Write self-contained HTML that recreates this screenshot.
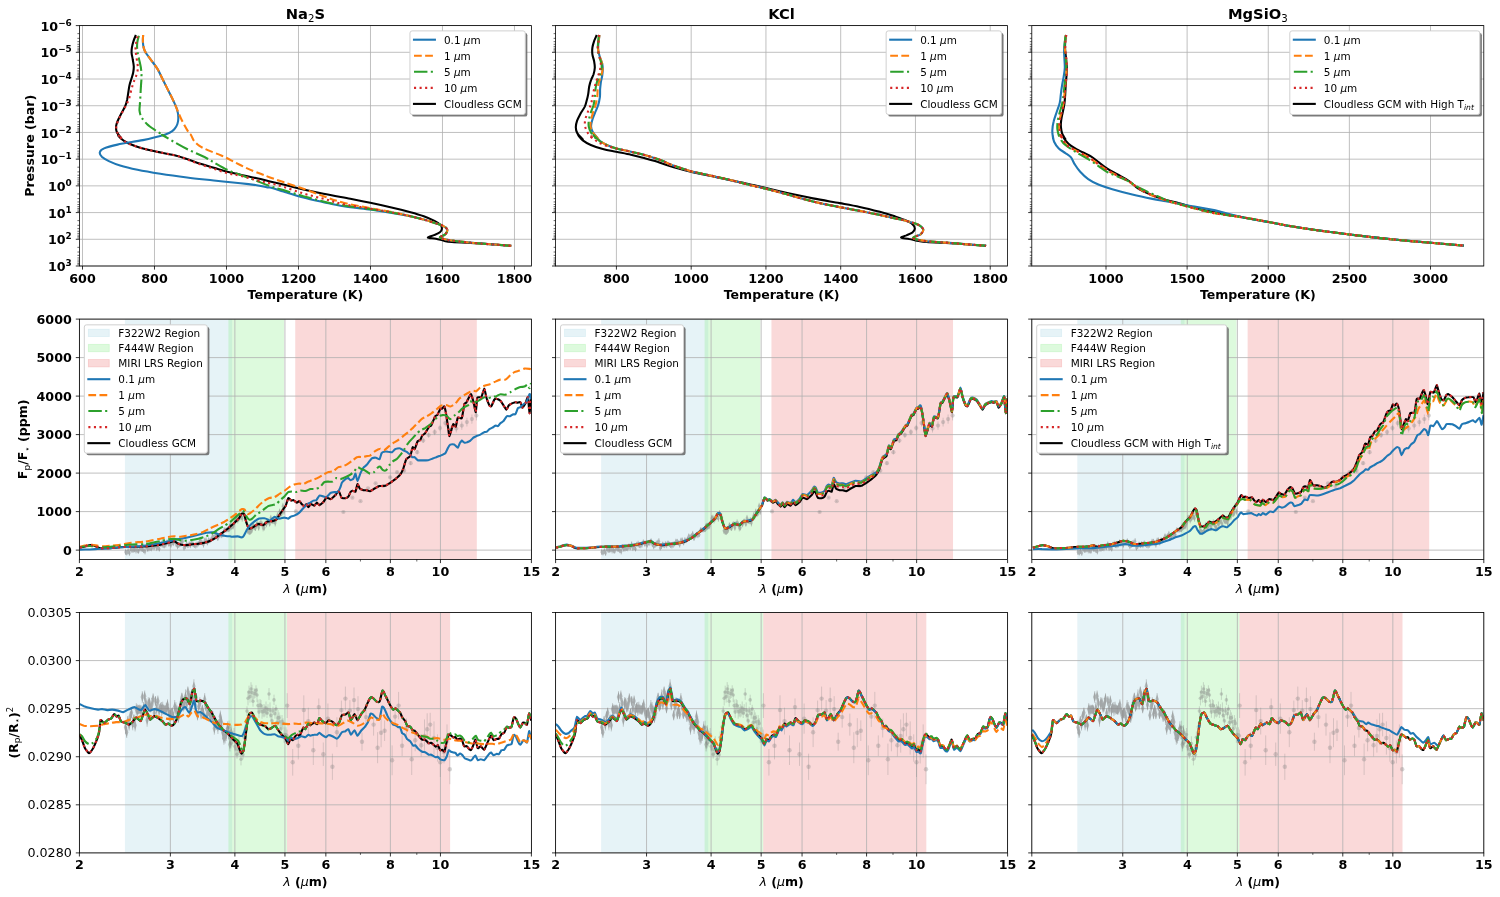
<!DOCTYPE html>
<html><head><meta charset="utf-8"><title>figure</title><style>html,body{margin:0;padding:0;background:#fff}svg text{white-space:pre}</style></head><body>
<svg width="1500" height="897" viewBox="0 0 1500 897" style="font-family:'DejaVu Sans','Liberation Sans',sans-serif;display:block">
<rect width="1500" height="897" fill="#fff"/>
<defs>
<clipPath id="clip00"><rect x="79.4" y="25.6" width="452" height="240.4"/></clipPath>
<clipPath id="clip01"><rect x="79.4" y="319.1" width="452" height="240.4"/></clipPath>
<clipPath id="clip02"><rect x="79.4" y="612.5" width="452" height="240.4"/></clipPath>
<clipPath id="clip10"><rect x="555.6" y="25.6" width="452" height="240.4"/></clipPath>
<clipPath id="clip11"><rect x="555.6" y="319.1" width="452" height="240.4"/></clipPath>
<clipPath id="clip12"><rect x="555.6" y="612.5" width="452" height="240.4"/></clipPath>
<clipPath id="clip20"><rect x="1031.8" y="25.6" width="452" height="240.4"/></clipPath>
<clipPath id="clip21"><rect x="1031.8" y="319.1" width="452" height="240.4"/></clipPath>
<clipPath id="clip22"><rect x="1031.8" y="612.5" width="452" height="240.4"/></clipPath>
<g id="dT" stroke="#7f7f7f" fill="#7f7f7f"><path d="M125.5 720.3V734.2M126.7 726.7V738M127.9 716V725.8M129.1 719V730.6M130.3 711.5V720.8M131.5 707.6V718.1M132.7 717.7V730.3M133.9 714.6V723.6M135.1 719V731.4M136.3 703.2V715.4M137.5 704.5V716.2M138.7 705.1V714.2M139.9 704.8V713.8M141.1 705.2V716.5M142.3 691.2V702.9M143.5 702V714.4M144.7 690.5V701.8M145.9 698V708.4M147.1 713.3V726.7M148.3 697.2V709.9M149.5 697.6V708M150.7 703.2V712.4M151.9 697.9V711.4M153.1 693.3V704.2M154.3 708.5V717.3M155.5 696.2V706.1M156.7 701.5V715.7M157.9 695.5V706.5M159.1 704V717.1M160.3 702.6V712.8M161.5 702V716.1M162.7 701.7V714.7M163.9 704.7V714.1M165.1 705.4V714.5M166.3 702.7V714.5M167.5 699.3V710.5M168.7 706.4V716M169.9 710.2V722.5M171.1 707.9V717.9M172.3 707.4V717.7M173.5 712.4V722.8M174.7 700V713.6M175.9 702.1V715.6M177.1 705.5V717.8M178.3 712.9V722.8M179.5 707.9V718.1M180.7 698.1V708.5M181.9 692.8V702M183.1 701.4V711.5M184.3 698V710.1M185.5 689.4V703.5M186.7 698.2V709.7M187.9 686.5V696.3M189.1 691.4V701.1M190.3 703.2V713.3M191.5 689.3V699.1M192.7 692.5V702.4M193.9 679.3V693.3M195.1 699.1V710.3M196.3 693V702.4M197.5 710.2V720.4M198.7 700V712.7M199.9 697.2V709.3M201.1 708.7V719.2M202.3 704.9V714.1M203.5 709.2V719.2M204.7 693.1V705.3M205.9 701.1V711.4M207.1 709.9V718.8M208.3 706.2V716.5M209.5 708V717.7M210.7 711.2V722M211.9 709.9V720.6M213.1 711.4V725.1M214.3 722.1V734.7M215.5 715.9V727.9M216.7 720.8V729.7M217.9 720.1V733.9M219.1 719.1V728M220.3 710.5V722.8M221.5 716.8V727.4M222.7 725.2V739.5M223.9 731.8V744.7M225.1 729.8V743.5M226.3 727.7V740.9M227.5 721.4V735.2M228.7 725.8V739.6M229.9 737.8V751.4M231.1 725.3V738.9" fill="none" stroke-width="0.9" opacity="0.45"/><path d="M125.5 722.2l1.7 5.0l-1.7 5.0l-1.7-5.0zM126.7 727.3l1.7 5.0l-1.7 5.0l-1.7-5.0zM127.9 715.9l1.7 5.0l-1.7 5.0l-1.7-5.0zM129.1 719.8l1.7 5.0l-1.7 5.0l-1.7-5.0zM130.3 711.1l1.7 5.0l-1.7 5.0l-1.7-5.0zM131.5 707.8l1.7 5.0l-1.7 5.0l-1.7-5.0zM132.7 719l1.7 5.0l-1.7 5.0l-1.7-5.0zM133.9 714.1l1.7 5.0l-1.7 5.0l-1.7-5.0zM135.1 720.2l1.7 5.0l-1.7 5.0l-1.7-5.0zM136.3 704.3l1.7 5.0l-1.7 5.0l-1.7-5.0zM137.5 705.3l1.7 5.0l-1.7 5.0l-1.7-5.0zM138.7 704.6l1.7 5.0l-1.7 5.0l-1.7-5.0zM139.9 704.3l1.7 5.0l-1.7 5.0l-1.7-5.0zM141.1 705.8l1.7 5.0l-1.7 5.0l-1.7-5.0zM142.3 692.1l1.7 5.0l-1.7 5.0l-1.7-5.0zM143.5 703.2l1.7 5.0l-1.7 5.0l-1.7-5.0zM144.7 691.2l1.7 5.0l-1.7 5.0l-1.7-5.0zM145.9 698.2l1.7 5.0l-1.7 5.0l-1.7-5.0zM147.1 715l1.7 5.0l-1.7 5.0l-1.7-5.0zM148.3 698.5l1.7 5.0l-1.7 5.0l-1.7-5.0zM149.5 697.8l1.7 5.0l-1.7 5.0l-1.7-5.0zM150.7 702.8l1.7 5.0l-1.7 5.0l-1.7-5.0zM151.9 699.7l1.7 5.0l-1.7 5.0l-1.7-5.0zM153.1 693.8l1.7 5.0l-1.7 5.0l-1.7-5.0zM154.3 707.9l1.7 5.0l-1.7 5.0l-1.7-5.0zM155.5 696.1l1.7 5.0l-1.7 5.0l-1.7-5.0zM156.7 703.6l1.7 5.0l-1.7 5.0l-1.7-5.0zM157.9 696l1.7 5.0l-1.7 5.0l-1.7-5.0zM159.1 705.6l1.7 5.0l-1.7 5.0l-1.7-5.0zM160.3 702.7l1.7 5.0l-1.7 5.0l-1.7-5.0zM161.5 704l1.7 5.0l-1.7 5.0l-1.7-5.0zM162.7 703.2l1.7 5.0l-1.7 5.0l-1.7-5.0zM163.9 704.4l1.7 5.0l-1.7 5.0l-1.7-5.0zM165.1 704.9l1.7 5.0l-1.7 5.0l-1.7-5.0zM166.3 703.6l1.7 5.0l-1.7 5.0l-1.7-5.0zM167.5 699.9l1.7 5.0l-1.7 5.0l-1.7-5.0zM168.7 706.2l1.7 5.0l-1.7 5.0l-1.7-5.0zM169.9 711.3l1.7 5.0l-1.7 5.0l-1.7-5.0zM171.1 707.9l1.7 5.0l-1.7 5.0l-1.7-5.0zM172.3 707.5l1.7 5.0l-1.7 5.0l-1.7-5.0zM173.5 712.6l1.7 5.0l-1.7 5.0l-1.7-5.0zM174.7 701.8l1.7 5.0l-1.7 5.0l-1.7-5.0zM175.9 703.9l1.7 5.0l-1.7 5.0l-1.7-5.0zM177.1 706.7l1.7 5.0l-1.7 5.0l-1.7-5.0zM178.3 712.8l1.7 5.0l-1.7 5.0l-1.7-5.0zM179.5 708l1.7 5.0l-1.7 5.0l-1.7-5.0zM180.7 698.3l1.7 5.0l-1.7 5.0l-1.7-5.0zM181.9 692.4l1.7 5.0l-1.7 5.0l-1.7-5.0zM183.1 701.5l1.7 5.0l-1.7 5.0l-1.7-5.0zM184.3 699.1l1.7 5.0l-1.7 5.0l-1.7-5.0zM185.5 691.5l1.7 5.0l-1.7 5.0l-1.7-5.0zM186.7 699l1.7 5.0l-1.7 5.0l-1.7-5.0zM187.9 686.4l1.7 5.0l-1.7 5.0l-1.7-5.0zM189.1 691.2l1.7 5.0l-1.7 5.0l-1.7-5.0zM190.3 703.3l1.7 5.0l-1.7 5.0l-1.7-5.0zM191.5 689.2l1.7 5.0l-1.7 5.0l-1.7-5.0zM192.7 692.5l1.7 5.0l-1.7 5.0l-1.7-5.0zM193.9 681.3l1.7 5.0l-1.7 5.0l-1.7-5.0zM195.1 699.7l1.7 5.0l-1.7 5.0l-1.7-5.0zM196.3 692.7l1.7 5.0l-1.7 5.0l-1.7-5.0zM197.5 710.3l1.7 5.0l-1.7 5.0l-1.7-5.0zM198.7 701.4l1.7 5.0l-1.7 5.0l-1.7-5.0zM199.9 698.3l1.7 5.0l-1.7 5.0l-1.7-5.0zM201.1 709l1.7 5.0l-1.7 5.0l-1.7-5.0zM202.3 704.5l1.7 5.0l-1.7 5.0l-1.7-5.0zM203.5 709.2l1.7 5.0l-1.7 5.0l-1.7-5.0zM204.7 694.2l1.7 5.0l-1.7 5.0l-1.7-5.0zM205.9 701.2l1.7 5.0l-1.7 5.0l-1.7-5.0zM207.1 709.3l1.7 5.0l-1.7 5.0l-1.7-5.0zM208.3 706.3l1.7 5.0l-1.7 5.0l-1.7-5.0zM209.5 707.9l1.7 5.0l-1.7 5.0l-1.7-5.0zM210.7 711.6l1.7 5.0l-1.7 5.0l-1.7-5.0zM211.9 710.3l1.7 5.0l-1.7 5.0l-1.7-5.0zM213.1 713.2l1.7 5.0l-1.7 5.0l-1.7-5.0zM214.3 723.4l1.7 5.0l-1.7 5.0l-1.7-5.0zM215.5 716.9l1.7 5.0l-1.7 5.0l-1.7-5.0zM216.7 720.3l1.7 5.0l-1.7 5.0l-1.7-5.0zM217.9 722l1.7 5.0l-1.7 5.0l-1.7-5.0zM219.1 718.5l1.7 5.0l-1.7 5.0l-1.7-5.0zM220.3 711.6l1.7 5.0l-1.7 5.0l-1.7-5.0zM221.5 717.1l1.7 5.0l-1.7 5.0l-1.7-5.0zM222.7 727.3l1.7 5.0l-1.7 5.0l-1.7-5.0zM223.9 733.2l1.7 5.0l-1.7 5.0l-1.7-5.0zM225.1 731.6l1.7 5.0l-1.7 5.0l-1.7-5.0zM226.3 729.3l1.7 5.0l-1.7 5.0l-1.7-5.0zM227.5 723.3l1.7 5.0l-1.7 5.0l-1.7-5.0zM228.7 727.7l1.7 5.0l-1.7 5.0l-1.7-5.0zM229.9 739.6l1.7 5.0l-1.7 5.0l-1.7-5.0zM231.1 727.1l1.7 5.0l-1.7 5.0l-1.7-5.0z" stroke="none" opacity="0.5"/><path d="M229.0 720.7V733.9M230.0 733.1V742.5M231.0 737.9V748.3M232.0 732.2V746.5M233.0 731.3V743.7M234.0 728.0V741.1M235.0 741.6V751.2M236.0 741.2V756.1M237.0 749.8V758.7M238.0 742.6V755.9M239.0 736.3V750.7M240.0 747.7V756.3M241.0 753.3V765.4M242.0 744.8V753.8M243.0 750.2V759.4M244.0 731.5V742.9M245.0 731.7V744.6M246.0 722.1V731.7M247.0 706.3V715.9M248.0 691.2V705.4M249.0 685.7V698.4M250.0 690.8V702.6M251.0 682.2V695.8M252.0 684.8V700.2M253.0 695.7V706.7M254.0 688.1V699.1M255.0 688.8V698.0M256.0 685.3V695.4M257.0 687.9V702.1M258.0 699.6V711.6M259.0 706.3V717.8M260.0 699.1V711.2M261.0 700.1V711.3M262.0 704.7V718.7M263.0 707.0V716.6M264.0 704.0V717.4M265.0 705.6V716.5M266.0 701.5V714.5M267.0 708.1V718.0M268.0 704.2V714.7M269.0 688.1V699.9M270.0 702.4V717.7M271.0 709.7V720.7M272.0 716.0V725.7M273.0 706.7V715.1M274.0 694.7V705.0M275.0 708.6V718.7M276.0 704.8V713.2M277.0 714.7V730.1M278.0 710.1V725.7M279.0 712.4V723.2M280.0 714.9V729.0M281.0 723.8V733.9M282.0 715.1V727.3M283.0 718.2V728.5M284.0 727.5V742.7M285.0 732.7V743.2M286.0 727.3V742.0M287.0 729.6V741.7" fill="none" stroke-width="0.9" opacity="0.33"/><g stroke="none" opacity="0.35"><circle cx="229.0" cy="727.3" r="1.8"/><circle cx="230.0" cy="737.8" r="1.8"/><circle cx="231.0" cy="743.1" r="1.8"/><circle cx="232.0" cy="739.4" r="1.8"/><circle cx="233.0" cy="737.5" r="1.8"/><circle cx="234.0" cy="734.6" r="1.8"/><circle cx="235.0" cy="746.4" r="1.8"/><circle cx="236.0" cy="748.7" r="1.8"/><circle cx="237.0" cy="754.3" r="1.8"/><circle cx="238.0" cy="749.3" r="1.8"/><circle cx="239.0" cy="743.5" r="1.8"/><circle cx="240.0" cy="752.0" r="1.8"/><circle cx="241.0" cy="759.3" r="1.8"/><circle cx="242.0" cy="749.3" r="1.8"/><circle cx="243.0" cy="754.8" r="1.8"/><circle cx="244.0" cy="737.2" r="1.8"/><circle cx="245.0" cy="738.1" r="1.8"/><circle cx="246.0" cy="726.9" r="1.8"/><circle cx="247.0" cy="711.1" r="1.8"/><circle cx="248.0" cy="698.3" r="1.8"/><circle cx="249.0" cy="692.0" r="1.8"/><circle cx="250.0" cy="696.7" r="1.8"/><circle cx="251.0" cy="689.0" r="1.8"/><circle cx="252.0" cy="692.5" r="1.8"/><circle cx="253.0" cy="701.2" r="1.8"/><circle cx="254.0" cy="693.6" r="1.8"/><circle cx="255.0" cy="693.4" r="1.8"/><circle cx="256.0" cy="690.3" r="1.8"/><circle cx="257.0" cy="695.0" r="1.8"/><circle cx="258.0" cy="705.6" r="1.8"/><circle cx="259.0" cy="712.1" r="1.8"/><circle cx="260.0" cy="705.1" r="1.8"/><circle cx="261.0" cy="705.7" r="1.8"/><circle cx="262.0" cy="711.7" r="1.8"/><circle cx="263.0" cy="711.8" r="1.8"/><circle cx="264.0" cy="710.7" r="1.8"/><circle cx="265.0" cy="711.1" r="1.8"/><circle cx="266.0" cy="708.0" r="1.8"/><circle cx="267.0" cy="713.0" r="1.8"/><circle cx="268.0" cy="709.5" r="1.8"/><circle cx="269.0" cy="694.0" r="1.8"/><circle cx="270.0" cy="710.1" r="1.8"/><circle cx="271.0" cy="715.2" r="1.8"/><circle cx="272.0" cy="720.9" r="1.8"/><circle cx="273.0" cy="710.9" r="1.8"/><circle cx="274.0" cy="699.9" r="1.8"/><circle cx="275.0" cy="713.7" r="1.8"/><circle cx="276.0" cy="709.0" r="1.8"/><circle cx="277.0" cy="722.4" r="1.8"/><circle cx="278.0" cy="717.9" r="1.8"/><circle cx="279.0" cy="717.8" r="1.8"/><circle cx="280.0" cy="722.0" r="1.8"/><circle cx="281.0" cy="728.9" r="1.8"/><circle cx="282.0" cy="721.2" r="1.8"/><circle cx="283.0" cy="723.4" r="1.8"/><circle cx="284.0" cy="735.1" r="1.8"/><circle cx="285.0" cy="737.9" r="1.8"/><circle cx="286.0" cy="734.7" r="1.8"/><circle cx="287.0" cy="735.7" r="1.8"/></g><path d="M287.2 693.2V718.0M292.7 749.0V775.6M298.3 732.0V759.4M303.8 695.3V724.9M308.3 707.7V734.5M313.3 735.4V765.0M318.8 698.5V715.7M323.3 742.5V765.9M327.9 703.5V733.7M332.4 753.7V779.9M336.9 717.3V747.1M341.4 700.6V719.6M345.4 686.6V710.6M349.9 700.1V721.1M354.0 687.5V712.7M358.0 696.2V722.0M362.0 732.7V750.7M366.0 706.6V727.6M373.6 713.6V735.6M377.6 732.2V763.2M381.1 718.2V747.2M384.6 720.4V741.0M392.1 745.4V775.2M395.1 706.3V726.9M398.6 691.9V719.3M402.1 735.4V756.0M406.5 718.5V737.5M411.7 743.6V775.0M415.2 729.1V751.3M421.2 734.0V756.4M424.5 719.4V752.6M427.2 713.3V745.1M430.2 712.8V736.4M434.0 721.4V754.6M437.5 734.3V761.7M440.3 747.6V777.0M444.0 740.6V763.4M447.0 724.4V757.6M449.8 754.4V784.2" fill="none" stroke-width="1.0" opacity="0.28"/><g stroke="none" opacity="0.32"><circle cx="287.2" cy="705.6" r="2.2"/><circle cx="292.7" cy="762.3" r="2.2"/><circle cx="298.3" cy="745.7" r="2.2"/><circle cx="303.8" cy="710.1" r="2.2"/><circle cx="308.3" cy="721.1" r="2.2"/><circle cx="313.3" cy="750.2" r="2.2"/><circle cx="318.8" cy="707.1" r="2.2"/><circle cx="323.3" cy="754.2" r="2.2"/><circle cx="327.9" cy="718.6" r="2.2"/><circle cx="332.4" cy="766.8" r="2.2"/><circle cx="336.9" cy="732.2" r="2.2"/><circle cx="341.4" cy="710.1" r="2.2"/><circle cx="345.4" cy="698.6" r="2.2"/><circle cx="349.9" cy="710.6" r="2.2"/><circle cx="354.0" cy="700.1" r="2.2"/><circle cx="358.0" cy="709.1" r="2.2"/><circle cx="362.0" cy="741.7" r="2.2"/><circle cx="366.0" cy="717.1" r="2.2"/><circle cx="373.6" cy="724.6" r="2.2"/><circle cx="377.6" cy="747.7" r="2.2"/><circle cx="381.1" cy="732.7" r="2.2"/><circle cx="384.6" cy="730.7" r="2.2"/><circle cx="392.1" cy="760.3" r="2.2"/><circle cx="395.1" cy="716.6" r="2.2"/><circle cx="398.6" cy="705.6" r="2.2"/><circle cx="402.1" cy="745.7" r="2.2"/><circle cx="406.5" cy="728.0" r="2.2"/><circle cx="411.7" cy="759.3" r="2.2"/><circle cx="415.2" cy="740.2" r="2.2"/><circle cx="421.2" cy="745.2" r="2.2"/><circle cx="424.5" cy="736.0" r="2.2"/><circle cx="427.2" cy="729.2" r="2.2"/><circle cx="430.2" cy="724.6" r="2.2"/><circle cx="434.0" cy="738.0" r="2.2"/><circle cx="437.5" cy="748.0" r="2.2"/><circle cx="440.3" cy="762.3" r="2.2"/><circle cx="444.0" cy="752.0" r="2.2"/><circle cx="447.0" cy="741.0" r="2.2"/><circle cx="449.8" cy="769.3" r="2.2"/></g></g><g id="dE" stroke="#7f7f7f" fill="#7f7f7f"><path d="M125.5 549.2V555M126.8 550V555.4M128.1 548V554.2M129.4 550.3V555.8M130.7 547.2V551.4M132 547.7V552.8M133.3 546.6V552.8M134.6 547.4V552.2M135.9 546.7V553.5M137.2 547.3V553.4M138.5 549.1V553.4M139.8 545.7V550.7M141.1 545.4V552M142.4 546.8V551.9M143.7 548.5V552.9M145 547.9V554.5M146.3 544.4V549.4M147.6 546.3V551.7M148.9 545.2V551.6M150.2 546V550.8M151.5 544.6V551.3M152.8 543.3V549.8M154.1 544.5V550.2M155.4 541.4V547.5M156.7 544.8V551.1M158 545.3V549.9M159.3 546.3V551.5M160.6 541.8V546.9M161.9 540.7V547.4M163.2 542.9V548.1M164.5 542.3V548.4M165.8 541V547.8M167.1 539.4V545M168.4 540.6V546.7M169.7 540.7V546.4M171 542V547.7M172.3 540.3V545.3M173.6 539.6V546.1M174.9 538.5V543.5M176.2 542.4V546.8M177.5 543.2V549.3M178.8 542.7V547.8M180.1 540.4V546.9M181.4 539.7V546.3M182.7 538V544.7M184 544.8V550.5M185.3 544V549.1M186.6 541.7V546.5M187.9 543.6V547.9M189.2 541.2V547.4M190.5 541.8V548.2M191.8 540.7V545M193.1 541.7V547M194.4 543.2V547.8M195.7 542.2V548.7M197 541.3V548M198.3 541.5V546.3M199.6 538.7V545.3M200.9 539V543.2M202.2 540.5V545.3M203.5 541.2V547.7M204.8 537.6V543.4M206.1 537.4V543.7M207.4 540.3V545.3M208.7 537.2V543.3M210 538.7V542.8M211.3 536.8V541.1M212.6 533.5V539.2M213.9 534.5V540.1M215.2 533.5V538.4M216.5 530.9V537.4M217.8 536.2V540.7M219.1 533.8V538M220.4 532V537.4M221.7 532.3V538.2M223 532.5V536.9M224.3 527.4V532.8M225.6 527.7V532.4M226.9 527.3V532.4M228.2 526.1V532.1M229.5 523.7V529.7M230.8 522.6V529.1M229 527.3V531.8M230.1 523.4V530.7M231.2 523.7V530M232.3 523.8V529.2M233.4 522.2V529.3M234.5 519.7V525.1M235.6 515V521.4M236.7 514.7V521.7M237.8 516.6V523.5M238.9 515.4V521.5M240 513.4V520.2M241.1 513.7V519.8M242.2 514.6V521.8M243.3 510.2V516.3M244.4 512.3V517.5M245.5 513.7V520.9M246.6 518.7V525.8M247.7 527.6V533.9M248.8 528.4V534.7M249.9 530V535M251 529.2V533.8M252.1 525.7V532.8M253.2 522.4V528M254.3 524V530.3M255.4 525.5V531M256.5 521.8V527.9M257.6 521.2V527.2M258.7 525V530.7M259.8 521.5V526.2M260.9 519.3V526.5M262 521.3V527M263.1 524.3V531.4M264.2 524.9V530.5M265.3 520.9V525.7M266.4 521.3V527.3M267.5 518.8V524.3M268.6 518.8V523.8M269.7 521.8V526.4M270.8 514.9V521.2M271.9 518.5V523.6M273 518.6V524.2M274.1 517.1V523.9M275.2 519.6V526.5M276.3 516.2V522.1M277.4 512.1V519.3M278.5 513.3V519.9M279.6 508.6V514.9M280.7 511.7V517.1M281.8 509.9V516.1M282.9 502.8V509.9M284 508.5V514.8" fill="none" stroke-width="0.9" opacity="0.4"/><path d="M125.5 549.4l1.5 2.7l-1.5 2.7l-1.5-2.7zM126.8 550l1.5 2.7l-1.5 2.7l-1.5-2.7zM128.1 548.4l1.5 2.7l-1.5 2.7l-1.5-2.7zM129.4 550.4l1.5 2.7l-1.5 2.7l-1.5-2.7zM130.7 546.6l1.5 2.7l-1.5 2.7l-1.5-2.7zM132 547.6l1.5 2.7l-1.5 2.7l-1.5-2.7zM133.3 547l1.5 2.7l-1.5 2.7l-1.5-2.7zM134.6 547.1l1.5 2.7l-1.5 2.7l-1.5-2.7zM135.9 547.4l1.5 2.7l-1.5 2.7l-1.5-2.7zM137.2 547.6l1.5 2.7l-1.5 2.7l-1.5-2.7zM138.5 548.5l1.5 2.7l-1.5 2.7l-1.5-2.7zM139.8 545.5l1.5 2.7l-1.5 2.7l-1.5-2.7zM141.1 546l1.5 2.7l-1.5 2.7l-1.5-2.7zM142.4 546.6l1.5 2.7l-1.5 2.7l-1.5-2.7zM143.7 548l1.5 2.7l-1.5 2.7l-1.5-2.7zM145 548.5l1.5 2.7l-1.5 2.7l-1.5-2.7zM146.3 544.2l1.5 2.7l-1.5 2.7l-1.5-2.7zM147.6 546.3l1.5 2.7l-1.5 2.7l-1.5-2.7zM148.9 545.7l1.5 2.7l-1.5 2.7l-1.5-2.7zM150.2 545.7l1.5 2.7l-1.5 2.7l-1.5-2.7zM151.5 545.3l1.5 2.7l-1.5 2.7l-1.5-2.7zM152.8 543.8l1.5 2.7l-1.5 2.7l-1.5-2.7zM154.1 544.6l1.5 2.7l-1.5 2.7l-1.5-2.7zM155.4 541.7l1.5 2.7l-1.5 2.7l-1.5-2.7zM156.7 545.2l1.5 2.7l-1.5 2.7l-1.5-2.7zM158 544.9l1.5 2.7l-1.5 2.7l-1.5-2.7zM159.3 546.2l1.5 2.7l-1.5 2.7l-1.5-2.7zM160.6 541.7l1.5 2.7l-1.5 2.7l-1.5-2.7zM161.9 541.3l1.5 2.7l-1.5 2.7l-1.5-2.7zM163.2 542.8l1.5 2.7l-1.5 2.7l-1.5-2.7zM164.5 542.6l1.5 2.7l-1.5 2.7l-1.5-2.7zM165.8 541.7l1.5 2.7l-1.5 2.7l-1.5-2.7zM167.1 539.5l1.5 2.7l-1.5 2.7l-1.5-2.7zM168.4 540.9l1.5 2.7l-1.5 2.7l-1.5-2.7zM169.7 540.8l1.5 2.7l-1.5 2.7l-1.5-2.7zM171 542.1l1.5 2.7l-1.5 2.7l-1.5-2.7zM172.3 540.1l1.5 2.7l-1.5 2.7l-1.5-2.7zM173.6 540.1l1.5 2.7l-1.5 2.7l-1.5-2.7zM174.9 538.3l1.5 2.7l-1.5 2.7l-1.5-2.7zM176.2 541.9l1.5 2.7l-1.5 2.7l-1.5-2.7zM177.5 543.5l1.5 2.7l-1.5 2.7l-1.5-2.7zM178.8 542.6l1.5 2.7l-1.5 2.7l-1.5-2.7zM180.1 541l1.5 2.7l-1.5 2.7l-1.5-2.7zM181.4 540.3l1.5 2.7l-1.5 2.7l-1.5-2.7zM182.7 538.7l1.5 2.7l-1.5 2.7l-1.5-2.7zM184 545l1.5 2.7l-1.5 2.7l-1.5-2.7zM185.3 543.9l1.5 2.7l-1.5 2.7l-1.5-2.7zM186.6 541.4l1.5 2.7l-1.5 2.7l-1.5-2.7zM187.9 543l1.5 2.7l-1.5 2.7l-1.5-2.7zM189.2 541.6l1.5 2.7l-1.5 2.7l-1.5-2.7zM190.5 542.3l1.5 2.7l-1.5 2.7l-1.5-2.7zM191.8 540.2l1.5 2.7l-1.5 2.7l-1.5-2.7zM193.1 541.6l1.5 2.7l-1.5 2.7l-1.5-2.7zM194.4 542.8l1.5 2.7l-1.5 2.7l-1.5-2.7zM195.7 542.7l1.5 2.7l-1.5 2.7l-1.5-2.7zM197 541.9l1.5 2.7l-1.5 2.7l-1.5-2.7zM198.3 541.2l1.5 2.7l-1.5 2.7l-1.5-2.7zM199.6 539.3l1.5 2.7l-1.5 2.7l-1.5-2.7zM200.9 538.4l1.5 2.7l-1.5 2.7l-1.5-2.7zM202.2 540.2l1.5 2.7l-1.5 2.7l-1.5-2.7zM203.5 541.8l1.5 2.7l-1.5 2.7l-1.5-2.7zM204.8 537.8l1.5 2.7l-1.5 2.7l-1.5-2.7zM206.1 537.9l1.5 2.7l-1.5 2.7l-1.5-2.7zM207.4 540.1l1.5 2.7l-1.5 2.7l-1.5-2.7zM208.7 537.6l1.5 2.7l-1.5 2.7l-1.5-2.7zM210 538l1.5 2.7l-1.5 2.7l-1.5-2.7zM211.3 536.3l1.5 2.7l-1.5 2.7l-1.5-2.7zM212.6 533.6l1.5 2.7l-1.5 2.7l-1.5-2.7zM213.9 534.6l1.5 2.7l-1.5 2.7l-1.5-2.7zM215.2 533.3l1.5 2.7l-1.5 2.7l-1.5-2.7zM216.5 531.4l1.5 2.7l-1.5 2.7l-1.5-2.7zM217.8 535.7l1.5 2.7l-1.5 2.7l-1.5-2.7zM219.1 533.2l1.5 2.7l-1.5 2.7l-1.5-2.7zM220.4 532l1.5 2.7l-1.5 2.7l-1.5-2.7zM221.7 532.6l1.5 2.7l-1.5 2.7l-1.5-2.7zM223 532l1.5 2.7l-1.5 2.7l-1.5-2.7zM224.3 527.4l1.5 2.7l-1.5 2.7l-1.5-2.7zM225.6 527.4l1.5 2.7l-1.5 2.7l-1.5-2.7zM226.9 527.2l1.5 2.7l-1.5 2.7l-1.5-2.7zM228.2 526.4l1.5 2.7l-1.5 2.7l-1.5-2.7zM229.5 524l1.5 2.7l-1.5 2.7l-1.5-2.7zM230.8 523.1l1.5 2.7l-1.5 2.7l-1.5-2.7zM229 526.9l1.5 2.7l-1.5 2.7l-1.5-2.7zM230.1 524.4l1.5 2.7l-1.5 2.7l-1.5-2.7zM231.2 524.2l1.5 2.7l-1.5 2.7l-1.5-2.7zM232.3 523.8l1.5 2.7l-1.5 2.7l-1.5-2.7zM233.4 523.1l1.5 2.7l-1.5 2.7l-1.5-2.7zM234.5 519.7l1.5 2.7l-1.5 2.7l-1.5-2.7zM235.6 515.5l1.5 2.7l-1.5 2.7l-1.5-2.7zM236.7 515.5l1.5 2.7l-1.5 2.7l-1.5-2.7zM237.8 517.4l1.5 2.7l-1.5 2.7l-1.5-2.7zM238.9 515.8l1.5 2.7l-1.5 2.7l-1.5-2.7zM240 514.1l1.5 2.7l-1.5 2.7l-1.5-2.7zM241.1 514.1l1.5 2.7l-1.5 2.7l-1.5-2.7zM242.2 515.5l1.5 2.7l-1.5 2.7l-1.5-2.7zM243.3 510.5l1.5 2.7l-1.5 2.7l-1.5-2.7zM244.4 512.2l1.5 2.7l-1.5 2.7l-1.5-2.7zM245.5 514.6l1.5 2.7l-1.5 2.7l-1.5-2.7zM246.6 519.5l1.5 2.7l-1.5 2.7l-1.5-2.7zM247.7 528l1.5 2.7l-1.5 2.7l-1.5-2.7zM248.8 528.8l1.5 2.7l-1.5 2.7l-1.5-2.7zM249.9 529.8l1.5 2.7l-1.5 2.7l-1.5-2.7zM251 528.8l1.5 2.7l-1.5 2.7l-1.5-2.7zM252.1 526.5l1.5 2.7l-1.5 2.7l-1.5-2.7zM253.2 522.5l1.5 2.7l-1.5 2.7l-1.5-2.7zM254.3 524.4l1.5 2.7l-1.5 2.7l-1.5-2.7zM255.4 525.5l1.5 2.7l-1.5 2.7l-1.5-2.7zM256.5 522.1l1.5 2.7l-1.5 2.7l-1.5-2.7zM257.6 521.5l1.5 2.7l-1.5 2.7l-1.5-2.7zM258.7 525.1l1.5 2.7l-1.5 2.7l-1.5-2.7zM259.8 521.1l1.5 2.7l-1.5 2.7l-1.5-2.7zM260.9 520.2l1.5 2.7l-1.5 2.7l-1.5-2.7zM262 521.5l1.5 2.7l-1.5 2.7l-1.5-2.7zM263.1 525.1l1.5 2.7l-1.5 2.7l-1.5-2.7zM264.2 525l1.5 2.7l-1.5 2.7l-1.5-2.7zM265.3 520.6l1.5 2.7l-1.5 2.7l-1.5-2.7zM266.4 521.6l1.5 2.7l-1.5 2.7l-1.5-2.7zM267.5 518.9l1.5 2.7l-1.5 2.7l-1.5-2.7zM268.6 518.6l1.5 2.7l-1.5 2.7l-1.5-2.7zM269.7 521.4l1.5 2.7l-1.5 2.7l-1.5-2.7zM270.8 515.4l1.5 2.7l-1.5 2.7l-1.5-2.7zM271.9 518.4l1.5 2.7l-1.5 2.7l-1.5-2.7zM273 518.7l1.5 2.7l-1.5 2.7l-1.5-2.7zM274.1 517.8l1.5 2.7l-1.5 2.7l-1.5-2.7zM275.2 520.4l1.5 2.7l-1.5 2.7l-1.5-2.7zM276.3 516.4l1.5 2.7l-1.5 2.7l-1.5-2.7zM277.4 513l1.5 2.7l-1.5 2.7l-1.5-2.7zM278.5 513.9l1.5 2.7l-1.5 2.7l-1.5-2.7zM279.6 509.1l1.5 2.7l-1.5 2.7l-1.5-2.7zM280.7 511.7l1.5 2.7l-1.5 2.7l-1.5-2.7zM281.8 510.3l1.5 2.7l-1.5 2.7l-1.5-2.7zM282.9 503.6l1.5 2.7l-1.5 2.7l-1.5-2.7zM284 508.9l1.5 2.7l-1.5 2.7l-1.5-2.7z" stroke="none" opacity="0.42"/><path d="M295.8 510.9V511.9M343.4 511.5V512.5M352.4 497.2V498.2M360.5 500.7V501.7M368.0 487.8V488.8M375.6 482.8V483.8M383.0 485.4V486.6M390.1 476.3V478.3M397.1 470.9V473.5M404.1 469.1V472.3M410.7 461.3V465.1M417.2 450.0V454.4M423.2 438.2V443.0M428.7 432.4V437.8M434.7 429.1V435.1M440.0 424.8V431.2M445.3 419.7V426.5M451.0 426.3V433.7M456.3 424.7V432.5M461.8 421.4V429.8M466.9 417.7V426.5M471.9 414.5V423.7M476.4 410.8V420.4" fill="none" stroke-width="1" opacity="0.3"/><g stroke="none" opacity="0.32"><circle cx="295.8" cy="511.4" r="2.1"/><circle cx="343.4" cy="512.0" r="2.1"/><circle cx="352.4" cy="497.7" r="2.1"/><circle cx="360.5" cy="501.2" r="2.1"/><circle cx="368.0" cy="488.3" r="2.1"/><circle cx="375.6" cy="483.3" r="2.1"/><circle cx="383.0" cy="486.0" r="2.1"/><circle cx="390.1" cy="477.3" r="2.1"/><circle cx="397.1" cy="472.2" r="2.1"/><circle cx="404.1" cy="470.7" r="2.1"/><circle cx="410.7" cy="463.2" r="2.1"/><circle cx="417.2" cy="452.2" r="2.1"/><circle cx="423.2" cy="440.6" r="2.1"/><circle cx="428.7" cy="435.1" r="2.1"/><circle cx="434.7" cy="432.1" r="2.1"/><circle cx="440.0" cy="428.0" r="2.1"/><circle cx="445.3" cy="423.1" r="2.1"/><circle cx="451.0" cy="430.0" r="2.1"/><circle cx="456.3" cy="428.6" r="2.1"/><circle cx="461.8" cy="425.6" r="2.1"/><circle cx="466.9" cy="422.1" r="2.1"/><circle cx="471.9" cy="419.1" r="2.1"/><circle cx="476.4" cy="415.6" r="2.1"/></g></g>
</defs>
<line x1="82.5" y1="25.6" x2="82.5" y2="266" stroke="#b0b0b0" stroke-width="0.8"/>
<line x1="154.49" y1="25.6" x2="154.49" y2="266" stroke="#b0b0b0" stroke-width="0.8"/>
<line x1="226.49" y1="25.6" x2="226.49" y2="266" stroke="#b0b0b0" stroke-width="0.8"/>
<line x1="298.49" y1="25.6" x2="298.49" y2="266" stroke="#b0b0b0" stroke-width="0.8"/>
<line x1="370.49" y1="25.6" x2="370.49" y2="266" stroke="#b0b0b0" stroke-width="0.8"/>
<line x1="442.48" y1="25.6" x2="442.48" y2="266" stroke="#b0b0b0" stroke-width="0.8"/>
<line x1="514.48" y1="25.6" x2="514.48" y2="266" stroke="#b0b0b0" stroke-width="0.8"/>
<line x1="79.4" y1="25.6" x2="531.4" y2="25.6" stroke="#b0b0b0" stroke-width="0.8"/>
<line x1="79.4" y1="52.31" x2="531.4" y2="52.31" stroke="#b0b0b0" stroke-width="0.8"/>
<line x1="79.4" y1="79.02" x2="531.4" y2="79.02" stroke="#b0b0b0" stroke-width="0.8"/>
<line x1="79.4" y1="105.73" x2="531.4" y2="105.73" stroke="#b0b0b0" stroke-width="0.8"/>
<line x1="79.4" y1="132.44" x2="531.4" y2="132.44" stroke="#b0b0b0" stroke-width="0.8"/>
<line x1="79.4" y1="159.16" x2="531.4" y2="159.16" stroke="#b0b0b0" stroke-width="0.8"/>
<line x1="79.4" y1="185.87" x2="531.4" y2="185.87" stroke="#b0b0b0" stroke-width="0.8"/>
<line x1="79.4" y1="212.58" x2="531.4" y2="212.58" stroke="#b0b0b0" stroke-width="0.8"/>
<line x1="79.4" y1="239.29" x2="531.4" y2="239.29" stroke="#b0b0b0" stroke-width="0.8"/>
<line x1="79.4" y1="266" x2="531.4" y2="266" stroke="#b0b0b0" stroke-width="0.8"/>
<path d="M135.9 35C135.5 36 134.2 38.9 133.5 41.1C132.8 43.2 132.2 45.7 131.9 47.7C131.6 49.7 131.5 51.1 131.6 53.1C131.8 55.1 132.5 57.6 132.8 59.8C133.2 62 133.7 64.4 133.8 66.5C133.8 68.6 133.6 70.5 133.2 72.5C132.9 74.5 132.1 76.4 131.5 78.5C130.9 80.6 130.1 82.7 129.5 85.2C128.9 87.7 128.6 90.8 128.2 93.2C127.8 95.7 127.5 97.9 127.1 99.9C126.6 101.9 126.3 103.3 125.5 105.3C124.7 107.3 123.4 109.5 122.1 112C120.9 114.4 119.1 117.6 118.1 120C117.1 122.3 116.3 124 116.1 126C115.9 128 115.9 129.9 116.8 132C117.7 134.1 121.2 138.2 121.5 138.7C121.7 139.2 118.1 134.9 118.1 135C118.1 135.1 119.8 137.6 121.5 139C123.1 140.4 125 141.8 128.2 143.3C131.3 144.7 135.7 146.4 140.2 147.7C144.7 149 148.9 150 154.9 151.3C160.9 152.7 171 154.4 176.3 155.7C181.7 157 183 157.7 187 159.1C191 160.4 195.9 162.3 200.4 163.8C204.9 165.2 209.3 166.4 213.8 167.8C218.2 169.1 222.7 170.6 227.2 171.8C231.6 172.9 235 173.5 240.5 174.7C246.1 176 255.7 178 260.6 179.1C265.5 180.3 266.2 180.5 270 181.4C273.8 182.3 277.8 183.2 283.4 184.5C289 185.9 296.8 187.9 303.4 189.5C310.1 191 315.7 192.2 323.5 193.7C331.3 195.3 342.5 197.3 350.3 198.8C358.1 200.3 363.6 201.4 370.3 202.8C377 204.2 383.7 205.7 390.4 207.3C397.1 208.8 404.9 210.7 410.5 212.2C416 213.7 419.8 214.8 423.8 216.2C427.9 217.7 431.8 219.5 434.5 220.9C437.3 222.4 439.3 223.6 440.6 224.9C441.8 226.3 442 227.7 441.9 228.9C441.8 230.2 441.1 231.3 439.9 232.3C438.7 233.3 436.6 234.1 434.5 234.9C432.5 235.8 427.6 237 427.9 237.6C428.1 238.2 433.2 238.2 435.9 238.7C438.6 239.2 441.2 240.1 443.9 240.7C446.6 241.3 445.9 241.6 451.9 242C458 242.5 470.4 242.9 480.3 243.5C490.2 244.1 506.1 245.4 511.3 245.8" fill="none" stroke="#000000" stroke-width="2.1" stroke-linejoin="round" clip-path="url(#clip00)"/>
<path d="M143.1 35C143.1 36 142.8 39 142.9 41.1C142.9 43.1 143.1 45.2 143.5 47.1C144 49 144.3 50.3 145.6 52.4C146.8 54.5 148.9 57 150.9 59.8C152.9 62.6 155.6 65.8 157.6 69.1C159.6 72.5 161.2 76.3 162.9 79.8C164.7 83.4 166.5 87 168.3 90.6C170.1 94.1 172.2 98.1 173.6 101.3C175.1 104.4 176.2 106.6 177 109.3C177.8 112 178.3 114.9 178.3 117.3C178.4 119.8 178.1 122 177.4 124C176.7 126 175.6 127.9 174.3 129.3C173 130.8 172 131.6 169.6 132.7C167.3 133.8 164.7 134.8 160.3 136C155.8 137.3 150 138.6 142.9 140.1C135.7 141.5 123.9 143.2 117.5 144.6C111 146 107 147.1 104.1 148.4C101.1 149.7 100.1 150.9 99.8 152.4C99.5 153.8 100.6 155.6 102.1 157.1C103.6 158.5 105.8 159.7 108.8 161.1C111.8 162.5 115.3 164.1 120.1 165.5C124.9 167 130.8 168.4 137.5 169.8C144.2 171.2 152 172.5 160.3 173.8C168.5 175.1 178.1 176.4 187 177.5C195.9 178.7 204.9 179.5 213.8 180.5C222.7 181.4 233.4 182.4 240.5 183.2C247.7 183.9 252.1 184.5 256.6 185.2C261 185.9 265.1 187.1 267.3 187.4C269.5 187.8 267.3 186.8 270 187.5C272.7 188.1 277.8 189.8 283.4 191.5C289 193.1 296.8 195.7 303.4 197.5C310.1 199.3 316.8 200.7 323.5 202.2C330.2 203.6 335.8 205 343.6 206.2C351.4 207.4 362.5 208.5 370.3 209.5C378.1 210.6 383.7 211.5 390.4 212.6C397.1 213.7 404.9 215.1 410.5 216.2C416 217.4 419.8 218.5 423.8 219.6C427.9 220.7 431.4 221.9 434.5 222.9C437.7 223.9 440.5 224.5 442.6 225.6C444.7 226.7 446.8 228.1 447.3 229.6C447.7 231 446.5 233 445.3 234.3C444 235.6 440.1 236.4 439.9 237.2C439.7 238 441.6 238.4 443.9 239C446.2 239.6 447.5 240.1 453.5 240.8C459.6 241.6 470.6 242.7 480.3 243.5C489.9 244.3 506.1 245.4 511.3 245.8" fill="none" stroke="#1f77b4" stroke-width="2.1" stroke-linejoin="round" clip-path="url(#clip00)"/>
<path d="M143.1 35C143.1 36 142.8 39 142.9 41.1C142.9 43.1 143.1 45.2 143.5 47.1C144 49 144.3 50.3 145.6 52.4C146.8 54.5 148.9 57 150.9 59.8C152.9 62.6 155.6 65.8 157.6 69.1C159.6 72.5 161.2 76.3 162.9 79.8C164.7 83.4 166.5 87 168.3 90.6C170.1 94.1 172.2 98.1 173.6 101.3C175.1 104.4 175.7 106.2 177 109.3C178.3 112.4 179.8 116.2 181.7 120C183.6 123.8 186.8 129.5 188.4 132C189.9 134.5 190.1 133.6 191 135C191.9 136.4 192.4 138.6 193.7 140.4C195.1 142.1 196.6 144 199.1 145.7C201.5 147.4 204.6 148.7 208.4 150.4C212.2 152.1 217.6 153.8 221.8 155.7C226 157.6 229.6 159.6 233.8 161.8C238.1 163.9 242.8 166.4 247.2 168.4C251.7 170.5 256.8 172.3 260.6 173.8C264.4 175.3 266.2 176 270 177.4C273.8 178.8 277.8 180.2 283.4 182.1C289 184 296.8 186.5 303.4 188.8C310.1 191.1 316.8 193.8 323.5 196.2C330.2 198.5 335.8 200.8 343.6 202.8C351.4 204.8 362.5 206.7 370.3 208.2C378.1 209.7 383.7 210.5 390.4 211.8C397.1 213.1 404.9 214.9 410.5 216.2C416 217.5 419.8 218.5 423.8 219.6C427.9 220.7 431.4 221.9 434.5 222.9C437.7 223.9 440.5 224.5 442.6 225.6C444.7 226.7 446.8 228.1 447.3 229.6C447.7 231 446.5 233 445.3 234.3C444 235.6 440.1 236.4 439.9 237.2C439.7 238 441.6 238.4 443.9 239C446.2 239.6 447.5 240.1 453.5 240.8C459.6 241.6 470.6 242.7 480.3 243.5C489.9 244.3 506.1 245.4 511.3 245.8" fill="none" stroke="#ff7f0e" stroke-width="2.1" stroke-linejoin="round" stroke-dasharray="7.77 3.36" clip-path="url(#clip00)"/>
<path d="M138.9 35.7C138.6 36.8 137.5 39.9 137.3 42.4C137 44.8 137 47.7 137.3 50.4C137.5 53.1 138.3 55.5 138.9 58.4C139.5 61.3 140.4 64.9 140.9 67.8C141.3 70.7 141.5 72.9 141.5 75.8C141.6 78.7 141.2 82.1 141 85.2C140.8 88.3 140.6 91.4 140.5 94.6C140.3 97.7 140.1 101.3 139.9 103.9C139.8 106.6 139.3 108.4 139.5 110.6C139.8 112.8 140.3 115.1 141.5 117.3C142.8 119.5 144.7 121.9 146.9 124C149.1 126.1 151.8 127.9 154.9 130C158 132.1 164.4 135.9 165.6 136.7C166.8 137.5 160.9 134.2 162.3 135C163.6 135.8 169.5 139.3 173.6 141.7C177.8 144 181.7 146.4 187 149C192.4 151.7 201.3 155.5 205.8 157.7C210.2 160 210.2 160.4 213.8 162.4C217.3 164.4 222.7 167.7 227.2 169.8C231.6 171.9 236.1 173.5 240.5 175.1C245 176.8 249 178 253.9 179.8C258.8 181.6 265.1 184.4 270 186.1C274.9 187.8 277.8 188.5 283.4 190.1C289 191.8 296.8 194.3 303.4 196.2C310.1 198 316.8 199.9 323.5 201.5C330.2 203.1 335.8 204.2 343.6 205.5C351.4 206.8 362.5 208 370.3 209.1C378.1 210.3 383.7 211.2 390.4 212.3C397.1 213.5 404.9 215 410.5 216.2C416 217.4 419.8 218.5 423.8 219.6C427.9 220.7 431.4 221.9 434.5 222.9C437.7 223.9 440.5 224.5 442.6 225.6C444.7 226.7 446.8 228.1 447.3 229.6C447.7 231 446.5 233 445.3 234.3C444 235.6 440.1 236.4 439.9 237.2C439.7 238 441.6 238.4 443.9 239C446.2 239.6 447.5 240.1 453.5 240.8C459.6 241.6 470.6 242.7 480.3 243.5C489.9 244.3 506.1 245.4 511.3 245.8" fill="none" stroke="#2ca02c" stroke-width="2.1" stroke-linejoin="round" stroke-dasharray="13.44 3.36 2.10 3.36" clip-path="url(#clip00)"/>
<path d="M137.5 36.4C137.3 37.4 136.5 40.3 136.2 42.4C135.9 44.5 135.5 46.9 135.5 49.1C135.5 51.3 135.9 53.3 136.2 55.8C136.5 58.2 137.3 61.6 137.5 63.8C137.8 66 138 67.1 137.8 69.1C137.6 71.2 136.9 73.6 136.2 75.8C135.5 78.1 134.3 80.3 133.5 82.5C132.7 84.8 132.2 86.8 131.5 89.2C130.8 91.7 130.3 94.8 129.5 97.2C128.7 99.7 127.9 101.6 126.8 103.9C125.7 106.3 124.2 108.6 122.8 111.3C121.4 114 119.6 117.5 118.5 120C117.5 122.4 116.6 124 116.4 126C116.1 128 116.2 129.9 117.1 132C117.9 134.1 121.6 138.2 121.7 138.7C121.9 139.2 118.2 134.9 118.1 135C118.1 135.1 119.8 137.6 121.5 139C123.1 140.4 125 141.8 128.2 143.3C131.3 144.7 135.7 146.4 140.2 147.7C144.7 149 148.9 150 154.9 151.3C160.9 152.7 171 154.4 176.3 155.7C181.7 157.1 183 157.9 187 159.3C191 160.8 195.9 162.9 200.4 164.4C204.9 166 209.3 167.3 213.8 168.7C218.2 170.2 222.7 171.9 227.2 173.1C231.6 174.3 235 174.5 240.5 175.8C246.1 177.1 255.7 179.9 260.6 181.2C265.5 182.4 266.2 182.2 270 183.2C273.8 184.1 277.8 185.1 283.4 186.8C289 188.5 296.8 191.5 303.4 193.5C310.1 195.5 316.8 197 323.5 198.8C330.2 200.6 335.8 202.6 343.6 204.2C351.4 205.8 362.5 207.3 370.3 208.6C378.1 209.9 383.7 210.8 390.4 212.1C397.1 213.3 404.9 215 410.5 216.2C416 217.5 419.8 218.5 423.8 219.6C427.9 220.7 431.4 221.9 434.5 222.9C437.7 223.9 440.5 224.5 442.6 225.6C444.7 226.7 446.8 228.1 447.3 229.6C447.7 231 446.5 233 445.3 234.3C444 235.6 440.1 236.4 439.9 237.2C439.7 238 441.6 238.4 443.9 239C446.2 239.6 447.5 240.1 453.5 240.8C459.6 241.6 470.6 242.7 480.3 243.5C489.9 244.3 506.1 245.4 511.3 245.8" fill="none" stroke="#d62728" stroke-width="2.1" stroke-linejoin="round" stroke-dasharray="2.10 3.46" clip-path="url(#clip00)"/>
<rect x="79.4" y="25.6" width="452" height="240.4" fill="none" stroke="#000" stroke-width="0.8"/>
<line x1="82.5" y1="266" x2="82.5" y2="269.6" stroke="#000" stroke-width="0.8"/>
<line x1="154.49" y1="266" x2="154.49" y2="269.6" stroke="#000" stroke-width="0.8"/>
<line x1="226.49" y1="266" x2="226.49" y2="269.6" stroke="#000" stroke-width="0.8"/>
<line x1="298.49" y1="266" x2="298.49" y2="269.6" stroke="#000" stroke-width="0.8"/>
<line x1="370.49" y1="266" x2="370.49" y2="269.6" stroke="#000" stroke-width="0.8"/>
<line x1="442.48" y1="266" x2="442.48" y2="269.6" stroke="#000" stroke-width="0.8"/>
<line x1="514.48" y1="266" x2="514.48" y2="269.6" stroke="#000" stroke-width="0.8"/>
<line x1="75.8" y1="25.6" x2="79.4" y2="25.6" stroke="#000" stroke-width="0.8"/>
<line x1="75.8" y1="52.31" x2="79.4" y2="52.31" stroke="#000" stroke-width="0.8"/>
<line x1="75.8" y1="79.02" x2="79.4" y2="79.02" stroke="#000" stroke-width="0.8"/>
<line x1="75.8" y1="105.73" x2="79.4" y2="105.73" stroke="#000" stroke-width="0.8"/>
<line x1="75.8" y1="132.44" x2="79.4" y2="132.44" stroke="#000" stroke-width="0.8"/>
<line x1="75.8" y1="159.16" x2="79.4" y2="159.16" stroke="#000" stroke-width="0.8"/>
<line x1="75.8" y1="185.87" x2="79.4" y2="185.87" stroke="#000" stroke-width="0.8"/>
<line x1="75.8" y1="212.58" x2="79.4" y2="212.58" stroke="#000" stroke-width="0.8"/>
<line x1="75.8" y1="239.29" x2="79.4" y2="239.29" stroke="#000" stroke-width="0.8"/>
<line x1="75.8" y1="266" x2="79.4" y2="266" stroke="#000" stroke-width="0.8"/>
<line x1="77.4" y1="33.64" x2="79.4" y2="33.64" stroke="#000" stroke-width="0.6"/>
<line x1="77.4" y1="38.34" x2="79.4" y2="38.34" stroke="#000" stroke-width="0.6"/>
<line x1="77.4" y1="41.68" x2="79.4" y2="41.68" stroke="#000" stroke-width="0.6"/>
<line x1="77.4" y1="44.27" x2="79.4" y2="44.27" stroke="#000" stroke-width="0.6"/>
<line x1="77.4" y1="46.39" x2="79.4" y2="46.39" stroke="#000" stroke-width="0.6"/>
<line x1="77.4" y1="48.17" x2="79.4" y2="48.17" stroke="#000" stroke-width="0.6"/>
<line x1="77.4" y1="49.72" x2="79.4" y2="49.72" stroke="#000" stroke-width="0.6"/>
<line x1="77.4" y1="51.09" x2="79.4" y2="51.09" stroke="#000" stroke-width="0.6"/>
<line x1="77.4" y1="60.35" x2="79.4" y2="60.35" stroke="#000" stroke-width="0.6"/>
<line x1="77.4" y1="65.06" x2="79.4" y2="65.06" stroke="#000" stroke-width="0.6"/>
<line x1="77.4" y1="68.39" x2="79.4" y2="68.39" stroke="#000" stroke-width="0.6"/>
<line x1="77.4" y1="70.98" x2="79.4" y2="70.98" stroke="#000" stroke-width="0.6"/>
<line x1="77.4" y1="73.1" x2="79.4" y2="73.1" stroke="#000" stroke-width="0.6"/>
<line x1="77.4" y1="74.88" x2="79.4" y2="74.88" stroke="#000" stroke-width="0.6"/>
<line x1="77.4" y1="76.43" x2="79.4" y2="76.43" stroke="#000" stroke-width="0.6"/>
<line x1="77.4" y1="77.8" x2="79.4" y2="77.8" stroke="#000" stroke-width="0.6"/>
<line x1="77.4" y1="87.06" x2="79.4" y2="87.06" stroke="#000" stroke-width="0.6"/>
<line x1="77.4" y1="91.77" x2="79.4" y2="91.77" stroke="#000" stroke-width="0.6"/>
<line x1="77.4" y1="95.1" x2="79.4" y2="95.1" stroke="#000" stroke-width="0.6"/>
<line x1="77.4" y1="97.69" x2="79.4" y2="97.69" stroke="#000" stroke-width="0.6"/>
<line x1="77.4" y1="99.81" x2="79.4" y2="99.81" stroke="#000" stroke-width="0.6"/>
<line x1="77.4" y1="101.6" x2="79.4" y2="101.6" stroke="#000" stroke-width="0.6"/>
<line x1="77.4" y1="103.14" x2="79.4" y2="103.14" stroke="#000" stroke-width="0.6"/>
<line x1="77.4" y1="104.51" x2="79.4" y2="104.51" stroke="#000" stroke-width="0.6"/>
<line x1="77.4" y1="113.77" x2="79.4" y2="113.77" stroke="#000" stroke-width="0.6"/>
<line x1="77.4" y1="118.48" x2="79.4" y2="118.48" stroke="#000" stroke-width="0.6"/>
<line x1="77.4" y1="121.82" x2="79.4" y2="121.82" stroke="#000" stroke-width="0.6"/>
<line x1="77.4" y1="124.4" x2="79.4" y2="124.4" stroke="#000" stroke-width="0.6"/>
<line x1="77.4" y1="126.52" x2="79.4" y2="126.52" stroke="#000" stroke-width="0.6"/>
<line x1="77.4" y1="128.31" x2="79.4" y2="128.31" stroke="#000" stroke-width="0.6"/>
<line x1="77.4" y1="129.86" x2="79.4" y2="129.86" stroke="#000" stroke-width="0.6"/>
<line x1="77.4" y1="131.22" x2="79.4" y2="131.22" stroke="#000" stroke-width="0.6"/>
<line x1="77.4" y1="140.49" x2="79.4" y2="140.49" stroke="#000" stroke-width="0.6"/>
<line x1="77.4" y1="145.19" x2="79.4" y2="145.19" stroke="#000" stroke-width="0.6"/>
<line x1="77.4" y1="148.53" x2="79.4" y2="148.53" stroke="#000" stroke-width="0.6"/>
<line x1="77.4" y1="151.11" x2="79.4" y2="151.11" stroke="#000" stroke-width="0.6"/>
<line x1="77.4" y1="153.23" x2="79.4" y2="153.23" stroke="#000" stroke-width="0.6"/>
<line x1="77.4" y1="155.02" x2="79.4" y2="155.02" stroke="#000" stroke-width="0.6"/>
<line x1="77.4" y1="156.57" x2="79.4" y2="156.57" stroke="#000" stroke-width="0.6"/>
<line x1="77.4" y1="157.93" x2="79.4" y2="157.93" stroke="#000" stroke-width="0.6"/>
<line x1="77.4" y1="167.2" x2="79.4" y2="167.2" stroke="#000" stroke-width="0.6"/>
<line x1="77.4" y1="171.9" x2="79.4" y2="171.9" stroke="#000" stroke-width="0.6"/>
<line x1="77.4" y1="175.24" x2="79.4" y2="175.24" stroke="#000" stroke-width="0.6"/>
<line x1="77.4" y1="177.83" x2="79.4" y2="177.83" stroke="#000" stroke-width="0.6"/>
<line x1="77.4" y1="179.94" x2="79.4" y2="179.94" stroke="#000" stroke-width="0.6"/>
<line x1="77.4" y1="181.73" x2="79.4" y2="181.73" stroke="#000" stroke-width="0.6"/>
<line x1="77.4" y1="183.28" x2="79.4" y2="183.28" stroke="#000" stroke-width="0.6"/>
<line x1="77.4" y1="184.64" x2="79.4" y2="184.64" stroke="#000" stroke-width="0.6"/>
<line x1="77.4" y1="193.91" x2="79.4" y2="193.91" stroke="#000" stroke-width="0.6"/>
<line x1="77.4" y1="198.61" x2="79.4" y2="198.61" stroke="#000" stroke-width="0.6"/>
<line x1="77.4" y1="201.95" x2="79.4" y2="201.95" stroke="#000" stroke-width="0.6"/>
<line x1="77.4" y1="204.54" x2="79.4" y2="204.54" stroke="#000" stroke-width="0.6"/>
<line x1="77.4" y1="206.65" x2="79.4" y2="206.65" stroke="#000" stroke-width="0.6"/>
<line x1="77.4" y1="208.44" x2="79.4" y2="208.44" stroke="#000" stroke-width="0.6"/>
<line x1="77.4" y1="209.99" x2="79.4" y2="209.99" stroke="#000" stroke-width="0.6"/>
<line x1="77.4" y1="211.36" x2="79.4" y2="211.36" stroke="#000" stroke-width="0.6"/>
<line x1="77.4" y1="220.62" x2="79.4" y2="220.62" stroke="#000" stroke-width="0.6"/>
<line x1="77.4" y1="225.32" x2="79.4" y2="225.32" stroke="#000" stroke-width="0.6"/>
<line x1="77.4" y1="228.66" x2="79.4" y2="228.66" stroke="#000" stroke-width="0.6"/>
<line x1="77.4" y1="231.25" x2="79.4" y2="231.25" stroke="#000" stroke-width="0.6"/>
<line x1="77.4" y1="233.36" x2="79.4" y2="233.36" stroke="#000" stroke-width="0.6"/>
<line x1="77.4" y1="235.15" x2="79.4" y2="235.15" stroke="#000" stroke-width="0.6"/>
<line x1="77.4" y1="236.7" x2="79.4" y2="236.7" stroke="#000" stroke-width="0.6"/>
<line x1="77.4" y1="238.07" x2="79.4" y2="238.07" stroke="#000" stroke-width="0.6"/>
<line x1="77.4" y1="247.33" x2="79.4" y2="247.33" stroke="#000" stroke-width="0.6"/>
<line x1="77.4" y1="252.03" x2="79.4" y2="252.03" stroke="#000" stroke-width="0.6"/>
<line x1="77.4" y1="255.37" x2="79.4" y2="255.37" stroke="#000" stroke-width="0.6"/>
<line x1="77.4" y1="257.96" x2="79.4" y2="257.96" stroke="#000" stroke-width="0.6"/>
<line x1="77.4" y1="260.07" x2="79.4" y2="260.07" stroke="#000" stroke-width="0.6"/>
<line x1="77.4" y1="261.86" x2="79.4" y2="261.86" stroke="#000" stroke-width="0.6"/>
<line x1="77.4" y1="263.41" x2="79.4" y2="263.41" stroke="#000" stroke-width="0.6"/>
<line x1="77.4" y1="264.78" x2="79.4" y2="264.78" stroke="#000" stroke-width="0.6"/>
<text x="82.5" y="283" font-size="12.7" font-weight="bold" text-anchor="middle" fill="#000" >600</text>
<text x="154.49" y="283" font-size="12.7" font-weight="bold" text-anchor="middle" fill="#000" >800</text>
<text x="226.49" y="283" font-size="12.7" font-weight="bold" text-anchor="middle" fill="#000" >1000</text>
<text x="298.49" y="283" font-size="12.7" font-weight="bold" text-anchor="middle" fill="#000" >1200</text>
<text x="370.49" y="283" font-size="12.7" font-weight="bold" text-anchor="middle" fill="#000" >1400</text>
<text x="442.48" y="283" font-size="12.7" font-weight="bold" text-anchor="middle" fill="#000" >1600</text>
<text x="514.48" y="283" font-size="12.7" font-weight="bold" text-anchor="middle" fill="#000" >1800</text>
<text x="71.8" y="30.7" font-size="12.7" font-weight="bold" text-anchor="end" fill="#000" >10<tspan font-size="8.9" dy="-5">−6</tspan></text>
<text x="71.8" y="57.41" font-size="12.7" font-weight="bold" text-anchor="end" fill="#000" >10<tspan font-size="8.9" dy="-5">−5</tspan></text>
<text x="71.8" y="84.12" font-size="12.7" font-weight="bold" text-anchor="end" fill="#000" >10<tspan font-size="8.9" dy="-5">−4</tspan></text>
<text x="71.8" y="110.83" font-size="12.7" font-weight="bold" text-anchor="end" fill="#000" >10<tspan font-size="8.9" dy="-5">−3</tspan></text>
<text x="71.8" y="137.54" font-size="12.7" font-weight="bold" text-anchor="end" fill="#000" >10<tspan font-size="8.9" dy="-5">−2</tspan></text>
<text x="71.8" y="164.26" font-size="12.7" font-weight="bold" text-anchor="end" fill="#000" >10<tspan font-size="8.9" dy="-5">−1</tspan></text>
<text x="71.8" y="190.97" font-size="12.7" font-weight="bold" text-anchor="end" fill="#000" >10<tspan font-size="8.9" dy="-5">0</tspan></text>
<text x="71.8" y="217.68" font-size="12.7" font-weight="bold" text-anchor="end" fill="#000" >10<tspan font-size="8.9" dy="-5">1</tspan></text>
<text x="71.8" y="244.39" font-size="12.7" font-weight="bold" text-anchor="end" fill="#000" >10<tspan font-size="8.9" dy="-5">2</tspan></text>
<text x="71.8" y="271.1" font-size="12.7" font-weight="bold" text-anchor="end" fill="#000" >10<tspan font-size="8.9" dy="-5">3</tspan></text>
<text x="0" y="0" font-size="12.55" font-weight="bold" text-anchor="middle" fill="#000" transform="translate(34.2,145.8) rotate(-90)">Pressure (bar)</text>
<text x="305.4" y="298.8" font-size="12.55" font-weight="bold" text-anchor="middle" fill="#000" >Temperature (K)</text>
<text x="305.4" y="19.3" font-size="14.7" font-weight="bold" text-anchor="middle" fill="#000" >Na<tspan font-weight="normal" font-size="10.2" dy="3">2</tspan><tspan dy="-3">S</tspan></text>
<rect x="412.05" y="33" width="115.3" height="83.6" rx="2.2" fill="#6c6c6c" opacity="0.9"/>
<rect x="409.95" y="30.9" width="115.3" height="83.6" rx="2.2" fill="#fff" stroke="#d0d0d0" stroke-width="1"/>
<line x1="414" y1="39.7" x2="434.9" y2="39.7" stroke="#1f77b4" stroke-width="2.1" stroke-linecap="square"/>
<text x="443.95" y="43.55" font-size="10.45" font-weight="normal" text-anchor="start" fill="#000" >0.1 <tspan font-style="italic">μ</tspan>m</text>
<line x1="414" y1="55.75" x2="434.9" y2="55.75" stroke="#ff7f0e" stroke-width="2.1" stroke-dasharray="7.77 3.36"/>
<text x="443.95" y="59.6" font-size="10.45" font-weight="normal" text-anchor="start" fill="#000" >1 <tspan font-style="italic">μ</tspan>m</text>
<line x1="414" y1="71.8" x2="434.9" y2="71.8" stroke="#2ca02c" stroke-width="2.1" stroke-dasharray="13.44 3.36 2.10 3.36"/>
<text x="443.95" y="75.65" font-size="10.45" font-weight="normal" text-anchor="start" fill="#000" >5 <tspan font-style="italic">μ</tspan>m</text>
<line x1="414" y1="87.85" x2="434.9" y2="87.85" stroke="#d62728" stroke-width="2.1" stroke-dasharray="2.10 3.46"/>
<text x="443.95" y="91.7" font-size="10.45" font-weight="normal" text-anchor="start" fill="#000" >10 <tspan font-style="italic">μ</tspan>m</text>
<line x1="414" y1="103.9" x2="434.9" y2="103.9" stroke="#000000" stroke-width="2.1" stroke-linecap="square"/>
<text x="443.95" y="107.75" font-size="10.45" font-weight="normal" text-anchor="start" fill="#000" >Cloudless GCM</text>
<line x1="616.42" y1="25.6" x2="616.42" y2="266" stroke="#b0b0b0" stroke-width="0.8"/>
<line x1="691.18" y1="25.6" x2="691.18" y2="266" stroke="#b0b0b0" stroke-width="0.8"/>
<line x1="765.94" y1="25.6" x2="765.94" y2="266" stroke="#b0b0b0" stroke-width="0.8"/>
<line x1="840.7" y1="25.6" x2="840.7" y2="266" stroke="#b0b0b0" stroke-width="0.8"/>
<line x1="915.46" y1="25.6" x2="915.46" y2="266" stroke="#b0b0b0" stroke-width="0.8"/>
<line x1="990.22" y1="25.6" x2="990.22" y2="266" stroke="#b0b0b0" stroke-width="0.8"/>
<line x1="555.6" y1="25.6" x2="1007.6" y2="25.6" stroke="#b0b0b0" stroke-width="0.8"/>
<line x1="555.6" y1="52.31" x2="1007.6" y2="52.31" stroke="#b0b0b0" stroke-width="0.8"/>
<line x1="555.6" y1="79.02" x2="1007.6" y2="79.02" stroke="#b0b0b0" stroke-width="0.8"/>
<line x1="555.6" y1="105.73" x2="1007.6" y2="105.73" stroke="#b0b0b0" stroke-width="0.8"/>
<line x1="555.6" y1="132.44" x2="1007.6" y2="132.44" stroke="#b0b0b0" stroke-width="0.8"/>
<line x1="555.6" y1="159.16" x2="1007.6" y2="159.16" stroke="#b0b0b0" stroke-width="0.8"/>
<line x1="555.6" y1="185.87" x2="1007.6" y2="185.87" stroke="#b0b0b0" stroke-width="0.8"/>
<line x1="555.6" y1="212.58" x2="1007.6" y2="212.58" stroke="#b0b0b0" stroke-width="0.8"/>
<line x1="555.6" y1="239.29" x2="1007.6" y2="239.29" stroke="#b0b0b0" stroke-width="0.8"/>
<line x1="555.6" y1="266" x2="1007.6" y2="266" stroke="#b0b0b0" stroke-width="0.8"/>
<path d="M596.8 35C596.4 36 594.9 38.9 594.1 41.1C593.4 43.2 592.7 45.5 592.4 47.7C592.1 50 592.1 52.2 592.4 54.4C592.7 56.7 593.7 58.9 594.1 61.1C594.5 63.4 594.9 65.6 594.8 67.8C594.7 70 594.1 72.5 593.5 74.5C592.8 76.5 591.8 77.8 591.1 79.8C590.3 81.9 589.7 84.1 589.2 86.5C588.7 89 588.6 92.1 588.1 94.6C587.7 97 587.1 99.2 586.5 101.3C585.9 103.3 585.7 104.6 584.8 106.6C583.8 108.6 582 111 580.7 113.3C579.5 115.6 578 118.3 577.1 120.7C576.3 123 575.8 125.2 575.8 127.3C575.8 129.5 576.2 131.4 577.4 133.4C578.6 135.4 582.6 139.1 582.8 139.4C582.9 139.7 578.1 134.8 578.1 135C578.1 135.2 580.6 138.7 582.8 140.4C584.9 142 587.4 143.6 590.8 145C594.1 146.5 598.6 147.9 602.8 149C607.1 150.2 611.5 150.8 616.2 151.7C620.9 152.7 626.5 153.8 630.9 154.8C635.4 155.8 638.9 156.7 643 157.7C647 158.8 650.5 159.7 655 161.1C659.5 162.5 663.9 164.3 669.7 166C675.5 167.8 682 169.5 689.8 171.4C697.6 173.2 708.7 175.4 716.5 177.1C724.3 178.8 731.7 180.5 736.6 181.6C741.5 182.6 741.1 182.3 746 183.4C750.9 184.5 759.4 186.6 766.1 188.1C772.8 189.7 778.3 191.1 786.1 192.8C793.9 194.5 804 196.7 812.9 198.4C821.8 200.1 831.8 201.7 839.6 203.1C847.4 204.5 853 205.4 859.7 206.9C866.4 208.3 874.2 210.3 879.8 211.8C885.4 213.3 888.7 214.3 893.2 215.8C897.6 217.3 903.2 219.1 906.5 220.6C909.9 222.2 911.8 223.5 913.2 224.9C914.6 226.3 914.9 227.7 914.8 228.9C914.7 230.2 913.9 231.2 912.6 232.3C911.2 233.3 908.4 234.5 906.5 235.4C904.6 236.2 900.7 237 901.2 237.6C901.6 238.2 906.3 238.4 909.2 239C912.1 239.5 915.7 240.5 918.6 241C921.5 241.5 922 241.7 926.6 242C931.2 242.4 940.4 242.7 946 243C951.6 243.3 953.3 243.3 960 243.8C966.7 244.3 981.8 245.4 986.1 245.8" fill="none" stroke="#000000" stroke-width="2.1" stroke-linejoin="round" clip-path="url(#clip10)"/>
<path d="M599.5 35C599.3 36.3 598.8 40.1 598.5 42.4C598.3 44.7 598 46.9 598.1 49.1C598.3 51.3 598.8 53.3 599.5 55.8C600.1 58.2 601.6 61.6 602.2 63.8C602.7 66 602.8 67.1 602.8 69.1C602.8 71.2 602.5 73.6 602.2 75.8C601.8 78.1 601.2 80.3 600.8 82.5C600.5 84.8 600.3 86.8 600.1 89.2C600 91.7 600.2 94.6 599.9 97.2C599.5 99.9 599 102.6 598.1 105.3C597.3 107.9 595.8 110.7 594.8 113.3C593.8 115.9 592.7 118.4 592.1 120.7C591.5 122.9 590.9 124.8 591.1 126.7C591.2 128.6 591.7 130.1 592.8 132C593.9 133.9 597.2 137.5 597.5 138C597.7 138.5 593.7 134.5 594.1 135C594.6 135.5 598 139.3 600.1 141C602.3 142.7 604.2 143.8 606.8 145C609.5 146.3 612.2 147.3 616.2 148.4C620.2 149.5 625.3 150.4 630.9 151.7C636.5 153.1 644.3 154.8 649.6 156.4C655 158 659.7 159.8 663 161.1C666.4 162.4 665.3 162.5 669.7 164.2C674.2 165.8 682 168.7 689.8 170.9C697.6 173 708.7 175.1 716.5 176.9C724.3 178.7 731.7 180.3 736.6 181.6C741.5 182.8 741.1 182.9 746 184.1C750.9 185.3 759.4 187.1 766.1 188.8C772.8 190.5 778.3 192 786.1 194.1C793.9 196.3 804 199.3 812.9 201.5C821.8 203.7 831.8 205.6 839.6 207.1C847.4 208.7 853 209.6 859.7 210.9C866.4 212.2 874.2 213.7 879.8 214.9C885.4 216.1 888.7 217 893.2 218C897.6 219 902.3 219.7 906.5 220.9C910.8 222.1 915.8 223.5 918.6 224.9C921.4 226.4 922.9 228 923.3 229.6C923.6 231.2 922.3 232.9 920.6 234.3C918.9 235.6 913.6 236.7 913.2 237.6C912.9 238.6 915.7 239.2 918.6 239.9C921.5 240.6 926 241.2 930.6 241.6C935.2 242.1 941.1 242.2 946 242.6C950.9 242.9 953.3 243.3 960 243.8C966.7 244.3 981.8 245.4 986.1 245.8" fill="none" stroke="#1f77b4" stroke-width="2.1" stroke-linejoin="round" clip-path="url(#clip10)"/>
<path d="M599.5 35C599.3 36.3 598.8 40.1 598.5 42.4C598.3 44.7 598 46.9 598.1 49.1C598.3 51.3 598.8 53.3 599.5 55.8C600.1 58.2 601.6 61.6 602.2 63.8C602.7 66 602.7 67.1 602.6 69.1C602.4 71.2 601.8 73.6 601.2 75.8C600.6 78.1 599.4 80.3 598.8 82.5C598.2 84.8 598 86.8 597.7 89.2C597.5 91.7 597.6 94.6 597.2 97.2C596.8 99.9 596.2 102.6 595.5 105.3C594.7 107.9 593.6 110.7 592.8 113.3C592 115.9 591.2 118.4 590.8 120.7C590.4 122.9 590.2 124.8 590.5 126.7C590.8 128.6 591.2 130.1 592.4 132C593.5 133.9 597.2 137.5 597.5 138C597.8 138.5 593.7 134.5 594.1 135C594.6 135.5 598 139.3 600.1 141C602.3 142.7 604.2 143.8 606.8 145C609.5 146.3 612.2 147.3 616.2 148.4C620.2 149.5 625.3 150.4 630.9 151.7C636.5 153.1 644.3 154.8 649.6 156.4C655 158 659.7 159.8 663 161.1C666.4 162.4 665.3 162.5 669.7 164.2C674.2 165.8 682 168.7 689.8 170.9C697.6 173 708.7 175.1 716.5 176.9C724.3 178.7 731.7 180.3 736.6 181.6C741.5 182.8 741.1 182.9 746 184.1C750.9 185.3 759.4 187.1 766.1 188.8C772.8 190.5 778.3 192 786.1 194.1C793.9 196.3 804 199.3 812.9 201.5C821.8 203.7 831.8 205.6 839.6 207.1C847.4 208.7 853 209.6 859.7 210.9C866.4 212.2 874.2 213.7 879.8 214.9C885.4 216.1 888.7 217 893.2 218C897.6 219 902.3 219.7 906.5 220.9C910.8 222.1 915.8 223.5 918.6 224.9C921.4 226.4 922.9 228 923.3 229.6C923.6 231.2 922.3 232.9 920.6 234.3C918.9 235.6 913.6 236.7 913.2 237.6C912.9 238.6 915.7 239.2 918.6 239.9C921.5 240.6 926 241.2 930.6 241.6C935.2 242.1 941.1 242.2 946 242.6C950.9 242.9 953.3 243.3 960 243.8C966.7 244.3 981.8 245.4 986.1 245.8" fill="none" stroke="#ff7f0e" stroke-width="2.1" stroke-linejoin="round" stroke-dasharray="7.77 3.36" clip-path="url(#clip10)"/>
<path d="M598.8 35C598.7 36.3 598.3 40.1 598.1 42.4C598 44.7 597.6 46.9 597.7 49.1C597.9 51.3 598.5 53.3 599.1 55.8C599.7 58.2 601.1 61.6 601.5 63.8C601.9 66 601.8 67.1 601.5 69.1C601.2 71.2 600.3 73.6 599.5 75.8C598.7 78.1 597.5 80.3 596.8 82.5C596.1 84.8 595.8 86.8 595.5 89.2C595.1 91.7 595.1 94.6 594.8 97.2C594.5 99.9 594.2 102.6 593.5 105.3C592.7 107.9 591.3 110.7 590.5 113.3C589.7 115.9 589.1 118.4 588.8 120.7C588.5 122.9 588.4 124.7 588.8 126.7C589.2 128.7 589.8 130.7 591.1 132.7C592.3 134.7 595.7 138.3 596.1 138.7C596.5 139.1 592.8 134.6 593.5 135C594.1 135.4 597.6 139.6 599.9 141.3C602.1 143 604.1 143.9 606.8 145C609.6 146.2 612.2 147.3 616.2 148.4C620.2 149.5 625.3 150.4 630.9 151.7C636.5 153.1 644.3 154.8 649.6 156.4C655 158 659.7 159.8 663 161.1C666.4 162.4 665.3 162.5 669.7 164.2C674.2 165.8 682 168.7 689.8 170.9C697.6 173 708.7 175.1 716.5 176.9C724.3 178.7 731.7 180.3 736.6 181.6C741.5 182.8 741.1 182.9 746 184.1C750.9 185.3 759.4 187.1 766.1 188.8C772.8 190.5 778.3 192 786.1 194.1C793.9 196.3 804 199.3 812.9 201.5C821.8 203.7 831.8 205.6 839.6 207.1C847.4 208.7 853 209.6 859.7 210.9C866.4 212.2 874.2 213.7 879.8 214.9C885.4 216.1 888.7 217 893.2 218C897.6 219 902.3 219.7 906.5 220.9C910.8 222.1 915.8 223.5 918.6 224.9C921.4 226.4 922.9 228 923.3 229.6C923.6 231.2 922.3 232.9 920.6 234.3C918.9 235.6 913.6 236.7 913.2 237.6C912.9 238.6 915.7 239.2 918.6 239.9C921.5 240.6 926 241.2 930.6 241.6C935.2 242.1 941.1 242.2 946 242.6C950.9 242.9 953.3 243.3 960 243.8C966.7 244.3 981.8 245.4 986.1 245.8" fill="none" stroke="#2ca02c" stroke-width="2.1" stroke-linejoin="round" stroke-dasharray="13.44 3.36 2.10 3.36" clip-path="url(#clip10)"/>
<path d="M599.1 35C598.9 36.3 598.5 40.1 598.3 42.4C598.1 44.7 597.7 46.9 597.9 49.1C598 51.3 598.7 53.3 599.2 55.8C599.7 58.2 600.7 61.6 600.8 63.8C601 66 600.6 67.1 600.1 69.1C599.7 71.2 598.9 73.6 598.1 75.8C597.4 78.1 596.5 80.3 595.9 82.5C595.2 84.8 594.7 86.8 594.1 89.2C593.5 91.7 592.9 94.8 592.4 97.2C591.9 99.7 591.8 101.5 591.1 103.9C590.3 106.4 588.8 109.3 587.8 112C586.9 114.6 585.6 117.5 585.2 120C584.7 122.4 584.7 124.4 585.2 126.7C585.7 128.9 586.8 131.4 588.1 133.4C589.4 135.4 592.2 138.2 592.8 138.7C593.3 139.2 590.7 135.8 591.5 136.3C592.2 136.8 595.1 140.2 597.5 141.7C599.8 143.2 602.4 144.3 605.5 145.4C608.6 146.5 612 147.3 616.2 148.4C620.4 149.4 625.3 150.4 630.9 151.7C636.5 153.1 644.3 154.8 649.6 156.4C655 158 659.7 159.8 663 161.1C666.4 162.4 665.3 162.5 669.7 164.2C674.2 165.8 682 168.7 689.8 170.9C697.6 173 708.7 175.1 716.5 176.9C724.3 178.7 731.7 180.3 736.6 181.6C741.5 182.8 741.1 182.9 746 184.1C750.9 185.3 759.4 187.1 766.1 188.8C772.8 190.5 778.3 192 786.1 194.1C793.9 196.3 804 199.3 812.9 201.5C821.8 203.7 831.8 205.6 839.6 207.1C847.4 208.7 853 209.6 859.7 210.9C866.4 212.2 874.2 213.7 879.8 214.9C885.4 216.1 888.7 217 893.2 218C897.6 219 902.3 219.7 906.5 220.9C910.8 222.1 915.8 223.5 918.6 224.9C921.4 226.4 922.9 228 923.3 229.6C923.6 231.2 922.3 232.9 920.6 234.3C918.9 235.6 913.6 236.7 913.2 237.6C912.9 238.6 915.7 239.2 918.6 239.9C921.5 240.6 926 241.2 930.6 241.6C935.2 242.1 941.1 242.2 946 242.6C950.9 242.9 953.3 243.3 960 243.8C966.7 244.3 981.8 245.4 986.1 245.8" fill="none" stroke="#d62728" stroke-width="2.1" stroke-linejoin="round" stroke-dasharray="2.10 3.46" clip-path="url(#clip10)"/>
<rect x="555.6" y="25.6" width="452" height="240.4" fill="none" stroke="#000" stroke-width="0.8"/>
<line x1="616.42" y1="266" x2="616.42" y2="269.6" stroke="#000" stroke-width="0.8"/>
<line x1="691.18" y1="266" x2="691.18" y2="269.6" stroke="#000" stroke-width="0.8"/>
<line x1="765.94" y1="266" x2="765.94" y2="269.6" stroke="#000" stroke-width="0.8"/>
<line x1="840.7" y1="266" x2="840.7" y2="269.6" stroke="#000" stroke-width="0.8"/>
<line x1="915.46" y1="266" x2="915.46" y2="269.6" stroke="#000" stroke-width="0.8"/>
<line x1="990.22" y1="266" x2="990.22" y2="269.6" stroke="#000" stroke-width="0.8"/>
<line x1="552" y1="25.6" x2="555.6" y2="25.6" stroke="#000" stroke-width="0.8"/>
<line x1="552" y1="52.31" x2="555.6" y2="52.31" stroke="#000" stroke-width="0.8"/>
<line x1="552" y1="79.02" x2="555.6" y2="79.02" stroke="#000" stroke-width="0.8"/>
<line x1="552" y1="105.73" x2="555.6" y2="105.73" stroke="#000" stroke-width="0.8"/>
<line x1="552" y1="132.44" x2="555.6" y2="132.44" stroke="#000" stroke-width="0.8"/>
<line x1="552" y1="159.16" x2="555.6" y2="159.16" stroke="#000" stroke-width="0.8"/>
<line x1="552" y1="185.87" x2="555.6" y2="185.87" stroke="#000" stroke-width="0.8"/>
<line x1="552" y1="212.58" x2="555.6" y2="212.58" stroke="#000" stroke-width="0.8"/>
<line x1="552" y1="239.29" x2="555.6" y2="239.29" stroke="#000" stroke-width="0.8"/>
<line x1="552" y1="266" x2="555.6" y2="266" stroke="#000" stroke-width="0.8"/>
<line x1="553.6" y1="33.64" x2="555.6" y2="33.64" stroke="#000" stroke-width="0.6"/>
<line x1="553.6" y1="38.34" x2="555.6" y2="38.34" stroke="#000" stroke-width="0.6"/>
<line x1="553.6" y1="41.68" x2="555.6" y2="41.68" stroke="#000" stroke-width="0.6"/>
<line x1="553.6" y1="44.27" x2="555.6" y2="44.27" stroke="#000" stroke-width="0.6"/>
<line x1="553.6" y1="46.39" x2="555.6" y2="46.39" stroke="#000" stroke-width="0.6"/>
<line x1="553.6" y1="48.17" x2="555.6" y2="48.17" stroke="#000" stroke-width="0.6"/>
<line x1="553.6" y1="49.72" x2="555.6" y2="49.72" stroke="#000" stroke-width="0.6"/>
<line x1="553.6" y1="51.09" x2="555.6" y2="51.09" stroke="#000" stroke-width="0.6"/>
<line x1="553.6" y1="60.35" x2="555.6" y2="60.35" stroke="#000" stroke-width="0.6"/>
<line x1="553.6" y1="65.06" x2="555.6" y2="65.06" stroke="#000" stroke-width="0.6"/>
<line x1="553.6" y1="68.39" x2="555.6" y2="68.39" stroke="#000" stroke-width="0.6"/>
<line x1="553.6" y1="70.98" x2="555.6" y2="70.98" stroke="#000" stroke-width="0.6"/>
<line x1="553.6" y1="73.1" x2="555.6" y2="73.1" stroke="#000" stroke-width="0.6"/>
<line x1="553.6" y1="74.88" x2="555.6" y2="74.88" stroke="#000" stroke-width="0.6"/>
<line x1="553.6" y1="76.43" x2="555.6" y2="76.43" stroke="#000" stroke-width="0.6"/>
<line x1="553.6" y1="77.8" x2="555.6" y2="77.8" stroke="#000" stroke-width="0.6"/>
<line x1="553.6" y1="87.06" x2="555.6" y2="87.06" stroke="#000" stroke-width="0.6"/>
<line x1="553.6" y1="91.77" x2="555.6" y2="91.77" stroke="#000" stroke-width="0.6"/>
<line x1="553.6" y1="95.1" x2="555.6" y2="95.1" stroke="#000" stroke-width="0.6"/>
<line x1="553.6" y1="97.69" x2="555.6" y2="97.69" stroke="#000" stroke-width="0.6"/>
<line x1="553.6" y1="99.81" x2="555.6" y2="99.81" stroke="#000" stroke-width="0.6"/>
<line x1="553.6" y1="101.6" x2="555.6" y2="101.6" stroke="#000" stroke-width="0.6"/>
<line x1="553.6" y1="103.14" x2="555.6" y2="103.14" stroke="#000" stroke-width="0.6"/>
<line x1="553.6" y1="104.51" x2="555.6" y2="104.51" stroke="#000" stroke-width="0.6"/>
<line x1="553.6" y1="113.77" x2="555.6" y2="113.77" stroke="#000" stroke-width="0.6"/>
<line x1="553.6" y1="118.48" x2="555.6" y2="118.48" stroke="#000" stroke-width="0.6"/>
<line x1="553.6" y1="121.82" x2="555.6" y2="121.82" stroke="#000" stroke-width="0.6"/>
<line x1="553.6" y1="124.4" x2="555.6" y2="124.4" stroke="#000" stroke-width="0.6"/>
<line x1="553.6" y1="126.52" x2="555.6" y2="126.52" stroke="#000" stroke-width="0.6"/>
<line x1="553.6" y1="128.31" x2="555.6" y2="128.31" stroke="#000" stroke-width="0.6"/>
<line x1="553.6" y1="129.86" x2="555.6" y2="129.86" stroke="#000" stroke-width="0.6"/>
<line x1="553.6" y1="131.22" x2="555.6" y2="131.22" stroke="#000" stroke-width="0.6"/>
<line x1="553.6" y1="140.49" x2="555.6" y2="140.49" stroke="#000" stroke-width="0.6"/>
<line x1="553.6" y1="145.19" x2="555.6" y2="145.19" stroke="#000" stroke-width="0.6"/>
<line x1="553.6" y1="148.53" x2="555.6" y2="148.53" stroke="#000" stroke-width="0.6"/>
<line x1="553.6" y1="151.11" x2="555.6" y2="151.11" stroke="#000" stroke-width="0.6"/>
<line x1="553.6" y1="153.23" x2="555.6" y2="153.23" stroke="#000" stroke-width="0.6"/>
<line x1="553.6" y1="155.02" x2="555.6" y2="155.02" stroke="#000" stroke-width="0.6"/>
<line x1="553.6" y1="156.57" x2="555.6" y2="156.57" stroke="#000" stroke-width="0.6"/>
<line x1="553.6" y1="157.93" x2="555.6" y2="157.93" stroke="#000" stroke-width="0.6"/>
<line x1="553.6" y1="167.2" x2="555.6" y2="167.2" stroke="#000" stroke-width="0.6"/>
<line x1="553.6" y1="171.9" x2="555.6" y2="171.9" stroke="#000" stroke-width="0.6"/>
<line x1="553.6" y1="175.24" x2="555.6" y2="175.24" stroke="#000" stroke-width="0.6"/>
<line x1="553.6" y1="177.83" x2="555.6" y2="177.83" stroke="#000" stroke-width="0.6"/>
<line x1="553.6" y1="179.94" x2="555.6" y2="179.94" stroke="#000" stroke-width="0.6"/>
<line x1="553.6" y1="181.73" x2="555.6" y2="181.73" stroke="#000" stroke-width="0.6"/>
<line x1="553.6" y1="183.28" x2="555.6" y2="183.28" stroke="#000" stroke-width="0.6"/>
<line x1="553.6" y1="184.64" x2="555.6" y2="184.64" stroke="#000" stroke-width="0.6"/>
<line x1="553.6" y1="193.91" x2="555.6" y2="193.91" stroke="#000" stroke-width="0.6"/>
<line x1="553.6" y1="198.61" x2="555.6" y2="198.61" stroke="#000" stroke-width="0.6"/>
<line x1="553.6" y1="201.95" x2="555.6" y2="201.95" stroke="#000" stroke-width="0.6"/>
<line x1="553.6" y1="204.54" x2="555.6" y2="204.54" stroke="#000" stroke-width="0.6"/>
<line x1="553.6" y1="206.65" x2="555.6" y2="206.65" stroke="#000" stroke-width="0.6"/>
<line x1="553.6" y1="208.44" x2="555.6" y2="208.44" stroke="#000" stroke-width="0.6"/>
<line x1="553.6" y1="209.99" x2="555.6" y2="209.99" stroke="#000" stroke-width="0.6"/>
<line x1="553.6" y1="211.36" x2="555.6" y2="211.36" stroke="#000" stroke-width="0.6"/>
<line x1="553.6" y1="220.62" x2="555.6" y2="220.62" stroke="#000" stroke-width="0.6"/>
<line x1="553.6" y1="225.32" x2="555.6" y2="225.32" stroke="#000" stroke-width="0.6"/>
<line x1="553.6" y1="228.66" x2="555.6" y2="228.66" stroke="#000" stroke-width="0.6"/>
<line x1="553.6" y1="231.25" x2="555.6" y2="231.25" stroke="#000" stroke-width="0.6"/>
<line x1="553.6" y1="233.36" x2="555.6" y2="233.36" stroke="#000" stroke-width="0.6"/>
<line x1="553.6" y1="235.15" x2="555.6" y2="235.15" stroke="#000" stroke-width="0.6"/>
<line x1="553.6" y1="236.7" x2="555.6" y2="236.7" stroke="#000" stroke-width="0.6"/>
<line x1="553.6" y1="238.07" x2="555.6" y2="238.07" stroke="#000" stroke-width="0.6"/>
<line x1="553.6" y1="247.33" x2="555.6" y2="247.33" stroke="#000" stroke-width="0.6"/>
<line x1="553.6" y1="252.03" x2="555.6" y2="252.03" stroke="#000" stroke-width="0.6"/>
<line x1="553.6" y1="255.37" x2="555.6" y2="255.37" stroke="#000" stroke-width="0.6"/>
<line x1="553.6" y1="257.96" x2="555.6" y2="257.96" stroke="#000" stroke-width="0.6"/>
<line x1="553.6" y1="260.07" x2="555.6" y2="260.07" stroke="#000" stroke-width="0.6"/>
<line x1="553.6" y1="261.86" x2="555.6" y2="261.86" stroke="#000" stroke-width="0.6"/>
<line x1="553.6" y1="263.41" x2="555.6" y2="263.41" stroke="#000" stroke-width="0.6"/>
<line x1="553.6" y1="264.78" x2="555.6" y2="264.78" stroke="#000" stroke-width="0.6"/>
<text x="616.42" y="283" font-size="12.7" font-weight="bold" text-anchor="middle" fill="#000" >800</text>
<text x="691.18" y="283" font-size="12.7" font-weight="bold" text-anchor="middle" fill="#000" >1000</text>
<text x="765.94" y="283" font-size="12.7" font-weight="bold" text-anchor="middle" fill="#000" >1200</text>
<text x="840.7" y="283" font-size="12.7" font-weight="bold" text-anchor="middle" fill="#000" >1400</text>
<text x="915.46" y="283" font-size="12.7" font-weight="bold" text-anchor="middle" fill="#000" >1600</text>
<text x="990.22" y="283" font-size="12.7" font-weight="bold" text-anchor="middle" fill="#000" >1800</text>
<text x="781.6" y="298.8" font-size="12.55" font-weight="bold" text-anchor="middle" fill="#000" >Temperature (K)</text>
<text x="781.6" y="19.3" font-size="14.7" font-weight="bold" text-anchor="middle" fill="#000" >KCl</text>
<rect x="888.25" y="33" width="115.3" height="83.6" rx="2.2" fill="#6c6c6c" opacity="0.9"/>
<rect x="886.15" y="30.9" width="115.3" height="83.6" rx="2.2" fill="#fff" stroke="#d0d0d0" stroke-width="1"/>
<line x1="890.2" y1="39.7" x2="911.1" y2="39.7" stroke="#1f77b4" stroke-width="2.1" stroke-linecap="square"/>
<text x="920.15" y="43.55" font-size="10.45" font-weight="normal" text-anchor="start" fill="#000" >0.1 <tspan font-style="italic">μ</tspan>m</text>
<line x1="890.2" y1="55.75" x2="911.1" y2="55.75" stroke="#ff7f0e" stroke-width="2.1" stroke-dasharray="7.77 3.36"/>
<text x="920.15" y="59.6" font-size="10.45" font-weight="normal" text-anchor="start" fill="#000" >1 <tspan font-style="italic">μ</tspan>m</text>
<line x1="890.2" y1="71.8" x2="911.1" y2="71.8" stroke="#2ca02c" stroke-width="2.1" stroke-dasharray="13.44 3.36 2.10 3.36"/>
<text x="920.15" y="75.65" font-size="10.45" font-weight="normal" text-anchor="start" fill="#000" >5 <tspan font-style="italic">μ</tspan>m</text>
<line x1="890.2" y1="87.85" x2="911.1" y2="87.85" stroke="#d62728" stroke-width="2.1" stroke-dasharray="2.10 3.46"/>
<text x="920.15" y="91.7" font-size="10.45" font-weight="normal" text-anchor="start" fill="#000" >10 <tspan font-style="italic">μ</tspan>m</text>
<line x1="890.2" y1="103.9" x2="911.1" y2="103.9" stroke="#000000" stroke-width="2.1" stroke-linecap="square"/>
<text x="920.15" y="107.75" font-size="10.45" font-weight="normal" text-anchor="start" fill="#000" >Cloudless GCM</text>
<line x1="1106" y1="25.6" x2="1106" y2="266" stroke="#b0b0b0" stroke-width="0.8"/>
<line x1="1187.12" y1="25.6" x2="1187.12" y2="266" stroke="#b0b0b0" stroke-width="0.8"/>
<line x1="1268.25" y1="25.6" x2="1268.25" y2="266" stroke="#b0b0b0" stroke-width="0.8"/>
<line x1="1349.37" y1="25.6" x2="1349.37" y2="266" stroke="#b0b0b0" stroke-width="0.8"/>
<line x1="1430.5" y1="25.6" x2="1430.5" y2="266" stroke="#b0b0b0" stroke-width="0.8"/>
<line x1="1031.8" y1="25.6" x2="1483.8" y2="25.6" stroke="#b0b0b0" stroke-width="0.8"/>
<line x1="1031.8" y1="52.31" x2="1483.8" y2="52.31" stroke="#b0b0b0" stroke-width="0.8"/>
<line x1="1031.8" y1="79.02" x2="1483.8" y2="79.02" stroke="#b0b0b0" stroke-width="0.8"/>
<line x1="1031.8" y1="105.73" x2="1483.8" y2="105.73" stroke="#b0b0b0" stroke-width="0.8"/>
<line x1="1031.8" y1="132.44" x2="1483.8" y2="132.44" stroke="#b0b0b0" stroke-width="0.8"/>
<line x1="1031.8" y1="159.16" x2="1483.8" y2="159.16" stroke="#b0b0b0" stroke-width="0.8"/>
<line x1="1031.8" y1="185.87" x2="1483.8" y2="185.87" stroke="#b0b0b0" stroke-width="0.8"/>
<line x1="1031.8" y1="212.58" x2="1483.8" y2="212.58" stroke="#b0b0b0" stroke-width="0.8"/>
<line x1="1031.8" y1="239.29" x2="1483.8" y2="239.29" stroke="#b0b0b0" stroke-width="0.8"/>
<line x1="1031.8" y1="266" x2="1483.8" y2="266" stroke="#b0b0b0" stroke-width="0.8"/>
<path d="M1066.1 35C1066 36.3 1065.3 39.8 1065.2 42.4C1065 45 1065 47.7 1065.2 50.4C1065.3 53.1 1065.8 55.5 1066.1 58.4C1066.4 61.3 1066.7 64.9 1066.8 67.8C1066.8 70.7 1066.7 72.9 1066.5 75.8C1066.3 78.7 1065.9 82.1 1065.7 85.2C1065.5 88.3 1065.4 91.4 1065.2 94.6C1065 97.7 1064.8 101 1064.4 103.9C1064 106.8 1063.3 109.3 1062.8 112C1062.2 114.6 1061.5 117.5 1061.2 120C1060.9 122.4 1060.7 124.4 1060.9 126.7C1061.1 128.9 1061.3 131.2 1062.1 133.4C1062.9 135.5 1065.3 139.1 1065.4 139.4C1065.6 139.7 1062.8 134.8 1062.8 135C1062.8 135.2 1064.1 138.6 1065.4 140.4C1066.8 142.1 1068.6 144 1070.8 145.7C1073 147.4 1075.5 148.6 1078.8 150.4C1082.2 152.2 1087.5 154.4 1090.9 156.4C1094.2 158.4 1096.2 160.4 1098.9 162.4C1101.6 164.4 1103.8 166.4 1106.9 168.4C1110 170.5 1114.1 172.5 1117.6 174.5C1121.2 176.5 1124.8 178 1128.3 180.5C1131.9 182.9 1135 186.7 1139 189.2C1143 191.6 1147.9 193.4 1152.4 195.2C1156.9 197 1161.3 198.5 1165.8 199.9C1170.2 201.2 1174.7 202 1179.2 203.2C1183.6 204.5 1187 205.8 1192.5 207.2C1198.1 208.7 1203.9 210.2 1212.6 211.9C1221.3 213.7 1235.2 216 1244.5 217.7C1253.8 219.3 1260.7 220.5 1268.5 222C1276.3 223.4 1283.2 224.9 1291.3 226.3C1299.5 227.7 1307.6 229 1317.3 230.3C1327.1 231.7 1339.6 233.2 1349.7 234.5C1359.9 235.7 1369 236.9 1378 237.9C1387 238.9 1395.2 239.7 1404 240.5C1412.8 241.3 1420.9 242 1430.9 242.8C1440.8 243.6 1458.3 245.1 1463.8 245.6" fill="none" stroke="#000000" stroke-width="2.1" stroke-linejoin="round" clip-path="url(#clip20)"/>
<path d="M1066.1 35C1065.9 36.3 1065.1 39.8 1064.8 42.4C1064.4 45 1064.2 47.7 1064.1 50.4C1064 53.1 1064.3 55.5 1064.4 58.4C1064.5 61.3 1064.9 64.9 1064.8 67.8C1064.7 70.7 1064.3 72.9 1063.8 75.8C1063.4 78.7 1062.6 82.1 1062.1 85.2C1061.6 88.3 1061.1 91.7 1060.8 94.6C1060.4 97.5 1060.5 99.7 1059.8 102.6C1059.2 105.5 1057.8 108.8 1056.7 112C1055.7 115.1 1054.4 118.2 1053.7 121.3C1052.9 124.4 1052.4 127.8 1052.3 130.7C1052.2 133.6 1053.1 138 1053.1 138.7C1053.2 139.4 1052.6 134.5 1052.7 135C1052.9 135.5 1053.1 139.5 1054.1 141.7C1055.1 143.9 1056.9 146.5 1058.8 148.4C1060.7 150.3 1063.4 151.6 1065.4 153.1C1067.5 154.5 1069.2 155.2 1070.8 157.1C1072.4 159 1073.2 162 1074.8 164.4C1076.4 166.9 1077.9 169.3 1080.2 171.8C1082.4 174.2 1085.1 177 1088.2 179.1C1091.3 181.3 1094.9 183.1 1098.9 184.8C1102.9 186.4 1106.7 187.6 1112.3 189.2C1117.8 190.8 1125.6 192.9 1132.3 194.5C1139 196.2 1146.8 197.8 1152.4 198.9C1158 200.1 1161.3 200.4 1165.8 201.2C1170.2 202 1174.7 203.1 1179.2 203.9C1183.6 204.7 1187 205.2 1192.5 206.2C1198.1 207.2 1203.9 208 1212.6 209.9C1221.3 211.8 1235.2 215.6 1244.5 217.7C1253.8 219.7 1260.7 220.5 1268.5 222C1276.3 223.4 1283.2 224.9 1291.3 226.3C1299.5 227.7 1307.6 229 1317.3 230.3C1327.1 231.7 1339.6 233.2 1349.7 234.5C1359.9 235.7 1369 236.9 1378 237.9C1387 238.9 1395.2 239.7 1404 240.5C1412.8 241.3 1420.9 242 1430.9 242.8C1440.8 243.6 1458.3 245.1 1463.8 245.6" fill="none" stroke="#1f77b4" stroke-width="2.1" stroke-linejoin="round" clip-path="url(#clip20)"/>
<path d="M1066 35C1065.8 36.3 1065.2 39.8 1065 42.4C1064.9 45 1064.9 47.7 1065 50.4C1065.2 53.1 1065.7 55.5 1066 58.4C1066.2 61.3 1066.5 64.9 1066.5 67.8C1066.6 70.7 1066.5 72.9 1066.2 75.8C1066 78.7 1065.5 82.1 1065.2 85.2C1064.9 88.3 1064.7 91.4 1064.4 94.6C1064.1 97.7 1063.9 101 1063.4 103.9C1062.9 106.8 1062.1 109.1 1061.4 112C1060.8 114.9 1059.8 118.4 1059.4 121.3C1059 124.2 1058.9 126.8 1059.2 129.3C1059.4 131.9 1060.5 135.8 1060.8 136.7C1061 137.6 1060.3 134.3 1060.8 135C1061.2 135.7 1062.2 139.1 1063.4 141C1064.7 142.9 1065.6 144.5 1068.1 146.4C1070.7 148.2 1075.3 150.2 1078.8 152.1C1082.4 154.1 1086.2 155.9 1089.5 158C1092.9 160.1 1096 162.7 1098.9 164.7C1101.8 166.7 1103.8 168.2 1106.9 170.1C1110 171.9 1114.1 174 1117.6 175.8C1121.2 177.7 1124.8 179 1128.3 181.2C1131.9 183.3 1135 186.1 1139 188.5C1143 190.9 1147.9 193.5 1152.4 195.5C1156.9 197.4 1161.3 198.8 1165.8 200.3C1170.2 201.8 1174.7 203 1179.2 204.3C1183.6 205.6 1187 206.5 1192.5 207.9C1198.1 209.3 1203.9 211.2 1212.6 212.9C1221.3 214.5 1235.2 216.1 1244.5 217.7C1253.8 219.2 1260.7 220.5 1268.5 222C1276.3 223.4 1283.2 224.9 1291.3 226.3C1299.5 227.7 1307.6 229 1317.3 230.3C1327.1 231.7 1339.6 233.2 1349.7 234.5C1359.9 235.7 1369 236.9 1378 237.9C1387 238.9 1395.2 239.7 1404 240.5C1412.8 241.3 1420.9 242 1430.9 242.8C1440.8 243.6 1458.3 245.1 1463.8 245.6" fill="none" stroke="#ff7f0e" stroke-width="2.1" stroke-linejoin="round" stroke-dasharray="7.77 3.36" clip-path="url(#clip20)"/>
<path d="M1065.7 35C1065.6 36.3 1064.9 39.8 1064.8 42.4C1064.6 45 1064.6 47.7 1064.8 50.4C1064.9 53.1 1065.5 55.5 1065.7 58.4C1066 61.3 1066.2 64.9 1066.2 67.8C1066.2 70.7 1066 72.9 1065.7 75.8C1065.4 78.7 1064.9 82.1 1064.5 85.2C1064.2 88.3 1064 91.4 1063.6 94.6C1063.2 97.7 1062.7 101 1062.1 103.9C1061.5 106.8 1060.6 109.1 1059.8 112C1059.1 114.9 1058.1 118.4 1057.7 121.3C1057.3 124.2 1057.1 126.7 1057.4 129.3C1057.7 132 1059.1 136.4 1059.4 137.4C1059.8 138.3 1059.1 134.5 1059.4 135C1059.8 135.5 1060.4 138.7 1061.4 140.4C1062.4 142 1062.8 142.9 1065.4 145C1068.1 147.2 1073.7 150.7 1077.5 153.1C1081.3 155.4 1084.6 156.9 1088.2 159.1C1091.8 161.3 1095.8 164.3 1098.9 166.4C1102 168.6 1103.8 170.1 1106.9 171.8C1110 173.5 1114.1 174.9 1117.6 176.5C1121.2 178 1124.8 179.3 1128.3 181.2C1131.9 183 1135 185.7 1139 187.8C1143 190 1147.9 191.9 1152.4 193.9C1156.9 195.9 1161.3 198.2 1165.8 199.9C1170.2 201.6 1174.7 202.6 1179.2 203.9C1183.6 205.2 1187 206.2 1192.5 207.6C1198.1 209.1 1203.9 210.9 1212.6 212.6C1221.3 214.3 1235.2 216.1 1244.5 217.7C1253.8 219.2 1260.7 220.5 1268.5 222C1276.3 223.4 1283.2 224.9 1291.3 226.3C1299.5 227.7 1307.6 229 1317.3 230.3C1327.1 231.7 1339.6 233.2 1349.7 234.5C1359.9 235.7 1369 236.9 1378 237.9C1387 238.9 1395.2 239.7 1404 240.5C1412.8 241.3 1420.9 242 1430.9 242.8C1440.8 243.6 1458.3 245.1 1463.8 245.6" fill="none" stroke="#2ca02c" stroke-width="2.1" stroke-linejoin="round" stroke-dasharray="13.44 3.36 2.10 3.36" clip-path="url(#clip20)"/>
<path d="M1066.3 35C1066.1 36.3 1065.5 39.8 1065.3 42.4C1065.2 45 1065.2 47.7 1065.3 50.4C1065.5 53.1 1066 55.5 1066.3 58.4C1066.5 61.3 1066.8 64.9 1066.8 67.8C1066.9 70.7 1066.8 72.9 1066.5 75.8C1066.3 78.7 1065.8 82.1 1065.5 85.2C1065.2 88.3 1065 91.4 1064.7 94.6C1064.4 97.7 1064.2 101 1063.7 103.9C1063.2 106.8 1062.4 109.1 1061.7 112C1061.1 114.9 1060.1 118.4 1059.7 121.3C1059.3 124.2 1059.2 126.8 1059.5 129.3C1059.7 131.9 1060.8 135.8 1061.1 136.7C1061.3 137.6 1060.6 134.3 1061.1 135C1061.5 135.7 1062.5 139.1 1063.7 141C1065 142.9 1065.9 144.5 1068.4 146.4C1071 148.2 1075.6 150.2 1079.1 152.1C1082.7 154.1 1086.5 155.9 1089.8 158C1093.2 160.1 1096.3 162.7 1099.2 164.7C1102.1 166.7 1104.1 168.2 1107.2 170.1C1110.3 171.9 1114.4 174 1117.9 175.8C1121.5 177.7 1125.1 179 1128.6 181.2C1132.2 183.3 1135.3 186.1 1139.3 188.5C1143.3 190.9 1148.2 193.5 1152.7 195.5C1157.2 197.4 1161.6 198.8 1166.1 200.3C1170.5 201.8 1175 203 1179.5 204.3C1183.9 205.6 1187.3 206.5 1192.8 207.9C1198.4 209.3 1204.2 211.2 1212.9 212.9C1221.6 214.5 1235.5 216.1 1244.8 217.7C1254.1 219.2 1261 220.5 1268.8 222C1276.6 223.4 1283.5 224.9 1291.6 226.3C1299.8 227.7 1307.9 229 1317.6 230.3C1327.4 231.7 1339.9 233.2 1350 234.5C1360.2 235.7 1369.3 236.9 1378.3 237.9C1387.3 238.9 1395.5 239.7 1404.3 240.5C1413.1 241.3 1421.2 242 1431.2 242.8C1441.1 243.6 1458.6 245.1 1464.1 245.6" fill="none" stroke="#d62728" stroke-width="2.1" stroke-linejoin="round" stroke-dasharray="2.10 3.46" clip-path="url(#clip20)"/>
<rect x="1031.8" y="25.6" width="452" height="240.4" fill="none" stroke="#000" stroke-width="0.8"/>
<line x1="1106" y1="266" x2="1106" y2="269.6" stroke="#000" stroke-width="0.8"/>
<line x1="1187.12" y1="266" x2="1187.12" y2="269.6" stroke="#000" stroke-width="0.8"/>
<line x1="1268.25" y1="266" x2="1268.25" y2="269.6" stroke="#000" stroke-width="0.8"/>
<line x1="1349.37" y1="266" x2="1349.37" y2="269.6" stroke="#000" stroke-width="0.8"/>
<line x1="1430.5" y1="266" x2="1430.5" y2="269.6" stroke="#000" stroke-width="0.8"/>
<line x1="1028.2" y1="25.6" x2="1031.8" y2="25.6" stroke="#000" stroke-width="0.8"/>
<line x1="1028.2" y1="52.31" x2="1031.8" y2="52.31" stroke="#000" stroke-width="0.8"/>
<line x1="1028.2" y1="79.02" x2="1031.8" y2="79.02" stroke="#000" stroke-width="0.8"/>
<line x1="1028.2" y1="105.73" x2="1031.8" y2="105.73" stroke="#000" stroke-width="0.8"/>
<line x1="1028.2" y1="132.44" x2="1031.8" y2="132.44" stroke="#000" stroke-width="0.8"/>
<line x1="1028.2" y1="159.16" x2="1031.8" y2="159.16" stroke="#000" stroke-width="0.8"/>
<line x1="1028.2" y1="185.87" x2="1031.8" y2="185.87" stroke="#000" stroke-width="0.8"/>
<line x1="1028.2" y1="212.58" x2="1031.8" y2="212.58" stroke="#000" stroke-width="0.8"/>
<line x1="1028.2" y1="239.29" x2="1031.8" y2="239.29" stroke="#000" stroke-width="0.8"/>
<line x1="1028.2" y1="266" x2="1031.8" y2="266" stroke="#000" stroke-width="0.8"/>
<line x1="1029.8" y1="33.64" x2="1031.8" y2="33.64" stroke="#000" stroke-width="0.6"/>
<line x1="1029.8" y1="38.34" x2="1031.8" y2="38.34" stroke="#000" stroke-width="0.6"/>
<line x1="1029.8" y1="41.68" x2="1031.8" y2="41.68" stroke="#000" stroke-width="0.6"/>
<line x1="1029.8" y1="44.27" x2="1031.8" y2="44.27" stroke="#000" stroke-width="0.6"/>
<line x1="1029.8" y1="46.39" x2="1031.8" y2="46.39" stroke="#000" stroke-width="0.6"/>
<line x1="1029.8" y1="48.17" x2="1031.8" y2="48.17" stroke="#000" stroke-width="0.6"/>
<line x1="1029.8" y1="49.72" x2="1031.8" y2="49.72" stroke="#000" stroke-width="0.6"/>
<line x1="1029.8" y1="51.09" x2="1031.8" y2="51.09" stroke="#000" stroke-width="0.6"/>
<line x1="1029.8" y1="60.35" x2="1031.8" y2="60.35" stroke="#000" stroke-width="0.6"/>
<line x1="1029.8" y1="65.06" x2="1031.8" y2="65.06" stroke="#000" stroke-width="0.6"/>
<line x1="1029.8" y1="68.39" x2="1031.8" y2="68.39" stroke="#000" stroke-width="0.6"/>
<line x1="1029.8" y1="70.98" x2="1031.8" y2="70.98" stroke="#000" stroke-width="0.6"/>
<line x1="1029.8" y1="73.1" x2="1031.8" y2="73.1" stroke="#000" stroke-width="0.6"/>
<line x1="1029.8" y1="74.88" x2="1031.8" y2="74.88" stroke="#000" stroke-width="0.6"/>
<line x1="1029.8" y1="76.43" x2="1031.8" y2="76.43" stroke="#000" stroke-width="0.6"/>
<line x1="1029.8" y1="77.8" x2="1031.8" y2="77.8" stroke="#000" stroke-width="0.6"/>
<line x1="1029.8" y1="87.06" x2="1031.8" y2="87.06" stroke="#000" stroke-width="0.6"/>
<line x1="1029.8" y1="91.77" x2="1031.8" y2="91.77" stroke="#000" stroke-width="0.6"/>
<line x1="1029.8" y1="95.1" x2="1031.8" y2="95.1" stroke="#000" stroke-width="0.6"/>
<line x1="1029.8" y1="97.69" x2="1031.8" y2="97.69" stroke="#000" stroke-width="0.6"/>
<line x1="1029.8" y1="99.81" x2="1031.8" y2="99.81" stroke="#000" stroke-width="0.6"/>
<line x1="1029.8" y1="101.6" x2="1031.8" y2="101.6" stroke="#000" stroke-width="0.6"/>
<line x1="1029.8" y1="103.14" x2="1031.8" y2="103.14" stroke="#000" stroke-width="0.6"/>
<line x1="1029.8" y1="104.51" x2="1031.8" y2="104.51" stroke="#000" stroke-width="0.6"/>
<line x1="1029.8" y1="113.77" x2="1031.8" y2="113.77" stroke="#000" stroke-width="0.6"/>
<line x1="1029.8" y1="118.48" x2="1031.8" y2="118.48" stroke="#000" stroke-width="0.6"/>
<line x1="1029.8" y1="121.82" x2="1031.8" y2="121.82" stroke="#000" stroke-width="0.6"/>
<line x1="1029.8" y1="124.4" x2="1031.8" y2="124.4" stroke="#000" stroke-width="0.6"/>
<line x1="1029.8" y1="126.52" x2="1031.8" y2="126.52" stroke="#000" stroke-width="0.6"/>
<line x1="1029.8" y1="128.31" x2="1031.8" y2="128.31" stroke="#000" stroke-width="0.6"/>
<line x1="1029.8" y1="129.86" x2="1031.8" y2="129.86" stroke="#000" stroke-width="0.6"/>
<line x1="1029.8" y1="131.22" x2="1031.8" y2="131.22" stroke="#000" stroke-width="0.6"/>
<line x1="1029.8" y1="140.49" x2="1031.8" y2="140.49" stroke="#000" stroke-width="0.6"/>
<line x1="1029.8" y1="145.19" x2="1031.8" y2="145.19" stroke="#000" stroke-width="0.6"/>
<line x1="1029.8" y1="148.53" x2="1031.8" y2="148.53" stroke="#000" stroke-width="0.6"/>
<line x1="1029.8" y1="151.11" x2="1031.8" y2="151.11" stroke="#000" stroke-width="0.6"/>
<line x1="1029.8" y1="153.23" x2="1031.8" y2="153.23" stroke="#000" stroke-width="0.6"/>
<line x1="1029.8" y1="155.02" x2="1031.8" y2="155.02" stroke="#000" stroke-width="0.6"/>
<line x1="1029.8" y1="156.57" x2="1031.8" y2="156.57" stroke="#000" stroke-width="0.6"/>
<line x1="1029.8" y1="157.93" x2="1031.8" y2="157.93" stroke="#000" stroke-width="0.6"/>
<line x1="1029.8" y1="167.2" x2="1031.8" y2="167.2" stroke="#000" stroke-width="0.6"/>
<line x1="1029.8" y1="171.9" x2="1031.8" y2="171.9" stroke="#000" stroke-width="0.6"/>
<line x1="1029.8" y1="175.24" x2="1031.8" y2="175.24" stroke="#000" stroke-width="0.6"/>
<line x1="1029.8" y1="177.83" x2="1031.8" y2="177.83" stroke="#000" stroke-width="0.6"/>
<line x1="1029.8" y1="179.94" x2="1031.8" y2="179.94" stroke="#000" stroke-width="0.6"/>
<line x1="1029.8" y1="181.73" x2="1031.8" y2="181.73" stroke="#000" stroke-width="0.6"/>
<line x1="1029.8" y1="183.28" x2="1031.8" y2="183.28" stroke="#000" stroke-width="0.6"/>
<line x1="1029.8" y1="184.64" x2="1031.8" y2="184.64" stroke="#000" stroke-width="0.6"/>
<line x1="1029.8" y1="193.91" x2="1031.8" y2="193.91" stroke="#000" stroke-width="0.6"/>
<line x1="1029.8" y1="198.61" x2="1031.8" y2="198.61" stroke="#000" stroke-width="0.6"/>
<line x1="1029.8" y1="201.95" x2="1031.8" y2="201.95" stroke="#000" stroke-width="0.6"/>
<line x1="1029.8" y1="204.54" x2="1031.8" y2="204.54" stroke="#000" stroke-width="0.6"/>
<line x1="1029.8" y1="206.65" x2="1031.8" y2="206.65" stroke="#000" stroke-width="0.6"/>
<line x1="1029.8" y1="208.44" x2="1031.8" y2="208.44" stroke="#000" stroke-width="0.6"/>
<line x1="1029.8" y1="209.99" x2="1031.8" y2="209.99" stroke="#000" stroke-width="0.6"/>
<line x1="1029.8" y1="211.36" x2="1031.8" y2="211.36" stroke="#000" stroke-width="0.6"/>
<line x1="1029.8" y1="220.62" x2="1031.8" y2="220.62" stroke="#000" stroke-width="0.6"/>
<line x1="1029.8" y1="225.32" x2="1031.8" y2="225.32" stroke="#000" stroke-width="0.6"/>
<line x1="1029.8" y1="228.66" x2="1031.8" y2="228.66" stroke="#000" stroke-width="0.6"/>
<line x1="1029.8" y1="231.25" x2="1031.8" y2="231.25" stroke="#000" stroke-width="0.6"/>
<line x1="1029.8" y1="233.36" x2="1031.8" y2="233.36" stroke="#000" stroke-width="0.6"/>
<line x1="1029.8" y1="235.15" x2="1031.8" y2="235.15" stroke="#000" stroke-width="0.6"/>
<line x1="1029.8" y1="236.7" x2="1031.8" y2="236.7" stroke="#000" stroke-width="0.6"/>
<line x1="1029.8" y1="238.07" x2="1031.8" y2="238.07" stroke="#000" stroke-width="0.6"/>
<line x1="1029.8" y1="247.33" x2="1031.8" y2="247.33" stroke="#000" stroke-width="0.6"/>
<line x1="1029.8" y1="252.03" x2="1031.8" y2="252.03" stroke="#000" stroke-width="0.6"/>
<line x1="1029.8" y1="255.37" x2="1031.8" y2="255.37" stroke="#000" stroke-width="0.6"/>
<line x1="1029.8" y1="257.96" x2="1031.8" y2="257.96" stroke="#000" stroke-width="0.6"/>
<line x1="1029.8" y1="260.07" x2="1031.8" y2="260.07" stroke="#000" stroke-width="0.6"/>
<line x1="1029.8" y1="261.86" x2="1031.8" y2="261.86" stroke="#000" stroke-width="0.6"/>
<line x1="1029.8" y1="263.41" x2="1031.8" y2="263.41" stroke="#000" stroke-width="0.6"/>
<line x1="1029.8" y1="264.78" x2="1031.8" y2="264.78" stroke="#000" stroke-width="0.6"/>
<text x="1106" y="283" font-size="12.7" font-weight="bold" text-anchor="middle" fill="#000" >1000</text>
<text x="1187.12" y="283" font-size="12.7" font-weight="bold" text-anchor="middle" fill="#000" >1500</text>
<text x="1268.25" y="283" font-size="12.7" font-weight="bold" text-anchor="middle" fill="#000" >2000</text>
<text x="1349.37" y="283" font-size="12.7" font-weight="bold" text-anchor="middle" fill="#000" >2500</text>
<text x="1430.5" y="283" font-size="12.7" font-weight="bold" text-anchor="middle" fill="#000" >3000</text>
<text x="1257.8" y="298.8" font-size="12.55" font-weight="bold" text-anchor="middle" fill="#000" >Temperature (K)</text>
<text x="1257.8" y="19.3" font-size="14.7" font-weight="bold" text-anchor="middle" fill="#000" >MgSiO<tspan font-weight="normal" font-size="10.2" dy="3">3</tspan></text>
<rect x="1291.9" y="33" width="190" height="83.6" rx="2.2" fill="#6c6c6c" opacity="0.9"/>
<rect x="1289.8" y="30.9" width="190" height="83.6" rx="2.2" fill="#fff" stroke="#d0d0d0" stroke-width="1"/>
<line x1="1293.85" y1="39.7" x2="1314.75" y2="39.7" stroke="#1f77b4" stroke-width="2.1" stroke-linecap="square"/>
<text x="1323.8" y="43.55" font-size="10.45" font-weight="normal" text-anchor="start" fill="#000" >0.1 <tspan font-style="italic">μ</tspan>m</text>
<line x1="1293.85" y1="55.75" x2="1314.75" y2="55.75" stroke="#ff7f0e" stroke-width="2.1" stroke-dasharray="7.77 3.36"/>
<text x="1323.8" y="59.6" font-size="10.45" font-weight="normal" text-anchor="start" fill="#000" >1 <tspan font-style="italic">μ</tspan>m</text>
<line x1="1293.85" y1="71.8" x2="1314.75" y2="71.8" stroke="#2ca02c" stroke-width="2.1" stroke-dasharray="13.44 3.36 2.10 3.36"/>
<text x="1323.8" y="75.65" font-size="10.45" font-weight="normal" text-anchor="start" fill="#000" >5 <tspan font-style="italic">μ</tspan>m</text>
<line x1="1293.85" y1="87.85" x2="1314.75" y2="87.85" stroke="#d62728" stroke-width="2.1" stroke-dasharray="2.10 3.46"/>
<text x="1323.8" y="91.7" font-size="10.45" font-weight="normal" text-anchor="start" fill="#000" >10 <tspan font-style="italic">μ</tspan>m</text>
<line x1="1293.85" y1="103.9" x2="1314.75" y2="103.9" stroke="#000000" stroke-width="2.1" stroke-linecap="square"/>
<text x="1323.8" y="107.75" font-size="10.45" font-weight="normal" text-anchor="start" fill="#000" >Cloudless GCM with High T<tspan font-style="italic" font-size="7.6" dy="2.4">int</tspan></text>
<rect x="124.93" y="319.1" width="107.15" height="240.4" fill="#add8e6" fill-opacity="0.3"/>
<rect x="228.41" y="319.1" width="55.64" height="240.4" fill="#90ee90" fill-opacity="0.3"/>
<rect x="295.25" y="319.1" width="181.56" height="240.4" fill="#f08080" fill-opacity="0.3"/>
<line x1="79.4" y1="319.1" x2="79.4" y2="559.5" stroke="#b0b0b0" stroke-width="0.8"/>
<line x1="170.36" y1="319.1" x2="170.36" y2="559.5" stroke="#b0b0b0" stroke-width="0.8"/>
<line x1="234.89" y1="319.1" x2="234.89" y2="559.5" stroke="#b0b0b0" stroke-width="0.8"/>
<line x1="284.95" y1="319.1" x2="284.95" y2="559.5" stroke="#b0b0b0" stroke-width="0.8"/>
<line x1="325.85" y1="319.1" x2="325.85" y2="559.5" stroke="#b0b0b0" stroke-width="0.8"/>
<line x1="390.39" y1="319.1" x2="390.39" y2="559.5" stroke="#b0b0b0" stroke-width="0.8"/>
<line x1="440.44" y1="319.1" x2="440.44" y2="559.5" stroke="#b0b0b0" stroke-width="0.8"/>
<line x1="531.4" y1="319.1" x2="531.4" y2="559.5" stroke="#b0b0b0" stroke-width="0.8"/>
<line x1="79.4" y1="550.11" x2="531.4" y2="550.11" stroke="#b0b0b0" stroke-width="0.8"/>
<line x1="79.4" y1="511.6" x2="531.4" y2="511.6" stroke="#b0b0b0" stroke-width="0.8"/>
<line x1="79.4" y1="473.1" x2="531.4" y2="473.1" stroke="#b0b0b0" stroke-width="0.8"/>
<line x1="79.4" y1="434.6" x2="531.4" y2="434.6" stroke="#b0b0b0" stroke-width="0.8"/>
<line x1="79.4" y1="396.1" x2="531.4" y2="396.1" stroke="#b0b0b0" stroke-width="0.8"/>
<line x1="79.4" y1="357.6" x2="531.4" y2="357.6" stroke="#b0b0b0" stroke-width="0.8"/>
<line x1="79.4" y1="319.1" x2="531.4" y2="319.1" stroke="#b0b0b0" stroke-width="0.8"/>
<g clip-path="url(#clip01)"><use href="#dE" x="0.0" y="0"/></g>
<path d="M80 547.8C80.3 547.7 83.3 546.9 84 546.8C84.7 546.6 87.4 545.6 88 545.5C88.7 545.3 91.4 545.2 92 545.3C92.7 545.3 95.4 546.2 96.1 546.5C96.7 546.7 99.3 548.1 100.1 548.3C100.8 548.4 104.2 548.3 105.1 548.3C105.9 548.3 109.3 548.3 110.1 548.3C110.9 548.2 114.3 547.8 115.1 547.8C116 547.7 119 547.3 120.1 547.3C121.2 547.2 126.8 546.8 128.2 546.8C129.5 546.7 134.8 546.8 136.2 546.8C137.5 546.7 142.9 546.5 144.2 546.5C145.6 546.4 150.9 545.9 152.2 545.8C153.6 545.6 159.1 545 160.3 544.7C161.4 544.5 165.4 543.5 166.3 543.2C167.2 543 170.6 542.2 171.3 542C172 541.9 173.8 541.1 174.3 541.2C174.8 541.3 176.7 543 177.3 543.2C177.9 543.5 180.6 544.6 181.3 544.7C182.1 544.9 185.4 545.1 186.4 545.1C187.3 545 191.4 544.4 192.4 544.2C193.4 544.1 197.4 543.9 198.4 543.7C199.4 543.6 203.4 543 204.4 542.7C205.4 542.5 209.6 541.1 210.4 540.7C211.3 540.4 213.8 539.1 214.4 538.7C215.1 538.3 217.8 536.2 218.5 535.7C219.1 535.2 221.8 533.2 222.5 532.7C223.1 532.2 225.9 530.2 226.5 529.7C227.1 529.2 229.3 527.3 230 526.7C230.7 526.1 234.4 522.9 235.1 522.1C235.9 521.4 238.6 518.8 239.1 518.1C239.7 517.4 241.2 513.9 241.6 513.6C242.1 513.3 243.8 513.6 244.1 514.1C244.5 514.7 245.4 519.1 245.7 520.1C245.9 521.1 247.4 525.4 247.7 526.2C248 526.9 248.7 528.6 249.2 528.7C249.6 528.7 252.4 527.6 253.2 527.2C253.9 526.8 257.4 524.1 258.2 523.9C259 523.8 262.5 525.3 263.2 525.2C264 525 266.5 522 267.2 521.6C268 521.3 271.5 521.3 272.2 521.1C273 521 275.7 520.1 276.3 519.6C276.8 519.1 278.8 515.9 279.3 515.1C279.8 514.4 281.7 511.4 282.3 510.6C282.8 509.8 285.3 506.6 285.8 505.6C286.3 504.5 287.8 498.5 288.3 498.1C288.8 497.6 290.9 500.4 291.3 500.6C291.7 500.7 292.9 499.9 293.3 500.1C293.8 500.2 296.3 502.5 296.8 502.6C297.3 502.7 298.9 500.9 299.3 501.1C299.7 501.2 301.4 503.6 301.8 504.1C302.3 504.5 304 506.6 304.3 506.6C304.7 506.6 306 504 306.4 504.1C306.7 504.1 308 507.1 308.4 507.1C308.7 507.1 310.4 504.2 310.9 504.1C311.4 504 313.9 505.7 314.4 505.6C314.9 505.5 316.5 502.6 316.9 502.6C317.3 502.5 318.9 505.1 319.4 505.1C319.9 505 322.8 502.7 323.4 502.1C324 501.4 325.8 497.8 326.4 497.6C327 497.3 330.2 499.3 330.9 499.1C331.7 498.9 334.9 495.7 335.5 495.1C336 494.4 337.6 491.7 338 491.5C338.3 491.3 339.2 492 339.5 492.5C339.8 493 341 497.1 341.5 497.6C342 498 344.8 498.3 345.4 498.2C346 498.1 348 497.2 348.4 496.7C348.8 496.2 350.1 492.7 350.4 492.2C350.8 491.7 352 490.7 352.4 490.7C352.9 490.6 355 492.2 355.5 491.7C355.9 491.1 357.1 484.4 357.5 484.1C357.8 483.9 359.5 488.2 360 488.7C360.5 489.2 362.9 490 363.5 490.2C364 490.3 365.9 490.1 366.5 490.2C367 490.3 369.3 491.3 370 491.2C370.7 491 374.3 488.7 375.1 488.3C375.8 487.9 378.2 486.3 379.1 486.1C379.9 485.9 384.2 486.1 385.1 485.8C386 485.5 389.3 483.3 390.1 482.8C390.9 482.2 394.3 479.9 395.1 479.3C396 478.6 399.5 475.6 400.1 474.7C400.8 473.9 402.6 470.5 403.1 469.2C403.6 467.9 405.6 460.3 406.2 459.2C406.7 458.1 409.6 457.2 410.2 456.2C410.7 455.2 412.3 447.7 412.7 447.2C413.1 446.6 414.3 449.7 414.7 449.2C415.1 448.7 417.2 441.9 417.7 441.1C418.2 440.4 419.8 440.6 420.2 440.1C420.6 439.7 421.8 436.2 422.2 435.6C422.6 435 424.6 433.9 425.2 433.1C425.8 432.4 428.7 427.2 429.2 426.6C429.7 426 430.7 426.5 431.2 425.6C431.7 424.7 434.7 416.9 435.3 416.1C435.8 415.2 436.8 415.6 437.3 415.1C437.7 414.5 439.8 409.6 440.3 409C440.7 408.5 441.9 408.7 442.3 408.5C442.6 408.3 443.9 406 444.3 406.5C444.6 407.1 446 413.2 446.3 415.1C446.6 416.9 448 427.3 448.3 429.1C448.5 430.9 449 436 449.3 436.1C449.5 436.2 451 431.1 451.3 430.1C451.6 429.1 452.9 424.4 453.3 424.1C453.7 423.8 455.4 427.1 455.8 426.6C456.2 426 457.3 418.3 457.8 417.6C458.3 416.8 461.3 419.2 461.8 418.1C462.4 416.9 464 405.3 464.3 404C464.7 402.7 465.9 403.1 466.4 402.5C466.8 401.9 468.9 397.4 469.3 396.7C469.7 396 470.7 393.8 471.1 394.2C471.4 394.5 472.9 399.7 473.3 401.2C473.7 402.7 475.5 412.5 475.8 412.2C476.1 411.9 476.8 398.9 477.3 397.7C477.8 396.4 480.7 397.9 481.3 397.2C481.9 396.4 483.9 388.6 484.3 388.6C484.7 388.6 485.9 395.8 486.3 397.2C486.7 398.6 488.9 404.4 489.3 405.2C489.7 406 490.9 406.7 491.3 406.2C491.8 405.7 493.9 400.3 494.3 399.7C494.8 399.1 495.9 398.6 496.4 398.7C496.9 398.8 499.8 400.1 500.4 400.7C501 401.2 502.9 404.4 503.4 405.2C503.9 406 505.9 409.7 506.4 409.7C506.8 409.7 508.5 405.7 508.9 405.2C509.3 404.7 510.9 403.9 511.4 403.7C511.9 403.4 514.9 402.3 515.4 402.2C515.9 402.1 517 402.7 517.4 402.7C517.8 402.7 520 401.8 520.4 402.2C520.9 402.6 522 407.6 522.4 407.7C522.9 407.8 525 404.1 525.5 403.2C525.9 402.3 527.6 396.3 528 397.2C528.3 398 529.2 413.1 529.5 413.2C529.7 413.4 530.8 400.4 531 399.2" fill="none" stroke="#000000" stroke-width="2.1" stroke-linejoin="round" clip-path="url(#clip01)"/>
<path d="M80 549.6C80.8 549.6 88.4 549.5 90 549.5C91.7 549.4 98.4 548.9 100.1 548.8C101.7 548.6 108.4 548.2 110.1 548.1C111.8 547.9 118.5 547.4 120.1 547.3C121.8 547.1 128.5 546.9 130.2 546.8C131.8 546.7 138.5 546.2 140.2 546.1C141.9 545.9 148.6 545 150.2 544.7C151.9 544.5 158.6 543.4 160.3 543C161.9 542.7 169 541.3 170.3 541C171.6 540.8 174.5 539.9 175.3 539.7C176.2 539.5 179.1 539 180.3 538.7C181.6 538.5 188.7 537.1 190.4 536.7C192 536.3 199.1 534.5 200.4 534.2C201.7 533.9 205.4 532.9 206.4 532.7C207.4 532.6 211.6 532.3 212.4 532.4C213.3 532.5 215.8 533.2 216.5 533.4C217.1 533.6 219.7 534.8 220.5 535C221.2 535.2 224.7 535.9 225.5 536C226.3 536.1 229.4 536.2 230 536.2C230.6 536.3 231.4 536.7 232.1 536.7C232.8 536.7 237.4 536.3 238.1 536.4C238.9 536.4 240.7 537.4 241.1 537.4C241.6 537.4 242.8 537 243.1 536.7C243.5 536.3 244.8 533.8 245.2 533.2C245.5 532.6 246.7 529.8 247.2 529.2C247.6 528.5 249.6 525.8 250.2 525.2C250.8 524.5 253.4 522.2 254.2 521.6C254.9 521.1 258.4 518.9 259.2 518.6C260 518.4 263.5 518.2 264.2 518.3C265 518.4 267.7 519.4 268.2 519.6C268.7 519.8 269.7 520.9 270.2 520.6C270.7 520.4 273.5 517.1 274.2 516.9C275 516.8 278.4 518.6 279.3 518.6C280.1 518.7 283.5 517.6 284.3 517.6C285 517.6 287.8 518.7 288.3 518.6C288.8 518.5 290.3 516.9 290.8 516.6C291.3 516.4 293.6 516 294.3 515.6C295 515.3 298.6 513.2 299.3 512.6C300.1 512 302.7 508.8 303.3 508.1C304 507.4 306.8 504.5 307.4 504.1C307.9 503.6 309.9 502.9 310.4 502.6C310.9 502.3 312.9 500.8 313.4 500.6C313.9 500.4 315.9 500.5 316.4 500.1C316.9 499.6 318.9 495.9 319.4 495.6C319.9 495.2 321.8 495.9 322.4 496.1C323 496.2 325.8 497.3 326.4 497.1C327.1 496.8 329.8 493.5 330.4 493C331.1 492.6 333.8 492.1 334.4 492C335.1 492 337.5 492.5 338 492C338.5 491.6 340.1 487.8 340.5 487C340.8 486.2 341.6 483.2 342 482.5C342.4 481.9 344.9 479.5 345.4 479.1C346 478.8 348 478 348.4 478.1C348.8 478.2 350 480.1 350.4 480.1C350.9 480.2 353 479.2 353.4 478.6C353.9 478.1 355.1 473.4 355.5 473.6C355.8 473.8 357 481.2 357.5 481.1C357.9 481.1 360 474.2 360.5 473.1C361 472 363 468.3 363.5 467.6C364 466.9 365.9 465.7 366.5 465.1C367 464.5 369.5 461.1 370 460.6C370.5 460 371.5 458.4 372 458.2C372.5 458 375.4 457.6 376.1 457.7C376.7 457.8 379.1 459.6 379.6 459.2C380 458.8 381.2 453.8 381.6 453.2C381.9 452.6 383.5 451.8 384.1 451.7C384.6 451.5 387.4 451.6 388.1 451.7C388.8 451.7 391.5 452.4 392.1 452.2C392.7 452 394.5 449.5 395.1 449.2C395.7 448.8 399 448.1 399.6 448.2C400.3 448.2 402.5 449.8 403.1 450.2C403.8 450.5 406.6 451.8 407.2 452.2C407.7 452.6 409.7 454.3 410.2 454.7C410.6 455.1 411.8 457 412.2 457.2C412.6 457.4 414.2 456.9 414.7 457.2C415.1 457.4 417.1 459.9 417.7 460.2C418.3 460.5 421.3 460.4 422.2 460.4C423.1 460.4 427.4 460.3 428.2 460.2C429.1 460.1 431.6 458.9 432.2 458.7C432.9 458.4 435.6 457.4 436.3 457.2C436.9 456.9 439.5 456 440.3 455.7C441 455.4 444.6 453.9 445.3 453.2C446 452.5 447.9 447.9 448.3 447.2C448.7 446.4 449.8 444.9 450.3 444.6C450.8 444.4 453.7 444.4 454.3 444.6C454.9 444.9 457.4 447.8 457.8 447.7C458.3 447.5 459.5 443.7 459.8 443.1C460.2 442.6 461.5 440.7 461.8 440.6C462.2 440.6 463.9 442.5 464.3 442.6C464.8 442.8 466.9 442.3 467.4 442.1C467.9 442 469.9 441 470.4 440.6C470.9 440.3 472.9 438 473.4 437.6C473.9 437.2 475.8 436.4 476.4 436.1C477 435.9 479.7 434.9 480.4 434.6C481.1 434.3 483.9 432.4 484.4 432.1C485 431.9 486.5 431.9 486.9 431.6C487.3 431.4 489 429.4 489.4 429.1C489.9 428.8 491.9 427.9 492.4 427.6C492.9 427.3 495 425.7 495.5 425.6C495.9 425.5 497.5 426.3 498 426.1C498.4 425.9 500 423.5 500.5 423.1C500.9 422.7 502.9 421.7 503.5 421.1C504 420.5 506.4 416.5 507 416.1C507.5 415.7 509.5 416.4 510 416.3C510.5 416.1 513 414.4 513.4 414.2C513.9 414.1 515 414.7 515.4 414.2C515.8 413.7 517.5 408.8 517.9 408.2C518.3 407.6 520 407.5 520.4 407.2C520.9 406.9 522.9 404.6 523.4 404.2C523.9 403.8 526 402.9 526.5 402.2C526.9 401.4 528.7 395.8 529 395.2C529.3 394.5 529.8 393.8 530 394.2C530.1 394.5 530.9 398.8 531 399.2" fill="none" stroke="#1f77b4" stroke-width="2.1" stroke-linejoin="round" clip-path="url(#clip01)"/>
<path d="M80 546.8C80.7 546.6 84.6 545.5 86 545.3C87.4 545 90.6 544.7 92 544.7C93.4 544.8 96.7 545.6 98.1 545.8C99.5 545.9 102.7 546.3 104.1 546.3C105.5 546.3 108.2 545.9 110.1 545.8C112 545.6 118 545 120.1 544.7C122.2 544.5 126.3 543.5 128.2 543.2C130 543 134.3 542.4 136.2 542.2C138.1 542.1 142.3 542 144.2 541.7C146.1 541.5 150.4 540.6 152.2 540.2C154.1 539.9 158.4 539.1 160.3 538.7C162.1 538.4 166.7 537.3 168.3 537C169.9 536.7 172.9 536.3 174.3 536.2C175.7 536.2 178.9 536.8 180.3 536.7C181.7 536.7 185.2 535.9 186.4 535.7C187.5 535.5 189.3 535.4 190.4 535.2C191.4 535 194 534.6 195.4 534.2C196.8 533.9 200.7 532.9 202.4 532.2C204.2 531.5 208.6 529.1 210.4 528.2C212.3 527.3 216.8 525.4 218.5 524.7C220.1 523.9 223.1 522.4 224.5 521.7C225.8 520.9 228.8 519 230 518.2C231.2 517.3 234.1 515.4 235.1 514.6C236.2 513.8 238.3 511.7 239.1 511.1C239.9 510.5 241.5 509.3 242.1 509.1C242.8 508.9 244.1 509 244.6 509.6C245.2 510.2 246.5 513.7 247.2 514.1C247.8 514.5 249.3 513.6 250.2 513.1C251 512.6 253.2 510.9 254.2 510.1C255.1 509.3 257.1 507.1 258.2 506.1C259.2 505.1 261.9 502.5 263.2 501.6C264.5 500.6 267.9 498.6 269.2 498.1C270.5 497.6 273.1 497.7 274.2 497.3C275.4 496.8 278.1 494.8 279.3 494C280.4 493.3 283.1 491.9 284.3 491C285.5 490.2 288.1 487.8 289.3 487C290.5 486.3 293.1 484.9 294.3 484.5C295.5 484.1 298.3 483.6 299.3 483.5C300.4 483.5 302.3 484.2 303.3 484C304.4 483.8 307.2 482 308.4 481.5C309.5 481 312.1 480.1 313.3 479.6C314.5 479.2 317.2 478.2 318.3 477.6C319.5 477 322.2 475.3 323.3 474.6C324.5 474 327.2 472.5 328.4 472.1C329.5 471.7 332.2 471.7 333.4 471.1C334.5 470.5 337.3 467.6 338.4 467.1C339.4 466.6 341.4 466.9 342.4 466.6C343.5 466.2 346.3 464.8 347.4 464.1C348.6 463.4 351.3 461.4 352.4 460.6C353.6 459.7 356.3 457.5 357.5 457.1C358.6 456.6 361.4 457.2 362.5 457.1C363.5 456.9 365.6 456.2 366.5 456.1C367.4 455.9 369 456.1 370 455.6C371 455 373.9 452 375.1 451.2C376.2 450.4 379 448.8 380.1 448.7C381.1 448.5 383 450.5 384.1 450.2C385.1 449.9 388 447 389.1 446.2C390.2 445.3 392.1 443.8 393.1 443.1C394.2 442.4 397 441 398.1 440.1C399.3 439.3 402 437.1 403.1 436.1C404.3 435.2 407 433.1 408.2 432.1C409.3 431.1 412 428.7 413.2 427.6C414.3 426.5 417.1 423.6 418.2 422.6C419.2 421.5 421.3 419.3 422.2 418.6C423.1 417.9 425.2 417.1 426.2 416.6C427.3 416 430.1 414.4 431.2 413.5C432.4 412.7 435.1 410.5 436.3 409.5C437.4 408.6 440.1 406 441.3 405.5C442.4 405 445.2 404.9 446.3 405C447.3 405.1 449.2 406.7 450.3 406.5C451.4 406.3 454.3 404.4 455.3 403.5C456.4 402.6 458.2 399.7 459.2 398.7C460.3 397.7 463.1 395.9 464.2 395.2C465.4 394.4 468.2 392.7 469.3 392.2C470.3 391.6 472.5 390.8 473.3 390.7C474.1 390.5 475.5 391.5 476.3 391.2C477.1 390.8 479.2 388.3 480.3 387.6C481.4 387 484.1 386 485.3 385.6C486.5 385.2 489.2 384.6 490.3 384.1C491.5 383.7 494.2 382.1 495.4 381.6C496.5 381.1 499.2 379.8 500.4 379.6C501.5 379.4 504.2 380.1 505.4 379.6C506.6 379.1 509.3 376 510.4 375.1C511.5 374.2 513.4 372.6 514.4 372.1C515.5 371.6 518.3 371 519.4 370.6C520.6 370.2 523.3 368.8 524.4 368.6C525.6 368.4 528.7 368.8 529.5 368.9C530.2 369 530.8 369.5 531 369.6" fill="none" stroke="#ff7f0e" stroke-width="2.1" stroke-linejoin="round" stroke-dasharray="7.77 3.36" clip-path="url(#clip01)"/>
<path d="M80 547.3C80.7 547.1 84.6 546.4 86 546.3C87.4 546.1 90.6 545.9 92 546.1C93.4 546.2 96.7 547.1 98.1 547.3C99.5 547.4 102.7 547.3 104.1 547.3C105.5 547.2 108.2 546.9 110.1 546.8C112 546.6 118 546 120.1 545.8C122.2 545.5 126.3 544.9 128.2 544.7C130 544.6 134.3 544.5 136.2 544.4C138.1 544.4 142.3 544.4 144.2 544.2C146.1 544 150.4 543.1 152.2 542.7C154.1 542.4 158.4 541.6 160.3 541.2C162.1 540.8 166.7 539.5 168.3 539.2C169.9 538.9 173.1 538.7 174.3 538.7C175.5 538.8 177.2 539.5 178.3 539.7C179.5 540 182.9 540.7 184.3 540.7C185.8 540.8 188.7 540.5 190.4 540.2C192 540 196.5 539.2 198.4 538.7C200.3 538.3 204.8 536.9 206.4 536.2C208.1 535.6 211 534 212.4 533.2C213.8 532.4 217.1 530.1 218.5 529.2C219.9 528.3 223.1 526.5 224.5 525.7C225.8 524.9 228.8 523.1 230 522.2C231.2 521.2 234.1 518.6 235.1 517.6C236.2 516.7 238.3 514.9 239.1 514.1C239.9 513.4 241.6 511.3 242.1 511.1C242.7 510.9 243.7 511.5 244.1 512.1C244.6 512.7 245.6 515.2 246.2 516.1C246.7 517 248.5 519.3 249.2 519.6C249.9 519.9 251.4 519.2 252.2 518.6C253 518 255.3 515.4 256.2 514.6C257.1 513.9 259.3 512.8 260.2 512.1C261.1 511.5 263.3 509.8 264.2 509.1C265.2 508.4 267.3 506.6 268.2 506.1C269.2 505.6 271.3 505.3 272.2 505.1C273.2 504.8 275.3 504.7 276.3 504.1C277.2 503.5 279.3 500.9 280.3 500.1C281.2 499.2 283.3 497.5 284.3 496.6C285.2 495.6 287.4 492.6 288.3 492C289.2 491.5 291.4 491.5 292.3 491.5C293.2 491.5 295.4 492.2 296.3 492C297.3 491.9 299.3 490.7 300.3 490.5C301.4 490.4 304.2 491.2 305.4 491C306.5 490.9 309.3 489.3 310.4 489C311.4 488.8 313.3 489.2 314.4 489C315.4 488.9 318.2 488.3 319.4 487.5C320.6 486.7 323.3 482.8 324.3 482.1C325.4 481.5 327.4 481.7 328.4 481.6C329.3 481.6 331.4 482 332.4 481.6C333.3 481.2 335.5 478.4 336.4 478.1C337.3 477.8 339.3 479.2 340.4 479.1C341.5 479 344.2 477.7 345.4 477.1C346.6 476.6 349.4 475.3 350.4 474.6C351.5 473.9 353.6 472 354.4 471.1C355.3 470.2 356.8 467.4 357.5 467.1C358.2 466.8 359.6 468.2 360.5 468.6C361.3 468.9 363.4 469.5 364.5 470.1C365.6 470.7 368.9 473.4 370 473.6C371.1 473.9 373.1 473 374 472.2C375 471.5 377.4 467.9 378.1 467.2C378.8 466.6 379.5 466.4 380.1 466.7C380.7 467.1 382.4 469.8 383.1 470.2C383.8 470.6 385.3 470.9 386.1 470.2C386.9 469.5 389.3 465.3 390.1 464.2C390.9 463.2 392.3 461.8 393.1 461.2C393.9 460.6 396.2 459.5 397.1 458.7C398 457.9 399.8 455.7 400.6 454.7C401.5 453.6 403.3 451 404.1 449.7C405 448.3 407.1 444.5 408.2 443.1C409.2 441.7 412.1 438.8 413.2 437.6C414.2 436.5 416.3 434 417.2 433.1C418.1 432.2 420.3 430.7 421.2 430.1C422.1 429.5 424.2 428.7 425.2 428.1C426.3 427.4 429.2 425.5 430.2 424.6C431.3 423.6 433.3 421 434.2 420.1C435.2 419.1 437.3 417.1 438.3 416.6C439.2 416 441.3 415.2 442.3 415.1C443.2 414.9 445.4 415.1 446.3 415.6C447.2 416 449.4 419.1 450.3 419.1C451.2 419.1 453.4 416.3 454.3 415.6C455.3 414.8 457.4 413.4 458.3 412.5C459.3 411.7 461.4 409.3 462.3 408.5C463.3 407.8 465.4 406.5 466.4 406C467.3 405.5 469.7 404.8 470.4 404C471 403.3 471.3 399.9 471.8 399.7C472.2 399.5 473.6 402 474.3 402.2C474.9 402.4 476.6 401.5 477.3 401.2C478 400.9 479.5 400.2 480.3 399.7C481.1 399.2 483.4 397.3 484.3 397.2C485.3 397 487.4 398.2 488.3 398.2C489.3 398.1 491.4 396.9 492.3 396.7C493.3 396.4 495.4 396.5 496.4 396.2C497.3 395.9 499.3 394.3 500.4 394.2C501.4 394 504.2 394.9 505.4 394.7C506.6 394.4 509.2 392.8 510.4 392.2C511.6 391.5 514.2 389.7 515.4 389.1C516.6 388.6 519.4 387.4 520.4 387.1C521.5 386.8 523.6 386.9 524.4 386.6C525.3 386.3 526.9 384.5 527.5 384.6C528 384.8 529.1 388.3 529.5 388.1C529.9 388 530.8 383.7 531 383.1" fill="none" stroke="#2ca02c" stroke-width="2.1" stroke-linejoin="round" stroke-dasharray="13.44 3.36 2.10 3.36" clip-path="url(#clip01)"/>
<path d="M80 547.8C80.3 547.7 83.3 546.9 84 546.8C84.7 546.6 87.4 545.6 88 545.5C88.7 545.3 91.4 545.2 92 545.3C92.7 545.3 95.4 546.2 96.1 546.5C96.7 546.7 99.3 548.1 100.1 548.3C100.8 548.4 104.2 548.3 105.1 548.3C105.9 548.3 109.3 548.3 110.1 548.3C110.9 548.2 114.3 547.8 115.1 547.8C116 547.7 119 547.3 120.1 547.3C121.2 547.2 126.8 546.8 128.2 546.8C129.5 546.7 134.8 546.8 136.2 546.8C137.5 546.7 142.9 546.5 144.2 546.5C145.6 546.4 150.9 545.9 152.2 545.8C153.6 545.6 159.1 545 160.3 544.7C161.4 544.5 165.4 543.5 166.3 543.2C167.2 543 170.6 542.2 171.3 542C172 541.9 173.8 541.1 174.3 541.2C174.8 541.3 176.7 543 177.3 543.2C177.9 543.5 180.6 544.6 181.3 544.7C182.1 544.9 185.4 545.1 186.4 545.1C187.3 545 191.4 544.4 192.4 544.2C193.4 544.1 197.4 543.9 198.4 543.7C199.4 543.6 203.4 543 204.4 542.7C205.4 542.5 209.6 541.1 210.4 540.7C211.3 540.4 213.8 539.1 214.4 538.7C215.1 538.3 217.8 536.2 218.5 535.7C219.1 535.2 221.8 533.2 222.5 532.7C223.1 532.2 225.9 530.2 226.5 529.7C227.1 529.2 229.3 527.3 230 526.7C230.7 526.1 234.4 522.9 235.1 522.1C235.9 521.4 238.6 518.8 239.1 518.1C239.7 517.4 241.2 513.9 241.6 513.6C242.1 513.3 243.8 513.6 244.1 514.1C244.5 514.7 245.4 519.1 245.7 520.1C245.9 521.1 247.4 525.4 247.7 526.2C248 526.9 248.7 528.6 249.2 528.7C249.6 528.7 252.4 527.6 253.2 527.2C253.9 526.8 257.4 524.1 258.2 523.9C259 523.8 262.5 525.3 263.2 525.2C264 525 266.5 522 267.2 521.6C268 521.3 271.5 521.3 272.2 521.1C273 521 275.7 520.1 276.3 519.6C276.8 519.1 278.8 515.9 279.3 515.1C279.8 514.4 281.7 511.4 282.3 510.6C282.8 509.8 285.3 506.6 285.8 505.6C286.3 504.5 287.8 498.5 288.3 498.1C288.8 497.6 290.9 500.4 291.3 500.6C291.7 500.7 292.9 499.9 293.3 500.1C293.8 500.2 296.3 502.5 296.8 502.6C297.3 502.7 298.9 500.9 299.3 501.1C299.7 501.2 301.4 503.6 301.8 504.1C302.3 504.5 304 506.6 304.3 506.6C304.7 506.6 306 504 306.4 504.1C306.7 504.1 308 507.1 308.4 507.1C308.7 507.1 310.4 504.2 310.9 504.1C311.4 504 313.9 505.7 314.4 505.6C314.9 505.5 316.5 502.6 316.9 502.6C317.3 502.5 318.9 505.1 319.4 505.1C319.9 505 322.8 502.7 323.4 502.1C324 501.4 325.8 497.8 326.4 497.6C327 497.3 330.2 499.3 330.9 499.1C331.7 498.9 334.9 495.7 335.5 495.1C336 494.4 337.6 491.7 338 491.5C338.3 491.3 339.2 492 339.5 492.5C339.8 493 341 497.1 341.5 497.6C342 498 344.8 498.3 345.4 498.2C346 498.1 348 497.2 348.4 496.7C348.8 496.2 350.1 492.7 350.4 492.2C350.8 491.7 352 490.7 352.4 490.7C352.9 490.6 355 492.2 355.5 491.7C355.9 491.1 357.1 484.4 357.5 484.1C357.8 483.9 359.5 488.2 360 488.7C360.5 489.2 362.9 490 363.5 490.2C364 490.3 365.9 490.1 366.5 490.2C367 490.3 369.3 491.3 370 491.2C370.7 491 374.3 488.7 375.1 488.3C375.8 487.9 378.2 486.3 379.1 486.1C379.9 485.9 384.2 486.1 385.1 485.8C386 485.5 389.3 483.3 390.1 482.8C390.9 482.2 394.3 479.9 395.1 479.3C396 478.6 399.5 475.6 400.1 474.7C400.8 473.9 402.6 470.5 403.1 469.2C403.6 467.9 405.6 460.3 406.2 459.2C406.7 458.1 409.6 457.2 410.2 456.2C410.7 455.2 412.3 447.7 412.7 447.2C413.1 446.6 414.3 449.7 414.7 449.2C415.1 448.7 417.2 441.9 417.7 441.1C418.2 440.4 419.8 440.6 420.2 440.1C420.6 439.7 421.8 436.2 422.2 435.6C422.6 435 424.6 433.9 425.2 433.1C425.8 432.4 428.7 427.2 429.2 426.6C429.7 426 430.7 426.5 431.2 425.6C431.7 424.7 434.7 416.9 435.3 416.1C435.8 415.2 436.8 415.6 437.3 415.1C437.7 414.5 439.8 409.6 440.3 409C440.7 408.5 441.9 408.7 442.3 408.5C442.6 408.3 443.9 406 444.3 406.5C444.6 407.1 446 413.2 446.3 415.1C446.6 416.9 448 427.3 448.3 429.1C448.5 430.9 449 436 449.3 436.1C449.5 436.2 451 431.1 451.3 430.1C451.6 429.1 452.9 424.4 453.3 424.1C453.7 423.8 455.4 427.1 455.8 426.6C456.2 426 457.3 418.3 457.8 417.6C458.3 416.8 461.3 419.2 461.8 418.1C462.4 416.9 464 405.3 464.3 404C464.7 402.7 465.9 403.1 466.4 402.5C466.8 401.9 468.9 397.4 469.3 396.7C469.7 396 470.7 393.8 471.1 394.2C471.4 394.5 472.9 399.7 473.3 401.2C473.7 402.7 475.5 412.5 475.8 412.2C476.1 411.9 476.8 398.9 477.3 397.7C477.8 396.4 480.7 397.9 481.3 397.2C481.9 396.4 483.9 388.6 484.3 388.6C484.7 388.6 485.9 395.8 486.3 397.2C486.7 398.6 488.9 404.4 489.3 405.2C489.7 406 490.9 406.7 491.3 406.2C491.8 405.7 493.9 400.3 494.3 399.7C494.8 399.1 495.9 398.6 496.4 398.7C496.9 398.8 499.8 400.1 500.4 400.7C501 401.2 502.9 404.4 503.4 405.2C503.9 406 505.9 409.7 506.4 409.7C506.8 409.7 508.5 405.7 508.9 405.2C509.3 404.7 510.9 403.9 511.4 403.7C511.9 403.4 514.9 402.3 515.4 402.2C515.9 402.1 517 402.7 517.4 402.7C517.8 402.7 520 401.8 520.4 402.2C520.9 402.6 522 407.6 522.4 407.7C522.9 407.8 525 404.1 525.5 403.2C525.9 402.3 527.6 396.3 528 397.2C528.3 398 529.2 413.1 529.5 413.2C529.7 413.4 530.8 400.4 531 399.2" fill="none" stroke="#d62728" stroke-width="2.1" stroke-linejoin="round" stroke-dasharray="2.10 3.46" clip-path="url(#clip01)"/>
<rect x="79.4" y="319.1" width="452" height="240.4" fill="none" stroke="#000" stroke-width="0.8"/>
<line x1="79.4" y1="559.5" x2="79.4" y2="563.1" stroke="#000" stroke-width="0.8"/>
<line x1="170.36" y1="559.5" x2="170.36" y2="563.1" stroke="#000" stroke-width="0.8"/>
<line x1="234.89" y1="559.5" x2="234.89" y2="563.1" stroke="#000" stroke-width="0.8"/>
<line x1="284.95" y1="559.5" x2="284.95" y2="563.1" stroke="#000" stroke-width="0.8"/>
<line x1="325.85" y1="559.5" x2="325.85" y2="563.1" stroke="#000" stroke-width="0.8"/>
<line x1="390.39" y1="559.5" x2="390.39" y2="563.1" stroke="#000" stroke-width="0.8"/>
<line x1="440.44" y1="559.5" x2="440.44" y2="563.1" stroke="#000" stroke-width="0.8"/>
<line x1="531.4" y1="559.5" x2="531.4" y2="563.1" stroke="#000" stroke-width="0.8"/>
<line x1="360.43" y1="559.5" x2="360.43" y2="561.5" stroke="#000" stroke-width="0.6"/>
<line x1="416.81" y1="559.5" x2="416.81" y2="561.5" stroke="#000" stroke-width="0.6"/>
<line x1="75.8" y1="550.11" x2="79.4" y2="550.11" stroke="#000" stroke-width="0.8"/>
<line x1="75.8" y1="511.6" x2="79.4" y2="511.6" stroke="#000" stroke-width="0.8"/>
<line x1="75.8" y1="473.1" x2="79.4" y2="473.1" stroke="#000" stroke-width="0.8"/>
<line x1="75.8" y1="434.6" x2="79.4" y2="434.6" stroke="#000" stroke-width="0.8"/>
<line x1="75.8" y1="396.1" x2="79.4" y2="396.1" stroke="#000" stroke-width="0.8"/>
<line x1="75.8" y1="357.6" x2="79.4" y2="357.6" stroke="#000" stroke-width="0.8"/>
<line x1="75.8" y1="319.1" x2="79.4" y2="319.1" stroke="#000" stroke-width="0.8"/>
<text x="79.4" y="575.7" font-size="12.7" font-weight="bold" text-anchor="middle" fill="#000" >2</text>
<text x="170.36" y="575.7" font-size="12.7" font-weight="bold" text-anchor="middle" fill="#000" >3</text>
<text x="234.89" y="575.7" font-size="12.7" font-weight="bold" text-anchor="middle" fill="#000" >4</text>
<text x="284.95" y="575.7" font-size="12.7" font-weight="bold" text-anchor="middle" fill="#000" >5</text>
<text x="325.85" y="575.7" font-size="12.7" font-weight="bold" text-anchor="middle" fill="#000" >6</text>
<text x="390.39" y="575.7" font-size="12.7" font-weight="bold" text-anchor="middle" fill="#000" >8</text>
<text x="440.44" y="575.7" font-size="12.7" font-weight="bold" text-anchor="middle" fill="#000" >10</text>
<text x="531.4" y="575.7" font-size="12.7" font-weight="bold" text-anchor="middle" fill="#000" >15</text>
<text x="71.8" y="554.71" font-size="12.7" font-weight="bold" text-anchor="end" fill="#000" >0</text>
<text x="71.8" y="516.2" font-size="12.7" font-weight="bold" text-anchor="end" fill="#000" >1000</text>
<text x="71.8" y="477.7" font-size="12.7" font-weight="bold" text-anchor="end" fill="#000" >2000</text>
<text x="71.8" y="439.2" font-size="12.7" font-weight="bold" text-anchor="end" fill="#000" >3000</text>
<text x="71.8" y="400.7" font-size="12.7" font-weight="bold" text-anchor="end" fill="#000" >4000</text>
<text x="71.8" y="362.2" font-size="12.7" font-weight="bold" text-anchor="end" fill="#000" >5000</text>
<text x="71.8" y="323.7" font-size="12.7" font-weight="bold" text-anchor="end" fill="#000" >6000</text>
<text x="0" y="0" font-size="12.55" font-weight="bold" text-anchor="middle" fill="#000" transform="translate(27.2,439.3) rotate(-90)">F<tspan font-weight="normal" font-size="9" dy="2.5">p</tspan><tspan dy="-2.5">/F</tspan><tspan font-weight="normal" font-size="8.5" dy="2.5">⋆</tspan><tspan dy="-2.5"> (ppm)</tspan></text>
<text x="305.4" y="593.2" font-size="12.55" font-weight="bold" text-anchor="middle" fill="#000" ><tspan font-style="italic" font-weight="normal">λ</tspan> (<tspan font-style="italic" font-weight="normal">μ</tspan>m)</text>
<rect x="86.4" y="326.95" width="123" height="128.3" rx="2.2" fill="#6c6c6c" opacity="0.9"/>
<rect x="84.3" y="324.85" width="123" height="128.3" rx="2.2" fill="#fff" stroke="#d0d0d0" stroke-width="1"/>
<rect x="88.35" y="329.2" width="20.9" height="7.4" fill="#add8e6" fill-opacity="0.3" stroke="#add8e6" stroke-opacity="0.3" stroke-width="0.8"/>
<text x="118.3" y="336.75" font-size="10.45" font-weight="normal" text-anchor="start" fill="#000" >F322W2 Region</text>
<rect x="88.35" y="344.35" width="20.9" height="7.4" fill="#90ee90" fill-opacity="0.3" stroke="#90ee90" stroke-opacity="0.3" stroke-width="0.8"/>
<text x="118.3" y="351.9" font-size="10.45" font-weight="normal" text-anchor="start" fill="#000" >F444W Region</text>
<rect x="88.35" y="359.5" width="20.9" height="7.4" fill="#f08080" fill-opacity="0.3" stroke="#f08080" stroke-opacity="0.3" stroke-width="0.8"/>
<text x="118.3" y="367.05" font-size="10.45" font-weight="normal" text-anchor="start" fill="#000" >MIRI LRS Region</text>
<line x1="88.35" y1="379.2" x2="109.25" y2="379.2" stroke="#1f77b4" stroke-width="2.1" stroke-linecap="square"/>
<text x="118.3" y="383.05" font-size="10.45" font-weight="normal" text-anchor="start" fill="#000" >0.1 <tspan font-style="italic">μ</tspan>m</text>
<line x1="88.35" y1="395.15" x2="109.25" y2="395.15" stroke="#ff7f0e" stroke-width="2.1" stroke-dasharray="7.77 3.36"/>
<text x="118.3" y="399" font-size="10.45" font-weight="normal" text-anchor="start" fill="#000" >1 <tspan font-style="italic">μ</tspan>m</text>
<line x1="88.35" y1="411.05" x2="109.25" y2="411.05" stroke="#2ca02c" stroke-width="2.1" stroke-dasharray="13.44 3.36 2.10 3.36"/>
<text x="118.3" y="414.9" font-size="10.45" font-weight="normal" text-anchor="start" fill="#000" >5 <tspan font-style="italic">μ</tspan>m</text>
<line x1="88.35" y1="427.15" x2="109.25" y2="427.15" stroke="#d62728" stroke-width="2.1" stroke-dasharray="2.10 3.46"/>
<text x="118.3" y="431" font-size="10.45" font-weight="normal" text-anchor="start" fill="#000" >10 <tspan font-style="italic">μ</tspan>m</text>
<line x1="88.35" y1="443.15" x2="109.25" y2="443.15" stroke="#000000" stroke-width="2.1" stroke-linecap="square"/>
<text x="118.3" y="447" font-size="10.45" font-weight="normal" text-anchor="start" fill="#000" >Cloudless GCM</text>
<rect x="601.13" y="319.1" width="107.15" height="240.4" fill="#add8e6" fill-opacity="0.3"/>
<rect x="704.61" y="319.1" width="55.64" height="240.4" fill="#90ee90" fill-opacity="0.3"/>
<rect x="771.45" y="319.1" width="181.56" height="240.4" fill="#f08080" fill-opacity="0.3"/>
<line x1="555.6" y1="319.1" x2="555.6" y2="559.5" stroke="#b0b0b0" stroke-width="0.8"/>
<line x1="646.56" y1="319.1" x2="646.56" y2="559.5" stroke="#b0b0b0" stroke-width="0.8"/>
<line x1="711.09" y1="319.1" x2="711.09" y2="559.5" stroke="#b0b0b0" stroke-width="0.8"/>
<line x1="761.15" y1="319.1" x2="761.15" y2="559.5" stroke="#b0b0b0" stroke-width="0.8"/>
<line x1="802.05" y1="319.1" x2="802.05" y2="559.5" stroke="#b0b0b0" stroke-width="0.8"/>
<line x1="866.59" y1="319.1" x2="866.59" y2="559.5" stroke="#b0b0b0" stroke-width="0.8"/>
<line x1="916.64" y1="319.1" x2="916.64" y2="559.5" stroke="#b0b0b0" stroke-width="0.8"/>
<line x1="1007.6" y1="319.1" x2="1007.6" y2="559.5" stroke="#b0b0b0" stroke-width="0.8"/>
<line x1="555.6" y1="550.11" x2="1007.6" y2="550.11" stroke="#b0b0b0" stroke-width="0.8"/>
<line x1="555.6" y1="511.6" x2="1007.6" y2="511.6" stroke="#b0b0b0" stroke-width="0.8"/>
<line x1="555.6" y1="473.1" x2="1007.6" y2="473.1" stroke="#b0b0b0" stroke-width="0.8"/>
<line x1="555.6" y1="434.6" x2="1007.6" y2="434.6" stroke="#b0b0b0" stroke-width="0.8"/>
<line x1="555.6" y1="396.1" x2="1007.6" y2="396.1" stroke="#b0b0b0" stroke-width="0.8"/>
<line x1="555.6" y1="357.6" x2="1007.6" y2="357.6" stroke="#b0b0b0" stroke-width="0.8"/>
<line x1="555.6" y1="319.1" x2="1007.6" y2="319.1" stroke="#b0b0b0" stroke-width="0.8"/>
<g clip-path="url(#clip11)"><use href="#dE" x="476.2" y="0"/></g>
<path d="M556.2 547.8C556.5 547.7 559.5 546.9 560.2 546.8C560.9 546.6 563.6 545.6 564.2 545.5C564.9 545.3 567.6 545.2 568.2 545.3C568.9 545.3 571.6 546.2 572.3 546.5C572.9 546.7 575.5 548.1 576.3 548.3C577 548.4 580.4 548.3 581.3 548.3C582.1 548.3 585.5 548.3 586.3 548.3C587.1 548.2 590.5 547.8 591.3 547.8C592.2 547.7 595.2 547.3 596.3 547.3C597.4 547.2 603 546.8 604.4 546.8C605.7 546.7 611 546.8 612.4 546.8C613.7 546.7 619.1 546.5 620.4 546.5C621.8 546.4 627.1 545.9 628.4 545.8C629.8 545.6 635.3 545 636.5 544.7C637.6 544.5 641.6 543.5 642.5 543.2C643.4 543 646.8 542.2 647.5 542C648.2 541.9 650 541.1 650.5 541.2C651 541.3 652.9 543 653.5 543.2C654.1 543.5 656.8 544.6 657.5 544.7C658.3 544.9 661.6 545.1 662.6 545.1C663.5 545 667.6 544.4 668.6 544.2C669.6 544.1 673.6 543.9 674.6 543.7C675.6 543.6 679.6 543 680.6 542.7C681.6 542.5 685.8 541.1 686.6 540.7C687.5 540.4 690 539.1 690.6 538.7C691.3 538.3 694 536.2 694.7 535.7C695.3 535.2 698 533.2 698.7 532.7C699.3 532.2 702.1 530.2 702.7 529.7C703.3 529.2 705.5 527.3 706.2 526.7C706.9 526.1 710.6 522.9 711.3 522.1C712.1 521.4 714.8 518.8 715.3 518.1C715.9 517.4 717.4 513.9 717.8 513.6C718.3 513.3 720 513.6 720.3 514.1C720.7 514.7 721.6 519.1 721.9 520.1C722.1 521.1 723.6 525.4 723.9 526.2C724.2 526.9 724.9 528.6 725.4 528.7C725.8 528.7 728.6 527.6 729.4 527.2C730.1 526.8 733.6 524.1 734.4 523.9C735.2 523.8 738.7 525.3 739.4 525.2C740.2 525 742.7 522 743.4 521.6C744.2 521.3 747.7 521.3 748.4 521.1C749.2 521 751.9 520.1 752.5 519.6C753 519.1 755 515.9 755.5 515.1C756 514.4 757.9 511.4 758.5 510.6C759 509.8 761.5 506.6 762 505.6C762.5 504.5 764 498.5 764.5 498.1C765 497.6 767.1 500.4 767.5 500.6C767.9 500.7 769.1 499.9 769.5 500.1C770 500.2 772.5 502.5 773 502.6C773.5 502.7 775.1 500.9 775.5 501.1C775.9 501.2 777.6 503.6 778 504.1C778.5 504.5 780.2 506.6 780.5 506.6C780.9 506.6 782.2 504 782.6 504.1C782.9 504.1 784.2 507.1 784.6 507.1C784.9 507.1 786.6 504.2 787.1 504.1C787.6 504 790.1 505.7 790.6 505.6C791.1 505.5 792.7 502.6 793.1 502.6C793.5 502.5 795.1 505.1 795.6 505.1C796.1 505 799 502.7 799.6 502.1C800.2 501.4 802 497.8 802.6 497.6C803.2 497.3 806.4 499.3 807.1 499.1C807.9 498.9 811.1 495.7 811.7 495.1C812.2 494.4 813.8 491.7 814.2 491.5C814.5 491.3 815.4 492 815.7 492.5C816 493 817.2 497.1 817.7 497.6C818.2 498 821 498.3 821.6 498.2C822.2 498.1 824.2 497.2 824.6 496.7C825 496.2 826.3 492.7 826.6 492.2C827 491.7 828.2 490.7 828.6 490.7C829.1 490.6 831.2 492.2 831.7 491.7C832.1 491.1 833.3 484.4 833.7 484.1C834 483.9 835.7 488.2 836.2 488.7C836.7 489.2 839.1 490 839.7 490.2C840.2 490.3 842.1 490.1 842.7 490.2C843.2 490.3 845.5 491.3 846.2 491.2C846.9 491 850.5 488.7 851.3 488.3C852 487.9 854.4 486.3 855.3 486.1C856.1 485.9 860.4 486.1 861.3 485.8C862.2 485.5 865.5 483.3 866.3 482.8C867.1 482.2 870.5 479.9 871.3 479.3C872.2 478.6 875.7 475.6 876.3 474.7C877 473.9 878.8 470.5 879.3 469.2C879.8 467.9 881.8 460.3 882.4 459.2C882.9 458.1 885.8 457.2 886.4 456.2C886.9 455.2 888.5 447.7 888.9 447.2C889.3 446.6 890.5 449.7 890.9 449.2C891.3 448.7 893.4 441.9 893.9 441.1C894.4 440.4 896 440.6 896.4 440.1C896.8 439.7 898 436.2 898.4 435.6C898.8 435 900.8 433.9 901.4 433.1C902 432.4 904.9 427.2 905.4 426.6C905.9 426 906.9 426.5 907.4 425.6C907.9 424.7 910.9 416.9 911.5 416.1C912 415.2 913 415.6 913.5 415.1C913.9 414.5 916 409.6 916.5 409C916.9 408.5 918.1 408.7 918.5 408.5C918.8 408.3 920.1 406 920.5 406.5C920.8 407.1 922.2 413.2 922.5 415.1C922.8 416.9 924.2 427.3 924.5 429.1C924.7 430.9 925.2 436 925.5 436.1C925.7 436.2 927.2 431.1 927.5 430.1C927.8 429.1 929.1 424.4 929.5 424.1C929.9 423.8 931.6 427.1 932 426.6C932.4 426 933.5 418.3 934 417.6C934.5 416.8 937.5 419.2 938 418.1C938.6 416.9 940.2 405.3 940.5 404C940.9 402.7 942.1 403.1 942.6 402.5C943 401.9 945.1 397.4 945.5 396.7C945.9 396 946.9 393.8 947.3 394.2C947.6 394.5 949.1 399.7 949.5 401.2C949.9 402.7 951.7 412.5 952 412.2C952.3 411.9 953 398.9 953.5 397.7C954 396.4 956.9 397.9 957.5 397.2C958.1 396.4 960.1 388.6 960.5 388.6C960.9 388.6 962.1 395.8 962.5 397.2C962.9 398.6 965.1 404.4 965.5 405.2C965.9 406 967.1 406.7 967.5 406.2C968 405.7 970.1 400.3 970.5 399.7C971 399.1 972.1 398.6 972.6 398.7C973.1 398.8 976 400.1 976.6 400.7C977.2 401.2 979.1 404.4 979.6 405.2C980.1 406 982.1 409.7 982.6 409.7C983 409.7 984.7 405.7 985.1 405.2C985.5 404.7 987.1 403.9 987.6 403.7C988.1 403.4 991.1 402.3 991.6 402.2C992.1 402.1 993.2 402.7 993.6 402.7C994 402.7 996.2 401.8 996.6 402.2C997.1 402.6 998.2 407.6 998.6 407.7C999.1 407.8 1001.2 404.1 1001.7 403.2C1002.1 402.3 1003.8 396.3 1004.2 397.2C1004.5 398 1005.4 413.1 1005.7 413.2C1005.9 413.4 1007 400.4 1007.2 399.2" fill="none" stroke="#000000" stroke-width="2.1" stroke-linejoin="round" clip-path="url(#clip11)"/>
<path d="M556.2 547.3C556.5 547.2 559.5 546.4 560.2 546.3C560.9 546.1 563.6 545.1 564.2 545C564.9 544.8 567.6 544.7 568.2 544.8C568.9 544.8 571.6 545.7 572.3 546C572.9 546.2 575.5 547.6 576.3 547.8C577 547.9 580.4 547.8 581.3 547.8C582.1 547.8 585.5 547.8 586.3 547.8C587.1 547.7 590.5 547.3 591.3 547.3C592.2 547.2 595.2 546.8 596.3 546.8C597.4 546.7 603 546.3 604.4 546.3C605.7 546.2 611 546.3 612.4 546.3C613.7 546.2 619.1 546 620.4 546C621.8 545.9 627.1 545.4 628.4 545.3C629.8 545.1 635.3 544.5 636.5 544.2C637.6 544 641.6 543 642.5 542.7C643.4 542.5 646.8 541.7 647.5 541.5C648.2 541.4 650 540.6 650.5 540.7C651 540.8 652.9 542.5 653.5 542.7C654.1 543 656.8 544.1 657.5 544.2C658.3 544.4 661.6 544.6 662.6 544.6C663.5 544.5 667.6 543.9 668.6 543.7C669.6 543.6 673.6 543.4 674.6 543.2C675.6 543.1 679.6 542.5 680.6 542.2C681.6 542 685.8 540.6 686.6 540.2C687.5 539.9 690 538.6 690.6 538.2C691.3 537.8 694 535.7 694.7 535.2C695.3 534.7 698 532.7 698.7 532.2C699.3 531.7 702.1 529.7 702.7 529.2C703.3 528.7 705.5 526.8 706.2 526.2C706.9 525.6 710.6 522.4 711.3 521.6C712.1 520.9 714.8 518.3 715.3 517.6C715.9 516.9 717.4 513.4 717.8 513.1C718.3 512.8 720 513.1 720.3 513.6C720.7 514.2 721.6 518.6 721.9 519.6C722.1 520.6 723.6 524.9 723.9 525.7C724.2 526.4 724.9 528.1 725.4 528.2C725.8 528.2 728.6 527.1 729.4 526.7C730.1 526.3 733.6 523.6 734.4 523.4C735.2 523.3 738.7 524.8 739.4 524.7C740.2 524.5 742.7 521.5 743.4 521.1C744.2 520.8 747.7 520.8 748.4 520.6C749.2 520.5 751.9 519.6 752.5 519.1C753 518.6 755 515.4 755.5 514.6C756 513.9 757.9 510.9 758.5 510.1C759 509.3 761.5 506.1 762 505C762.5 504 764 497.8 764.5 497.4C765 496.9 767.1 499.5 767.5 499.7C767.9 499.8 769.1 498.9 769.5 499.1C770 499.2 772.5 501.3 773 501.4C773.5 501.4 775.1 499.6 775.5 499.7C775.9 499.8 777.6 502.1 778 502.5C778.5 503 780.2 504.9 780.5 504.8C780.9 504.8 782.2 502.2 782.6 502.2C782.9 502.2 784.2 505.1 784.6 505C784.9 505 786.6 502 787.1 501.8C787.6 501.7 790.1 503.2 790.6 503C791.1 502.9 792.7 499.9 793.1 499.8C793.5 499.8 795.1 502.2 795.6 502.1C796.1 502.1 799 499.5 799.6 498.8C800.2 498.1 802 494.3 802.6 494C803.2 493.7 806.4 495.3 807.1 495C807.9 494.7 811.1 491.2 811.7 490.5C812.2 489.8 813.8 486.9 814.2 486.7C814.5 486.4 815.4 487 815.7 487.5C816 488 817.2 491.9 817.7 492.3C818.2 492.7 821 492.7 821.6 492.6C822.2 492.5 824.2 491.4 824.6 490.9C825 490.4 826.3 486.8 826.6 486.3C827 485.7 828.2 484.7 828.6 484.6C829.1 484.6 831.2 486 831.7 485.5C832.1 484.9 833.3 478.1 833.7 477.8C834 477.6 835.7 481.7 836.2 482.2C836.7 482.7 839.1 483.4 839.7 483.5C840.2 483.6 842.1 483.2 842.7 483.3C843.2 483.4 845.5 484.4 846.2 484.3C846.9 484.3 850.5 482.6 851.3 482.3C852 482 854.4 480.9 855.3 480.8C856.1 480.7 860.4 481.6 861.3 481.4C862.2 481.2 865.5 478.9 866.3 478.4C867.1 477.8 870.5 475.7 871.3 475.2C872.2 474.7 875.7 473 876.3 472.3C877 471.6 878.8 468.4 879.3 467.1C879.8 465.9 881.8 458.3 882.4 457.2C882.9 456.2 885.8 455.4 886.4 454.4C886.9 453.4 888.5 446 888.9 445.5C889.3 444.9 890.5 448 890.9 447.5C891.3 447.1 893.4 440.4 893.9 439.6C894.4 438.9 896 439.2 896.4 438.7C896.8 438.3 898 434.8 898.4 434.2C898.8 433.7 900.8 432.5 901.4 431.7C902 431 904.9 425.9 905.4 425.3C905.9 424.6 906.9 425.1 907.4 424.3C907.9 423.4 910.9 415.6 911.5 414.8C912 413.9 913 414.4 913.5 413.8C913.9 413.2 916 408.3 916.5 407.8C916.9 407.2 918.1 407.5 918.5 407.3C918.8 407.1 920.1 404.7 920.5 405.3C920.8 405.8 922.2 411.9 922.5 413.8C922.8 415.7 924.2 426.1 924.5 427.9C924.7 429.6 925.2 434.8 925.5 434.9C925.7 435 927.2 429.9 927.5 428.9C927.8 427.9 929.1 423.2 929.5 422.9C929.9 422.6 931.6 426 932 425.4C932.4 424.9 933.5 417.1 934 416.4C934.5 415.7 937.5 418.1 938 416.9C938.6 415.8 940.2 404.2 940.5 402.9C940.9 401.6 942.1 402 942.6 401.4C943 400.8 945.1 396.3 945.5 395.6C945.9 394.9 946.9 392.7 947.3 393.1C947.6 393.5 949.1 398.6 949.5 400.1C949.9 401.6 951.7 411.5 952 411.2C952.3 410.9 953 397.9 953.5 396.6C954 395.4 956.9 396.9 957.5 396.1C958.1 395.4 960.1 387.6 960.5 387.6C960.9 387.6 962.1 394.7 962.5 396.1C962.9 397.5 965.1 403.4 965.5 404.1C965.9 404.9 967.1 405.6 967.5 405.1C968 404.7 970.1 399.2 970.5 398.6C971 398 972.1 397.5 972.6 397.6C973.1 397.7 976 399.1 976.6 399.6C977.2 400.2 979.1 403.4 979.6 404.1C980.1 404.9 982.1 408.7 982.6 408.7C983 408.7 984.7 404.6 985.1 404.1C985.5 403.6 987.1 402.9 987.6 402.6C988.1 402.4 991.1 401.2 991.6 401.1C992.1 401 993.2 401.6 993.6 401.6C994 401.6 996.2 400.7 996.6 401.1C997.1 401.5 998.2 406.6 998.6 406.6C999.1 406.7 1001.2 403 1001.7 402.1C1002.1 401.3 1003.8 395.3 1004.2 396.1C1004.5 397 1005.4 412 1005.7 412.2C1005.9 412.3 1007 399.3 1007.2 398.1" fill="none" stroke="#1f77b4" stroke-width="2.1" stroke-linejoin="round" clip-path="url(#clip11)"/>
<path d="M556.2 547.6C556.5 547.5 559.5 546.7 560.2 546.6C560.9 546.4 563.6 545.4 564.2 545.3C564.9 545.1 567.6 545 568.2 545.1C568.9 545.1 571.6 546 572.3 546.3C572.9 546.5 575.5 547.9 576.3 548.1C577 548.2 580.4 548.1 581.3 548.1C582.1 548.1 585.5 548.1 586.3 548.1C587.1 548 590.5 547.6 591.3 547.6C592.2 547.5 595.2 547.1 596.3 547.1C597.4 547 603 546.6 604.4 546.6C605.7 546.5 611 546.6 612.4 546.6C613.7 546.5 619.1 546.3 620.4 546.3C621.8 546.2 627.1 545.7 628.4 545.6C629.8 545.4 635.3 544.8 636.5 544.5C637.6 544.3 641.6 543.3 642.5 543C643.4 542.8 646.8 542 647.5 541.8C648.2 541.7 650 540.9 650.5 541C651 541.1 652.9 542.8 653.5 543C654.1 543.3 656.8 544.4 657.5 544.5C658.3 544.7 661.6 544.9 662.6 544.9C663.5 544.8 667.6 544.2 668.6 544C669.6 543.9 673.6 543.7 674.6 543.5C675.6 543.4 679.6 542.8 680.6 542.5C681.6 542.3 685.8 540.9 686.6 540.5C687.5 540.2 690 538.9 690.6 538.5C691.3 538.1 694 536 694.7 535.5C695.3 535 698 533 698.7 532.5C699.3 532 702.1 530 702.7 529.5C703.3 529 705.5 527.1 706.2 526.5C706.9 525.9 710.6 522.7 711.3 521.9C712.1 521.2 714.8 518.6 715.3 517.9C715.9 517.2 717.4 513.7 717.8 513.4C718.3 513.1 720 513.4 720.3 513.9C720.7 514.5 721.6 518.9 721.9 519.9C722.1 520.9 723.6 525.2 723.9 526C724.2 526.7 724.9 528.4 725.4 528.5C725.8 528.5 728.6 527.4 729.4 527C730.1 526.6 733.6 523.9 734.4 523.7C735.2 523.6 738.7 525.1 739.4 525C740.2 524.8 742.7 521.8 743.4 521.4C744.2 521.1 747.7 521.1 748.4 520.9C749.2 520.8 751.9 519.9 752.5 519.4C753 518.9 755 515.7 755.5 514.9C756 514.2 757.9 511.2 758.5 510.4C759 509.6 761.5 506.4 762 505.3C762.5 504.3 764 498.1 764.5 497.7C765 497.3 767.1 499.9 767.5 500.1C767.9 500.2 769.1 499.3 769.5 499.5C770 499.6 772.5 501.7 773 501.8C773.5 501.9 775.1 500.1 775.5 500.2C775.9 500.3 777.6 502.6 778 503C778.5 503.5 780.2 505.4 780.5 505.4C780.9 505.3 782.2 502.7 782.6 502.7C782.9 502.8 784.2 505.6 784.6 505.6C784.9 505.6 786.6 502.6 787.1 502.4C787.6 502.3 790.1 503.9 790.6 503.7C791.1 503.6 792.7 500.6 793.1 500.5C793.5 500.5 795.1 503 795.6 502.9C796.1 502.8 799 500.3 799.6 499.6C800.2 498.9 802 495.1 802.6 494.8C803.2 494.5 806.4 496.2 807.1 495.9C807.9 495.6 811.1 492.2 811.7 491.5C812.2 490.8 813.8 488 814.2 487.8C814.5 487.5 815.4 488.1 815.7 488.6C816 489.1 817.2 493 817.7 493.5C818.2 493.9 821 493.9 821.6 493.8C822.2 493.7 824.2 492.7 824.6 492.1C825 491.6 826.3 488 826.6 487.5C827 487 828.2 486 828.6 485.9C829.1 485.9 831.2 487.3 831.7 486.8C832.1 486.2 833.3 479.4 833.7 479.2C834 478.9 835.7 483.1 836.2 483.6C836.7 484 839.1 484.8 839.7 484.9C840.2 485 842.1 484.7 842.7 484.8C843.2 484.8 845.5 485.9 846.2 485.8C846.9 485.7 850.5 483.9 851.3 483.6C852 483.3 854.4 482.1 855.3 482C856.1 481.9 860.4 482.6 861.3 482.4C862.2 482.1 865.5 479.9 866.3 479.4C867.1 478.8 870.5 476.7 871.3 476.1C872.2 475.6 875.7 473.6 876.3 472.9C877 472.2 878.8 469 879.3 467.7C879.8 466.5 881.8 458.9 882.4 457.8C882.9 456.7 885.8 455.9 886.4 454.9C886.9 453.9 888.5 446.5 888.9 446C889.3 445.4 890.5 448.5 890.9 448C891.3 447.6 893.4 440.9 893.9 440.1C894.4 439.4 896 439.7 896.4 439.2C896.8 438.7 898 435.3 898.4 434.7C898.8 434.1 900.8 433 901.4 432.2C902 431.5 904.9 426.3 905.4 425.7C905.9 425.1 906.9 425.6 907.4 424.7C907.9 423.8 910.9 416.1 911.5 415.2C912 414.3 913 414.8 913.5 414.2C913.9 413.6 916 408.7 916.5 408.2C916.9 407.7 918.1 407.9 918.5 407.7C918.8 407.5 920.1 405.2 920.5 405.7C920.8 406.3 922.2 412.4 922.5 414.3C922.8 416.1 924.2 426.6 924.5 428.3C924.7 430.1 925.2 435.3 925.5 435.3C925.7 435.4 927.2 430.3 927.5 429.3C927.8 428.3 929.1 423.6 929.5 423.3C929.9 423 931.6 426.4 932 425.9C932.4 425.3 933.5 417.5 934 416.8C934.5 416.1 937.5 418.5 938 417.4C938.6 416.2 940.2 404.6 940.5 403.3C940.9 402 942.1 402.4 942.6 401.8C943 401.2 945.1 396.7 945.5 396C945.9 395.3 946.9 393.1 947.3 393.5C947.6 393.9 949.1 399 949.5 400.5C949.9 402 951.7 411.9 952 411.6C952.3 411.3 953 398.3 953.5 397C954 395.8 956.9 397.3 957.5 396.5C958.1 395.8 960.1 388 960.5 388C960.9 388 962.1 395.1 962.5 396.5C962.9 397.9 965.1 403.8 965.5 404.5C965.9 405.3 967.1 406 967.5 405.5C968 405.1 970.1 399.6 970.5 399C971 398.4 972.1 397.9 972.6 398C973.1 398.1 976 399.5 976.6 400C977.2 400.6 979.1 403.8 979.6 404.5C980.1 405.3 982.1 409.1 982.6 409.1C983 409.1 984.7 405 985.1 404.5C985.5 404 987.1 403.3 987.6 403C988.1 402.8 991.1 401.6 991.6 401.5C992.1 401.4 993.2 402 993.6 402C994 402 996.2 401.1 996.6 401.5C997.1 401.9 998.2 407 998.6 407C999.1 407.1 1001.2 403.4 1001.7 402.5C1002.1 401.7 1003.8 395.7 1004.2 396.5C1004.5 397.4 1005.4 412.4 1005.7 412.6C1005.9 412.7 1007 399.7 1007.2 398.5" fill="none" stroke="#ff7f0e" stroke-width="2.1" stroke-linejoin="round" stroke-dasharray="7.77 3.36" clip-path="url(#clip11)"/>
<path d="M556.2 547.7C556.5 547.6 559.5 546.8 560.2 546.7C560.9 546.5 563.6 545.5 564.2 545.4C564.9 545.2 567.6 545.1 568.2 545.2C568.9 545.2 571.6 546.1 572.3 546.4C572.9 546.6 575.5 548 576.3 548.2C577 548.3 580.4 548.2 581.3 548.2C582.1 548.2 585.5 548.2 586.3 548.2C587.1 548.1 590.5 547.7 591.3 547.7C592.2 547.6 595.2 547.2 596.3 547.2C597.4 547.1 603 546.7 604.4 546.7C605.7 546.6 611 546.7 612.4 546.7C613.7 546.6 619.1 546.4 620.4 546.4C621.8 546.3 627.1 545.8 628.4 545.7C629.8 545.5 635.3 544.9 636.5 544.6C637.6 544.4 641.6 543.4 642.5 543.1C643.4 542.9 646.8 542.1 647.5 541.9C648.2 541.8 650 541 650.5 541.1C651 541.2 652.9 542.9 653.5 543.1C654.1 543.4 656.8 544.5 657.5 544.6C658.3 544.8 661.6 545 662.6 545C663.5 544.9 667.6 544.3 668.6 544.1C669.6 544 673.6 543.8 674.6 543.6C675.6 543.5 679.6 542.9 680.6 542.6C681.6 542.4 685.8 541 686.6 540.6C687.5 540.3 690 539 690.6 538.6C691.3 538.2 694 536.1 694.7 535.6C695.3 535.1 698 533.1 698.7 532.6C699.3 532.1 702.1 530.1 702.7 529.6C703.3 529.1 705.5 527.2 706.2 526.6C706.9 526 710.6 522.8 711.3 522C712.1 521.3 714.8 518.7 715.3 518C715.9 517.3 717.4 513.8 717.8 513.5C718.3 513.2 720 513.5 720.3 514C720.7 514.6 721.6 519 721.9 520C722.1 521 723.6 525.3 723.9 526.1C724.2 526.8 724.9 528.5 725.4 528.6C725.8 528.6 728.6 527.5 729.4 527.1C730.1 526.7 733.6 524 734.4 523.8C735.2 523.7 738.7 525.2 739.4 525.1C740.2 524.9 742.7 521.9 743.4 521.5C744.2 521.2 747.7 521.2 748.4 521C749.2 520.9 751.9 520 752.5 519.5C753 519 755 515.8 755.5 515C756 514.3 757.9 511.3 758.5 510.5C759 509.7 761.5 506.5 762 505.4C762.5 504.4 764 498.2 764.5 497.8C765 497.4 767.1 500 767.5 500.2C767.9 500.3 769.1 499.4 769.5 499.6C770 499.7 772.5 501.9 773 501.9C773.5 502 775.1 500.2 775.5 500.3C775.9 500.4 777.6 502.8 778 503.2C778.5 503.6 780.2 505.6 780.5 505.5C780.9 505.5 782.2 502.9 782.6 502.9C782.9 502.9 784.2 505.8 784.6 505.8C784.9 505.8 786.6 502.8 787.1 502.6C787.6 502.5 790.1 504.1 790.6 503.9C791.1 503.8 792.7 500.8 793.1 500.8C793.5 500.7 795.1 503.2 795.6 503.1C796.1 503.1 799 500.6 799.6 499.9C800.2 499.2 802 495.4 802.6 495.1C803.2 494.8 806.4 496.5 807.1 496.2C807.9 496 811.1 492.5 811.7 491.9C812.2 491.2 813.8 488.4 814.2 488.1C814.5 487.9 815.4 488.5 815.7 489C816 489.5 817.2 493.4 817.7 493.8C818.2 494.3 821 494.3 821.6 494.2C822.2 494.1 824.2 493.1 824.6 492.6C825 492 826.3 488.5 826.6 488C827 487.4 828.2 486.4 828.6 486.4C829.1 486.3 831.2 487.8 831.7 487.2C832.1 486.7 833.3 479.9 833.7 479.6C834 479.4 835.7 483.6 836.2 484C836.7 484.5 839.1 485.3 839.7 485.4C840.2 485.5 842.1 485.2 842.7 485.2C843.2 485.3 845.5 486.4 846.2 486.3C846.9 486.2 850.5 484.4 851.3 484.1C852 483.7 854.4 482.5 855.3 482.4C856.1 482.3 860.4 482.9 861.3 482.7C862.2 482.5 865.5 480.2 866.3 479.7C867.1 479.2 870.5 477 871.3 476.5C872.2 475.9 875.7 473.9 876.3 473.2C877 472.5 878.8 469.2 879.3 467.9C879.8 466.7 881.8 459.1 882.4 458C882.9 456.9 885.8 456.1 886.4 455.1C886.9 454.1 888.5 446.7 888.9 446.1C889.3 445.6 890.5 448.7 890.9 448.2C891.3 447.7 893.4 441 893.9 440.3C894.4 439.5 896 439.8 896.4 439.4C896.8 438.9 898 435.4 898.4 434.8C898.8 434.3 900.8 433.1 901.4 432.4C902 431.6 904.9 426.5 905.4 425.9C905.9 425.2 906.9 425.7 907.4 424.9C907.9 424 910.9 416.2 911.5 415.4C912 414.5 913 414.9 913.5 414.4C913.9 413.8 916 408.9 916.5 408.4C916.9 407.8 918.1 408.1 918.5 407.9C918.8 407.7 920.1 405.3 920.5 405.9C920.8 406.4 922.2 412.5 922.5 414.4C922.8 416.3 924.2 426.7 924.5 428.5C924.7 430.2 925.2 435.4 925.5 435.5C925.7 435.6 927.2 430.5 927.5 429.5C927.8 428.5 929.1 423.8 929.5 423.5C929.9 423.2 931.6 426.5 932 426C932.4 425.4 933.5 417.7 934 417C934.5 416.3 937.5 418.6 938 417.5C938.6 416.4 940.2 404.8 940.5 403.5C940.9 402.2 942.1 402.6 942.6 402C943 401.4 945.1 396.8 945.5 396.1C945.9 395.4 946.9 393.3 947.3 393.6C947.6 394 949.1 399.2 949.5 400.7C949.9 402.2 951.7 412 952 411.7C952.3 411.4 953 398.4 953.5 397.2C954 395.9 956.9 397.4 957.5 396.6C958.1 395.9 960.1 388.1 960.5 388.1C960.9 388.1 962.1 395.3 962.5 396.6C962.9 398 965.1 403.9 965.5 404.7C965.9 405.4 967.1 406.1 967.5 405.7C968 405.2 970.1 399.8 970.5 399.2C971 398.5 972.1 398.1 972.6 398.2C973.1 398.2 976 399.6 976.6 400.2C977.2 400.7 979.1 403.9 979.6 404.7C980.1 405.4 982.1 409.2 982.6 409.2C983 409.2 984.7 405.2 985.1 404.7C985.5 404.2 987.1 403.4 987.6 403.2C988.1 402.9 991.1 401.7 991.6 401.7C992.1 401.6 993.2 402.2 993.6 402.2C994 402.2 996.2 401.2 996.6 401.7C997.1 402.1 998.2 407.1 998.6 407.2C999.1 407.3 1001.2 403.5 1001.7 402.7C1002.1 401.8 1003.8 395.8 1004.2 396.6C1004.5 397.5 1005.4 412.5 1005.7 412.7C1005.9 412.9 1007 399.8 1007.2 398.7" fill="none" stroke="#2ca02c" stroke-width="2.1" stroke-linejoin="round" stroke-dasharray="13.44 3.36 2.10 3.36" clip-path="url(#clip11)"/>
<path d="M556.2 547.8C556.5 547.7 559.5 546.9 560.2 546.8C560.9 546.6 563.6 545.6 564.2 545.5C564.9 545.3 567.6 545.2 568.2 545.3C568.9 545.3 571.6 546.2 572.3 546.5C572.9 546.7 575.5 548.1 576.3 548.3C577 548.4 580.4 548.3 581.3 548.3C582.1 548.3 585.5 548.3 586.3 548.3C587.1 548.2 590.5 547.8 591.3 547.8C592.2 547.7 595.2 547.3 596.3 547.3C597.4 547.2 603 546.8 604.4 546.8C605.7 546.7 611 546.8 612.4 546.8C613.7 546.7 619.1 546.5 620.4 546.5C621.8 546.4 627.1 545.9 628.4 545.8C629.8 545.6 635.3 545 636.5 544.7C637.6 544.5 641.6 543.5 642.5 543.2C643.4 543 646.8 542.2 647.5 542C648.2 541.9 650 541.1 650.5 541.2C651 541.3 652.9 543 653.5 543.2C654.1 543.5 656.8 544.6 657.5 544.7C658.3 544.9 661.6 545.1 662.6 545.1C663.5 545 667.6 544.4 668.6 544.2C669.6 544.1 673.6 543.9 674.6 543.7C675.6 543.6 679.6 543 680.6 542.7C681.6 542.5 685.8 541.1 686.6 540.7C687.5 540.4 690 539.1 690.6 538.7C691.3 538.3 694 536.2 694.7 535.7C695.3 535.2 698 533.2 698.7 532.7C699.3 532.2 702.1 530.2 702.7 529.7C703.3 529.2 705.5 527.3 706.2 526.7C706.9 526.1 710.6 522.9 711.3 522.1C712.1 521.4 714.8 518.8 715.3 518.1C715.9 517.4 717.4 513.9 717.8 513.6C718.3 513.3 720 513.6 720.3 514.1C720.7 514.7 721.6 519.1 721.9 520.1C722.1 521.1 723.6 525.4 723.9 526.2C724.2 526.9 724.9 528.6 725.4 528.7C725.8 528.7 728.6 527.6 729.4 527.2C730.1 526.8 733.6 524.1 734.4 523.9C735.2 523.8 738.7 525.3 739.4 525.2C740.2 525 742.7 522 743.4 521.6C744.2 521.3 747.7 521.3 748.4 521.1C749.2 521 751.9 520.1 752.5 519.6C753 519.1 755 515.9 755.5 515.1C756 514.4 757.9 511.4 758.5 510.6C759 509.8 761.5 506.6 762 505.6C762.5 504.5 764 498.4 764.5 498C765 497.5 767.1 500.2 767.5 500.4C767.9 500.5 769.1 499.7 769.5 499.8C770 500 772.5 502.2 773 502.2C773.5 502.3 775.1 500.5 775.5 500.6C775.9 500.8 777.6 503.1 778 503.6C778.5 504 780.2 506 780.5 506C780.9 506 782.2 503.4 782.6 503.4C782.9 503.4 784.2 506.3 784.6 506.3C784.9 506.3 786.6 503.4 787.1 503.2C787.6 503.1 790.1 504.7 790.6 504.6C791.1 504.4 792.7 501.5 793.1 501.5C793.5 501.4 795.1 504 795.6 503.9C796.1 503.8 799 501.4 799.6 500.7C800.2 500.1 802 496.3 802.6 496.1C803.2 495.8 806.4 497.6 807.1 497.3C807.9 497.1 811.1 493.7 811.7 493C812.2 492.4 813.8 489.6 814.2 489.4C814.5 489.2 815.4 489.8 815.7 490.3C816 490.8 817.2 494.8 817.7 495.2C818.2 495.7 821 495.8 821.6 495.7C822.2 495.6 824.2 494.6 824.6 494.1C825 493.6 826.3 490 826.6 489.5C827 489 828.2 488 828.6 488C829.1 487.9 831.2 489.4 831.7 488.9C832.1 488.3 833.3 481.5 833.7 481.3C834 481 835.7 485.2 836.2 485.7C836.7 486.2 839.1 487 839.7 487.1C840.2 487.2 842.1 487 842.7 487C843.2 487.1 845.5 488.2 846.2 488.1C846.9 487.9 850.5 486 851.3 485.6C852 485.3 854.4 483.9 855.3 483.7C856.1 483.6 860.4 484.1 861.3 483.9C862.2 483.6 865.5 481.4 866.3 480.9C867.1 480.3 870.5 478.1 871.3 477.5C872.2 476.9 875.7 474.5 876.3 473.8C877 473 878.8 469.7 879.3 468.4C879.8 467.2 881.8 459.6 882.4 458.5C882.9 457.4 885.8 456.5 886.4 455.5C886.9 454.6 888.5 447.1 888.9 446.6C889.3 446 890.5 449.1 890.9 448.6C891.3 448.1 893.4 441.4 893.9 440.7C894.4 439.9 896 440.1 896.4 439.7C896.8 439.2 898 435.8 898.4 435.2C898.8 434.6 900.8 433.4 901.4 432.7C902 431.9 904.9 426.8 905.4 426.2C905.9 425.6 906.9 426.1 907.4 425.2C907.9 424.3 910.9 416.5 911.5 415.7C912 414.8 913 415.3 913.5 414.7C913.9 414.1 916 409.2 916.5 408.7C916.9 408.1 918.1 408.4 918.5 408.2C918.8 408 920.1 405.6 920.5 406.2C920.8 406.7 922.2 412.8 922.5 414.7C922.8 416.6 924.2 427 924.5 428.8C924.7 430.5 925.2 435.7 925.5 435.8C925.7 435.9 927.2 430.8 927.5 429.8C927.8 428.8 929.1 424 929.5 423.8C929.9 423.5 931.6 426.8 932 426.3C932.4 425.7 933.5 418 934 417.2C934.5 416.5 937.5 418.9 938 417.8C938.6 416.6 940.2 405 940.5 403.7C940.9 402.4 942.1 402.8 942.6 402.2C943 401.6 945.1 397.1 945.5 396.4C945.9 395.7 946.9 393.5 947.3 393.9C947.6 394.3 949.1 399.4 949.5 400.9C949.9 402.4 951.7 412.2 952 411.9C952.3 411.7 953 398.7 953.5 397.4C954 396.1 956.9 397.7 957.5 396.9C958.1 396.1 960.1 388.4 960.5 388.4C960.9 388.4 962.1 395.5 962.5 396.9C962.9 398.3 965.1 404.2 965.5 404.9C965.9 405.7 967.1 406.4 967.5 405.9C968 405.5 970.1 400 970.5 399.4C971 398.8 972.1 398.3 972.6 398.4C973.1 398.5 976 399.9 976.6 400.4C977.2 401 979.1 404.2 979.6 404.9C980.1 405.7 982.1 409.4 982.6 409.4C983 409.4 984.7 405.4 985.1 404.9C985.5 404.4 987.1 403.7 987.6 403.4C988.1 403.2 991.1 402 991.6 401.9C992.1 401.8 993.2 402.4 993.6 402.4C994 402.4 996.2 401.5 996.6 401.9C997.1 402.3 998.2 407.4 998.6 407.4C999.1 407.5 1001.2 403.8 1001.7 402.9C1002.1 402 1003.8 396.1 1004.2 396.9C1004.5 397.7 1005.4 412.8 1005.7 413C1005.9 413.1 1007 400.1 1007.2 398.9" fill="none" stroke="#d62728" stroke-width="2.1" stroke-linejoin="round" stroke-dasharray="2.10 3.46" clip-path="url(#clip11)"/>
<rect x="555.6" y="319.1" width="452" height="240.4" fill="none" stroke="#000" stroke-width="0.8"/>
<line x1="555.6" y1="559.5" x2="555.6" y2="563.1" stroke="#000" stroke-width="0.8"/>
<line x1="646.56" y1="559.5" x2="646.56" y2="563.1" stroke="#000" stroke-width="0.8"/>
<line x1="711.09" y1="559.5" x2="711.09" y2="563.1" stroke="#000" stroke-width="0.8"/>
<line x1="761.15" y1="559.5" x2="761.15" y2="563.1" stroke="#000" stroke-width="0.8"/>
<line x1="802.05" y1="559.5" x2="802.05" y2="563.1" stroke="#000" stroke-width="0.8"/>
<line x1="866.59" y1="559.5" x2="866.59" y2="563.1" stroke="#000" stroke-width="0.8"/>
<line x1="916.64" y1="559.5" x2="916.64" y2="563.1" stroke="#000" stroke-width="0.8"/>
<line x1="1007.6" y1="559.5" x2="1007.6" y2="563.1" stroke="#000" stroke-width="0.8"/>
<line x1="836.63" y1="559.5" x2="836.63" y2="561.5" stroke="#000" stroke-width="0.6"/>
<line x1="893.01" y1="559.5" x2="893.01" y2="561.5" stroke="#000" stroke-width="0.6"/>
<line x1="552" y1="550.11" x2="555.6" y2="550.11" stroke="#000" stroke-width="0.8"/>
<line x1="552" y1="511.6" x2="555.6" y2="511.6" stroke="#000" stroke-width="0.8"/>
<line x1="552" y1="473.1" x2="555.6" y2="473.1" stroke="#000" stroke-width="0.8"/>
<line x1="552" y1="434.6" x2="555.6" y2="434.6" stroke="#000" stroke-width="0.8"/>
<line x1="552" y1="396.1" x2="555.6" y2="396.1" stroke="#000" stroke-width="0.8"/>
<line x1="552" y1="357.6" x2="555.6" y2="357.6" stroke="#000" stroke-width="0.8"/>
<line x1="552" y1="319.1" x2="555.6" y2="319.1" stroke="#000" stroke-width="0.8"/>
<text x="555.6" y="575.7" font-size="12.7" font-weight="bold" text-anchor="middle" fill="#000" >2</text>
<text x="646.56" y="575.7" font-size="12.7" font-weight="bold" text-anchor="middle" fill="#000" >3</text>
<text x="711.09" y="575.7" font-size="12.7" font-weight="bold" text-anchor="middle" fill="#000" >4</text>
<text x="761.15" y="575.7" font-size="12.7" font-weight="bold" text-anchor="middle" fill="#000" >5</text>
<text x="802.05" y="575.7" font-size="12.7" font-weight="bold" text-anchor="middle" fill="#000" >6</text>
<text x="866.59" y="575.7" font-size="12.7" font-weight="bold" text-anchor="middle" fill="#000" >8</text>
<text x="916.64" y="575.7" font-size="12.7" font-weight="bold" text-anchor="middle" fill="#000" >10</text>
<text x="1007.6" y="575.7" font-size="12.7" font-weight="bold" text-anchor="middle" fill="#000" >15</text>
<text x="781.6" y="593.2" font-size="12.55" font-weight="bold" text-anchor="middle" fill="#000" ><tspan font-style="italic" font-weight="normal">λ</tspan> (<tspan font-style="italic" font-weight="normal">μ</tspan>m)</text>
<rect x="562.6" y="326.95" width="123" height="128.3" rx="2.2" fill="#6c6c6c" opacity="0.9"/>
<rect x="560.5" y="324.85" width="123" height="128.3" rx="2.2" fill="#fff" stroke="#d0d0d0" stroke-width="1"/>
<rect x="564.55" y="329.2" width="20.9" height="7.4" fill="#add8e6" fill-opacity="0.3" stroke="#add8e6" stroke-opacity="0.3" stroke-width="0.8"/>
<text x="594.5" y="336.75" font-size="10.45" font-weight="normal" text-anchor="start" fill="#000" >F322W2 Region</text>
<rect x="564.55" y="344.35" width="20.9" height="7.4" fill="#90ee90" fill-opacity="0.3" stroke="#90ee90" stroke-opacity="0.3" stroke-width="0.8"/>
<text x="594.5" y="351.9" font-size="10.45" font-weight="normal" text-anchor="start" fill="#000" >F444W Region</text>
<rect x="564.55" y="359.5" width="20.9" height="7.4" fill="#f08080" fill-opacity="0.3" stroke="#f08080" stroke-opacity="0.3" stroke-width="0.8"/>
<text x="594.5" y="367.05" font-size="10.45" font-weight="normal" text-anchor="start" fill="#000" >MIRI LRS Region</text>
<line x1="564.55" y1="379.2" x2="585.45" y2="379.2" stroke="#1f77b4" stroke-width="2.1" stroke-linecap="square"/>
<text x="594.5" y="383.05" font-size="10.45" font-weight="normal" text-anchor="start" fill="#000" >0.1 <tspan font-style="italic">μ</tspan>m</text>
<line x1="564.55" y1="395.15" x2="585.45" y2="395.15" stroke="#ff7f0e" stroke-width="2.1" stroke-dasharray="7.77 3.36"/>
<text x="594.5" y="399" font-size="10.45" font-weight="normal" text-anchor="start" fill="#000" >1 <tspan font-style="italic">μ</tspan>m</text>
<line x1="564.55" y1="411.05" x2="585.45" y2="411.05" stroke="#2ca02c" stroke-width="2.1" stroke-dasharray="13.44 3.36 2.10 3.36"/>
<text x="594.5" y="414.9" font-size="10.45" font-weight="normal" text-anchor="start" fill="#000" >5 <tspan font-style="italic">μ</tspan>m</text>
<line x1="564.55" y1="427.15" x2="585.45" y2="427.15" stroke="#d62728" stroke-width="2.1" stroke-dasharray="2.10 3.46"/>
<text x="594.5" y="431" font-size="10.45" font-weight="normal" text-anchor="start" fill="#000" >10 <tspan font-style="italic">μ</tspan>m</text>
<line x1="564.55" y1="443.15" x2="585.45" y2="443.15" stroke="#000000" stroke-width="2.1" stroke-linecap="square"/>
<text x="594.5" y="447" font-size="10.45" font-weight="normal" text-anchor="start" fill="#000" >Cloudless GCM</text>
<rect x="1077.33" y="319.1" width="107.15" height="240.4" fill="#add8e6" fill-opacity="0.3"/>
<rect x="1180.81" y="319.1" width="55.64" height="240.4" fill="#90ee90" fill-opacity="0.3"/>
<rect x="1247.65" y="319.1" width="181.56" height="240.4" fill="#f08080" fill-opacity="0.3"/>
<line x1="1031.8" y1="319.1" x2="1031.8" y2="559.5" stroke="#b0b0b0" stroke-width="0.8"/>
<line x1="1122.76" y1="319.1" x2="1122.76" y2="559.5" stroke="#b0b0b0" stroke-width="0.8"/>
<line x1="1187.29" y1="319.1" x2="1187.29" y2="559.5" stroke="#b0b0b0" stroke-width="0.8"/>
<line x1="1237.35" y1="319.1" x2="1237.35" y2="559.5" stroke="#b0b0b0" stroke-width="0.8"/>
<line x1="1278.25" y1="319.1" x2="1278.25" y2="559.5" stroke="#b0b0b0" stroke-width="0.8"/>
<line x1="1342.79" y1="319.1" x2="1342.79" y2="559.5" stroke="#b0b0b0" stroke-width="0.8"/>
<line x1="1392.84" y1="319.1" x2="1392.84" y2="559.5" stroke="#b0b0b0" stroke-width="0.8"/>
<line x1="1483.8" y1="319.1" x2="1483.8" y2="559.5" stroke="#b0b0b0" stroke-width="0.8"/>
<line x1="1031.8" y1="550.11" x2="1483.8" y2="550.11" stroke="#b0b0b0" stroke-width="0.8"/>
<line x1="1031.8" y1="511.6" x2="1483.8" y2="511.6" stroke="#b0b0b0" stroke-width="0.8"/>
<line x1="1031.8" y1="473.1" x2="1483.8" y2="473.1" stroke="#b0b0b0" stroke-width="0.8"/>
<line x1="1031.8" y1="434.6" x2="1483.8" y2="434.6" stroke="#b0b0b0" stroke-width="0.8"/>
<line x1="1031.8" y1="396.1" x2="1483.8" y2="396.1" stroke="#b0b0b0" stroke-width="0.8"/>
<line x1="1031.8" y1="357.6" x2="1483.8" y2="357.6" stroke="#b0b0b0" stroke-width="0.8"/>
<line x1="1031.8" y1="319.1" x2="1483.8" y2="319.1" stroke="#b0b0b0" stroke-width="0.8"/>
<g clip-path="url(#clip21)"><use href="#dE" x="952.4" y="0"/></g>
<path d="M1033 547.8C1033.4 547.6 1037.2 546.5 1038 546.3C1038.9 546 1042.2 545.3 1043 545.3C1043.9 545.3 1047.2 546 1048.1 546.3C1048.9 546.5 1052.2 548.1 1053.1 548.3C1054 548.4 1058.1 548.1 1059.1 548.1C1060.1 548 1064 548.1 1065.1 548.1C1066.2 548 1071 547.4 1072.1 547.3C1073.2 547.1 1077.2 546.8 1078.2 546.8C1079.2 546.7 1083.3 546.8 1084.2 546.8C1085.1 546.7 1088.4 546.4 1089.2 546.3C1089.9 546.1 1092.5 545.2 1093.2 545.3C1093.9 545.3 1096.5 546.8 1097.2 546.8C1098 546.8 1101.3 545.4 1102.2 545.3C1103.2 545.1 1107.3 544.9 1108.3 544.7C1109.2 544.6 1112.4 544 1113.3 543.7C1114.1 543.5 1117.5 542.5 1118.3 542.2C1119.1 542 1122.6 540.8 1123.3 540.7C1124.1 540.7 1126.7 541.1 1127.3 541.2C1127.9 541.4 1129.8 542 1130.3 542.2C1130.8 542.4 1132.7 543.6 1133.3 543.7C1134 543.9 1137.4 544.1 1138.4 544C1139.3 544 1143.4 543.4 1144.4 543.2C1145.4 543.1 1149.4 542.9 1150.4 542.7C1151.4 542.6 1155.5 542 1156.4 541.7C1157.3 541.5 1160.6 540.1 1161.4 539.7C1162.3 539.4 1165.6 538.2 1166.4 537.7C1167.3 537.3 1170.6 534.8 1171.5 534.2C1172.3 533.6 1175.6 531.3 1176.5 530.7C1177.4 530.1 1181.3 527.4 1182 526.7C1182.7 526 1184.4 522.9 1185.1 522.1C1185.8 521.3 1189.4 518 1190.1 517.1C1190.8 516.2 1192.7 511.8 1193.1 511.1C1193.5 510.4 1194.8 508.7 1195.1 508.6C1195.4 508.5 1196.3 509.1 1196.6 510.1C1196.9 511.1 1198.3 518.8 1198.6 520.1C1199 521.5 1200.3 525.6 1200.6 526.2C1201 526.7 1202.7 526.4 1203.1 526.4C1203.6 526.3 1205.2 525.7 1205.7 525.4C1206.2 525 1208.6 521.9 1209.2 521.6C1209.7 521.4 1211.7 522.6 1212.2 522.6C1212.7 522.6 1214.6 522 1215.2 521.6C1215.8 521.3 1218.6 519.1 1219.2 518.6C1219.8 518.1 1222.2 515.7 1222.7 515.6C1223.2 515.5 1224.8 517.2 1225.2 517.3C1225.7 517.4 1227.7 517.6 1228.2 517.1C1228.7 516.7 1230.7 512.9 1231.2 512.1C1231.7 511.3 1233.7 507.8 1234.2 507.1C1234.7 506.3 1236.8 503.9 1237.3 503.1C1237.7 502.3 1239.4 498.2 1239.8 497.6C1240.1 496.9 1241 495.1 1241.3 495.1C1241.6 495 1242.9 497.1 1243.3 497.3C1243.6 497.4 1244.8 496.5 1245.3 496.6C1245.7 496.6 1248.3 498 1248.8 498.1C1249.3 498.1 1251.3 497 1251.8 497.3C1252.3 497.5 1253.9 500.2 1254.3 500.6C1254.7 501 1255.9 502.1 1256.3 502.1C1256.7 502 1258.5 500 1258.8 500.1C1259.2 500.1 1260.5 502.6 1260.8 502.6C1261.2 502.6 1262.4 499.8 1262.8 499.8C1263.3 499.7 1265.3 502.1 1265.9 502.1C1266.4 502 1268.7 499.2 1269.4 499.1C1270 498.9 1272.8 500.3 1273.4 500.1C1274 499.8 1275.9 496.7 1276.4 496.1C1276.8 495.4 1278.5 492.7 1278.9 492.5C1279.3 492.4 1280.9 493.9 1281.4 494C1281.9 494.2 1283.9 494.9 1284.4 494.5C1284.9 494.2 1287 490.6 1287.4 490C1287.9 489.4 1289.5 487.3 1289.9 487.2C1290.4 487.1 1292 488 1292.4 488.5C1292.9 489.1 1294.4 493.2 1294.9 493.5C1295.5 493.9 1298 493.2 1298.5 493C1299 492.9 1300.6 492.5 1301 492C1301.4 491.5 1303.1 487.5 1303.5 487C1303.9 486.6 1305.6 486.4 1306 486.5C1306.4 486.6 1307.7 488.6 1308 488C1308.3 487.5 1309.6 480.2 1310 480C1310.4 479.8 1312.5 484.8 1313 485.3C1313.6 485.7 1316.4 485.2 1317.1 485.3C1317.7 485.4 1320.5 486.1 1321.1 486.3C1321.7 486.5 1323.5 487.8 1324.1 487.8C1324.7 487.8 1327.4 486.3 1328.1 485.8C1328.8 485.3 1331.4 482.1 1332.1 481.8C1332.8 481.4 1335.5 481.9 1336.1 481.8C1336.8 481.6 1339.5 480.2 1340.1 479.8C1340.8 479.3 1343.5 476.7 1344.1 476.3C1344.8 475.8 1347.6 474.6 1348.2 474.2C1348.7 473.9 1350.7 472.2 1351.2 471.7C1351.7 471.2 1353.7 469.1 1354.2 468.2C1354.7 467.3 1356.8 462.3 1357.2 461.2C1357.6 460.1 1358.8 455.9 1359.2 455.2C1359.6 454.4 1361.7 453.1 1362.2 452.2C1362.7 451.2 1364.7 444.3 1365.2 443.6C1365.7 443 1367.8 445.2 1368.2 444.6C1368.6 444.1 1369.9 437.8 1370.2 437.1C1370.6 436.4 1371.9 436.6 1372.2 436.1C1372.6 435.7 1374.3 432.1 1374.7 431.6C1375.2 431.1 1376.8 430.7 1377.3 430.1C1377.7 429.5 1379.8 424.7 1380.3 424.1C1380.8 423.4 1382.8 422.9 1383.3 422.1C1383.8 421.2 1385.9 415 1386.3 414C1386.7 413.1 1387.9 411.4 1388.3 411C1388.7 410.7 1390.4 410.6 1390.8 410C1391.2 409.5 1392.5 404.9 1392.8 404.5C1393.1 404.1 1394.5 405.6 1394.8 405.5C1395.2 405.4 1396.5 403.3 1396.8 403.5C1397.2 403.8 1398.5 407.2 1398.8 408.5C1399.1 409.8 1400.1 417.3 1400.3 419.1C1400.6 420.8 1401.5 428.7 1401.8 429.1C1402.1 429.5 1403.5 424.9 1403.8 424.1C1404.2 423.2 1405.5 419.3 1405.9 419.1C1406.2 418.8 1407.5 421.6 1407.9 421.1C1408.2 420.6 1409.8 413.8 1410.4 413C1410.9 412.3 1413.9 413.7 1414.4 412.5C1414.9 411.4 1416.3 400.3 1416.7 399.2C1417.2 398 1419.3 399.1 1419.7 398.7C1420.2 398.2 1421.4 394.4 1421.8 393.6C1422.1 392.9 1423.4 389.9 1423.8 390.1C1424.1 390.3 1425.4 395 1425.8 396.2C1426.1 397.3 1427.4 404.5 1427.8 404.2C1428.2 403.8 1429.8 393.1 1430.3 392.1C1430.8 391.2 1433.3 393.2 1433.8 392.6C1434.3 392.1 1436.4 385.2 1436.8 385.1C1437.2 385.1 1438.4 391 1438.8 392.1C1439.2 393.3 1440.9 398.5 1441.3 399.2C1441.7 399.8 1443.4 400.5 1443.8 400.2C1444.2 399.8 1446 395.7 1446.3 395.2C1446.7 394.6 1447.8 394 1448.3 394.1C1448.8 394.3 1451.8 396.6 1452.4 397.2C1452.9 397.7 1454.8 400 1455.4 400.7C1456 401.3 1458.8 405.2 1459.4 405.2C1459.9 405.1 1461.5 400.8 1461.9 400.2C1462.3 399.6 1463.9 398.4 1464.4 398.2C1464.9 397.9 1467.7 397.2 1468.4 397.2C1469.2 397.1 1472.8 396.7 1473.4 397.2C1474.1 397.6 1475.4 402.5 1475.9 402.2C1476.4 401.9 1479 393.3 1479.4 393.6C1479.9 394 1481.3 406.3 1481.7 406.2C1482 406.1 1483.3 393.3 1483.5 392.1" fill="none" stroke="#000000" stroke-width="2.1" stroke-linejoin="round" clip-path="url(#clip21)"/>
<path d="M1033 549.3C1033.8 549.2 1040.4 549 1042 549.1C1043.6 549.1 1050.4 549.4 1052.1 549.5C1053.7 549.5 1060.4 549.3 1062.1 549.3C1063.8 549.2 1070.5 548.8 1072.1 548.8C1073.8 548.7 1080.5 548.3 1082.2 548.3C1083.8 548.2 1090.5 548.1 1092.2 548.1C1093.9 548 1100.6 547.4 1102.2 547.3C1103.9 547.1 1110.8 546.4 1112.3 546.3C1113.7 546.1 1118.2 545.2 1119.3 545.1C1120.4 544.9 1124.5 544.1 1125.3 544C1126.1 544 1128.7 544.6 1129.3 544.7C1130 544.9 1132.6 545.7 1133.3 545.8C1134.1 545.8 1137.4 545.8 1138.4 545.8C1139.3 545.7 1143.4 545.2 1144.4 545.1C1145.4 544.9 1149.4 544.5 1150.4 544.4C1151.4 544.4 1155.4 544.2 1156.4 544C1157.4 543.9 1161.4 542.6 1162.4 542.2C1163.4 541.9 1167.5 540.6 1168.5 540.2C1169.5 539.9 1173.3 538.1 1174.5 537.7C1175.6 537.3 1181.1 535.6 1182 535.2C1182.9 534.9 1184.4 534.1 1185.1 533.7C1185.8 533.3 1189.4 531.3 1190.1 530.7C1190.8 530.1 1193.2 527 1193.6 526.7C1194.1 526.3 1195.3 525.9 1195.6 526.2C1196 526.4 1197.2 529.5 1197.6 530.2C1198 530.8 1199.7 533.4 1200.1 533.7C1200.6 533.9 1202.6 533.4 1203.1 533.2C1203.6 533 1205.7 531.5 1206.2 531.2C1206.7 530.9 1208.7 529.8 1209.2 529.7C1209.7 529.5 1211.6 529.1 1212.2 529.2C1212.8 529.2 1215.5 530.3 1216.2 530.2C1216.9 530 1219.6 527.5 1220.2 527.2C1220.8 526.8 1222.6 526.2 1223.2 526.2C1223.8 526.2 1226.6 527.3 1227.2 527.2C1227.8 527 1229.6 525.2 1230.2 524.6C1230.8 524.1 1233.6 520.8 1234.2 520.1C1234.9 519.5 1237.3 517.7 1237.8 517.1C1238.2 516.6 1239.5 514 1239.8 513.6C1240.1 513.2 1241 512.6 1241.3 512.6C1241.6 512.7 1242.8 514 1243.3 514.1C1243.8 514.2 1246.6 513.7 1247.3 513.6C1248 513.5 1250.7 513 1251.3 513.1C1251.9 513.2 1253.9 514.4 1254.3 514.6C1254.8 514.8 1256.4 515.7 1256.8 515.6C1257.2 515.6 1258.5 514.2 1258.8 514.1C1259.2 514.1 1260.5 515.2 1260.8 515.1C1261.2 515 1262.4 513.2 1262.8 513.1C1263.3 513.1 1265.3 514.7 1265.9 514.6C1266.4 514.5 1269.2 511.8 1269.9 511.6C1270.5 511.4 1272.8 512.3 1273.4 512.1C1273.9 511.9 1275.9 509.6 1276.4 509.1C1276.8 508.6 1278.4 506.7 1278.9 506.6C1279.4 506.5 1281.4 507.6 1281.9 507.6C1282.4 507.6 1284.4 506.9 1284.9 506.6C1285.4 506.3 1287.5 504.4 1287.9 504.1C1288.4 503.7 1290.1 502.7 1290.4 502.6C1290.8 502.5 1292.1 502.8 1292.4 503.1C1292.8 503.4 1293.9 505.9 1294.4 506.1C1294.9 506.3 1297.9 505.3 1298.5 505.1C1299 504.9 1301 504 1301.5 503.6C1302 503.1 1304 499.9 1304.5 499.6C1305 499.3 1307 500.4 1307.5 500.1C1308 499.7 1309.1 495.4 1310 495.1C1310.9 494.7 1316.7 495.7 1318 495.5C1319.3 495.3 1324.7 493.5 1326 493C1327.3 492.5 1332.9 490.4 1334.1 490C1335.3 489.6 1339.2 488.6 1340.1 488.3C1341.1 487.9 1344.3 486.2 1345.2 485.8C1346 485.4 1349.4 483.7 1350.2 483.3C1350.9 482.8 1353.4 481 1354.2 480.3C1354.9 479.6 1358.4 475.5 1359.2 474.7C1359.9 474 1362.7 472.2 1363.2 471.7C1363.8 471.3 1365.3 469.4 1365.7 469.2C1366.1 469.1 1367.9 469.9 1368.2 469.7C1368.6 469.6 1369.8 467.6 1370.2 467.2C1370.7 466.9 1372.7 466 1373.2 465.7C1373.7 465.4 1375.7 464 1376.3 463.7C1376.8 463.4 1379.7 462 1380.3 461.7C1380.9 461.4 1382.7 460.2 1383.3 459.7C1383.9 459.2 1386.7 456.2 1387.3 455.7C1387.9 455.2 1389.8 454.1 1390.3 453.7C1390.8 453.2 1392.8 450.7 1393.3 450.2C1393.9 449.6 1396.3 447.3 1396.8 447.2C1397.3 447 1398.9 447.5 1399.3 448.2C1399.7 448.8 1401.1 455.1 1401.5 455.2C1402 455.3 1403.9 450.3 1404.3 449.7C1404.7 449.1 1406 448.3 1406.4 448.2C1406.7 448 1408 448.5 1408.4 448.2C1408.7 447.9 1410.4 445.2 1410.9 444.6C1411.4 444.1 1413.8 442.4 1414.4 441.6C1414.9 440.8 1416.9 435.7 1417.4 435.1C1417.9 434.5 1419.4 434.6 1419.9 434.1C1420.4 433.6 1423.4 429.4 1423.9 429.1C1424.5 428.8 1426.1 430.1 1426.4 430.6C1426.8 431.1 1427.9 435.5 1428.2 435.1C1428.6 434.7 1430 426.3 1430.4 425.6C1430.9 424.8 1432.9 426.5 1433.4 426.1C1434 425.7 1436.5 421.2 1437 421.1C1437.5 421 1439 424.4 1439.5 425.1C1439.9 425.8 1441.6 428.9 1442 429.1C1442.4 429.3 1444.1 428 1444.5 427.6C1444.9 427.2 1446 424.4 1446.5 424.1C1446.9 423.8 1449.5 424.1 1450 424.1C1450.5 424.1 1451.9 424.1 1452.4 424.2C1452.8 424.4 1454.8 425.4 1455.4 425.8C1456 426.1 1458.8 428.9 1459.4 428.8C1459.9 428.6 1461.4 424.7 1461.9 424.2C1462.4 423.8 1464.8 423.5 1465.4 423.2C1466 423 1468.8 422 1469.4 421.7C1470 421.5 1472.4 420.2 1472.9 420.2C1473.4 420.3 1474.9 422.4 1475.4 422.2C1476 422 1478.9 417.5 1479.4 417.7C1480 417.9 1481.3 425 1481.7 424.7C1482 424.5 1483.3 416 1483.5 415.2" fill="none" stroke="#1f77b4" stroke-width="2.1" stroke-linejoin="round" clip-path="url(#clip21)"/>
<path d="M1033 547.8C1033.4 547.6 1037.2 546.5 1038 546.3C1038.9 546 1042.2 545.3 1043 545.3C1043.9 545.3 1047.2 546 1048.1 546.3C1048.9 546.5 1052.2 548.1 1053.1 548.3C1054 548.4 1058.1 548.1 1059.1 548.1C1060.1 548 1064 548.1 1065.1 548.1C1066.2 548 1071 547.4 1072.1 547.3C1073.2 547.1 1077.2 546.8 1078.2 546.8C1079.2 546.7 1083.3 546.8 1084.2 546.8C1085.1 546.7 1088.4 546.4 1089.2 546.3C1089.9 546.1 1092.5 545.2 1093.2 545.3C1093.9 545.3 1096.5 546.8 1097.2 546.8C1098 546.8 1101.3 545.4 1102.2 545.3C1103.2 545.1 1107.3 544.9 1108.3 544.7C1109.2 544.6 1112.4 544 1113.3 543.7C1114.1 543.5 1117.5 542.5 1118.3 542.2C1119.1 542 1122.6 540.8 1123.3 540.7C1124.1 540.7 1126.7 541.1 1127.3 541.2C1127.9 541.4 1129.8 542 1130.3 542.2C1130.8 542.4 1132.7 543.6 1133.3 543.7C1134 543.9 1137.4 544.1 1138.4 544C1139.3 544 1143.4 543.4 1144.4 543.2C1145.4 543.1 1149.4 542.9 1150.4 542.7C1151.4 542.6 1155.5 542 1156.4 541.7C1157.3 541.5 1160.6 540.1 1161.4 539.7C1162.3 539.4 1165.6 538.2 1166.4 537.7C1167.3 537.3 1170.6 534.8 1171.5 534.2C1172.3 533.6 1175.6 531.3 1176.5 530.7C1177.4 530.1 1181.3 527.4 1182 526.7C1182.7 526 1184.4 523.1 1185.1 522.3C1185.8 521.6 1189.4 518.2 1190.1 517.3C1190.8 516.5 1192.7 512.6 1193.1 511.9C1193.5 511.3 1194.8 509.6 1195.1 509.6C1195.4 509.6 1196.3 510.6 1196.6 511.6C1196.9 512.6 1198.3 519.8 1198.6 521.1C1199 522.5 1200.3 527.1 1200.6 527.7C1201 528.2 1202.7 528.2 1203.1 528.2C1203.6 528.1 1205.2 527.6 1205.7 527.2C1206.2 526.7 1208.6 522.9 1209.2 522.6C1209.7 522.3 1211.7 523.6 1212.2 523.6C1212.7 523.7 1214.6 523.6 1215.2 523.3C1215.8 523.1 1218.6 520.6 1219.2 520.1C1219.8 519.7 1222.2 517.8 1222.7 517.6C1223.2 517.5 1224.8 518.5 1225.2 518.6C1225.7 518.8 1227.7 519.5 1228.2 519.1C1228.7 518.7 1230.7 514.5 1231.2 513.6C1231.7 512.7 1233.7 508.9 1234.2 508.1C1234.7 507.3 1236.8 504.7 1237.3 504.1C1237.7 503.4 1239.3 500.5 1239.8 500.1C1240.2 499.6 1241.8 499.1 1242.3 499.1C1242.7 499 1244.6 499.5 1245.3 499.6C1246 499.6 1249.5 499.7 1250.3 500.1C1251.1 500.4 1253.7 503.7 1254.3 504.1C1254.9 504.5 1256.8 505 1257.3 505.1C1257.8 505.2 1259.9 505.8 1260.3 505.6C1260.8 505.4 1261.9 503.1 1262.3 503.1C1262.8 503 1264.8 505.2 1265.4 505.1C1265.9 505 1268.7 502.3 1269.4 502.1C1270 501.9 1272.8 502.8 1273.4 502.6C1274 502.3 1275.9 499.6 1276.4 499.1C1276.9 498.5 1278.9 495.7 1279.4 495.6C1279.9 495.4 1281.9 497 1282.4 497.1C1282.9 497.1 1284.9 497 1285.4 496.6C1285.9 496.1 1288 492.6 1288.4 492C1288.8 491.5 1290.1 490 1290.4 490C1290.8 490 1292.6 491.4 1292.9 492C1293.3 492.7 1294.5 497.2 1294.9 497.6C1295.4 497.9 1297.9 496.3 1298.5 496.1C1299 495.8 1301 495.6 1301.5 495.1C1301.9 494.5 1303.6 490.5 1304 490C1304.4 489.6 1306.1 489.9 1306.5 490C1306.9 490.1 1308.2 491.6 1308.5 491C1308.8 490.5 1309.6 483.2 1310 483C1310.4 482.8 1312.2 487.8 1313 488.3C1313.9 488.8 1318.8 488.9 1320.1 488.8C1321.3 488.7 1327 487.8 1328.1 487.3C1329.2 486.8 1332.1 483.3 1333.1 482.8C1334.1 482.2 1339 481.2 1340.1 480.8C1341.2 480.3 1345.2 477.9 1346.2 477.3C1347.2 476.6 1351.3 474.3 1352.2 473.2C1353.1 472.2 1356.4 465.8 1357.2 464.2C1358 462.7 1361.5 456.1 1362.2 454.7C1363 453.3 1365.7 447.5 1366.2 447.2C1366.8 446.8 1368.3 450.6 1368.7 450.2C1369.1 449.7 1370.6 443.2 1371.2 442.1C1371.9 441.1 1375.5 438.4 1376.3 437.6C1377 436.9 1379.5 434 1380.3 433.1C1381 432.2 1384.4 428.1 1385.3 427.1C1386.1 426.1 1389.5 422.4 1390.3 421.6C1391.1 420.7 1394.6 417.3 1395.3 416.6C1396 415.8 1398.4 412.7 1398.8 413C1399.2 413.4 1400.1 419.6 1400.3 421.1C1400.6 422.6 1401.5 430.4 1401.8 431.1C1402.2 431.8 1403.8 429.5 1404.3 429.1C1404.9 428.7 1407.7 426.7 1408.4 426.1C1409 425.5 1411.7 422.5 1412.4 421.6C1413 420.7 1415.9 416.1 1416.4 415.1C1416.9 414 1417.8 410.1 1418.2 409.2C1418.6 408.3 1420.8 405.4 1421.3 404.7C1421.8 403.9 1423.8 400 1424.3 400.2C1424.7 400.4 1425.9 406 1426.3 407.2C1426.6 408.4 1427.9 414.6 1428.3 414.2C1428.6 413.8 1429.9 403.3 1430.3 402.2C1430.7 401.1 1432.8 401.8 1433.3 401.2C1433.8 400.5 1435.8 394.2 1436.3 394.1C1436.8 394.1 1438.4 399.2 1438.8 400.2C1439.2 401.1 1440.9 405.3 1441.3 405.7C1441.8 406.1 1443.8 405.2 1444.3 404.7C1444.8 404.1 1446.8 399.5 1447.3 399.2C1447.8 398.8 1449.8 399.7 1450.4 400.2C1450.9 400.6 1453.6 403.6 1454.4 404.2C1455.1 404.8 1458.6 407.3 1459.4 407.2C1460.1 407.1 1462.7 403.6 1463.4 403.2C1464.1 402.7 1466.7 401.8 1467.4 401.7C1468.2 401.6 1471.8 401.8 1472.4 402.2C1473.1 402.6 1474.8 406.4 1475.4 406.2C1476 405.9 1478.9 398.8 1479.4 399.2C1480 399.5 1481.6 410.1 1482 410.2C1482.3 410.3 1483.3 401 1483.5 400.2" fill="none" stroke="#ff7f0e" stroke-width="2.1" stroke-linejoin="round" stroke-dasharray="7.77 3.36" clip-path="url(#clip21)"/>
<path d="M1033 547.8C1033.4 547.6 1037.2 546.5 1038 546.3C1038.9 546 1042.2 545.3 1043 545.3C1043.9 545.3 1047.2 546 1048.1 546.3C1048.9 546.5 1052.2 548.1 1053.1 548.3C1054 548.4 1058.1 548.1 1059.1 548.1C1060.1 548 1064 548.1 1065.1 548.1C1066.2 548 1071 547.4 1072.1 547.3C1073.2 547.1 1077.2 546.8 1078.2 546.8C1079.2 546.7 1083.3 546.8 1084.2 546.8C1085.1 546.7 1088.4 546.4 1089.2 546.3C1089.9 546.1 1092.5 545.2 1093.2 545.3C1093.9 545.3 1096.5 546.8 1097.2 546.8C1098 546.8 1101.3 545.4 1102.2 545.3C1103.2 545.1 1107.3 544.9 1108.3 544.7C1109.2 544.6 1112.4 544 1113.3 543.7C1114.1 543.5 1117.5 542.5 1118.3 542.2C1119.1 542 1122.6 540.8 1123.3 540.7C1124.1 540.7 1126.7 541.1 1127.3 541.2C1127.9 541.4 1129.8 542 1130.3 542.2C1130.8 542.4 1132.7 543.6 1133.3 543.7C1134 543.9 1137.4 544.1 1138.4 544C1139.3 544 1143.4 543.4 1144.4 543.2C1145.4 543.1 1149.4 542.9 1150.4 542.7C1151.4 542.6 1155.5 542 1156.4 541.7C1157.3 541.5 1160.6 540.1 1161.4 539.7C1162.3 539.4 1165.6 538.2 1166.4 537.7C1167.3 537.3 1170.6 534.8 1171.5 534.2C1172.3 533.6 1175.6 531.3 1176.5 530.7C1177.4 530.1 1181.3 527.4 1182 526.7C1182.7 526 1184.4 523.1 1185.1 522.3C1185.8 521.6 1189.4 518.2 1190.1 517.3C1190.8 516.5 1192.7 512.6 1193.1 511.9C1193.5 511.3 1194.8 509.6 1195.1 509.6C1195.4 509.6 1196.3 510.6 1196.6 511.6C1196.9 512.6 1198.3 519.8 1198.6 521.1C1199 522.5 1200.3 527.1 1200.6 527.7C1201 528.2 1202.7 528.2 1203.1 528.2C1203.6 528.1 1205.2 527.6 1205.7 527.2C1206.2 526.7 1208.6 522.9 1209.2 522.6C1209.7 522.3 1211.7 523.6 1212.2 523.6C1212.7 523.7 1214.6 523.6 1215.2 523.3C1215.8 523.1 1218.6 520.6 1219.2 520.1C1219.8 519.7 1222.2 517.8 1222.7 517.6C1223.2 517.5 1224.8 518.5 1225.2 518.6C1225.7 518.8 1227.7 519.5 1228.2 519.1C1228.7 518.7 1230.7 514.5 1231.2 513.6C1231.7 512.7 1233.7 508.9 1234.2 508.1C1234.7 507.3 1236.8 504.7 1237.3 504.1C1237.7 503.4 1239.3 500.5 1239.8 500.1C1240.2 499.6 1241.8 499.1 1242.3 499.1C1242.7 499 1244.6 499.5 1245.3 499.6C1246 499.6 1249.5 499.7 1250.3 500.1C1251.1 500.4 1253.7 503.7 1254.3 504.1C1254.9 504.5 1256.8 505 1257.3 505.1C1257.8 505.2 1259.9 505.8 1260.3 505.6C1260.8 505.4 1261.9 503.1 1262.3 503.1C1262.8 503 1264.8 505.2 1265.4 505.1C1265.9 505 1268.7 502.3 1269.4 502.1C1270 501.9 1272.8 502.8 1273.4 502.6C1274 502.3 1275.9 499.6 1276.4 499.1C1276.9 498.5 1278.9 495.7 1279.4 495.6C1279.9 495.4 1281.9 497 1282.4 497.1C1282.9 497.1 1284.9 497 1285.4 496.6C1285.9 496.1 1288 492.6 1288.4 492C1288.8 491.5 1290.1 490 1290.4 490C1290.8 490 1292.6 491.4 1292.9 492C1293.3 492.7 1294.5 497.2 1294.9 497.6C1295.4 497.9 1297.9 496.3 1298.5 496.1C1299 495.8 1301 495.6 1301.5 495.1C1301.9 494.5 1303.6 490.5 1304 490C1304.4 489.6 1306.1 489.9 1306.5 490C1306.9 490.1 1308.2 491.6 1308.5 491C1308.8 490.5 1309.6 483.2 1310 483C1310.4 482.8 1312.2 487.8 1313 488.3C1313.9 488.8 1318.8 488.9 1320.1 488.8C1321.3 488.7 1327 487.6 1328.1 487.3C1329.2 487 1332.3 485 1333.1 484.8C1333.9 484.5 1337.4 484.5 1338.1 484.3C1338.9 484 1341.4 482.4 1342.1 481.8C1342.9 481.2 1346.3 477.9 1347.2 477.3C1348 476.6 1351.4 475 1352.2 474.2C1352.9 473.5 1355.6 469.5 1356.2 468.2C1356.8 467 1358.7 460.3 1359.2 459.2C1359.7 458.1 1361.6 456.2 1362.2 455.2C1362.8 454.2 1365.6 447.9 1366.2 447.2C1366.8 446.4 1368.8 446.7 1369.2 446.2C1369.6 445.6 1370.8 440.9 1371.2 440.1C1371.7 439.4 1373.7 437.6 1374.2 437.1C1374.7 436.6 1376.8 434.8 1377.3 434.1C1377.8 433.4 1379.8 429.8 1380.3 429.1C1380.8 428.3 1382.8 426.1 1383.3 425.1C1383.8 424.1 1385.8 418 1386.3 417.1C1386.8 416.1 1388.8 414.1 1389.3 413.5C1389.8 413 1391.8 411 1392.3 410.5C1392.8 410.1 1394.9 408.8 1395.3 408.5C1395.8 408.3 1397.4 406.7 1397.8 407.5C1398.2 408.3 1399.5 415.7 1399.8 418.1C1400.1 420.4 1401.2 434.8 1401.5 435.6C1401.9 436.4 1403.4 428.6 1403.8 427.6C1404.2 426.6 1406 423.8 1406.4 423.6C1406.7 423.3 1407.9 425 1408.4 424.6C1408.8 424.2 1410.9 419.6 1411.4 419.1C1411.9 418.5 1413.9 419 1414.4 417.6C1414.9 416.2 1416.8 403.5 1417.2 402.2C1417.7 400.8 1419.8 401.6 1420.3 401.2C1420.7 400.8 1422.4 397.7 1422.8 397.2C1423.1 396.7 1424 394.8 1424.3 395.2C1424.6 395.5 1425.9 399.8 1426.3 401.2C1426.6 402.5 1427.9 411.6 1428.3 411.2C1428.6 410.8 1429.8 397.4 1430.3 396.2C1430.7 394.9 1433.3 397.1 1433.8 396.7C1434.3 396.2 1436.4 391.1 1436.8 391.1C1437.2 391.2 1438.4 396.2 1438.8 397.2C1439.2 398.1 1440.9 401.5 1441.3 402.2C1441.7 402.8 1443.4 405.4 1443.8 405.2C1444.2 405 1445.9 400.2 1446.3 399.7C1446.8 399.1 1448.3 398.5 1448.8 398.7C1449.3 398.8 1451.8 400.7 1452.4 401.2C1452.9 401.6 1454.8 403.4 1455.4 404.2C1456 405 1458.8 410.7 1459.4 410.7C1459.9 410.7 1461.5 405.4 1461.9 404.7C1462.3 404 1463.9 402.9 1464.4 402.7C1464.9 402.4 1467.7 401.7 1468.4 401.7C1469.1 401.6 1472.3 401.7 1472.9 402.2C1473.5 402.6 1474.9 407.4 1475.4 407.2C1476 406.9 1478.9 398.7 1479.4 399.2C1480 399.7 1481.6 413.4 1482 413.2C1482.3 413 1483.3 398.5 1483.5 397.2" fill="none" stroke="#2ca02c" stroke-width="2.1" stroke-linejoin="round" stroke-dasharray="13.44 3.36 2.10 3.36" clip-path="url(#clip21)"/>
<path d="M1033 547.8C1033.4 547.6 1037.2 546.5 1038 546.3C1038.9 546 1042.2 545.3 1043 545.3C1043.9 545.3 1047.2 546 1048.1 546.3C1048.9 546.5 1052.2 548.1 1053.1 548.3C1054 548.4 1058.1 548.1 1059.1 548.1C1060.1 548 1064 548.1 1065.1 548.1C1066.2 548 1071 547.4 1072.1 547.3C1073.2 547.1 1077.2 546.8 1078.2 546.8C1079.2 546.7 1083.3 546.8 1084.2 546.8C1085.1 546.7 1088.4 546.4 1089.2 546.3C1089.9 546.1 1092.5 545.2 1093.2 545.3C1093.9 545.3 1096.5 546.8 1097.2 546.8C1098 546.8 1101.3 545.4 1102.2 545.3C1103.2 545.1 1107.3 544.9 1108.3 544.7C1109.2 544.6 1112.4 544 1113.3 543.7C1114.1 543.5 1117.5 542.5 1118.3 542.2C1119.1 542 1122.6 540.8 1123.3 540.7C1124.1 540.7 1126.7 541.1 1127.3 541.2C1127.9 541.4 1129.8 542 1130.3 542.2C1130.8 542.4 1132.7 543.6 1133.3 543.7C1134 543.9 1137.4 544.1 1138.4 544C1139.3 544 1143.4 543.4 1144.4 543.2C1145.4 543.1 1149.4 542.9 1150.4 542.7C1151.4 542.6 1155.5 542 1156.4 541.7C1157.3 541.5 1160.6 540.1 1161.4 539.7C1162.3 539.4 1165.6 538.2 1166.4 537.7C1167.3 537.3 1170.6 534.8 1171.5 534.2C1172.3 533.6 1175.6 531.3 1176.5 530.7C1177.4 530.1 1181.3 527.4 1182 526.7C1182.7 526 1184.4 522.9 1185.1 522.1C1185.8 521.3 1189.4 518 1190.1 517.1C1190.8 516.2 1192.7 511.8 1193.1 511.1C1193.5 510.4 1194.8 508.7 1195.1 508.6C1195.4 508.5 1196.3 509.1 1196.6 510.1C1196.9 511.1 1198.3 518.8 1198.6 520.1C1199 521.5 1200.3 525.6 1200.6 526.2C1201 526.7 1202.7 526.4 1203.1 526.4C1203.6 526.3 1205.2 525.7 1205.7 525.4C1206.2 525 1208.6 521.9 1209.2 521.6C1209.7 521.4 1211.7 522.6 1212.2 522.6C1212.7 522.6 1214.6 522 1215.2 521.6C1215.8 521.3 1218.6 519.1 1219.2 518.6C1219.8 518.1 1222.2 515.7 1222.7 515.6C1223.2 515.5 1224.8 517.2 1225.2 517.3C1225.7 517.4 1227.7 517.6 1228.2 517.1C1228.7 516.7 1230.7 512.9 1231.2 512.1C1231.7 511.3 1233.7 507.8 1234.2 507.1C1234.7 506.3 1236.8 503.9 1237.3 503.1C1237.7 502.3 1239.4 498.2 1239.8 497.6C1240.1 496.9 1241 495.1 1241.3 495.1C1241.6 495 1242.9 497.1 1243.3 497.3C1243.6 497.4 1244.8 496.5 1245.3 496.6C1245.7 496.6 1248.3 498 1248.8 498.1C1249.3 498.1 1251.3 497 1251.8 497.3C1252.3 497.5 1253.9 500.2 1254.3 500.6C1254.7 501 1255.9 502.1 1256.3 502.1C1256.7 502 1258.5 500 1258.8 500.1C1259.2 500.1 1260.5 502.6 1260.8 502.6C1261.2 502.6 1262.4 499.8 1262.8 499.8C1263.3 499.7 1265.3 502.1 1265.9 502.1C1266.4 502 1268.7 499.2 1269.4 499.1C1270 498.9 1272.8 500.3 1273.4 500.1C1274 499.8 1275.9 496.7 1276.4 496.1C1276.8 495.4 1278.5 492.7 1278.9 492.5C1279.3 492.4 1280.9 493.9 1281.4 494C1281.9 494.2 1283.9 494.9 1284.4 494.5C1284.9 494.2 1287 490.6 1287.4 490C1287.9 489.4 1289.5 487.3 1289.9 487.2C1290.4 487.1 1292 488 1292.4 488.5C1292.9 489.1 1294.4 493.2 1294.9 493.5C1295.5 493.9 1298 493.2 1298.5 493C1299 492.9 1300.6 492.5 1301 492C1301.4 491.5 1303.1 487.5 1303.5 487C1303.9 486.6 1305.6 486.4 1306 486.5C1306.4 486.6 1307.7 488.6 1308 488C1308.3 487.5 1309.6 480.2 1310 480C1310.4 479.8 1312.5 484.8 1313 485.3C1313.6 485.7 1316.4 485.2 1317.1 485.3C1317.7 485.4 1320.5 486.1 1321.1 486.3C1321.7 486.5 1323.5 487.8 1324.1 487.8C1324.7 487.8 1327.4 486.3 1328.1 485.8C1328.8 485.3 1331.4 482.1 1332.1 481.8C1332.8 481.4 1335.5 481.9 1336.1 481.8C1336.8 481.6 1339.5 480.2 1340.1 479.8C1340.8 479.3 1343.5 476.7 1344.1 476.3C1344.8 475.8 1347.6 474.6 1348.2 474.2C1348.7 473.9 1350.7 472.2 1351.2 471.7C1351.7 471.2 1353.7 469.1 1354.2 468.2C1354.7 467.3 1356.8 462.3 1357.2 461.2C1357.6 460.1 1358.8 455.9 1359.2 455.2C1359.6 454.4 1361.7 453.1 1362.2 452.2C1362.7 451.2 1364.7 444.3 1365.2 443.6C1365.7 443 1367.8 445.2 1368.2 444.6C1368.6 444.1 1369.9 437.8 1370.2 437.1C1370.6 436.4 1371.9 436.6 1372.2 436.1C1372.6 435.7 1374.3 432.1 1374.7 431.6C1375.2 431.1 1376.8 430.7 1377.3 430.1C1377.7 429.5 1379.8 424.7 1380.3 424.1C1380.8 423.4 1382.8 422.9 1383.3 422.1C1383.8 421.2 1385.9 415 1386.3 414C1386.7 413.1 1387.9 411.4 1388.3 411C1388.7 410.7 1390.4 410.6 1390.8 410C1391.2 409.5 1392.5 404.9 1392.8 404.5C1393.1 404.1 1394.5 405.6 1394.8 405.5C1395.2 405.4 1396.5 403.3 1396.8 403.5C1397.2 403.8 1398.5 407.2 1398.8 408.5C1399.1 409.8 1400.1 417.3 1400.3 419.1C1400.6 420.8 1401.5 428.7 1401.8 429.1C1402.1 429.5 1403.5 424.9 1403.8 424.1C1404.2 423.2 1405.5 419.3 1405.9 419.1C1406.2 418.8 1407.5 421.6 1407.9 421.1C1408.2 420.6 1409.8 413.8 1410.4 413C1410.9 412.3 1413.9 413.7 1414.4 412.5C1414.9 411.4 1416.3 400.3 1416.7 399.2C1417.2 398 1419.3 399.1 1419.7 398.7C1420.2 398.2 1421.4 394.4 1421.8 393.6C1422.1 392.9 1423.4 389.9 1423.8 390.1C1424.1 390.3 1425.4 395 1425.8 396.2C1426.1 397.3 1427.4 404.5 1427.8 404.2C1428.2 403.8 1429.8 393.1 1430.3 392.1C1430.8 391.2 1433.3 393.2 1433.8 392.6C1434.3 392.1 1436.4 385.2 1436.8 385.1C1437.2 385.1 1438.4 391 1438.8 392.1C1439.2 393.3 1440.9 398.5 1441.3 399.2C1441.7 399.8 1443.4 400.5 1443.8 400.2C1444.2 399.8 1446 395.7 1446.3 395.2C1446.7 394.6 1447.8 394 1448.3 394.1C1448.8 394.3 1451.8 396.6 1452.4 397.2C1452.9 397.7 1454.8 400 1455.4 400.7C1456 401.3 1458.8 405.2 1459.4 405.2C1459.9 405.1 1461.5 400.8 1461.9 400.2C1462.3 399.6 1463.9 398.4 1464.4 398.2C1464.9 397.9 1467.7 397.2 1468.4 397.2C1469.2 397.1 1472.8 396.7 1473.4 397.2C1474.1 397.6 1475.4 402.5 1475.9 402.2C1476.4 401.9 1479 393.3 1479.4 393.6C1479.9 394 1481.3 406.3 1481.7 406.2C1482 406.1 1483.3 393.3 1483.5 392.1" fill="none" stroke="#d62728" stroke-width="2.1" stroke-linejoin="round" stroke-dasharray="2.10 3.46" clip-path="url(#clip21)"/>
<rect x="1031.8" y="319.1" width="452" height="240.4" fill="none" stroke="#000" stroke-width="0.8"/>
<line x1="1031.8" y1="559.5" x2="1031.8" y2="563.1" stroke="#000" stroke-width="0.8"/>
<line x1="1122.76" y1="559.5" x2="1122.76" y2="563.1" stroke="#000" stroke-width="0.8"/>
<line x1="1187.29" y1="559.5" x2="1187.29" y2="563.1" stroke="#000" stroke-width="0.8"/>
<line x1="1237.35" y1="559.5" x2="1237.35" y2="563.1" stroke="#000" stroke-width="0.8"/>
<line x1="1278.25" y1="559.5" x2="1278.25" y2="563.1" stroke="#000" stroke-width="0.8"/>
<line x1="1342.79" y1="559.5" x2="1342.79" y2="563.1" stroke="#000" stroke-width="0.8"/>
<line x1="1392.84" y1="559.5" x2="1392.84" y2="563.1" stroke="#000" stroke-width="0.8"/>
<line x1="1483.8" y1="559.5" x2="1483.8" y2="563.1" stroke="#000" stroke-width="0.8"/>
<line x1="1312.83" y1="559.5" x2="1312.83" y2="561.5" stroke="#000" stroke-width="0.6"/>
<line x1="1369.21" y1="559.5" x2="1369.21" y2="561.5" stroke="#000" stroke-width="0.6"/>
<line x1="1028.2" y1="550.11" x2="1031.8" y2="550.11" stroke="#000" stroke-width="0.8"/>
<line x1="1028.2" y1="511.6" x2="1031.8" y2="511.6" stroke="#000" stroke-width="0.8"/>
<line x1="1028.2" y1="473.1" x2="1031.8" y2="473.1" stroke="#000" stroke-width="0.8"/>
<line x1="1028.2" y1="434.6" x2="1031.8" y2="434.6" stroke="#000" stroke-width="0.8"/>
<line x1="1028.2" y1="396.1" x2="1031.8" y2="396.1" stroke="#000" stroke-width="0.8"/>
<line x1="1028.2" y1="357.6" x2="1031.8" y2="357.6" stroke="#000" stroke-width="0.8"/>
<line x1="1028.2" y1="319.1" x2="1031.8" y2="319.1" stroke="#000" stroke-width="0.8"/>
<text x="1031.8" y="575.7" font-size="12.7" font-weight="bold" text-anchor="middle" fill="#000" >2</text>
<text x="1122.76" y="575.7" font-size="12.7" font-weight="bold" text-anchor="middle" fill="#000" >3</text>
<text x="1187.29" y="575.7" font-size="12.7" font-weight="bold" text-anchor="middle" fill="#000" >4</text>
<text x="1237.35" y="575.7" font-size="12.7" font-weight="bold" text-anchor="middle" fill="#000" >5</text>
<text x="1278.25" y="575.7" font-size="12.7" font-weight="bold" text-anchor="middle" fill="#000" >6</text>
<text x="1342.79" y="575.7" font-size="12.7" font-weight="bold" text-anchor="middle" fill="#000" >8</text>
<text x="1392.84" y="575.7" font-size="12.7" font-weight="bold" text-anchor="middle" fill="#000" >10</text>
<text x="1483.8" y="575.7" font-size="12.7" font-weight="bold" text-anchor="middle" fill="#000" >15</text>
<text x="1257.8" y="593.2" font-size="12.55" font-weight="bold" text-anchor="middle" fill="#000" ><tspan font-style="italic" font-weight="normal">λ</tspan> (<tspan font-style="italic" font-weight="normal">μ</tspan>m)</text>
<rect x="1038.8" y="326.95" width="190" height="128.3" rx="2.2" fill="#6c6c6c" opacity="0.9"/>
<rect x="1036.7" y="324.85" width="190" height="128.3" rx="2.2" fill="#fff" stroke="#d0d0d0" stroke-width="1"/>
<rect x="1040.75" y="329.2" width="20.9" height="7.4" fill="#add8e6" fill-opacity="0.3" stroke="#add8e6" stroke-opacity="0.3" stroke-width="0.8"/>
<text x="1070.7" y="336.75" font-size="10.45" font-weight="normal" text-anchor="start" fill="#000" >F322W2 Region</text>
<rect x="1040.75" y="344.35" width="20.9" height="7.4" fill="#90ee90" fill-opacity="0.3" stroke="#90ee90" stroke-opacity="0.3" stroke-width="0.8"/>
<text x="1070.7" y="351.9" font-size="10.45" font-weight="normal" text-anchor="start" fill="#000" >F444W Region</text>
<rect x="1040.75" y="359.5" width="20.9" height="7.4" fill="#f08080" fill-opacity="0.3" stroke="#f08080" stroke-opacity="0.3" stroke-width="0.8"/>
<text x="1070.7" y="367.05" font-size="10.45" font-weight="normal" text-anchor="start" fill="#000" >MIRI LRS Region</text>
<line x1="1040.75" y1="379.2" x2="1061.65" y2="379.2" stroke="#1f77b4" stroke-width="2.1" stroke-linecap="square"/>
<text x="1070.7" y="383.05" font-size="10.45" font-weight="normal" text-anchor="start" fill="#000" >0.1 <tspan font-style="italic">μ</tspan>m</text>
<line x1="1040.75" y1="395.15" x2="1061.65" y2="395.15" stroke="#ff7f0e" stroke-width="2.1" stroke-dasharray="7.77 3.36"/>
<text x="1070.7" y="399" font-size="10.45" font-weight="normal" text-anchor="start" fill="#000" >1 <tspan font-style="italic">μ</tspan>m</text>
<line x1="1040.75" y1="411.05" x2="1061.65" y2="411.05" stroke="#2ca02c" stroke-width="2.1" stroke-dasharray="13.44 3.36 2.10 3.36"/>
<text x="1070.7" y="414.9" font-size="10.45" font-weight="normal" text-anchor="start" fill="#000" >5 <tspan font-style="italic">μ</tspan>m</text>
<line x1="1040.75" y1="427.15" x2="1061.65" y2="427.15" stroke="#d62728" stroke-width="2.1" stroke-dasharray="2.10 3.46"/>
<text x="1070.7" y="431" font-size="10.45" font-weight="normal" text-anchor="start" fill="#000" >10 <tspan font-style="italic">μ</tspan>m</text>
<line x1="1040.75" y1="443.15" x2="1061.65" y2="443.15" stroke="#000000" stroke-width="2.1" stroke-linecap="square"/>
<text x="1070.7" y="447" font-size="10.45" font-weight="normal" text-anchor="start" fill="#000" >Cloudless GCM with High T<tspan font-style="italic" font-size="7.6" dy="2.4">int</tspan></text>
<rect x="124.93" y="612.5" width="107.15" height="240.4" fill="#add8e6" fill-opacity="0.3"/>
<rect x="228.41" y="612.5" width="58.64" height="240.4" fill="#90ee90" fill-opacity="0.3"/>
<rect x="287.05" y="612.5" width="163.05" height="240.4" fill="#f08080" fill-opacity="0.3"/>
<line x1="79.4" y1="612.5" x2="79.4" y2="852.9" stroke="#b0b0b0" stroke-width="0.8"/>
<line x1="170.36" y1="612.5" x2="170.36" y2="852.9" stroke="#b0b0b0" stroke-width="0.8"/>
<line x1="234.89" y1="612.5" x2="234.89" y2="852.9" stroke="#b0b0b0" stroke-width="0.8"/>
<line x1="284.95" y1="612.5" x2="284.95" y2="852.9" stroke="#b0b0b0" stroke-width="0.8"/>
<line x1="325.85" y1="612.5" x2="325.85" y2="852.9" stroke="#b0b0b0" stroke-width="0.8"/>
<line x1="390.39" y1="612.5" x2="390.39" y2="852.9" stroke="#b0b0b0" stroke-width="0.8"/>
<line x1="440.44" y1="612.5" x2="440.44" y2="852.9" stroke="#b0b0b0" stroke-width="0.8"/>
<line x1="531.4" y1="612.5" x2="531.4" y2="852.9" stroke="#b0b0b0" stroke-width="0.8"/>
<line x1="79.4" y1="852.9" x2="531.4" y2="852.9" stroke="#b0b0b0" stroke-width="0.8"/>
<line x1="79.4" y1="804.82" x2="531.4" y2="804.82" stroke="#b0b0b0" stroke-width="0.8"/>
<line x1="79.4" y1="756.74" x2="531.4" y2="756.74" stroke="#b0b0b0" stroke-width="0.8"/>
<line x1="79.4" y1="708.66" x2="531.4" y2="708.66" stroke="#b0b0b0" stroke-width="0.8"/>
<line x1="79.4" y1="660.58" x2="531.4" y2="660.58" stroke="#b0b0b0" stroke-width="0.8"/>
<line x1="79.4" y1="612.5" x2="531.4" y2="612.5" stroke="#b0b0b0" stroke-width="0.8"/>
<g clip-path="url(#clip02)"><use href="#dT" x="0.0" y="0"/></g>
<path d="M79.4 734.7C79.6 735.1 81.5 739.1 82 740.2C82.5 741.3 84.4 747.1 85 748.2C85.6 749.3 88.4 753.2 89 753.2C89.7 753.2 92.4 749.4 93.1 748.2C93.7 747.1 96.6 740.5 97.1 739.2C97.6 737.9 98.8 733.8 99.1 732.2C99.4 730.6 100.2 720.9 100.6 720.1C101 719.4 103.5 723.2 104.1 723.1C104.7 723.1 107.5 720 108.1 719.6C108.7 719.3 110.6 719.1 111.1 718.6C111.6 718.2 113.7 714.3 114.1 714.1C114.6 713.9 116.3 716.5 116.6 716.6C117 716.7 118.3 715.2 118.6 715.6C119 716 120.6 721.1 121.1 721.6C121.7 722.2 124.5 722.4 125.2 722.6C125.8 722.9 128.6 724.7 129.2 724.6C129.8 724.6 131.6 722.7 132.2 722.1C132.8 721.6 135.5 717.7 136.2 717.6C136.9 717.5 140.1 721.4 140.7 721.1C141.3 720.8 142.8 715.1 143.2 714.1C143.6 713.2 144.8 709.5 145.2 709.6C145.6 709.7 147.8 714.3 148.2 715.1C148.7 716 149.7 719.5 150.2 719.6C150.7 719.7 153.6 716.2 154.3 716.1C154.9 716 157.6 717.7 158.3 718.1C158.9 718.5 161.7 720.6 162.3 721.1C162.9 721.7 164.8 724.4 165.3 724.6C165.8 724.9 167.8 723.6 168.3 723.6C168.8 723.7 171.3 725.7 171.8 725.7C172.4 725.6 174.3 723.9 174.8 723.1C175.3 722.3 177.4 717.6 177.8 716.1C178.3 714.6 179.9 706.5 180.3 705.1C180.8 703.7 182.8 699.6 183.4 699.1C183.9 698.5 186.3 698.1 186.9 698.6C187.4 699 189.4 704.6 189.9 704.1C190.3 703.5 192 693.3 192.4 692C192.8 690.8 194.1 688.3 194.4 689C194.7 689.8 195.9 700.1 196.4 701.1C196.9 702 200.2 700.4 200.9 700.6C201.6 700.7 204.3 701.9 204.9 702.6C205.6 703.2 207.9 707.3 208.4 708.1C209 708.9 210.9 711.3 211.4 712.1C211.9 712.9 214 717.2 214.5 718.1C215 719 217 722.4 217.5 723.1C218 723.9 220 726.1 220.5 726.7C221 727.2 222.9 729.6 223.5 730.2C224.1 730.8 227.2 732.9 228 733.7C228.8 734.4 232.3 738.4 233.1 739.2C233.8 740 236.5 742.4 237.1 743.2C237.6 744 239.2 748.4 239.6 749.2C239.9 750.1 241.2 753.7 241.6 753.7C241.9 753.8 243.3 751.4 243.6 750.2C243.9 749.1 244.8 742.4 245.1 740.2C245.4 738 246.8 726.3 247.1 724.1C247.4 722 248.7 715.1 249.1 714.1C249.5 713.2 251.7 712.3 252.1 712.6C252.6 712.9 254.1 717.2 254.6 718.1C255.1 719 257.5 723.1 258.1 723.6C258.8 724.2 261.6 724.9 262.1 725.2C262.7 725.4 264.7 725.8 265.2 726.2C265.7 726.5 267.7 729 268.2 729.2C268.7 729.3 270.6 728.5 271.2 728.2C271.8 727.9 274.6 725.5 275.2 725.7C275.8 725.8 277.7 729.4 278.2 730.2C278.7 730.9 281.1 734 281.7 734.7C282.3 735.4 284.7 737.4 285.2 738.2C285.8 739 287.8 744.1 288.2 744.2C288.7 744.3 289.9 739.5 290.2 739.2C290.6 738.9 292.3 740.5 292.7 740.2C293.2 739.9 294.8 736.6 295.3 736.2C295.7 735.7 297.4 734.7 297.8 734.7C298.1 734.6 299.3 736.3 299.8 735.7C300.2 735.1 302.8 728.2 303.3 727.7C303.7 727.1 304.9 729.5 305.3 729.2C305.7 728.8 307.9 724 308.3 723.6C308.7 723.3 309.8 725.2 310.3 725.2C310.8 725.1 313.7 722.7 314.3 722.6C314.9 722.6 316.9 724.5 317.3 724.1C317.7 723.8 318.9 718.4 319.3 718.1C319.8 717.9 321.8 720.7 322.3 721.1C322.9 721.6 325.4 723.2 325.9 723.1C326.4 723.1 327.8 720.8 328.4 720.6C328.9 720.5 331.7 721.3 332.4 721.6C333.1 722 335.8 725.1 336.4 725.2C337 725.2 338.9 723 339.4 722.1C339.9 721.3 341.4 715.7 341.9 715.1C342.4 714.5 344.9 714.8 345.4 714.6C346 714.4 348 712.1 348.4 712.6C348.9 713.1 350.4 720 350.9 720.1C351.4 720.3 353.9 714.1 354.5 714.1C355 714.1 356.9 720.2 357.5 720.1C358.1 720.1 360.9 714.4 361.5 713.6C362.1 712.8 363.9 711.1 364.5 710.1C365 709.1 367.5 703.1 368 702.1C368.5 701 370.1 697.9 370.5 697.6C371 697.2 372.5 697.7 373.1 698.1C373.6 698.4 376 701.3 376.6 701.6C377.1 701.9 379.1 702.5 379.6 701.6C380.1 700.7 382.1 691 382.6 690.5C383.1 690.1 385.1 695.2 385.6 696.1C386.1 696.9 387.7 700.2 388.1 701.1C388.5 701.9 390.2 705.4 390.6 706.1C391 706.8 392.7 709.4 393.1 709.6C393.5 709.8 395 708.3 395.6 708.6C396.2 708.8 399.6 711.9 400.1 712.6C400.7 713.3 401.7 716.4 402.1 717.1C402.6 717.8 404.7 720.4 405.2 721.1C405.6 721.8 406.7 725.2 407.2 725.7C407.6 726.1 409.7 726.3 410.2 726.7C410.6 727 412.3 729.8 412.7 730.2C413.1 730.5 414.7 730.8 415.2 731.2C415.7 731.6 417.6 734.5 418.2 735.2C418.8 735.9 421.6 739.3 422.2 739.7C422.8 740.1 424.7 739.4 425.2 739.7C425.8 740 428.2 743 428.7 743.2C429.2 743.5 430.7 742.4 431.2 742.7C431.8 743 435.2 746.5 435.8 746.7C436.3 746.9 437.4 744.9 437.8 745.2C438.1 745.5 439.9 749.9 440.3 750.2C440.7 750.6 441.9 749.6 442.3 749.7C442.6 749.8 444.1 752.1 444.5 751.4C444.9 750.7 446.4 742.6 446.8 741.2C447.2 739.8 448.4 735.2 448.8 734.7C449.2 734.2 450.7 735.2 451 735.5C451.4 735.7 453 737.3 453.4 737.5C453.7 737.6 455.1 737 455.4 737.1C455.7 737.3 457 739.4 457.4 739.5C457.8 739.6 459.7 738.4 460.1 738.5C460.5 738.5 461.7 739.5 462.1 740.1C462.4 740.8 463.7 745.7 464.1 746.2C464.5 746.7 466.3 745.9 466.8 746.2C467.2 746.4 469.1 749.2 469.4 749.5C469.8 749.8 470.8 750.2 471.1 749.8C471.4 749.4 473.1 745.7 473.4 744.8C473.8 744 475.1 739.2 475.5 739.5C475.8 739.7 477.3 747.6 477.8 748.2C478.2 748.7 480.3 746 480.8 746.2C481.3 746.3 483.6 750 484.1 749.8C484.6 749.7 486.4 745.1 486.8 744.1C487.3 743.2 489.1 738.9 489.5 738.1C489.9 737.4 490.8 735.3 491.2 735.5C491.5 735.6 493 739.9 493.5 740.1C494 740.4 496.4 738.9 496.9 738.8C497.3 738.7 498.5 739.2 498.9 738.8C499.3 738.4 501.1 734.6 501.5 734.1C502 733.6 503.8 733.4 504.2 732.8C504.7 732.2 506.5 727.2 506.9 726.8C507.3 726.3 508.5 727.8 508.9 727.8C509.3 727.8 511.2 727.5 511.6 726.8C511.9 726.1 513 720.2 513.2 719.4C513.5 718.6 514 717.1 514.2 717.1C514.5 717 515.9 718.5 516.3 719.1C516.6 719.6 517.9 723.4 518.3 724.1C518.6 724.8 519.9 727.5 520.3 727.4C520.7 727.3 522.6 723.1 522.9 722.7C523.3 722.4 524.3 722.6 524.6 722.7C524.9 722.9 526.6 725.2 527 724.7C527.3 724.3 528.1 718.3 528.3 717.4C528.5 716.4 529 713.1 529.3 713.4C529.5 713.7 531.1 720.1 531.3 720.7" fill="none" stroke="#000000" stroke-width="2.1" stroke-linejoin="round" clip-path="url(#clip02)"/>
<path d="M79.4 703.9C79.8 704.1 83.1 705.9 84 706.3C84.9 706.6 88.9 707.8 90 708.1C91.2 708.4 97.1 709.5 98.1 709.6C99.1 709.7 101.3 709.1 102.1 709.1C102.8 709.1 106.3 710.1 107.1 710.1C107.9 710.1 111.2 709.6 112.1 709.6C113 709.6 117.2 710.4 118.1 710.6C119.1 710.8 122.3 712.2 123.2 712.1C124 712 127.2 710 128.2 709.6C129.1 709.2 133.4 707.1 134.2 707.1C135 707 137.6 708.8 138.2 709.1C138.8 709.3 140.6 710.4 141.2 710.1C141.8 709.8 144.6 705 145.2 705.1C145.9 705.1 148.5 710.3 149.2 710.6C150 710.9 153.5 709.1 154.3 709.1C155 709.1 157.5 709.8 158.3 710.1C159 710.4 162.5 712.2 163.3 712.6C164 713 166.5 714.2 167.3 714.6C168.1 715 171.5 717 172.3 717.1C173.2 717.3 176.6 717.2 177.3 716.6C178.1 716 180.7 710.9 181.3 710.1C182 709.3 184.7 706.8 185.4 707.1C186 707.3 188.8 713.3 189.4 713.1C190 712.9 192 706.1 192.4 705.1C192.8 704 194.1 700 194.4 700.6C194.7 701.2 195.9 711.1 196.4 712.1C196.9 713.1 199.7 711.9 200.4 712.1C201.1 712.4 203.8 714.5 204.4 715.1C205.1 715.7 207.8 718.5 208.4 719.1C209.1 719.8 211.8 722 212.4 722.6C213.1 723.3 215.8 726.6 216.5 727.2C217.1 727.7 219.8 728.9 220.5 729.2C221.1 729.5 223.9 730.4 224.5 730.7C225.1 730.9 227.3 731.9 228 732.2C228.7 732.4 232.2 733.4 233.1 733.7C233.9 733.9 237.3 735 238.1 735.2C238.8 735.4 241.6 736.2 242.1 736C242.6 735.7 243.7 733.2 244.1 732.2C244.5 731.1 246.6 724.4 247.1 723.1C247.6 721.8 249.7 717.2 250.1 716.6C250.5 716 251.6 715.6 252.1 716.1C252.6 716.7 255.5 722 256.1 723.1C256.8 724.3 259.6 729.3 260.1 730.2C260.7 731 262.6 732.8 263.2 733.2C263.7 733.6 266.5 734.6 267.2 734.7C267.8 734.8 270.6 734.7 271.2 734.7C271.8 734.6 274.1 734.1 274.7 734.2C275.3 734.3 277.6 735.9 278.2 736.2C278.8 736.4 281.5 737 282.2 737.2C282.9 737.4 285.7 737.9 286.2 738.2C286.7 738.5 287.8 740.7 288.2 740.7C288.7 740.7 290.7 737.8 291.2 737.7C291.7 737.6 293.7 739.2 294.3 739.2C294.8 739.2 297.7 737.9 298.3 737.7C298.9 737.4 300.7 736.2 301.3 736.2C301.9 736.1 304.7 737.3 305.3 737.2C305.9 737.1 307.9 734.8 308.3 734.7C308.7 734.6 309.8 735.7 310.3 735.7C310.8 735.7 313.7 734.8 314.3 734.7C314.9 734.6 316.9 734.8 317.3 734.7C317.7 734.5 318.9 732.6 319.3 732.7C319.8 732.7 321.8 734.8 322.3 735.2C322.9 735.6 325.4 737.2 325.9 737.2C326.4 737.2 327.8 735.3 328.4 735.2C328.9 735.1 331.7 735.9 332.4 736.2C333.1 736.5 336.3 738.7 336.9 738.7C337.5 738.7 339 736.7 339.4 736.2C339.8 735.6 341.4 732.6 341.9 732.2C342.4 731.8 344.9 731.4 345.4 731.2C346 730.9 348 728.9 348.4 729.2C348.9 729.5 350.4 734.6 350.9 734.7C351.4 734.8 353.9 730.1 354.5 730.2C355 730.3 356.9 735.7 357.5 735.7C358.1 735.7 360.9 730.9 361.5 730.2C362.1 729.5 363.9 727.8 364.5 727.2C365 726.5 367.5 723.3 368 722.1C368.5 721 370.1 714.2 370.5 713.6C371 713 372.5 714.2 373.1 714.6C373.6 715 376 717.8 376.6 718.1C377.1 718.5 379.1 720.1 379.6 719.1C380 718.2 381.7 707.4 382.1 706.6C382.5 705.8 384.1 708.3 384.6 709.1C385 709.9 387.1 715.1 387.6 716.1C388.1 717.1 390.1 720.4 390.6 721.1C391.1 721.8 392.7 724.3 393.1 724.6C393.5 725 395.2 724.9 395.6 725.2C396 725.4 397.8 727 398.1 727.2C398.5 727.3 399.8 726.7 400.1 727.2C400.5 727.7 401.8 732.6 402.1 733.2C402.5 733.8 404.2 734.2 404.7 734.7C405.1 735.2 406.7 738.7 407.2 739.2C407.6 739.7 409.7 740.7 410.2 741.2C410.7 741.7 412.8 745.4 413.2 745.7C413.6 746.1 414.8 745 415.2 745.2C415.6 745.5 417.6 748.2 418.2 748.7C418.8 749.3 421.6 751.4 422.2 751.7C422.8 752 424.7 752 425.2 752.2C425.8 752.5 428.2 754.5 428.7 754.7C429.2 755 430.7 754.5 431.2 754.7C431.8 755 435.2 757.1 435.8 757.3C436.3 757.4 437.4 756.6 437.8 756.8C438.1 756.9 439.7 759 440.3 759.3C440.8 759.6 443.9 760.5 444.5 760.3C445 760 446.4 757.1 446.8 756.3C447.2 755.4 448.4 750.6 448.8 750.2C449.2 749.9 450.7 751.6 451 751.8C451.4 752 453 752.4 453.4 752.5C453.7 752.6 455.1 752.6 455.4 752.8C455.7 753.1 457 755.5 457.4 755.5C457.8 755.6 459.7 753.6 460.1 753.5C460.5 753.5 461.7 754.5 462.1 754.8C462.5 755.2 464.3 757.8 464.7 758.2C465.2 758.6 467 759 467.4 759.2C467.9 759.4 469.7 760.5 470.1 760.5C470.5 760.6 471.8 759.8 472.1 759.5C472.4 759.3 473.2 757.9 473.4 757.5C473.7 757.2 475.1 755.3 475.5 755.5C475.8 755.7 477.3 759.9 477.8 760.2C478.2 760.5 480.3 759.2 480.8 759.2C481.3 759.2 483.6 760.4 484.1 760.2C484.6 760 486.4 757.4 486.8 756.9C487.3 756.3 489.1 753.9 489.5 753.5C489.9 753.1 490.8 752.4 491.2 752.5C491.5 752.6 493 755.1 493.5 755.2C494 755.3 496.4 753.9 496.9 753.8C497.3 753.8 498.5 754.5 498.9 754.2C499.3 753.9 501.1 750.5 501.5 750.2C502 749.8 503.8 750.2 504.2 749.8C504.7 749.4 506.5 745.9 506.9 745.5C507.3 745.1 508.5 744.9 508.9 744.8C509.3 744.7 511.2 744.8 511.6 744.1C511.9 743.5 513 737.2 513.2 736.5C513.5 735.7 514 734.7 514.2 734.8C514.5 734.9 515.9 736.8 516.3 737.5C516.6 738.1 517.9 741.5 518.3 742.1C518.6 742.8 519.9 744.9 520.3 744.8C520.7 744.7 522.6 741.2 522.9 740.8C523.3 740.4 524.3 740.3 524.6 740.5C524.9 740.6 526.6 742.9 527 742.5C527.3 742.1 528.1 736.4 528.3 735.5C528.5 734.5 529 730.8 529.3 731.1C529.5 731.4 531.1 738.8 531.3 739.5" fill="none" stroke="#1f77b4" stroke-width="2.1" stroke-linejoin="round" clip-path="url(#clip02)"/>
<path d="M79.4 723.9C80 724.2 82.6 725.4 84 725.7C85.4 725.9 88.2 726.2 90 726.2C91.9 726.2 96.2 725.9 98.1 725.7C99.9 725.4 102.5 724.5 104.1 724.1C105.7 723.8 108.5 723.4 110.1 723.1C111.7 722.9 114.5 722.3 116.1 722.1C117.7 722 120.7 722.3 122.1 722.1C123.6 721.9 125.8 721.1 127.2 720.6C128.5 720.2 130.8 719 132.2 718.6C133.5 718.2 135.9 718 137.2 717.6C138.5 717.2 141 716 142.2 715.6C143.4 715.2 145 714.5 146.2 714.6C147.4 714.7 149.9 715.9 151.2 716.1C152.6 716.3 154.9 715.9 156.3 716.1C157.6 716.3 159.9 717.3 161.3 717.6C162.6 718 165 718.4 166.3 718.6C167.6 718.8 170 719.1 171.3 719.1C172.6 719.1 175 719 176.3 718.6C177.7 718.2 180.1 716.7 181.3 716.1C182.5 715.5 184.4 714 185.4 714.1C186.3 714.2 187.6 716.8 188.4 716.6C189.2 716.4 190.6 713.4 191.4 712.6C192.2 711.8 193.6 710.1 194.4 710.6C195.2 711.1 196.5 715.3 197.4 716.1C198.3 716.9 200.3 716.3 201.4 716.6C202.5 717 204.2 718 205.4 718.6C206.6 719.2 209.1 720.5 210.4 721.1C211.8 721.7 214 722.8 215.5 723.1C216.9 723.5 219.8 723.7 221.5 723.8C223.2 724 226.9 724 228 724.1C229.1 724.3 229 724.5 230 724.6C231.1 724.8 234.6 724.9 236.1 724.9C237.5 724.9 239.9 725 241.1 724.6C242.3 724.3 244.2 723.1 245.1 722.1C246 721.1 247.3 718.1 248.1 717.1C248.9 716.1 250.3 714.7 251.1 714.6C251.9 714.5 253.2 715.8 254.1 716.6C255.1 717.4 256.9 719.8 258.1 720.6C259.3 721.5 261.5 722.6 263.2 722.9C264.8 723.3 268.4 723.3 270.2 723.3C271.9 723.4 274.6 723.1 276.2 723.1C277.8 723.2 280.6 723.5 282.2 723.6C283.8 723.8 286.6 724.1 288.2 724.1C289.8 724.1 292.6 723.7 294.3 723.6C295.9 723.6 298.7 724.1 300.3 723.9C301.9 723.8 304.7 722.7 306.3 722.6C307.9 722.5 310.7 723.1 312.3 723.1C313.9 723.2 316.7 723.1 318.3 723.1C319.9 723.2 322.7 723.5 324.4 723.6C326 723.8 328.8 723.8 330.4 724.1C332 724.5 334.9 726.2 336.4 726.2C337.9 726.2 339.9 724.9 341.4 724.1C342.9 723.4 346 720.8 347.4 720.6C348.9 720.4 351.1 722 352.4 722.6C353.8 723.3 356.1 725.5 357.5 725.7C358.8 725.9 361.1 724.8 362.5 724.1C363.9 723.5 366.9 721.5 368 720.6C369.1 719.8 370.1 717.8 371 717.6C372 717.4 374 718.9 375.1 719.1C376.1 719.4 378.1 720.4 379.1 719.6C380 718.9 381.3 713.9 382.1 713.6C382.9 713.3 384.2 716.6 385.1 717.6C386 718.6 388 720.4 389.1 721.1C390.2 721.9 391.9 722.6 393.1 723.1C394.3 723.7 396.8 724.5 398.1 725.2C399.5 725.8 401.8 727.4 403.2 728.2C404.5 728.9 406.8 730.1 408.2 730.7C409.5 731.3 411.8 732.1 413.2 732.7C414.5 733.2 416.9 734.2 418.2 734.7C419.5 735.2 421.9 735.9 423.2 736.2C424.6 736.5 426.9 736.9 428.2 737.2C429.6 737.5 431.9 738.1 433.3 738.2C434.6 738.3 436.9 738 438.3 738.2C439.6 738.4 441.9 739.6 443.3 739.7C444.6 739.8 447.1 738.8 448.3 738.7C449.5 738.6 451 738.9 452 739.1C453.1 739.4 455 740.2 456.1 740.5C457.1 740.7 459 740.6 460.1 740.8C461.1 741 463 741.5 464.1 741.8C465.2 742.1 467 742.6 468.1 742.8C469.2 743 471 743.4 472.1 743.5C473.2 743.5 475.1 743.3 476.1 743.3C477.2 743.4 479.1 743.7 480.1 743.8C481.2 743.9 483.1 744.1 484.1 744.1C485.2 744.1 487.1 743.9 488.2 743.8C489.2 743.8 491.1 743.8 492.2 743.8C493.2 743.9 495.1 744.4 496.2 744.3C497.3 744.2 499.1 743.5 500.2 743.1C501.3 742.8 503.1 742.2 504.2 741.8C505.3 741.4 507.3 740.8 508.2 740.5C509.1 740.2 510.3 740.1 510.9 739.5C511.5 738.8 512.5 736.2 512.9 735.5C513.4 734.7 513.7 733.7 514.2 733.8C514.8 733.9 516.3 735.3 516.9 736.1C517.5 737 518.4 739.2 518.9 740.1C519.4 741 520.1 742.8 520.6 742.8C521.1 742.9 522.4 740.7 522.9 740.5C523.5 740.2 524.4 740.6 524.9 740.8C525.5 741 526.5 742.4 527 742.1C527.4 741.9 527.9 739.8 528.3 738.8C528.7 737.8 529.2 734.8 529.6 734.8C530 734.8 531.1 738.3 531.3 738.8" fill="none" stroke="#ff7f0e" stroke-width="2.1" stroke-linejoin="round" stroke-dasharray="7.77 3.36" clip-path="url(#clip02)"/>
<path d="M79.4 734.2C79.6 734.3 81.5 735.6 82 736.2C82.5 736.8 84.4 740.5 85 741.2C85.6 741.9 88.4 744.1 89 744.2C89.7 744.3 92.4 743.3 93.1 742.7C93.7 742.2 96.5 738.7 97.1 737.7C97.6 736.6 99 731.6 99.3 730.2C99.6 728.7 100.2 721.2 100.6 720.6C101 720.1 103.5 723.2 104.1 723.1C104.7 723.1 107.5 720 108.1 719.6C108.7 719.3 110.6 719.1 111.1 718.6C111.6 718.2 113.7 714.3 114.1 714.1C114.6 713.9 116.3 716.5 116.6 716.6C117 716.7 118.3 715.2 118.6 715.6C119 716 120.6 721.1 121.1 721.6C121.7 722.2 124.5 722.4 125.2 722.6C125.8 722.9 128.6 724.7 129.2 724.6C129.8 724.6 131.6 722.7 132.2 722.1C132.8 721.6 135.5 717.7 136.2 717.6C136.9 717.5 140.1 721.4 140.7 721.1C141.3 720.8 142.8 715.1 143.2 714.1C143.6 713.2 144.8 709.5 145.2 709.6C145.6 709.7 147.8 714.3 148.2 715.1C148.7 716 149.7 719.5 150.2 719.6C150.7 719.7 153.6 716.2 154.3 716.1C154.9 716 157.6 717.7 158.3 718.1C158.9 718.5 161.7 720.6 162.3 721.1C162.9 721.7 164.8 724.4 165.3 724.6C165.8 724.9 167.8 723.6 168.3 723.6C168.8 723.7 171.3 725.7 171.8 725.7C172.4 725.6 174.3 723.9 174.8 723.1C175.3 722.3 177.4 717.6 177.8 716.1C178.3 714.6 179.9 706.5 180.3 705.1C180.8 703.7 182.8 699.6 183.4 699.1C183.9 698.5 186.3 698.1 186.9 698.6C187.4 699 189.4 704.6 189.9 704.1C190.3 703.5 192 693.3 192.4 692C192.8 690.8 194.1 688.3 194.4 689C194.7 689.8 195.9 700.1 196.4 701.1C196.9 702 200.2 700.4 200.9 700.6C201.6 700.7 204.3 701.9 204.9 702.6C205.6 703.2 207.9 707.3 208.4 708.1C209 708.9 210.9 711.3 211.4 712.1C211.9 712.9 214 717.2 214.5 718.1C215 719 217 722.4 217.5 723.1C218 723.9 220 726.1 220.5 726.7C221 727.2 222.9 729.6 223.5 730.2C224.1 730.8 227.2 733.1 228 733.7C228.8 734.3 232.2 736.6 233.1 737.2C233.9 737.8 237.4 739.9 238.1 740.7C238.7 741.5 240.2 745.2 240.6 746.2C240.9 747.2 241.8 752.4 242.1 752.7C242.3 753.1 243.3 751.3 243.6 750.2C243.8 749.2 244.8 742.4 245.1 740.2C245.4 738 246.8 726.3 247.1 724.1C247.4 722 248.7 715.1 249.1 714.1C249.5 713.2 251.7 712.3 252.1 712.6C252.6 712.9 254.1 717.2 254.6 718.1C255.1 719 257.5 723.1 258.1 723.6C258.8 724.2 261.6 724.9 262.1 725.2C262.7 725.4 264.7 725.8 265.2 726.2C265.7 726.5 267.7 729 268.2 729.2C268.7 729.3 270.6 728.5 271.2 728.2C271.8 727.9 274.6 725.5 275.2 725.7C275.8 725.8 277.7 729.5 278.2 730.2C278.7 730.8 281.1 733.2 281.7 733.7C282.3 734.2 284.7 735.8 285.2 736.2C285.8 736.6 287.6 738.3 288.2 738.2C288.8 738.1 291.4 735.2 292.2 734.7C293.1 734.1 297.5 732 298.3 731.7C299 731.4 300.9 731.5 301.3 731.2C301.7 730.8 302.9 727.8 303.3 727.7C303.6 727.5 304.9 729.5 305.3 729.2C305.7 728.8 307.9 724 308.3 723.6C308.7 723.3 309.8 725.2 310.3 725.2C310.8 725.1 313.7 722.7 314.3 722.6C314.9 722.6 316.9 724.5 317.3 724.1C317.7 723.8 318.9 718.4 319.3 718.1C319.8 717.9 321.8 720.7 322.3 721.1C322.9 721.6 325.4 723.2 325.9 723.1C326.4 723.1 327.8 720.8 328.4 720.6C328.9 720.5 331.7 721.3 332.4 721.6C333.1 722 335.8 725.1 336.4 725.2C337 725.2 338.9 723 339.4 722.1C339.9 721.3 341.4 715.7 341.9 715.1C342.4 714.5 344.9 714.8 345.4 714.6C346 714.4 348 712.1 348.4 712.6C348.9 713.1 350.4 720 350.9 720.1C351.4 720.3 353.9 714.1 354.5 714.1C355 714.1 356.9 720.2 357.5 720.1C358.1 720.1 360.9 714.4 361.5 713.6C362.1 712.8 363.9 711.1 364.5 710.1C365 709.1 367.5 703.1 368 702.1C368.5 701 370.1 697.9 370.5 697.6C371 697.2 372.5 697.7 373.1 698.1C373.6 698.4 376 701.3 376.6 701.6C377.1 701.9 379.1 702.5 379.6 701.6C380.1 700.7 382.1 691 382.6 690.5C383.1 690.1 385.1 695.2 385.6 696.1C386.1 696.9 387.7 700.2 388.1 701.1C388.5 701.9 390.2 705.4 390.6 706.1C391 706.8 392.7 709.4 393.1 709.6C393.5 709.8 395 708.3 395.6 708.6C396.2 708.8 399.6 711.9 400.1 712.6C400.7 713.3 401.7 716.4 402.1 717.1C402.6 717.8 404.7 720.4 405.2 721.1C405.6 721.8 406.7 725.2 407.2 725.7C407.6 726.1 409.7 726.3 410.2 726.7C410.6 727 412.3 729.8 412.7 730.2C413.1 730.5 414.7 730.8 415.2 731.2C415.7 731.5 417.6 734.3 418.2 734.7C418.8 735.1 421.5 736 422.2 736.2C422.9 736.4 425.6 736.5 426.2 736.7C426.9 736.9 429.6 738.5 430.2 738.7C430.9 738.9 433.7 738.5 434.3 738.7C434.8 738.9 436.8 740.4 437.3 740.7C437.8 741 439.7 742.5 440.3 742.7C440.9 742.9 443.7 743.1 444.3 742.7C444.8 742.3 446.4 739.1 446.8 738.2C447.2 737.3 448.4 732 448.8 731.7C449.2 731.3 450.7 733.9 451 734.1C451.4 734.3 453 734.4 453.4 734.4C453.7 734.5 455.1 734.3 455.4 734.4C455.7 734.6 457 736 457.4 736.1C457.8 736.2 459.7 735.4 460.1 735.5C460.5 735.5 461.7 736.7 462.1 737.1C462.5 737.6 464.3 740.4 464.7 740.8C465.2 741.2 467 742 467.4 742.1C467.9 742.3 469.6 742.5 470.1 742.1C470.6 741.8 473 738.7 473.4 738.1C473.9 737.6 475.4 735.6 475.8 735.8C476.2 736 477.7 739.7 478.1 740.1C478.6 740.6 481 740.7 481.5 740.8C482 740.9 483.7 741.7 484.1 741.5C484.6 741.2 486.4 738.7 486.8 738.1C487.3 737.5 489.1 734.6 489.5 734.1C489.9 733.7 490.8 732.6 491.2 732.8C491.5 733 493.1 736.2 493.5 736.5C493.9 736.7 495.7 735.6 496.2 735.5C496.6 735.3 498.4 734.5 498.9 734.1C499.3 733.7 501.1 731.2 501.5 730.8C502 730.4 503.8 729.8 504.2 729.4C504.7 729.1 506.5 726.9 506.9 726.8C507.3 726.6 508.5 727.8 508.9 727.8C509.3 727.8 511.2 727.5 511.6 726.8C511.9 726.1 513 720.2 513.2 719.4C513.5 718.6 514 717.1 514.2 717.1C514.5 717 515.9 718.5 516.3 719.1C516.6 719.6 517.9 723.4 518.3 724.1C518.6 724.8 519.9 727.5 520.3 727.4C520.7 727.3 522.6 723.1 522.9 722.7C523.3 722.4 524.3 722.6 524.6 722.7C524.9 722.9 526.6 725.2 527 724.7C527.3 724.3 528.1 718.3 528.3 717.4C528.5 716.4 529 713.1 529.3 713.4C529.5 713.7 531.1 720.1 531.3 720.7" fill="none" stroke="#2ca02c" stroke-width="2.1" stroke-linejoin="round" stroke-dasharray="13.44 3.36 2.10 3.36" clip-path="url(#clip02)"/>
<path d="M79.4 734.7C79.6 735.1 81.5 739.1 82 740.2C82.5 741.3 84.4 747.1 85 748.2C85.6 749.3 88.4 753.2 89 753.2C89.7 753.2 92.4 749.4 93.1 748.2C93.7 747.1 96.6 740.5 97.1 739.2C97.6 737.9 98.8 733.8 99.1 732.2C99.4 730.6 100.2 720.9 100.6 720.1C101 719.4 103.5 723.2 104.1 723.1C104.7 723.1 107.5 720 108.1 719.6C108.7 719.3 110.6 719.1 111.1 718.6C111.6 718.2 113.7 714.3 114.1 714.1C114.6 713.9 116.3 716.5 116.6 716.6C117 716.7 118.3 715.2 118.6 715.6C119 716 120.6 721.1 121.1 721.6C121.7 722.2 124.5 722.4 125.2 722.6C125.8 722.9 128.6 724.7 129.2 724.6C129.8 724.6 131.6 722.7 132.2 722.1C132.8 721.6 135.5 717.7 136.2 717.6C136.9 717.5 140.1 721.4 140.7 721.1C141.3 720.8 142.8 715.1 143.2 714.1C143.6 713.2 144.8 709.5 145.2 709.6C145.6 709.7 147.8 714.3 148.2 715.1C148.7 716 149.7 719.5 150.2 719.6C150.7 719.7 153.6 716.2 154.3 716.1C154.9 716 157.6 717.7 158.3 718.1C158.9 718.5 161.7 720.6 162.3 721.1C162.9 721.7 164.8 724.4 165.3 724.6C165.8 724.9 167.8 723.6 168.3 723.6C168.8 723.7 171.3 725.7 171.8 725.7C172.4 725.6 174.3 723.9 174.8 723.1C175.3 722.3 177.4 717.6 177.8 716.1C178.3 714.6 179.9 706.5 180.3 705.1C180.8 703.7 182.8 699.6 183.4 699.1C183.9 698.5 186.3 698.1 186.9 698.6C187.4 699 189.4 704.6 189.9 704.1C190.3 703.5 192 693.3 192.4 692C192.8 690.8 194.1 688.3 194.4 689C194.7 689.8 195.9 700.1 196.4 701.1C196.9 702 200.2 700.4 200.9 700.6C201.6 700.7 204.3 701.9 204.9 702.6C205.6 703.2 207.9 707.3 208.4 708.1C209 708.9 210.9 711.3 211.4 712.1C211.9 712.9 214 717.2 214.5 718.1C215 719 217 722.4 217.5 723.1C218 723.9 220 726.1 220.5 726.7C221 727.2 222.9 729.6 223.5 730.2C224.1 730.8 227.2 732.9 228 733.7C228.8 734.4 232.3 738.4 233.1 739.2C233.8 740 236.5 742.4 237.1 743.2C237.6 744 239.2 748.4 239.6 749.2C239.9 750.1 241.2 753.7 241.6 753.7C241.9 753.8 243.3 751.4 243.6 750.2C243.9 749.1 244.8 742.4 245.1 740.2C245.4 738 246.8 726.3 247.1 724.1C247.4 722 248.7 715.1 249.1 714.1C249.5 713.2 251.7 712.3 252.1 712.6C252.6 712.9 254.1 717.2 254.6 718.1C255.1 719 257.5 723.1 258.1 723.6C258.8 724.2 261.6 724.9 262.1 725.2C262.7 725.4 264.7 725.8 265.2 726.2C265.7 726.5 267.7 729 268.2 729.2C268.7 729.3 270.6 728.5 271.2 728.2C271.8 727.9 274.6 725.5 275.2 725.7C275.8 725.8 277.7 729.4 278.2 730.2C278.7 730.9 281.1 734 281.7 734.7C282.3 735.4 284.7 737.4 285.2 738.2C285.8 739 287.8 744.1 288.2 744.2C288.7 744.3 289.9 739.5 290.2 739.2C290.6 738.9 292.3 740.5 292.7 740.2C293.2 739.9 294.8 736.6 295.3 736.2C295.7 735.7 297.4 734.7 297.8 734.7C298.1 734.6 299.3 736.3 299.8 735.7C300.2 735.1 302.8 728.2 303.3 727.7C303.7 727.1 304.9 729.5 305.3 729.2C305.7 728.8 307.9 724 308.3 723.6C308.7 723.3 309.8 725.2 310.3 725.2C310.8 725.1 313.7 722.7 314.3 722.6C314.9 722.6 316.9 724.5 317.3 724.1C317.7 723.8 318.9 718.4 319.3 718.1C319.8 717.9 321.8 720.7 322.3 721.1C322.9 721.6 325.4 723.2 325.9 723.1C326.4 723.1 327.8 720.8 328.4 720.6C328.9 720.5 331.7 721.3 332.4 721.6C333.1 722 335.8 725.1 336.4 725.2C337 725.2 338.9 723 339.4 722.1C339.9 721.3 341.4 715.7 341.9 715.1C342.4 714.5 344.9 714.8 345.4 714.6C346 714.4 348 712.1 348.4 712.6C348.9 713.1 350.4 720 350.9 720.1C351.4 720.3 353.9 714.1 354.5 714.1C355 714.1 356.9 720.2 357.5 720.1C358.1 720.1 360.9 714.4 361.5 713.6C362.1 712.8 363.9 711.1 364.5 710.1C365 709.1 367.5 703.1 368 702.1C368.5 701 370.1 697.9 370.5 697.6C371 697.2 372.5 697.7 373.1 698.1C373.6 698.4 376 701.3 376.6 701.6C377.1 701.9 379.1 702.5 379.6 701.6C380.1 700.7 382.1 691 382.6 690.5C383.1 690.1 385.1 695.2 385.6 696.1C386.1 696.9 387.7 700.2 388.1 701.1C388.5 701.9 390.2 705.4 390.6 706.1C391 706.8 392.7 709.4 393.1 709.6C393.5 709.8 395 708.3 395.6 708.6C396.2 708.8 399.6 711.9 400.1 712.6C400.7 713.3 401.7 716.4 402.1 717.1C402.6 717.8 404.7 720.4 405.2 721.1C405.6 721.8 406.7 725.2 407.2 725.7C407.6 726.1 409.7 726.3 410.2 726.7C410.6 727 412.3 729.8 412.7 730.2C413.1 730.5 414.7 730.8 415.2 731.2C415.7 731.6 417.6 734.5 418.2 735.2C418.8 735.9 421.6 739.3 422.2 739.7C422.8 740.1 424.7 739.4 425.2 739.7C425.8 740 428.2 743 428.7 743.2C429.2 743.5 430.7 742.4 431.2 742.7C431.8 743 435.2 746.5 435.8 746.7C436.3 746.9 437.4 744.9 437.8 745.2C438.1 745.5 439.9 749.9 440.3 750.2C440.7 750.6 441.9 749.6 442.3 749.7C442.6 749.8 444.1 752.1 444.5 751.4C444.9 750.7 446.4 742.6 446.8 741.2C447.2 739.8 448.4 735.2 448.8 734.7C449.2 734.2 450.7 735.2 451 735.5C451.4 735.7 453 737.3 453.4 737.5C453.7 737.6 455.1 737 455.4 737.1C455.7 737.3 457 739.4 457.4 739.5C457.8 739.6 459.7 738.4 460.1 738.5C460.5 738.5 461.7 739.5 462.1 740.1C462.4 740.8 463.7 745.7 464.1 746.2C464.5 746.7 466.3 745.9 466.8 746.2C467.2 746.4 469.1 749.2 469.4 749.5C469.8 749.8 470.8 750.2 471.1 749.8C471.4 749.4 473.1 745.7 473.4 744.8C473.8 744 475.1 739.2 475.5 739.5C475.8 739.7 477.3 747.6 477.8 748.2C478.2 748.7 480.3 746 480.8 746.2C481.3 746.3 483.6 750 484.1 749.8C484.6 749.7 486.4 745.1 486.8 744.1C487.3 743.2 489.1 738.9 489.5 738.1C489.9 737.4 490.8 735.3 491.2 735.5C491.5 735.6 493 739.9 493.5 740.1C494 740.4 496.4 738.9 496.9 738.8C497.3 738.7 498.5 739.2 498.9 738.8C499.3 738.4 501.1 734.6 501.5 734.1C502 733.6 503.8 733.4 504.2 732.8C504.7 732.2 506.5 727.2 506.9 726.8C507.3 726.3 508.5 727.8 508.9 727.8C509.3 727.8 511.2 727.5 511.6 726.8C511.9 726.1 513 720.2 513.2 719.4C513.5 718.6 514 717.1 514.2 717.1C514.5 717 515.9 718.5 516.3 719.1C516.6 719.6 517.9 723.4 518.3 724.1C518.6 724.8 519.9 727.5 520.3 727.4C520.7 727.3 522.6 723.1 522.9 722.7C523.3 722.4 524.3 722.6 524.6 722.7C524.9 722.9 526.6 725.2 527 724.7C527.3 724.3 528.1 718.3 528.3 717.4C528.5 716.4 529 713.1 529.3 713.4C529.5 713.7 531.1 720.1 531.3 720.7" fill="none" stroke="#d62728" stroke-width="2.1" stroke-linejoin="round" stroke-dasharray="2.10 3.46" clip-path="url(#clip02)"/>
<rect x="79.4" y="612.5" width="452" height="240.4" fill="none" stroke="#000" stroke-width="0.8"/>
<line x1="79.4" y1="852.9" x2="79.4" y2="856.5" stroke="#000" stroke-width="0.8"/>
<line x1="170.36" y1="852.9" x2="170.36" y2="856.5" stroke="#000" stroke-width="0.8"/>
<line x1="234.89" y1="852.9" x2="234.89" y2="856.5" stroke="#000" stroke-width="0.8"/>
<line x1="284.95" y1="852.9" x2="284.95" y2="856.5" stroke="#000" stroke-width="0.8"/>
<line x1="325.85" y1="852.9" x2="325.85" y2="856.5" stroke="#000" stroke-width="0.8"/>
<line x1="390.39" y1="852.9" x2="390.39" y2="856.5" stroke="#000" stroke-width="0.8"/>
<line x1="440.44" y1="852.9" x2="440.44" y2="856.5" stroke="#000" stroke-width="0.8"/>
<line x1="531.4" y1="852.9" x2="531.4" y2="856.5" stroke="#000" stroke-width="0.8"/>
<line x1="360.43" y1="852.9" x2="360.43" y2="854.9" stroke="#000" stroke-width="0.6"/>
<line x1="416.81" y1="852.9" x2="416.81" y2="854.9" stroke="#000" stroke-width="0.6"/>
<line x1="75.8" y1="852.9" x2="79.4" y2="852.9" stroke="#000" stroke-width="0.8"/>
<line x1="75.8" y1="804.82" x2="79.4" y2="804.82" stroke="#000" stroke-width="0.8"/>
<line x1="75.8" y1="756.74" x2="79.4" y2="756.74" stroke="#000" stroke-width="0.8"/>
<line x1="75.8" y1="708.66" x2="79.4" y2="708.66" stroke="#000" stroke-width="0.8"/>
<line x1="75.8" y1="660.58" x2="79.4" y2="660.58" stroke="#000" stroke-width="0.8"/>
<line x1="75.8" y1="612.5" x2="79.4" y2="612.5" stroke="#000" stroke-width="0.8"/>
<text x="79.4" y="869.1" font-size="12.7" font-weight="bold" text-anchor="middle" fill="#000" >2</text>
<text x="170.36" y="869.1" font-size="12.7" font-weight="bold" text-anchor="middle" fill="#000" >3</text>
<text x="234.89" y="869.1" font-size="12.7" font-weight="bold" text-anchor="middle" fill="#000" >4</text>
<text x="284.95" y="869.1" font-size="12.7" font-weight="bold" text-anchor="middle" fill="#000" >5</text>
<text x="325.85" y="869.1" font-size="12.7" font-weight="bold" text-anchor="middle" fill="#000" >6</text>
<text x="390.39" y="869.1" font-size="12.7" font-weight="bold" text-anchor="middle" fill="#000" >8</text>
<text x="440.44" y="869.1" font-size="12.7" font-weight="bold" text-anchor="middle" fill="#000" >10</text>
<text x="531.4" y="869.1" font-size="12.7" font-weight="bold" text-anchor="middle" fill="#000" >15</text>
<text x="71.8" y="856.9" font-size="12.7" font-weight="normal" text-anchor="end" fill="#000" >0.0280</text>
<text x="71.8" y="808.82" font-size="12.7" font-weight="normal" text-anchor="end" fill="#000" >0.0285</text>
<text x="71.8" y="760.74" font-size="12.7" font-weight="normal" text-anchor="end" fill="#000" >0.0290</text>
<text x="71.8" y="712.66" font-size="12.7" font-weight="normal" text-anchor="end" fill="#000" >0.0295</text>
<text x="71.8" y="664.58" font-size="12.7" font-weight="normal" text-anchor="end" fill="#000" >0.0300</text>
<text x="71.8" y="616.5" font-size="12.7" font-weight="normal" text-anchor="end" fill="#000" >0.0305</text>
<text x="0" y="0" font-size="12.55" font-weight="bold" text-anchor="middle" fill="#000" transform="translate(17.5,732.7) rotate(-90)">(R<tspan font-weight="normal" font-size="9" dy="2.5">p</tspan><tspan dy="-2.5">/R</tspan><tspan font-weight="normal" font-size="8.5" dy="2.5">⋆</tspan><tspan dy="-2.5">)</tspan><tspan font-weight="normal" font-size="8.5" dy="-4.5">2</tspan></text>
<text x="305.4" y="885.9" font-size="12.55" font-weight="bold" text-anchor="middle" fill="#000" ><tspan font-style="italic" font-weight="normal">λ</tspan> (<tspan font-style="italic" font-weight="normal">μ</tspan>m)</text>
<rect x="601.13" y="612.5" width="107.15" height="240.4" fill="#add8e6" fill-opacity="0.3"/>
<rect x="704.61" y="612.5" width="58.64" height="240.4" fill="#90ee90" fill-opacity="0.3"/>
<rect x="763.25" y="612.5" width="163.05" height="240.4" fill="#f08080" fill-opacity="0.3"/>
<line x1="555.6" y1="612.5" x2="555.6" y2="852.9" stroke="#b0b0b0" stroke-width="0.8"/>
<line x1="646.56" y1="612.5" x2="646.56" y2="852.9" stroke="#b0b0b0" stroke-width="0.8"/>
<line x1="711.09" y1="612.5" x2="711.09" y2="852.9" stroke="#b0b0b0" stroke-width="0.8"/>
<line x1="761.15" y1="612.5" x2="761.15" y2="852.9" stroke="#b0b0b0" stroke-width="0.8"/>
<line x1="802.05" y1="612.5" x2="802.05" y2="852.9" stroke="#b0b0b0" stroke-width="0.8"/>
<line x1="866.59" y1="612.5" x2="866.59" y2="852.9" stroke="#b0b0b0" stroke-width="0.8"/>
<line x1="916.64" y1="612.5" x2="916.64" y2="852.9" stroke="#b0b0b0" stroke-width="0.8"/>
<line x1="1007.6" y1="612.5" x2="1007.6" y2="852.9" stroke="#b0b0b0" stroke-width="0.8"/>
<line x1="555.6" y1="852.9" x2="1007.6" y2="852.9" stroke="#b0b0b0" stroke-width="0.8"/>
<line x1="555.6" y1="804.82" x2="1007.6" y2="804.82" stroke="#b0b0b0" stroke-width="0.8"/>
<line x1="555.6" y1="756.74" x2="1007.6" y2="756.74" stroke="#b0b0b0" stroke-width="0.8"/>
<line x1="555.6" y1="708.66" x2="1007.6" y2="708.66" stroke="#b0b0b0" stroke-width="0.8"/>
<line x1="555.6" y1="660.58" x2="1007.6" y2="660.58" stroke="#b0b0b0" stroke-width="0.8"/>
<line x1="555.6" y1="612.5" x2="1007.6" y2="612.5" stroke="#b0b0b0" stroke-width="0.8"/>
<g clip-path="url(#clip12)"><use href="#dT" x="476.2" y="0"/></g>
<path d="M555.6 734.7C555.8 735.1 557.7 739.1 558.2 740.2C558.7 741.3 560.6 747.1 561.2 748.2C561.8 749.3 564.6 753.2 565.2 753.2C565.9 753.2 568.6 749.4 569.3 748.2C569.9 747.1 572.8 740.5 573.3 739.2C573.8 737.9 575 733.8 575.3 732.2C575.6 730.6 576.4 720.9 576.8 720.1C577.2 719.4 579.7 723.2 580.3 723.1C580.9 723.1 583.7 720 584.3 719.6C584.9 719.3 586.8 719.1 587.3 718.6C587.8 718.2 589.9 714.3 590.3 714.1C590.8 713.9 592.5 716.5 592.8 716.6C593.2 716.7 594.5 715.2 594.8 715.6C595.2 716 596.8 721.1 597.3 721.6C597.9 722.2 600.7 722.4 601.4 722.6C602 722.9 604.8 724.7 605.4 724.6C606 724.6 607.8 722.7 608.4 722.1C609 721.6 611.7 717.7 612.4 717.6C613.1 717.5 616.3 721.4 616.9 721.1C617.5 720.8 619 715.1 619.4 714.1C619.8 713.2 621 709.5 621.4 709.6C621.8 709.7 624 714.3 624.4 715.1C624.9 716 625.9 719.5 626.4 719.6C626.9 719.7 629.8 716.2 630.5 716.1C631.1 716 633.8 717.7 634.5 718.1C635.1 718.5 637.9 720.6 638.5 721.1C639.1 721.7 641 724.4 641.5 724.6C642 724.9 644 723.6 644.5 723.6C645 723.7 647.5 725.7 648 725.7C648.6 725.6 650.5 723.9 651 723.1C651.5 722.3 653.6 717.6 654 716.1C654.5 714.6 656.1 706.5 656.5 705.1C657 703.7 659 699.6 659.6 699.1C660.1 698.5 662.5 698.1 663.1 698.6C663.6 699 665.6 704.6 666.1 704.1C666.5 703.5 668.2 693.3 668.6 692C669 690.8 670.3 688.3 670.6 689C670.9 689.8 672.1 700.1 672.6 701.1C673.1 702 676.4 700.4 677.1 700.6C677.8 700.7 680.5 701.9 681.1 702.6C681.8 703.2 684.1 707.3 684.6 708.1C685.2 708.9 687.1 711.3 687.6 712.1C688.1 712.9 690.2 717.2 690.7 718.1C691.2 719 693.2 722.4 693.7 723.1C694.2 723.9 696.2 726.1 696.7 726.7C697.2 727.2 699.1 729.6 699.7 730.2C700.3 730.8 703.4 732.9 704.2 733.7C705 734.4 708.5 738.4 709.3 739.2C710 740 712.7 742.4 713.3 743.2C713.8 744 715.4 748.4 715.8 749.2C716.1 750.1 717.4 753.7 717.8 753.7C718.1 753.8 719.5 751.4 719.8 750.2C720.1 749.1 721 742.4 721.3 740.2C721.6 738 723 726.3 723.3 724.1C723.6 722 724.9 715.1 725.3 714.1C725.7 713.2 727.9 712.3 728.3 712.6C728.8 712.9 730.3 717.2 730.8 718.1C731.3 719 733.7 723.1 734.3 723.6C735 724.2 737.8 724.9 738.3 725.2C738.9 725.4 740.9 725.8 741.4 726.2C741.9 726.5 743.9 729 744.4 729.2C744.9 729.3 746.8 728.5 747.4 728.2C748 727.9 750.8 725.5 751.4 725.7C752 725.8 753.9 729.4 754.4 730.2C754.9 730.9 757.3 734 757.9 734.7C758.5 735.4 760.9 737.4 761.4 738.2C762 739 764 744.1 764.4 744.2C764.9 744.3 766.1 739.5 766.4 739.2C766.8 738.9 768.5 740.5 768.9 740.2C769.4 739.9 771 736.6 771.5 736.2C771.9 735.7 773.6 734.7 774 734.7C774.3 734.6 775.5 736.3 776 735.7C776.4 735.1 779 728.2 779.5 727.7C779.9 727.1 781.1 729.5 781.5 729.2C781.9 728.8 784.1 724 784.5 723.6C784.9 723.3 786 725.2 786.5 725.2C787 725.1 789.9 722.7 790.5 722.6C791.1 722.6 793.1 724.5 793.5 724.1C793.9 723.8 795.1 718.4 795.5 718.1C796 717.9 798 720.7 798.5 721.1C799.1 721.6 801.6 723.2 802.1 723.1C802.6 723.1 804 720.8 804.6 720.6C805.1 720.5 807.9 721.3 808.6 721.6C809.3 722 812 725.1 812.6 725.2C813.2 725.2 815.1 723 815.6 722.1C816.1 721.3 817.6 715.7 818.1 715.1C818.6 714.5 821.1 714.8 821.6 714.6C822.2 714.4 824.2 712.1 824.6 712.6C825.1 713.1 826.6 720 827.1 720.1C827.6 720.3 830.1 714.1 830.7 714.1C831.2 714.1 833.1 720.2 833.7 720.1C834.3 720.1 837.1 714.4 837.7 713.6C838.3 712.8 840.1 711.1 840.7 710.1C841.2 709.1 843.7 703.1 844.2 702.1C844.7 701 846.3 697.9 846.7 697.6C847.2 697.2 848.7 697.7 849.3 698.1C849.8 698.4 852.2 701.3 852.8 701.6C853.3 701.9 855.3 702.5 855.8 701.6C856.3 700.7 858.3 691 858.8 690.5C859.3 690.1 861.3 695.2 861.8 696.1C862.3 696.9 863.9 700.2 864.3 701.1C864.7 701.9 866.4 705.4 866.8 706.1C867.2 706.8 868.9 709.4 869.3 709.6C869.7 709.8 871.2 708.3 871.8 708.6C872.4 708.8 875.8 711.9 876.3 712.6C876.9 713.3 877.9 716.4 878.3 717.1C878.8 717.8 880.9 720.4 881.4 721.1C881.8 721.8 882.9 725.2 883.4 725.7C883.8 726.1 885.9 726.3 886.4 726.7C886.8 727 888.5 729.8 888.9 730.2C889.3 730.5 890.9 730.8 891.4 731.2C891.9 731.6 893.8 734.5 894.4 735.2C895 735.9 897.8 739.3 898.4 739.7C899 740.1 900.9 739.4 901.4 739.7C902 740 904.4 743 904.9 743.2C905.4 743.5 906.9 742.4 907.4 742.7C908 743 911.4 746.5 912 746.7C912.5 746.9 913.6 744.9 914 745.2C914.3 745.5 916.1 749.9 916.5 750.2C916.9 750.6 918.1 749.6 918.5 749.7C918.8 749.8 920.3 752.1 920.7 751.4C921.1 750.7 922.6 742.6 923 741.2C923.4 739.8 924.6 735.2 925 734.7C925.4 734.2 926.9 735.2 927.2 735.5C927.6 735.7 929.2 737.3 929.6 737.5C929.9 737.6 931.3 737 931.6 737.1C931.9 737.3 933.2 739.4 933.6 739.5C934 739.6 935.9 738.4 936.3 738.5C936.7 738.5 937.9 739.5 938.3 740.1C938.6 740.8 939.9 745.7 940.3 746.2C940.7 746.7 942.5 745.9 943 746.2C943.4 746.4 945.3 749.2 945.6 749.5C946 749.8 947 750.2 947.3 749.8C947.6 749.4 949.3 745.7 949.6 744.8C950 744 951.3 739.2 951.7 739.5C952 739.7 953.5 747.6 954 748.2C954.4 748.7 956.5 746 957 746.2C957.5 746.3 959.8 750 960.3 749.8C960.8 749.7 962.6 745.1 963 744.1C963.5 743.2 965.3 738.9 965.7 738.1C966.1 737.4 967 735.3 967.4 735.5C967.7 735.6 969.2 739.9 969.7 740.1C970.2 740.4 972.6 738.9 973.1 738.8C973.5 738.7 974.7 739.2 975.1 738.8C975.5 738.4 977.3 734.6 977.7 734.1C978.2 733.6 980 733.4 980.4 732.8C980.9 732.2 982.7 727.2 983.1 726.8C983.5 726.3 984.7 727.8 985.1 727.8C985.5 727.8 987.4 727.5 987.8 726.8C988.1 726.1 989.2 720.2 989.4 719.4C989.7 718.6 990.2 717.1 990.4 717.1C990.7 717 992.1 718.5 992.5 719.1C992.8 719.6 994.1 723.4 994.5 724.1C994.8 724.8 996.1 727.5 996.5 727.4C996.9 727.3 998.8 723.1 999.1 722.7C999.5 722.4 1000.5 722.6 1000.8 722.7C1001.1 722.9 1002.8 725.2 1003.2 724.7C1003.5 724.3 1004.3 718.3 1004.5 717.4C1004.7 716.4 1005.2 713.1 1005.5 713.4C1005.7 713.7 1007.3 720.1 1007.5 720.7" fill="none" stroke="#000000" stroke-width="2.1" stroke-linejoin="round" clip-path="url(#clip12)"/>
<path d="M555.8 723.9C556 724.1 558 726 558.5 726.6C558.9 727.2 561 730.4 561.6 731C562.1 731.6 564.6 733.5 565.2 733.7C565.7 733.9 567.7 733.6 568.3 733.3C568.8 733 571.3 730.6 571.8 730.1C572.4 729.7 574.2 728.2 574.5 727.5C574.9 726.7 575.6 722.1 575.9 721.2C576.1 720.3 576.6 716.9 577 716.8C577.4 716.7 579.7 720.1 580.3 720.1C580.9 720 583.7 716.9 584.3 716.6C584.9 716.2 586.8 716 587.3 715.6C587.8 715.1 589.9 711.2 590.3 711.1C590.8 710.9 592.5 713.5 592.8 713.6C593.2 713.7 594.5 712.2 594.8 712.6C595.2 713 596.8 718 597.3 718.6C597.9 719.2 600.7 719.4 601.4 719.7C602 719.9 604.8 722 605.4 722.1C606 722.1 607.8 720.4 608.4 719.9C609 719.3 611.7 715.7 612.4 715.6C613.1 715.6 616.3 719.5 616.9 719.2C617.5 718.9 619 713.1 619.4 712.2C619.8 711.2 621 707.6 621.4 707.6C621.8 707.7 624 712.3 624.4 713.2C624.9 714 625.9 717.6 626.4 717.7C626.9 717.8 629.8 714.3 630.5 714.2C631.1 714.1 633.8 715.8 634.5 716.2C635.1 716.7 637.9 718.7 638.5 719.3C639.1 719.8 641 722.6 641.5 722.8C642 723 644 721.7 644.5 721.8C645 721.9 647.5 723.9 648 723.8C648.6 723.8 650.5 722.1 651 721.3C651.5 720.5 653.6 715.8 654 714.3C654.5 712.8 656.1 704.7 656.5 703.3C657 701.9 659 697.9 659.6 697.4C660.1 696.8 662.5 696.5 663.1 697C663.6 697.4 665.6 703.1 666.1 702.6C666.5 702 668.2 691.8 668.6 690.6C669 689.4 670.3 686.9 670.6 687.6C670.9 688.4 672.1 698.8 672.6 699.7C673.1 700.7 676.4 699.2 677.1 699.4C677.8 699.5 680.5 700.9 681.1 701.5C681.8 702.1 684.1 706.3 684.6 707.1C685.2 707.9 687.1 710.4 687.6 711.2C688.1 712.1 690.2 716.4 690.7 717.3C691.2 718.3 693.2 721.7 693.7 722.4C694.2 723.2 696.2 725.4 696.7 726C697.2 726.6 699.1 729 699.7 729.6C700.3 730.2 703.4 732.6 704.2 733.5C705 734.3 708.5 738.6 709.3 739.4C710 740.3 712.7 742.6 713.3 743.3C713.8 744.1 715.4 747.7 715.8 748.4C716.1 749.1 717.4 752.1 717.8 752.1C718.1 752.1 719.5 749.6 719.8 748.6C720.1 747.6 721 741.9 721.3 740C721.6 738 723 727 723.3 724.9C723.6 722.8 724.9 716.1 725.3 715.2C725.7 714.3 727.9 713.5 728.3 713.8C728.8 714.2 730.3 718.4 730.8 719.3C731.3 720.2 733.7 724.3 734.3 724.8C735 725.4 737.8 726.1 738.3 726.4C738.9 726.6 740.9 727 741.4 727.4C741.9 727.7 743.9 730.2 744.4 730.4C744.9 730.5 746.8 729.7 747.4 729.4C748 729.1 750.8 726.7 751.4 726.9C752 727 753.9 730.6 754.4 731.4C754.9 732.1 757.3 735.2 757.9 735.9C758.5 736.6 760.9 738.6 761.4 739.4C762 740.2 764 745.3 764.4 745.4C764.9 745.5 766.1 740.7 766.4 740.4C766.8 740.1 768.5 741.7 768.9 741.4C769.4 741.1 771 737.8 771.5 737.4C771.9 736.9 773.6 735.9 774 735.9C774.3 735.8 775.5 737.5 776 736.9C776.4 736.3 779 729.4 779.5 728.9C779.9 728.3 781.1 730.7 781.5 730.4C781.9 730 784.1 725.2 784.5 724.8C784.9 724.5 786 726.4 786.5 726.4C787 726.3 789.9 723.9 790.5 723.8C791.1 723.8 793.1 725.7 793.5 725.3C793.9 725 795.1 719.6 795.5 719.3C796 719.1 798 721.9 798.5 722.3C799.1 722.8 801.6 724.4 802.1 724.3C802.6 724.3 804 722 804.6 721.8C805.1 721.7 807.9 722.4 808.6 722.7C809.3 723 812 726 812.6 726C813.2 726 815.1 723.6 815.6 722.8C816.1 721.9 817.6 716.3 818.1 715.6C818.6 714.9 821.1 715.1 821.6 714.9C822.2 714.7 824.2 712.4 824.6 712.9C825.1 713.4 826.6 720.3 827.1 720.4C827.6 720.6 830.1 714.4 830.7 714.4C831.2 714.4 833.1 720.5 833.7 720.4C834.3 720.4 837.1 714.7 837.7 713.9C838.3 713.1 840.1 711.4 840.7 710.4C841.2 709.4 843.7 703.4 844.2 702.4C844.7 701.3 846.3 698.2 846.7 697.9C847.2 697.5 848.7 698 849.3 698.4C849.8 698.7 852.2 701.6 852.8 701.9C853.3 702.2 855.3 702.8 855.8 701.9C856.3 701 858.3 691.3 858.8 690.8C859.3 690.4 861.3 695.5 861.8 696.4C862.3 697.2 863.9 700.5 864.3 701.4C864.7 702.2 866.4 705.7 866.8 706.4C867.2 707.1 868.9 709.7 869.3 709.9C869.7 710.1 871.2 708.6 871.8 708.9C872.4 709.1 875.8 712.2 876.3 712.9C876.9 713.6 877.9 716.8 878.3 717.6C878.8 718.3 880.9 721 881.4 721.8C881.8 722.5 882.9 725.9 883.4 726.4C883.8 726.9 885.9 727.2 886.4 727.6C886.8 728 888.5 730.9 888.9 731.3C889.3 731.7 890.9 732 891.4 732.5C891.9 732.9 893.8 735.9 894.4 736.7C895 737.4 897.8 740.9 898.4 741.3C899 741.7 900.9 741 901.4 741.3C902 741.6 904.4 744.6 904.9 744.9C905.4 745.1 906.9 744.1 907.4 744.4C908 744.7 911.4 748.2 912 748.4C912.5 748.6 913.6 746.6 914 746.9C914.3 747.2 916.1 751.6 916.5 752C916.9 752.3 918.1 751.4 918.5 751.5C918.8 751.6 920.3 753.9 920.7 753.2C921.1 752.5 922.6 744.4 923 743C923.4 741.6 924.6 737 925 736.5C925.4 736 926.9 737 927.2 737.2C927.6 737.5 929.2 739.1 929.6 739.2C929.9 739.4 931.3 738.7 931.6 738.9C931.9 739 933.2 741.1 933.6 741.2C934 741.3 935.9 740.1 936.3 740.1C936.7 740.2 937.9 741.2 938.3 741.8C938.6 742.4 939.9 747.3 940.3 747.8C940.7 748.3 942.5 747.5 943 747.8C943.4 748 945.3 750.8 945.6 751.1C946 751.4 947 751.8 947.3 751.4C947.6 751 949.3 747.2 949.6 746.3C950 745.5 951.3 740.7 951.7 741C952 741.2 953.5 749.1 954 749.6C954.4 750.2 956.5 747.5 957 747.6C957.5 747.7 959.8 751.4 960.3 751.2C960.8 751 962.6 746.5 963 745.5C963.5 744.5 965.3 740.2 965.7 739.5C966.1 738.7 967 736.6 967.4 736.8C967.7 736.9 969.2 741.1 969.7 741.4C970.2 741.7 972.6 740.2 973.1 740C973.5 739.9 974.7 740.4 975.1 740C975.5 739.6 977.3 735.8 977.7 735.3C978.2 734.7 980 734.4 980.4 733.8C980.9 733.2 982.7 728.1 983.1 727.7C983.5 727.3 984.7 728.6 985.1 728.6C985.5 728.6 987.4 728.2 987.8 727.5C988.1 726.8 989.2 720.9 989.4 720.1C989.7 719.3 990.2 717.8 990.4 717.7C990.7 717.7 992.1 719.1 992.5 719.7C992.8 720.2 994.1 723.9 994.5 724.6C994.8 725.3 996.1 728 996.5 727.9C996.9 727.7 998.8 723.5 999.1 723.1C999.5 722.7 1000.5 722.9 1000.8 723C1001.1 723.2 1002.8 725.4 1003.2 724.9C1003.5 724.5 1004.3 718.5 1004.5 717.5C1004.7 716.6 1005.2 713.2 1005.5 713.5C1005.7 713.7 1007.3 720.2 1007.5 720.8" fill="none" stroke="#1f77b4" stroke-width="2.1" stroke-linejoin="round" clip-path="url(#clip12)"/>
<path d="M555.8 729.7C556.1 730 558.8 733.1 559.4 733.7C559.9 734.3 562.4 736.5 562.9 736.8C563.5 737.2 565.5 738.2 566 738.2C566.6 738.1 569 736.5 569.6 735.9C570.2 735.4 572.7 732.6 573.2 731.9C573.7 731.2 575.1 728.2 575.4 727.5C575.7 726.7 576.1 723.5 576.5 723C576.9 722.6 579.6 722.4 580.3 722C580.9 721.6 583.7 718.9 584.3 718.5C584.9 718.1 586.8 718 587.3 717.5C587.8 717 589.9 713.1 590.3 713C590.8 712.8 592.5 715.4 592.8 715.5C593.2 715.6 594.5 714.1 594.8 714.5C595.2 714.9 596.8 719.9 597.3 720.5C597.9 721.1 600.7 721.3 601.4 721.5C602 721.8 604.8 723.6 605.4 723.5C606 723.5 607.8 721.6 608.4 721C609 720.5 611.7 716.6 612.4 716.5C613.1 716.5 616.3 720.4 616.9 720.1C617.5 719.8 619 714 619.4 713C619.8 712.1 621 708.4 621.4 708.5C621.8 708.6 624 713.3 624.4 714.1C624.9 714.8 625.9 717.3 626.4 717.4C626.9 717.5 629.8 715.1 630.5 715.1C631.1 715 633.8 716.3 634.5 716.7C635.1 717 637.9 718.7 638.5 719.1C639.1 719.5 641 721.6 641.5 721.8C642 721.9 644 721.1 644.5 721.2C645 721.3 647.5 722.7 648 722.7C648.6 722.6 650.5 721.4 651 720.8C651.5 720.2 653.6 716.7 654 715.6C654.5 714.5 656.1 708.6 656.5 707.6C657 706.5 659 703.3 659.6 702.9C660.1 702.5 662.5 702.4 663.1 702.7C663.6 703 665.6 706.9 666.1 706.4C666.5 706 668.2 698.2 668.6 697.2C669 696.3 670.3 694.2 670.6 694.8C670.9 695.4 672.1 703.5 672.6 704.3C673.1 705.2 676.4 704.5 677.1 704.7C677.8 704.9 680.5 706.2 681.1 706.8C681.8 707.3 684.1 710.6 684.6 711.2C685.2 711.9 687.1 713.8 687.6 714.5C688.1 715.2 690.2 718.4 690.7 719.1C691.2 719.8 693.2 722.4 693.7 722.9C694.2 723.4 696.2 725.1 696.7 725.5C697.2 725.9 699.1 727.7 699.7 728.1C700.3 728.5 703.4 730.1 704.2 730.7C705 731.3 708.5 734.3 709.3 734.8C710 735.4 712.7 737.1 713.3 737.7C713.8 738.3 715.4 741.3 715.8 741.9C716.1 742.5 717.4 744.9 717.8 744.9C718.1 744.9 719.5 742.9 719.8 742.1C720.1 741.2 721 736.4 721.3 734.8C721.6 733.2 723 724.2 723.3 722.5C723.6 720.9 724.9 715.5 725.3 714.8C725.7 714 727.9 713.2 728.3 713.4C728.8 713.7 730.3 717 730.8 717.8C731.3 718.6 733.7 722.2 734.3 722.7C735 723.3 737.8 724.1 738.3 724.3C738.9 724.6 740.9 725 741.4 725.2C741.9 725.5 743.9 727.3 744.4 727.4C744.9 727.5 746.8 726.9 747.4 726.7C748 726.5 750.8 724.8 751.4 724.9C752 725 753.9 727.6 754.4 728.1C754.9 728.6 757.3 730.9 757.9 731.4C758.5 731.8 760.9 733.3 761.4 733.9C762 734.5 764 738.1 764.4 738.2C764.9 738.3 766.1 734.9 766.4 734.6C766.8 734.4 768.5 735.5 768.9 735.3C769.4 735.1 771 732.8 771.5 732.4C771.9 732.1 773.6 731.4 774 731.4C774.3 731.4 775.5 732.6 776 732.2C776.4 731.7 779 726.8 779.5 726.3C779.9 725.9 781.1 727.5 781.5 727.3C781.9 727 784.1 723.6 784.5 723.4C784.9 723.2 786 724.5 786.5 724.5C787 724.4 789.9 722.8 790.5 722.8C791.1 722.7 793.1 724.1 793.5 723.8C793.9 723.6 795.1 719.8 795.5 719.7C796 719.5 798 721.5 798.5 721.8C799.1 722.1 801.6 723.3 802.1 723.3C802.6 723.3 804 721.7 804.6 721.6C805.1 721.6 807.9 722.3 808.6 722.6C809.3 722.9 812 725.4 812.6 725.5C813.2 725.5 815.1 723.6 815.6 723C816.1 722.3 817.6 718.3 818.1 717.7C818.6 717.2 821.1 717 821.6 716.8C822.2 716.6 824.2 714.8 824.6 715.1C825.1 715.5 826.6 720.5 827.1 720.7C827.6 720.9 830.1 716.9 830.7 717C831.2 717.1 833.1 721.8 833.7 721.8C834.3 721.8 837.1 717.5 837.7 716.9C838.3 716.2 840.1 714.7 840.7 713.9C841.2 713.2 843.7 708.5 844.2 707.6C844.7 706.8 846.3 704 846.7 703.7C847.2 703.4 848.7 703.9 849.3 704.2C849.8 704.4 852.2 706.7 852.8 706.9C853.3 707.1 855.3 707.5 855.8 706.7C856.3 705.9 858.3 698 858.8 697.7C859.3 697.3 861.3 701.9 861.8 702.7C862.3 703.4 863.9 706.1 864.3 706.8C864.7 707.5 866.4 710.3 866.8 710.8C867.2 711.4 868.9 713.5 869.3 713.7C869.7 713.9 871.2 713 871.8 713.3C872.4 713.5 875.8 716.1 876.3 716.7C876.9 717.3 877.9 719.7 878.3 720.3C878.8 720.8 880.9 723 881.4 723.5C881.8 724.1 882.9 726.6 883.4 727C883.8 727.4 885.9 727.8 886.4 728.1C886.8 728.4 888.5 730.5 888.9 730.9C889.3 731.2 890.9 731.5 891.4 731.9C891.9 732.2 893.8 734.5 894.4 735C895 735.6 897.8 738.2 898.4 738.6C899 738.9 900.9 738.5 901.4 738.8C902 739 904.4 741.2 904.9 741.4C905.4 741.6 906.9 741 907.4 741.2C908 741.5 911.4 744 912 744.2C912.5 744.3 913.6 742.9 914 743.1C914.3 743.3 916.1 746.5 916.5 746.8C916.9 747.1 918.1 746.5 918.5 746.6C918.8 746.7 920.3 748.4 920.7 747.8C921.1 747.3 922.6 741.5 923 740.5C923.4 739.5 924.6 736.2 925 735.9C925.4 735.6 926.9 736.3 927.2 736.5C927.6 736.7 929.2 738 929.6 738.1C929.9 738.2 931.3 737.9 931.6 738.1C931.9 738.2 933.2 739.7 933.6 739.8C934 739.9 935.9 739.1 936.3 739.2C936.7 739.2 937.9 740 938.3 740.5C938.6 741 939.9 744.5 940.3 744.8C940.7 745.2 942.5 744.8 943 745.1C943.4 745.3 945.3 747.3 945.6 747.6C946 747.8 947 748.1 947.3 747.9C947.6 747.6 949.3 745 949.6 744.4C950 743.8 951.3 740.4 951.7 740.6C952 740.8 953.5 746.4 954 746.8C954.4 747.2 956.5 745.4 957 745.5C957.5 745.6 959.8 748.2 960.3 748.1C960.8 748 962.6 744.8 963 744.1C963.5 743.4 965.3 740.3 965.7 739.8C966.1 739.3 967 737.8 967.4 738C967.7 738.1 969.2 741.1 969.7 741.3C970.2 741.5 972.6 740.5 973.1 740.4C973.5 740.3 974.7 740.5 975.1 740.2C975.5 739.9 977.3 737.1 977.7 736.7C978.2 736.3 980 736 980.4 735.5C980.9 735 982.7 731.3 983.1 731C983.5 730.7 984.7 731.6 985.1 731.5C985.5 731.4 987.4 730.8 987.8 730.2C988.1 729.5 989.2 724.8 989.4 724.1C989.7 723.4 990.2 722.1 990.4 722.1C990.7 722.1 992.1 723.5 992.5 724C992.8 724.5 994.1 727.8 994.5 728.5C994.8 729.2 996.1 731.9 996.5 731.9C996.9 731.8 998.8 728.4 999.1 728.1C999.5 727.7 1000.5 728 1000.8 728.1C1001.1 728.3 1002.8 730.3 1003.2 730C1003.5 729.6 1004.3 724.6 1004.5 723.8C1004.7 723 1005.2 719.9 1005.5 720.1C1005.7 720.3 1007.3 725.6 1007.5 726.2" fill="none" stroke="#ff7f0e" stroke-width="2.1" stroke-linejoin="round" stroke-dasharray="7.77 3.36" clip-path="url(#clip12)"/>
<path d="M555.8 733.4C556 733.8 558 737.1 558.5 737.9C558.9 738.7 561.1 742.6 561.6 743.2C562.1 743.9 563.8 745.8 564.3 745.9C564.7 746 566.8 745 567.4 744.6C567.9 744.1 570.4 740.9 570.9 740.1C571.5 739.3 573.7 736.4 574.1 735.2C574.5 734 575.6 726.4 575.9 725.4C576.1 724.3 576.4 722.7 576.7 722.5C577.1 722.3 579.7 723.1 580.3 722.8C580.9 722.6 583.7 719.7 584.3 719.3C584.9 719 586.8 718.8 587.3 718.3C587.8 717.9 589.9 714 590.3 713.8C590.8 713.6 592.5 716.2 592.8 716.3C593.2 716.4 594.5 714.9 594.8 715.3C595.2 715.7 596.8 720.8 597.3 721.3C597.9 721.9 600.7 722.1 601.4 722.3C602 722.6 604.8 724.4 605.4 724.3C606 724.3 607.8 722.4 608.4 721.8C609 721.3 611.7 717.4 612.4 717.3C613.1 717.2 616.3 721.1 616.9 720.8C617.5 720.5 619 714.8 619.4 713.8C619.8 712.9 621 709.2 621.4 709.3C621.8 709.4 624 714 624.4 714.8C624.9 715.7 625.9 719.2 626.4 719.3C626.9 719.4 629.8 715.9 630.5 715.8C631.1 715.7 633.8 717.4 634.5 717.8C635.1 718.2 637.9 720.3 638.5 720.8C639.1 721.4 641 724.1 641.5 724.3C642 724.6 644 723.3 644.5 723.3C645 723.4 647.5 725.4 648 725.4C648.6 725.3 650.5 723.6 651 722.8C651.5 722 653.6 717.3 654 715.8C654.5 714.3 656.1 706.2 656.5 704.8C657 703.4 659 699.3 659.6 698.8C660.1 698.2 662.5 697.8 663.1 698.3C663.6 698.7 665.6 704.3 666.1 703.8C666.5 703.2 668.2 693 668.6 691.7C669 690.5 670.3 688 670.6 688.7C670.9 689.5 672.1 699.8 672.6 700.8C673.1 701.7 676.4 700.1 677.1 700.3C677.8 700.4 680.5 701.6 681.1 702.3C681.8 702.9 684.1 707 684.6 707.8C685.2 708.6 687.1 711 687.6 711.8C688.1 712.6 690.2 716.9 690.7 717.8C691.2 718.7 693.2 722.1 693.7 722.8C694.2 723.6 696.2 725.8 696.7 726.4C697.2 726.9 699.1 729.3 699.7 729.9C700.3 730.5 703.4 732.6 704.2 733.4C705 734.1 708.5 738.1 709.3 738.9C710 739.7 712.7 741.9 713.3 742.7C713.8 743.5 715.4 747.4 715.8 748.2C716.1 749 717.4 752.1 717.8 752.1C718.1 752.1 719.5 749.5 719.8 748.5C720.1 747.4 721 741.4 721.3 739.4C721.6 737.3 723 726 723.3 723.8C723.6 721.7 724.9 714.8 725.3 713.8C725.7 712.9 727.9 712 728.3 712.3C728.8 712.6 730.3 716.9 730.8 717.8C731.3 718.7 733.7 722.8 734.3 723.3C735 723.9 737.8 724.6 738.3 724.9C738.9 725.1 740.9 725.5 741.4 725.9C741.9 726.2 743.9 728.7 744.4 728.9C744.9 729 746.8 728.2 747.4 727.9C748 727.6 750.8 725.2 751.4 725.4C752 725.5 753.9 729.1 754.4 729.9C754.9 730.6 757.3 733.7 757.9 734.4C758.5 735.1 760.9 737.1 761.4 737.9C762 738.7 764 743.8 764.4 743.9C764.9 744 766.1 739.2 766.4 738.9C766.8 738.6 768.5 740.2 768.9 739.9C769.4 739.6 771 736.3 771.5 735.9C771.9 735.4 773.6 734.4 774 734.4C774.3 734.3 775.5 736 776 735.4C776.4 734.8 779 727.9 779.5 727.4C779.9 726.8 781.1 729.2 781.5 728.9C781.9 728.5 784.1 723.7 784.5 723.3C784.9 723 786 724.9 786.5 724.9C787 724.8 789.9 722.4 790.5 722.3C791.1 722.3 793.1 724.2 793.5 723.8C793.9 723.5 795.1 718.1 795.5 717.8C796 717.6 798 720.4 798.5 720.8C799.1 721.3 801.6 722.9 802.1 722.8C802.6 722.8 804 720.5 804.6 720.3C805.1 720.2 807.9 721 808.6 721.3C809.3 721.7 812 724.8 812.6 724.9C813.2 724.9 815.1 722.7 815.6 721.8C816.1 721 817.6 715.4 818.1 714.8C818.6 714.2 821.1 714.5 821.6 714.3C822.2 714.1 824.2 711.8 824.6 712.3C825.1 712.8 826.6 719.7 827.1 719.8C827.6 720 830.1 713.8 830.7 713.8C831.2 713.8 833.1 719.9 833.7 719.8C834.3 719.8 837.1 714.1 837.7 713.3C838.3 712.5 840.1 710.8 840.7 709.8C841.2 708.8 843.7 702.8 844.2 701.8C844.7 700.7 846.3 697.6 846.7 697.3C847.2 696.9 848.7 697.4 849.3 697.8C849.8 698.1 852.2 701 852.8 701.3C853.3 701.6 855.3 702.2 855.8 701.3C856.3 700.4 858.3 690.7 858.8 690.2C859.3 689.8 861.3 694.9 861.8 695.8C862.3 696.6 863.9 699.9 864.3 700.8C864.7 701.6 866.4 705.1 866.8 705.8C867.2 706.5 868.9 709.1 869.3 709.3C869.7 709.5 871.2 708 871.8 708.3C872.4 708.5 875.8 711.6 876.3 712.3C876.9 713 877.9 716 878.3 716.7C878.8 717.4 880.9 719.9 881.4 720.6C881.8 721.3 882.9 724.6 883.4 725.1C883.8 725.5 885.9 725.6 886.4 725.9C886.8 726.3 888.5 729 888.9 729.4C889.3 729.7 890.9 729.9 891.4 730.3C891.9 730.7 893.8 733.5 894.4 734.2C895 734.9 897.8 738.2 898.4 738.6C899 739 900.9 738.3 901.4 738.6C902 738.9 904.4 741.9 904.9 742.1C905.4 742.4 906.9 741.3 907.4 741.6C908 741.9 911.4 745.4 912 745.6C912.5 745.8 913.6 743.8 914 744.1C914.3 744.4 916.1 748.8 916.5 749.1C916.9 749.5 918.1 748.5 918.5 748.6C918.8 748.7 920.3 751 920.7 750.3C921.1 749.6 922.6 741.5 923 740.1C923.4 738.7 924.6 734.1 925 733.6C925.4 733.1 926.9 734.2 927.2 734.4C927.6 734.6 929.2 736.3 929.6 736.5C929.9 736.6 931.3 736.1 931.6 736.2C931.9 736.4 933.2 738.5 933.6 738.7C934 738.8 935.9 737.7 936.3 737.8C936.7 737.8 937.9 738.9 938.3 739.5C938.6 740.2 939.9 745.1 940.3 745.6C940.7 746.1 942.5 745.4 943 745.7C943.4 746 945.3 748.9 945.6 749.2C946 749.5 947 749.9 947.3 749.5C947.6 749.1 949.3 745.4 949.6 744.5C950 743.7 951.3 738.9 951.7 739.2C952 739.4 953.5 747.3 954 747.9C954.4 748.4 956.5 745.7 957 745.9C957.5 746 959.8 749.7 960.3 749.5C960.8 749.4 962.6 744.8 963 743.8C963.5 742.9 965.3 738.6 965.7 737.8C966.1 737.1 967 735 967.4 735.2C967.7 735.3 969.2 739.6 969.7 739.8C970.2 740.1 972.6 738.6 973.1 738.5C973.5 738.4 974.7 738.9 975.1 738.5C975.5 738.1 977.3 734.3 977.7 733.8C978.2 733.3 980 733.1 980.4 732.5C980.9 731.9 982.7 726.9 983.1 726.5C983.5 726 984.7 727.5 985.1 727.5C985.5 727.5 987.4 727.2 987.8 726.5C988.1 725.8 989.2 719.9 989.4 719.1C989.7 718.3 990.2 716.8 990.4 716.8C990.7 716.7 992.1 718.2 992.5 718.8C992.8 719.3 994.1 723.1 994.5 723.8C994.8 724.5 996.1 727.2 996.5 727.1C996.9 727 998.8 722.8 999.1 722.4C999.5 722.1 1000.5 722.3 1000.8 722.4C1001.1 722.6 1002.8 724.9 1003.2 724.4C1003.5 724 1004.3 718 1004.5 717.1C1004.7 716.1 1005.2 712.8 1005.5 713.1C1005.7 713.4 1007.3 719.8 1007.5 720.4" fill="none" stroke="#2ca02c" stroke-width="2.1" stroke-linejoin="round" stroke-dasharray="13.44 3.36 2.10 3.36" clip-path="url(#clip12)"/>
<path d="M555.6 734.7C555.8 735.1 557.7 739.1 558.2 740.2C558.7 741.3 560.6 747.1 561.2 748.2C561.8 749.3 564.6 753.2 565.2 753.2C565.9 753.2 568.6 749.4 569.3 748.2C569.9 747.1 572.8 740.5 573.3 739.2C573.8 737.9 575 733.8 575.3 732.2C575.6 730.6 576.4 720.9 576.8 720.1C577.2 719.4 579.7 723.2 580.3 723.1C580.9 723.1 583.7 720 584.3 719.6C584.9 719.3 586.8 719.1 587.3 718.6C587.8 718.2 589.9 714.3 590.3 714.1C590.8 713.9 592.5 716.5 592.8 716.6C593.2 716.7 594.5 715.2 594.8 715.6C595.2 716 596.8 721.1 597.3 721.6C597.9 722.2 600.7 722.4 601.4 722.6C602 722.9 604.8 724.7 605.4 724.6C606 724.6 607.8 722.7 608.4 722.1C609 721.6 611.7 717.7 612.4 717.6C613.1 717.5 616.3 721.4 616.9 721.1C617.5 720.8 619 715.1 619.4 714.1C619.8 713.2 621 709.5 621.4 709.6C621.8 709.7 624 714.3 624.4 715.1C624.9 716 625.9 719.5 626.4 719.6C626.9 719.7 629.8 716.2 630.5 716.1C631.1 716 633.8 717.7 634.5 718.1C635.1 718.5 637.9 720.6 638.5 721.1C639.1 721.7 641 724.4 641.5 724.6C642 724.9 644 723.6 644.5 723.6C645 723.7 647.5 725.7 648 725.7C648.6 725.6 650.5 723.9 651 723.1C651.5 722.3 653.6 717.6 654 716.1C654.5 714.6 656.1 706.5 656.5 705.1C657 703.7 659 699.6 659.6 699.1C660.1 698.5 662.5 698.1 663.1 698.6C663.6 699 665.6 704.6 666.1 704.1C666.5 703.5 668.2 693.3 668.6 692C669 690.8 670.3 688.3 670.6 689C670.9 689.8 672.1 700.1 672.6 701.1C673.1 702 676.4 700.4 677.1 700.6C677.8 700.7 680.5 701.9 681.1 702.6C681.8 703.2 684.1 707.3 684.6 708.1C685.2 708.9 687.1 711.3 687.6 712.1C688.1 712.9 690.2 717.2 690.7 718.1C691.2 719 693.2 722.4 693.7 723.1C694.2 723.9 696.2 726.1 696.7 726.7C697.2 727.2 699.1 729.6 699.7 730.2C700.3 730.8 703.4 732.9 704.2 733.7C705 734.4 708.5 738.4 709.3 739.2C710 740 712.7 742.4 713.3 743.2C713.8 744 715.4 748.4 715.8 749.2C716.1 750.1 717.4 753.7 717.8 753.7C718.1 753.8 719.5 751.4 719.8 750.2C720.1 749.1 721 742.4 721.3 740.2C721.6 738 723 726.3 723.3 724.1C723.6 722 724.9 715.1 725.3 714.1C725.7 713.2 727.9 712.3 728.3 712.6C728.8 712.9 730.3 717.2 730.8 718.1C731.3 719 733.7 723.1 734.3 723.6C735 724.2 737.8 724.9 738.3 725.2C738.9 725.4 740.9 725.8 741.4 726.2C741.9 726.5 743.9 729 744.4 729.2C744.9 729.3 746.8 728.5 747.4 728.2C748 727.9 750.8 725.5 751.4 725.7C752 725.8 753.9 729.4 754.4 730.2C754.9 730.9 757.3 734 757.9 734.7C758.5 735.4 760.9 737.4 761.4 738.2C762 739 764 744.1 764.4 744.2C764.9 744.3 766.1 739.5 766.4 739.2C766.8 738.9 768.5 740.5 768.9 740.2C769.4 739.9 771 736.6 771.5 736.2C771.9 735.7 773.6 734.7 774 734.7C774.3 734.6 775.5 736.3 776 735.7C776.4 735.1 779 728.2 779.5 727.7C779.9 727.1 781.1 729.5 781.5 729.2C781.9 728.8 784.1 724 784.5 723.6C784.9 723.3 786 725.2 786.5 725.2C787 725.1 789.9 722.7 790.5 722.6C791.1 722.6 793.1 724.5 793.5 724.1C793.9 723.8 795.1 718.4 795.5 718.1C796 717.9 798 720.7 798.5 721.1C799.1 721.6 801.6 723.2 802.1 723.1C802.6 723.1 804 720.8 804.6 720.6C805.1 720.5 807.9 721.3 808.6 721.6C809.3 722 812 725.1 812.6 725.2C813.2 725.2 815.1 723 815.6 722.1C816.1 721.3 817.6 715.7 818.1 715.1C818.6 714.5 821.1 714.8 821.6 714.6C822.2 714.4 824.2 712.1 824.6 712.6C825.1 713.1 826.6 720 827.1 720.1C827.6 720.3 830.1 714.1 830.7 714.1C831.2 714.1 833.1 720.2 833.7 720.1C834.3 720.1 837.1 714.4 837.7 713.6C838.3 712.8 840.1 711.1 840.7 710.1C841.2 709.1 843.7 703.1 844.2 702.1C844.7 701 846.3 697.9 846.7 697.6C847.2 697.2 848.7 697.7 849.3 698.1C849.8 698.4 852.2 701.3 852.8 701.6C853.3 701.9 855.3 702.5 855.8 701.6C856.3 700.7 858.3 691 858.8 690.5C859.3 690.1 861.3 695.2 861.8 696.1C862.3 696.9 863.9 700.2 864.3 701.1C864.7 701.9 866.4 705.4 866.8 706.1C867.2 706.8 868.9 709.4 869.3 709.6C869.7 709.8 871.2 708.3 871.8 708.6C872.4 708.8 875.8 711.9 876.3 712.6C876.9 713.3 877.9 716.4 878.3 717.1C878.8 717.8 880.9 720.4 881.4 721.1C881.8 721.8 882.9 725.2 883.4 725.7C883.8 726.1 885.9 726.3 886.4 726.7C886.8 727 888.5 729.8 888.9 730.2C889.3 730.5 890.9 730.8 891.4 731.2C891.9 731.6 893.8 734.5 894.4 735.2C895 735.9 897.8 739.3 898.4 739.7C899 740.1 900.9 739.4 901.4 739.7C902 740 904.4 743 904.9 743.2C905.4 743.5 906.9 742.4 907.4 742.7C908 743 911.4 746.5 912 746.7C912.5 746.9 913.6 744.9 914 745.2C914.3 745.5 916.1 749.9 916.5 750.2C916.9 750.6 918.1 749.6 918.5 749.7C918.8 749.8 920.3 752.1 920.7 751.4C921.1 750.7 922.6 742.6 923 741.2C923.4 739.8 924.6 735.2 925 734.7C925.4 734.2 926.9 735.2 927.2 735.5C927.6 735.7 929.2 737.3 929.6 737.5C929.9 737.6 931.3 737 931.6 737.1C931.9 737.3 933.2 739.4 933.6 739.5C934 739.6 935.9 738.4 936.3 738.5C936.7 738.5 937.9 739.5 938.3 740.1C938.6 740.8 939.9 745.7 940.3 746.2C940.7 746.7 942.5 745.9 943 746.2C943.4 746.4 945.3 749.2 945.6 749.5C946 749.8 947 750.2 947.3 749.8C947.6 749.4 949.3 745.7 949.6 744.8C950 744 951.3 739.2 951.7 739.5C952 739.7 953.5 747.6 954 748.2C954.4 748.7 956.5 746 957 746.2C957.5 746.3 959.8 750 960.3 749.8C960.8 749.7 962.6 745.1 963 744.1C963.5 743.2 965.3 738.9 965.7 738.1C966.1 737.4 967 735.3 967.4 735.5C967.7 735.6 969.2 739.9 969.7 740.1C970.2 740.4 972.6 738.9 973.1 738.8C973.5 738.7 974.7 739.2 975.1 738.8C975.5 738.4 977.3 734.6 977.7 734.1C978.2 733.6 980 733.4 980.4 732.8C980.9 732.2 982.7 727.2 983.1 726.8C983.5 726.3 984.7 727.8 985.1 727.8C985.5 727.8 987.4 727.5 987.8 726.8C988.1 726.1 989.2 720.2 989.4 719.4C989.7 718.6 990.2 717.1 990.4 717.1C990.7 717 992.1 718.5 992.5 719.1C992.8 719.6 994.1 723.4 994.5 724.1C994.8 724.8 996.1 727.5 996.5 727.4C996.9 727.3 998.8 723.1 999.1 722.7C999.5 722.4 1000.5 722.6 1000.8 722.7C1001.1 722.9 1002.8 725.2 1003.2 724.7C1003.5 724.3 1004.3 718.3 1004.5 717.4C1004.7 716.4 1005.2 713.1 1005.5 713.4C1005.7 713.7 1007.3 720.1 1007.5 720.7" fill="none" stroke="#d62728" stroke-width="2.1" stroke-linejoin="round" stroke-dasharray="2.10 3.46" clip-path="url(#clip12)"/>
<rect x="555.6" y="612.5" width="452" height="240.4" fill="none" stroke="#000" stroke-width="0.8"/>
<line x1="555.6" y1="852.9" x2="555.6" y2="856.5" stroke="#000" stroke-width="0.8"/>
<line x1="646.56" y1="852.9" x2="646.56" y2="856.5" stroke="#000" stroke-width="0.8"/>
<line x1="711.09" y1="852.9" x2="711.09" y2="856.5" stroke="#000" stroke-width="0.8"/>
<line x1="761.15" y1="852.9" x2="761.15" y2="856.5" stroke="#000" stroke-width="0.8"/>
<line x1="802.05" y1="852.9" x2="802.05" y2="856.5" stroke="#000" stroke-width="0.8"/>
<line x1="866.59" y1="852.9" x2="866.59" y2="856.5" stroke="#000" stroke-width="0.8"/>
<line x1="916.64" y1="852.9" x2="916.64" y2="856.5" stroke="#000" stroke-width="0.8"/>
<line x1="1007.6" y1="852.9" x2="1007.6" y2="856.5" stroke="#000" stroke-width="0.8"/>
<line x1="836.63" y1="852.9" x2="836.63" y2="854.9" stroke="#000" stroke-width="0.6"/>
<line x1="893.01" y1="852.9" x2="893.01" y2="854.9" stroke="#000" stroke-width="0.6"/>
<line x1="552" y1="852.9" x2="555.6" y2="852.9" stroke="#000" stroke-width="0.8"/>
<line x1="552" y1="804.82" x2="555.6" y2="804.82" stroke="#000" stroke-width="0.8"/>
<line x1="552" y1="756.74" x2="555.6" y2="756.74" stroke="#000" stroke-width="0.8"/>
<line x1="552" y1="708.66" x2="555.6" y2="708.66" stroke="#000" stroke-width="0.8"/>
<line x1="552" y1="660.58" x2="555.6" y2="660.58" stroke="#000" stroke-width="0.8"/>
<line x1="552" y1="612.5" x2="555.6" y2="612.5" stroke="#000" stroke-width="0.8"/>
<text x="555.6" y="869.1" font-size="12.7" font-weight="bold" text-anchor="middle" fill="#000" >2</text>
<text x="646.56" y="869.1" font-size="12.7" font-weight="bold" text-anchor="middle" fill="#000" >3</text>
<text x="711.09" y="869.1" font-size="12.7" font-weight="bold" text-anchor="middle" fill="#000" >4</text>
<text x="761.15" y="869.1" font-size="12.7" font-weight="bold" text-anchor="middle" fill="#000" >5</text>
<text x="802.05" y="869.1" font-size="12.7" font-weight="bold" text-anchor="middle" fill="#000" >6</text>
<text x="866.59" y="869.1" font-size="12.7" font-weight="bold" text-anchor="middle" fill="#000" >8</text>
<text x="916.64" y="869.1" font-size="12.7" font-weight="bold" text-anchor="middle" fill="#000" >10</text>
<text x="1007.6" y="869.1" font-size="12.7" font-weight="bold" text-anchor="middle" fill="#000" >15</text>
<text x="781.6" y="885.9" font-size="12.55" font-weight="bold" text-anchor="middle" fill="#000" ><tspan font-style="italic" font-weight="normal">λ</tspan> (<tspan font-style="italic" font-weight="normal">μ</tspan>m)</text>
<rect x="1077.33" y="612.5" width="107.15" height="240.4" fill="#add8e6" fill-opacity="0.3"/>
<rect x="1180.81" y="612.5" width="58.64" height="240.4" fill="#90ee90" fill-opacity="0.3"/>
<rect x="1239.45" y="612.5" width="163.05" height="240.4" fill="#f08080" fill-opacity="0.3"/>
<line x1="1031.8" y1="612.5" x2="1031.8" y2="852.9" stroke="#b0b0b0" stroke-width="0.8"/>
<line x1="1122.76" y1="612.5" x2="1122.76" y2="852.9" stroke="#b0b0b0" stroke-width="0.8"/>
<line x1="1187.29" y1="612.5" x2="1187.29" y2="852.9" stroke="#b0b0b0" stroke-width="0.8"/>
<line x1="1237.35" y1="612.5" x2="1237.35" y2="852.9" stroke="#b0b0b0" stroke-width="0.8"/>
<line x1="1278.25" y1="612.5" x2="1278.25" y2="852.9" stroke="#b0b0b0" stroke-width="0.8"/>
<line x1="1342.79" y1="612.5" x2="1342.79" y2="852.9" stroke="#b0b0b0" stroke-width="0.8"/>
<line x1="1392.84" y1="612.5" x2="1392.84" y2="852.9" stroke="#b0b0b0" stroke-width="0.8"/>
<line x1="1483.8" y1="612.5" x2="1483.8" y2="852.9" stroke="#b0b0b0" stroke-width="0.8"/>
<line x1="1031.8" y1="852.9" x2="1483.8" y2="852.9" stroke="#b0b0b0" stroke-width="0.8"/>
<line x1="1031.8" y1="804.82" x2="1483.8" y2="804.82" stroke="#b0b0b0" stroke-width="0.8"/>
<line x1="1031.8" y1="756.74" x2="1483.8" y2="756.74" stroke="#b0b0b0" stroke-width="0.8"/>
<line x1="1031.8" y1="708.66" x2="1483.8" y2="708.66" stroke="#b0b0b0" stroke-width="0.8"/>
<line x1="1031.8" y1="660.58" x2="1483.8" y2="660.58" stroke="#b0b0b0" stroke-width="0.8"/>
<line x1="1031.8" y1="612.5" x2="1483.8" y2="612.5" stroke="#b0b0b0" stroke-width="0.8"/>
<g clip-path="url(#clip22)"><use href="#dT" x="952.4" y="0"/></g>
<path d="M1031.8 734.7C1032 735.1 1033.9 739.1 1034.4 740.2C1034.9 741.3 1036.8 747.1 1037.4 748.2C1038 749.3 1040.8 753.2 1041.4 753.2C1042.1 753.2 1044.8 749.4 1045.5 748.2C1046.1 747.1 1049 740.5 1049.5 739.2C1050 737.9 1051.2 733.8 1051.5 732.2C1051.8 730.6 1052.6 720.9 1053 720.1C1053.4 719.4 1055.9 723.2 1056.5 723.1C1057.1 723.1 1059.9 720 1060.5 719.6C1061.1 719.3 1063 719.1 1063.5 718.6C1064 718.2 1066.1 714.3 1066.5 714.1C1067 713.9 1068.7 716.5 1069 716.6C1069.4 716.7 1070.7 715.2 1071 715.6C1071.4 716 1073 721.1 1073.5 721.6C1074.1 722.2 1076.9 722.4 1077.6 722.6C1078.2 722.9 1081 724.7 1081.6 724.6C1082.2 724.6 1084 722.7 1084.6 722.1C1085.2 721.6 1087.9 717.7 1088.6 717.6C1089.3 717.5 1092.5 721.4 1093.1 721.1C1093.7 720.8 1095.2 715.1 1095.6 714.1C1096 713.2 1097.2 709.5 1097.6 709.6C1098 709.7 1100.2 714.3 1100.6 715.1C1101.1 716 1102.1 719.5 1102.6 719.6C1103.1 719.7 1106 716.2 1106.7 716.1C1107.3 716 1110 717.7 1110.7 718.1C1111.3 718.5 1114.1 720.6 1114.7 721.1C1115.3 721.7 1117.2 724.4 1117.7 724.6C1118.2 724.9 1120.2 723.6 1120.7 723.6C1121.2 723.7 1123.7 725.7 1124.2 725.7C1124.8 725.6 1126.7 723.9 1127.2 723.1C1127.7 722.3 1129.8 717.6 1130.2 716.1C1130.7 714.6 1132.3 706.5 1132.7 705.1C1133.2 703.7 1135.2 699.6 1135.8 699.1C1136.3 698.5 1138.7 698.1 1139.3 698.6C1139.8 699 1141.8 704.6 1142.3 704.1C1142.7 703.5 1144.4 693.3 1144.8 692C1145.2 690.8 1146.5 688.3 1146.8 689C1147.1 689.8 1148.3 700.1 1148.8 701.1C1149.3 702 1152.6 700.4 1153.3 700.6C1154 700.7 1156.7 701.9 1157.3 702.6C1158 703.2 1160.3 707.3 1160.8 708.1C1161.4 708.9 1163.3 711.3 1163.8 712.1C1164.3 712.9 1166.4 717.2 1166.9 718.1C1167.4 719 1169.4 722.4 1169.9 723.1C1170.4 723.9 1172.4 726.1 1172.9 726.7C1173.4 727.2 1175.3 729.6 1175.9 730.2C1176.5 730.8 1179.6 732.9 1180.4 733.7C1181.2 734.4 1184.7 738.4 1185.5 739.2C1186.2 740 1188.9 742.4 1189.5 743.2C1190 744 1191.6 748.4 1192 749.2C1192.3 750.1 1193.6 753.7 1194 753.7C1194.3 753.8 1195.7 751.4 1196 750.2C1196.3 749.1 1197.2 742.4 1197.5 740.2C1197.8 738 1199.2 726.3 1199.5 724.1C1199.8 722 1201.1 715.1 1201.5 714.1C1201.9 713.2 1204.1 712.3 1204.5 712.6C1205 712.9 1206.5 717.2 1207 718.1C1207.5 719 1209.9 723.1 1210.5 723.6C1211.2 724.2 1214 724.9 1214.5 725.2C1215.1 725.4 1217.1 725.8 1217.6 726.2C1218.1 726.5 1220.1 729 1220.6 729.2C1221.1 729.3 1223 728.5 1223.6 728.2C1224.2 727.9 1227 725.5 1227.6 725.7C1228.2 725.8 1230.1 729.4 1230.6 730.2C1231.1 730.9 1233.5 734 1234.1 734.7C1234.7 735.4 1237.1 737.4 1237.6 738.2C1238.2 739 1240.2 744.1 1240.6 744.2C1241.1 744.3 1242.3 739.5 1242.6 739.2C1243 738.9 1244.7 740.5 1245.1 740.2C1245.6 739.9 1247.2 736.6 1247.7 736.2C1248.1 735.7 1249.8 734.7 1250.2 734.7C1250.5 734.6 1251.7 736.3 1252.2 735.7C1252.6 735.1 1255.2 728.2 1255.7 727.7C1256.1 727.1 1257.3 729.5 1257.7 729.2C1258.1 728.8 1260.3 724 1260.7 723.6C1261.1 723.3 1262.2 725.2 1262.7 725.2C1263.2 725.1 1266.1 722.7 1266.7 722.6C1267.3 722.6 1269.3 724.5 1269.7 724.1C1270.1 723.8 1271.3 718.4 1271.7 718.1C1272.2 717.9 1274.2 720.7 1274.7 721.1C1275.3 721.6 1277.8 723.2 1278.3 723.1C1278.8 723.1 1280.2 720.8 1280.8 720.6C1281.3 720.5 1284.1 721.3 1284.8 721.6C1285.5 722 1288.2 725.1 1288.8 725.2C1289.4 725.2 1291.3 723 1291.8 722.1C1292.3 721.3 1293.8 715.7 1294.3 715.1C1294.8 714.5 1297.3 714.8 1297.8 714.6C1298.4 714.4 1300.4 712.1 1300.8 712.6C1301.3 713.1 1302.8 720 1303.3 720.1C1303.8 720.3 1306.3 714.1 1306.9 714.1C1307.4 714.1 1309.3 720.2 1309.9 720.1C1310.5 720.1 1313.3 714.4 1313.9 713.6C1314.5 712.8 1316.3 711.1 1316.9 710.1C1317.4 709.1 1319.9 703.1 1320.4 702.1C1320.9 701 1322.5 697.9 1322.9 697.6C1323.4 697.2 1324.9 697.7 1325.5 698.1C1326 698.4 1328.4 701.3 1329 701.6C1329.5 701.9 1331.5 702.5 1332 701.6C1332.5 700.7 1334.5 691 1335 690.5C1335.5 690.1 1337.5 695.2 1338 696.1C1338.5 696.9 1340.1 700.2 1340.5 701.1C1340.9 701.9 1342.6 705.4 1343 706.1C1343.4 706.8 1345.1 709.4 1345.5 709.6C1345.9 709.8 1347.4 708.3 1348 708.6C1348.6 708.8 1352 711.9 1352.5 712.6C1353.1 713.3 1354.1 716.4 1354.5 717.1C1355 717.8 1357.1 720.4 1357.6 721.1C1358 721.8 1359.1 725.2 1359.6 725.7C1360 726.1 1362.1 726.3 1362.6 726.7C1363 727 1364.7 729.8 1365.1 730.2C1365.5 730.5 1367.1 730.8 1367.6 731.2C1368.1 731.6 1370 734.5 1370.6 735.2C1371.2 735.9 1374 739.3 1374.6 739.7C1375.2 740.1 1377.1 739.4 1377.6 739.7C1378.2 740 1380.6 743 1381.1 743.2C1381.6 743.5 1383.1 742.4 1383.6 742.7C1384.2 743 1387.6 746.5 1388.2 746.7C1388.7 746.9 1389.8 744.9 1390.2 745.2C1390.5 745.5 1392.3 749.9 1392.7 750.2C1393.1 750.6 1394.3 749.6 1394.7 749.7C1395 749.8 1396.5 752.1 1396.9 751.4C1397.3 750.7 1398.8 742.6 1399.2 741.2C1399.6 739.8 1400.8 735.2 1401.2 734.7C1401.6 734.2 1403.1 735.2 1403.4 735.5C1403.8 735.7 1405.4 737.3 1405.8 737.5C1406.1 737.6 1407.5 737 1407.8 737.1C1408.1 737.3 1409.4 739.4 1409.8 739.5C1410.2 739.6 1412.1 738.4 1412.5 738.5C1412.9 738.5 1414.1 739.5 1414.5 740.1C1414.8 740.8 1416.1 745.7 1416.5 746.2C1416.9 746.7 1418.7 745.9 1419.2 746.2C1419.6 746.4 1421.5 749.2 1421.8 749.5C1422.2 749.8 1423.2 750.2 1423.5 749.8C1423.8 749.4 1425.5 745.7 1425.8 744.8C1426.2 744 1427.5 739.2 1427.9 739.5C1428.2 739.7 1429.7 747.6 1430.2 748.2C1430.6 748.7 1432.7 746 1433.2 746.2C1433.7 746.3 1436 750 1436.5 749.8C1437 749.7 1438.8 745.1 1439.2 744.1C1439.7 743.2 1441.5 738.9 1441.9 738.1C1442.3 737.4 1443.2 735.3 1443.6 735.5C1443.9 735.6 1445.4 739.9 1445.9 740.1C1446.4 740.4 1448.8 738.9 1449.3 738.8C1449.7 738.7 1450.9 739.2 1451.3 738.8C1451.7 738.4 1453.5 734.6 1453.9 734.1C1454.4 733.6 1456.2 733.4 1456.6 732.8C1457.1 732.2 1458.9 727.2 1459.3 726.8C1459.7 726.3 1460.9 727.8 1461.3 727.8C1461.7 727.8 1463.6 727.5 1464 726.8C1464.3 726.1 1465.4 720.2 1465.6 719.4C1465.9 718.6 1466.4 717.1 1466.6 717.1C1466.9 717 1468.3 718.5 1468.7 719.1C1469 719.6 1470.3 723.4 1470.7 724.1C1471 724.8 1472.3 727.5 1472.7 727.4C1473.1 727.3 1475 723.1 1475.3 722.7C1475.7 722.4 1476.7 722.6 1477 722.7C1477.3 722.9 1479 725.2 1479.4 724.7C1479.7 724.3 1480.5 718.3 1480.7 717.4C1480.9 716.4 1481.4 713.1 1481.7 713.4C1481.9 713.7 1483.5 720.1 1483.7 720.7" fill="none" stroke="#000000" stroke-width="2.1" stroke-linejoin="round" clip-path="url(#clip22)"/>
<path d="M1032.2 729.7C1032.5 730 1034.4 732.1 1034.9 732.8C1035.4 733.5 1037.4 737.5 1038 738.2C1038.6 738.9 1041.4 741.2 1042 741.3C1042.7 741.4 1045.1 740 1045.6 739.5C1046.2 739 1048.3 736.1 1048.7 735.5C1049.2 734.9 1050.7 732.9 1051 731.9C1051.3 731 1052.1 724.9 1052.3 723.9C1052.5 722.9 1052.6 720.2 1053 720.1C1053.3 720.1 1055.9 723.2 1056.5 723.1C1057.1 723.1 1059.9 720 1060.5 719.6C1061.1 719.3 1063 719.1 1063.5 718.6C1064 718.2 1066.1 714.3 1066.5 714.1C1067 713.9 1068.7 716.5 1069 716.6C1069.4 716.7 1070.7 715.2 1071 715.6C1071.4 716 1073 721.1 1073.5 721.6C1074.1 722.2 1076.9 722.4 1077.6 722.6C1078.2 722.9 1081 724.7 1081.6 724.6C1082.2 724.6 1084 722.7 1084.6 722.1C1085.2 721.6 1087.9 717.7 1088.6 717.6C1089.3 717.5 1092.5 721.4 1093.1 721.1C1093.7 720.8 1095.2 715.1 1095.6 714.1C1096 713.2 1097.2 709.5 1097.6 709.6C1098 709.7 1100.2 714.3 1100.6 715.1C1101.1 716 1102.1 719.5 1102.6 719.6C1103.1 719.7 1106 716.2 1106.7 716.1C1107.3 716 1110 717.7 1110.7 718.1C1111.3 718.5 1114.1 720.6 1114.7 721.1C1115.3 721.7 1117.2 724.4 1117.7 724.6C1118.2 724.9 1120.2 723.6 1120.7 723.6C1121.2 723.7 1123.7 725.7 1124.2 725.7C1124.8 725.6 1126.7 723.9 1127.2 723.1C1127.7 722.3 1129.8 717.6 1130.2 716.1C1130.7 714.6 1132.3 706.5 1132.7 705.1C1133.2 703.7 1135.2 699.6 1135.8 699.1C1136.3 698.5 1138.7 698.1 1139.3 698.6C1139.8 699 1141.8 704.6 1142.3 704.1C1142.7 703.5 1144.4 693.3 1144.8 692C1145.2 690.8 1146.5 688.3 1146.8 689C1147.1 689.8 1148.3 700.1 1148.8 701.1C1149.3 702 1152.6 700.4 1153.3 700.6C1154 700.7 1156.7 701.9 1157.3 702.6C1158 703.2 1160.3 707.3 1160.8 708.1C1161.4 708.9 1163.3 711.3 1163.8 712.1C1164.3 712.9 1166.4 717.2 1166.9 718.1C1167.4 719 1169.4 722.4 1169.9 723.1C1170.4 723.9 1172.4 726.1 1172.9 726.7C1173.4 727.2 1175.3 729.6 1175.9 730.2C1176.5 730.8 1179.6 732.9 1180.4 733.7C1181.2 734.4 1184.7 738.4 1185.5 739.2C1186.2 740 1188.9 742.4 1189.5 743.2C1190 744 1191.6 748.4 1192 749.2C1192.3 750.1 1193.6 753.7 1194 753.7C1194.3 753.8 1195.7 751.4 1196 750.2C1196.3 749.1 1197.2 742.4 1197.5 740.2C1197.8 738 1199.2 726.3 1199.5 724.1C1199.8 722 1201.1 715.1 1201.5 714.1C1201.9 713.2 1204.1 712.3 1204.5 712.6C1205 712.9 1206.5 717.2 1207 718.1C1207.5 719 1209.9 723.1 1210.5 723.6C1211.2 724.2 1214 724.9 1214.5 725.2C1215.1 725.4 1217.1 725.8 1217.6 726.2C1218.1 726.5 1220.1 729 1220.6 729.2C1221.1 729.3 1223 728.5 1223.6 728.2C1224.2 727.9 1227 725.5 1227.6 725.7C1228.2 725.8 1230.1 729.4 1230.6 730.2C1231.1 730.9 1233.5 734 1234.1 734.7C1234.7 735.4 1237.1 737.4 1237.6 738.2C1238.2 739 1240.2 744.1 1240.6 744.2C1241.1 744.3 1242.3 739.5 1242.6 739.2C1243 738.9 1244.7 740.5 1245.1 740.2C1245.6 739.9 1247.2 736.6 1247.7 736.2C1248.1 735.7 1249.8 734.7 1250.2 734.7C1250.5 734.6 1251.7 736.3 1252.2 735.7C1252.6 735.1 1255.2 728.2 1255.7 727.7C1256.1 727.1 1257.3 729.5 1257.7 729.2C1258.1 728.8 1260.3 724 1260.7 723.6C1261.1 723.3 1262.2 725.2 1262.7 725.2C1263.2 725.1 1266.1 722.7 1266.7 722.6C1267.3 722.6 1269.3 724.5 1269.7 724.1C1270.1 723.8 1271.3 718.4 1271.7 718.1C1272.2 717.9 1274.2 720.7 1274.7 721.1C1275.3 721.6 1277.8 723.2 1278.3 723.1C1278.8 723.1 1280.2 720.8 1280.8 720.6C1281.3 720.5 1284.1 721.3 1284.8 721.6C1285.5 722 1288.2 725.1 1288.8 725.2C1289.4 725.2 1291.3 723 1291.8 722.1C1292.3 721.3 1293.8 715.7 1294.3 715.1C1294.8 714.5 1297.3 714.8 1297.8 714.6C1298.4 714.4 1300.4 712.1 1300.8 712.6C1301.3 713.1 1302.8 720 1303.3 720.1C1303.8 720.3 1306.3 714.1 1306.9 714.1C1307.4 714.1 1309.3 720.2 1309.9 720.1C1310.5 720.1 1313.3 714.4 1313.9 713.6C1314.5 712.8 1316.3 711.1 1316.9 710.1C1317.4 709.1 1319.9 703.1 1320.4 702.1C1320.9 701 1322.5 697.9 1322.9 697.6C1323.4 697.2 1324.9 697.7 1325.5 698.1C1326 698.4 1328.4 701.3 1329 701.6C1329.5 701.9 1331.5 702.5 1332 701.6C1332.5 700.7 1334.5 691 1335 690.5C1335.5 690.1 1337.5 695.2 1338 696.1C1338.5 696.9 1340.1 700.2 1340.5 701.1C1340.9 701.9 1342.6 705.4 1343 706.1C1343.4 706.8 1345.1 709.4 1345.5 709.6C1345.9 709.8 1347.4 708.3 1348 708.6C1348.6 708.8 1352 711.9 1352.5 712.6C1353.1 713.3 1354.6 715.9 1355.1 716.6C1355.5 717.3 1357.4 720.2 1358.1 720.6C1358.7 721 1362.4 721.3 1363.1 721.6C1363.7 721.9 1365.7 724 1366.1 724.1C1366.5 724.2 1367.6 722.6 1368.1 722.6C1368.6 722.7 1371.3 724.3 1372.1 724.6C1372.9 724.9 1377.2 725.8 1378.1 726.1C1379 726.4 1382.2 727.8 1383.1 728.1C1384.1 728.5 1388.3 729.8 1389.2 730.1C1390 730.5 1392.5 732.3 1393.2 732.6C1393.8 733 1396.6 734.9 1397.2 734.6C1397.7 734.4 1399.3 730.8 1399.7 730.1C1400.1 729.5 1401 727.2 1401.4 727.1C1401.8 727.1 1403.6 729.3 1404.2 729.6C1404.8 729.9 1407.7 730.3 1408.2 730.6C1408.8 731 1410.3 733.4 1410.7 733.6C1411.2 733.9 1412.8 732.9 1413.2 733.1C1413.7 733.4 1415.8 736.2 1416.3 736.7C1416.8 737.2 1418.7 738.7 1419.3 739.2C1419.8 739.7 1422.7 742.6 1423.3 742.7C1423.8 742.8 1425.4 740.6 1425.8 740.2C1426.2 739.7 1427.9 736.8 1428.3 737.2C1428.7 737.5 1429.8 743.7 1430.3 744.2C1430.8 744.6 1433.7 742.6 1434.3 742.7C1434.9 742.8 1436.9 745.1 1437.3 745.2C1437.7 745.3 1438.8 744.7 1439.2 744.1C1439.6 743.6 1441.5 738.9 1441.9 738.1C1442.3 737.4 1443.2 735.3 1443.6 735.5C1443.9 735.6 1445.4 739.9 1445.9 740.1C1446.4 740.4 1448.8 738.9 1449.3 738.8C1449.7 738.7 1450.9 739.2 1451.3 738.8C1451.7 738.4 1453.5 734.6 1453.9 734.1C1454.4 733.6 1456.2 733.4 1456.6 732.8C1457.1 732.2 1458.9 727.2 1459.3 726.8C1459.7 726.3 1460.9 727.8 1461.3 727.8C1461.7 727.8 1463.6 727.5 1464 726.8C1464.3 726.1 1465.4 720.2 1465.6 719.4C1465.9 718.6 1466.4 717.1 1466.6 717.1C1466.9 717 1468.3 718.5 1468.7 719.1C1469 719.6 1470.3 723.4 1470.7 724.1C1471 724.8 1472.3 727.5 1472.7 727.4C1473.1 727.3 1475 723.1 1475.3 722.7C1475.7 722.4 1476.7 722.6 1477 722.7C1477.3 722.9 1479 725.2 1479.4 724.7C1479.7 724.3 1480.5 718.3 1480.7 717.4C1480.9 716.4 1481.4 713.1 1481.7 713.4C1481.9 713.7 1483.5 720.1 1483.7 720.7" fill="none" stroke="#1f77b4" stroke-width="2.1" stroke-linejoin="round" clip-path="url(#clip22)"/>
<path d="M1032.2 733.7C1032.5 734.1 1034.8 737.7 1035.4 738.6C1035.9 739.5 1038.4 743.7 1038.9 744.4C1039.5 745.1 1041.6 747.1 1042 747.1C1042.5 747.1 1044.2 745.5 1044.7 744.9C1045.2 744.3 1047.3 740.9 1047.8 740C1048.4 739 1050.6 735 1051 733.7C1051.3 732.4 1052.1 725.5 1052.3 724.3C1052.5 723.2 1052.6 720.2 1053 720.1C1053.3 720 1055.9 723.2 1056.5 723.1C1057.1 723.1 1059.9 720 1060.5 719.6C1061.1 719.3 1063 719.1 1063.5 718.6C1064 718.2 1066.1 714.3 1066.5 714.1C1067 713.9 1068.7 716.5 1069 716.6C1069.4 716.7 1070.7 715.2 1071 715.6C1071.4 716 1073 721.1 1073.5 721.6C1074.1 722.2 1076.9 722.4 1077.6 722.6C1078.2 722.9 1081 724.7 1081.6 724.6C1082.2 724.6 1084 722.7 1084.6 722.1C1085.2 721.6 1087.9 717.7 1088.6 717.6C1089.3 717.5 1092.5 721.4 1093.1 721.1C1093.7 720.8 1095.2 715.1 1095.6 714.1C1096 713.2 1097.2 709.5 1097.6 709.6C1098 709.7 1100.2 714.3 1100.6 715.1C1101.1 716 1102.1 719.5 1102.6 719.6C1103.1 719.7 1106 716.2 1106.7 716.1C1107.3 716 1110 717.7 1110.7 718.1C1111.3 718.5 1114.1 720.6 1114.7 721.1C1115.3 721.7 1117.2 724.4 1117.7 724.6C1118.2 724.9 1120.2 723.6 1120.7 723.6C1121.2 723.7 1123.7 725.7 1124.2 725.7C1124.8 725.6 1126.7 723.9 1127.2 723.1C1127.7 722.3 1129.8 717.6 1130.2 716.1C1130.7 714.6 1132.3 706.5 1132.7 705.1C1133.2 703.7 1135.2 699.6 1135.8 699.1C1136.3 698.5 1138.7 698.1 1139.3 698.6C1139.8 699 1141.8 704.6 1142.3 704.1C1142.7 703.5 1144.4 693.3 1144.8 692C1145.2 690.8 1146.5 688.3 1146.8 689C1147.1 689.8 1148.3 700.1 1148.8 701.1C1149.3 702 1152.6 700.4 1153.3 700.6C1154 700.7 1156.7 701.9 1157.3 702.6C1158 703.2 1160.3 707.3 1160.8 708.1C1161.4 708.9 1163.3 711.3 1163.8 712.1C1164.3 712.9 1166.4 717.2 1166.9 718.1C1167.4 719 1169.4 722.4 1169.9 723.1C1170.4 723.9 1172.4 726.1 1172.9 726.7C1173.4 727.2 1175.3 729.6 1175.9 730.2C1176.5 730.8 1179.6 732.9 1180.4 733.7C1181.2 734.4 1184.7 738.4 1185.5 739.2C1186.2 740 1188.9 742.4 1189.5 743.2C1190 744 1191.6 748.4 1192 749.2C1192.3 750.1 1193.6 753.7 1194 753.7C1194.3 753.8 1195.7 751.4 1196 750.2C1196.3 749.1 1197.2 742.4 1197.5 740.2C1197.8 738 1199.2 726.3 1199.5 724.1C1199.8 722 1201.1 715.1 1201.5 714.1C1201.9 713.2 1204.1 712.3 1204.5 712.6C1205 712.9 1206.5 717.2 1207 718.1C1207.5 719 1209.9 723.1 1210.5 723.6C1211.2 724.2 1214 724.9 1214.5 725.2C1215.1 725.4 1217.1 725.8 1217.6 726.2C1218.1 726.5 1220.1 729 1220.6 729.2C1221.1 729.3 1223 728.5 1223.6 728.2C1224.2 727.9 1227 725.5 1227.6 725.7C1228.2 725.8 1230.1 729.4 1230.6 730.2C1231.1 730.9 1233.5 734 1234.1 734.7C1234.7 735.4 1237.1 737.4 1237.6 738.2C1238.2 739 1240.2 744.1 1240.6 744.2C1241.1 744.3 1242.3 739.5 1242.6 739.2C1243 738.9 1244.7 740.5 1245.1 740.2C1245.6 739.9 1247.2 736.6 1247.7 736.2C1248.1 735.7 1249.8 734.7 1250.2 734.7C1250.5 734.6 1251.7 736.3 1252.2 735.7C1252.6 735.1 1255.2 728.2 1255.7 727.7C1256.1 727.1 1257.3 729.5 1257.7 729.2C1258.1 728.8 1260.3 724 1260.7 723.6C1261.1 723.3 1262.2 725.2 1262.7 725.2C1263.2 725.1 1266.1 722.7 1266.7 722.6C1267.3 722.6 1269.3 724.5 1269.7 724.1C1270.1 723.8 1271.3 718.4 1271.7 718.1C1272.2 717.9 1274.2 720.7 1274.7 721.1C1275.3 721.6 1277.8 723.2 1278.3 723.1C1278.8 723.1 1280.2 720.8 1280.8 720.6C1281.3 720.5 1284.1 721.3 1284.8 721.6C1285.5 722 1288.2 725.1 1288.8 725.2C1289.4 725.2 1291.3 723 1291.8 722.1C1292.3 721.3 1293.8 715.7 1294.3 715.1C1294.8 714.5 1297.3 714.8 1297.8 714.6C1298.4 714.4 1300.4 712.1 1300.8 712.6C1301.3 713.1 1302.8 720 1303.3 720.1C1303.8 720.3 1306.3 714.1 1306.9 714.1C1307.4 714.1 1309.3 720.2 1309.9 720.1C1310.5 720.1 1313.3 714.4 1313.9 713.6C1314.5 712.8 1316.3 711.1 1316.9 710.1C1317.4 709.1 1319.9 703.1 1320.4 702.1C1320.9 701 1322.5 697.9 1322.9 697.6C1323.4 697.2 1324.9 697.7 1325.5 698.1C1326 698.4 1328.4 701.3 1329 701.6C1329.5 701.9 1331.5 702.5 1332 701.6C1332.5 700.7 1334.5 691 1335 690.5C1335.5 690.1 1337.5 695.2 1338 696.1C1338.5 696.9 1340.1 700.2 1340.5 701.1C1340.9 701.9 1342.6 705.4 1343 706.1C1343.4 706.8 1345.1 709.4 1345.5 709.6C1345.9 709.8 1347.4 708.3 1348 708.6C1348.6 708.8 1352 711.9 1352.5 712.6C1353.1 713.3 1354.1 716.4 1354.5 717.1C1355 717.8 1357.1 720.4 1357.6 721.1C1358 721.8 1359.1 725.2 1359.6 725.7C1360 726.1 1362.1 726.3 1362.6 726.7C1363 727 1364.7 729.8 1365.1 730.2C1365.5 730.5 1367.1 730.8 1367.6 731.2C1368.1 731.6 1370 734.5 1370.6 735.2C1371.2 735.9 1374 739.3 1374.6 739.7C1375.2 740.1 1377.1 739.4 1377.6 739.7C1378.2 740 1380.6 743 1381.1 743.2C1381.6 743.5 1383.1 742.4 1383.6 742.7C1384.2 743 1387.6 746.5 1388.2 746.7C1388.7 746.9 1389.8 744.9 1390.2 745.2C1390.5 745.5 1392.3 749.9 1392.7 750.2C1393.1 750.6 1394.3 749.6 1394.7 749.7C1395 749.8 1396.5 752.1 1396.9 751.4C1397.3 750.7 1398.8 742.6 1399.2 741.2C1399.6 739.8 1400.8 735.2 1401.2 734.7C1401.6 734.2 1403.1 735.2 1403.4 735.5C1403.8 735.7 1405.4 737.3 1405.8 737.5C1406.1 737.6 1407.5 737 1407.8 737.1C1408.1 737.3 1409.4 739.4 1409.8 739.5C1410.2 739.6 1412.1 738.4 1412.5 738.5C1412.9 738.5 1414.1 739.5 1414.5 740.1C1414.8 740.8 1416.1 745.7 1416.5 746.2C1416.9 746.7 1418.7 745.9 1419.2 746.2C1419.6 746.4 1421.5 749.2 1421.8 749.5C1422.2 749.8 1423.2 750.2 1423.5 749.8C1423.8 749.4 1425.5 745.7 1425.8 744.8C1426.2 744 1427.5 739.2 1427.9 739.5C1428.2 739.7 1429.7 747.6 1430.2 748.2C1430.6 748.7 1432.7 746 1433.2 746.2C1433.7 746.3 1436 750 1436.5 749.8C1437 749.7 1438.8 745.1 1439.2 744.1C1439.7 743.2 1441.5 738.9 1441.9 738.1C1442.3 737.4 1443.2 735.3 1443.6 735.5C1443.9 735.6 1445.4 739.9 1445.9 740.1C1446.4 740.4 1448.8 738.9 1449.3 738.8C1449.7 738.7 1450.9 739.2 1451.3 738.8C1451.7 738.4 1453.5 734.6 1453.9 734.1C1454.4 733.6 1456.2 733.4 1456.6 732.8C1457.1 732.2 1458.9 727.2 1459.3 726.8C1459.7 726.3 1460.9 727.8 1461.3 727.8C1461.7 727.8 1463.6 727.5 1464 726.8C1464.3 726.1 1465.4 720.2 1465.6 719.4C1465.9 718.6 1466.4 717.1 1466.6 717.1C1466.9 717 1468.3 718.5 1468.7 719.1C1469 719.6 1470.3 723.4 1470.7 724.1C1471 724.8 1472.3 727.5 1472.7 727.4C1473.1 727.3 1475 723.1 1475.3 722.7C1475.7 722.4 1476.7 722.6 1477 722.7C1477.3 722.9 1479 725.2 1479.4 724.7C1479.7 724.3 1480.5 718.3 1480.7 717.4C1480.9 716.4 1481.4 713.1 1481.7 713.4C1481.9 713.7 1483.5 720.1 1483.7 720.7" fill="none" stroke="#ff7f0e" stroke-width="2.1" stroke-linejoin="round" stroke-dasharray="7.77 3.36" clip-path="url(#clip22)"/>
<path d="M1031.8 734.7C1032 735.1 1033.9 739.1 1034.4 740.2C1034.9 741.3 1036.8 747.1 1037.4 748.2C1038 749.3 1040.8 753.2 1041.4 753.2C1042.1 753.2 1044.8 749.4 1045.5 748.2C1046.1 747.1 1049 740.5 1049.5 739.2C1050 737.9 1051.2 733.8 1051.5 732.2C1051.8 730.6 1052.6 720.9 1053 720.1C1053.4 719.4 1055.9 723.2 1056.5 723.1C1057.1 723.1 1059.9 720 1060.5 719.6C1061.1 719.3 1063 719.1 1063.5 718.6C1064 718.2 1066.1 714.3 1066.5 714.1C1067 713.9 1068.7 716.5 1069 716.6C1069.4 716.7 1070.7 715.2 1071 715.6C1071.4 716 1073 721.1 1073.5 721.6C1074.1 722.2 1076.9 722.4 1077.6 722.6C1078.2 722.9 1081 724.7 1081.6 724.6C1082.2 724.6 1084 722.7 1084.6 722.1C1085.2 721.6 1087.9 717.7 1088.6 717.6C1089.3 717.5 1092.5 721.4 1093.1 721.1C1093.7 720.8 1095.2 715.1 1095.6 714.1C1096 713.2 1097.2 709.5 1097.6 709.6C1098 709.7 1100.2 714.3 1100.6 715.1C1101.1 716 1102.1 719.5 1102.6 719.6C1103.1 719.7 1106 716.2 1106.7 716.1C1107.3 716 1110 717.7 1110.7 718.1C1111.3 718.5 1114.1 720.6 1114.7 721.1C1115.3 721.7 1117.2 724.4 1117.7 724.6C1118.2 724.9 1120.2 723.6 1120.7 723.6C1121.2 723.7 1123.7 725.7 1124.2 725.7C1124.8 725.6 1126.7 723.9 1127.2 723.1C1127.7 722.3 1129.8 717.6 1130.2 716.1C1130.7 714.6 1132.3 706.5 1132.7 705.1C1133.2 703.7 1135.2 699.6 1135.8 699.1C1136.3 698.5 1138.7 698.1 1139.3 698.6C1139.8 699 1141.8 704.6 1142.3 704.1C1142.7 703.5 1144.4 693.3 1144.8 692C1145.2 690.8 1146.5 688.3 1146.8 689C1147.1 689.8 1148.3 700.1 1148.8 701.1C1149.3 702 1152.6 700.4 1153.3 700.6C1154 700.7 1156.7 701.9 1157.3 702.6C1158 703.2 1160.3 707.3 1160.8 708.1C1161.4 708.9 1163.3 711.3 1163.8 712.1C1164.3 712.9 1166.4 717.2 1166.9 718.1C1167.4 719 1169.4 722.4 1169.9 723.1C1170.4 723.9 1172.4 726.1 1172.9 726.7C1173.4 727.2 1175.3 729.6 1175.9 730.2C1176.5 730.8 1179.6 732.9 1180.4 733.7C1181.2 734.4 1184.7 738.4 1185.5 739.2C1186.2 740 1188.9 742.4 1189.5 743.2C1190 744 1191.6 748.4 1192 749.2C1192.3 750.1 1193.6 753.7 1194 753.7C1194.3 753.8 1195.7 751.4 1196 750.2C1196.3 749.1 1197.2 742.4 1197.5 740.2C1197.8 738 1199.2 726.3 1199.5 724.1C1199.8 722 1201.1 715.1 1201.5 714.1C1201.9 713.2 1204.1 712.3 1204.5 712.6C1205 712.9 1206.5 717.2 1207 718.1C1207.5 719 1209.9 723.1 1210.5 723.6C1211.2 724.2 1214 724.9 1214.5 725.2C1215.1 725.4 1217.1 725.8 1217.6 726.2C1218.1 726.5 1220.1 729 1220.6 729.2C1221.1 729.3 1223 728.5 1223.6 728.2C1224.2 727.9 1227 725.5 1227.6 725.7C1228.2 725.8 1230.1 729.4 1230.6 730.2C1231.1 730.9 1233.5 734 1234.1 734.7C1234.7 735.4 1237.1 737.4 1237.6 738.2C1238.2 739 1240.2 744.1 1240.6 744.2C1241.1 744.3 1242.3 739.5 1242.6 739.2C1243 738.9 1244.7 740.5 1245.1 740.2C1245.6 739.9 1247.2 736.6 1247.7 736.2C1248.1 735.7 1249.8 734.7 1250.2 734.7C1250.5 734.6 1251.7 736.3 1252.2 735.7C1252.6 735.1 1255.2 728.2 1255.7 727.7C1256.1 727.1 1257.3 729.5 1257.7 729.2C1258.1 728.8 1260.3 724 1260.7 723.6C1261.1 723.3 1262.2 725.2 1262.7 725.2C1263.2 725.1 1266.1 722.7 1266.7 722.6C1267.3 722.6 1269.3 724.5 1269.7 724.1C1270.1 723.8 1271.3 718.4 1271.7 718.1C1272.2 717.9 1274.2 720.7 1274.7 721.1C1275.3 721.6 1277.8 723.2 1278.3 723.1C1278.8 723.1 1280.2 720.8 1280.8 720.6C1281.3 720.5 1284.1 721.3 1284.8 721.6C1285.5 722 1288.2 725.1 1288.8 725.2C1289.4 725.2 1291.3 723 1291.8 722.1C1292.3 721.3 1293.8 715.7 1294.3 715.1C1294.8 714.5 1297.3 714.8 1297.8 714.6C1298.4 714.4 1300.4 712.1 1300.8 712.6C1301.3 713.1 1302.8 720 1303.3 720.1C1303.8 720.3 1306.3 714.1 1306.9 714.1C1307.4 714.1 1309.3 720.2 1309.9 720.1C1310.5 720.1 1313.3 714.4 1313.9 713.6C1314.5 712.8 1316.3 711.1 1316.9 710.1C1317.4 709.1 1319.9 703.1 1320.4 702.1C1320.9 701 1322.5 697.9 1322.9 697.6C1323.4 697.2 1324.9 697.7 1325.5 698.1C1326 698.4 1328.4 701.3 1329 701.6C1329.5 701.9 1331.5 702.5 1332 701.6C1332.5 700.7 1334.5 691 1335 690.5C1335.5 690.1 1337.5 695.2 1338 696.1C1338.5 696.9 1340.1 700.2 1340.5 701.1C1340.9 701.9 1342.6 705.4 1343 706.1C1343.4 706.8 1345.1 709.4 1345.5 709.6C1345.9 709.8 1347.4 708.3 1348 708.6C1348.6 708.8 1352 711.9 1352.5 712.6C1353.1 713.3 1354.1 716.4 1354.5 717.1C1355 717.8 1357.1 720.4 1357.6 721.1C1358 721.8 1359.1 725.2 1359.6 725.7C1360 726.1 1362.1 726.3 1362.6 726.7C1363 727 1364.7 729.8 1365.1 730.2C1365.5 730.5 1367.1 730.8 1367.6 731.2C1368.1 731.6 1370 734.5 1370.6 735.2C1371.2 735.9 1374 739.3 1374.6 739.7C1375.2 740.1 1377.1 739.4 1377.6 739.7C1378.2 740 1380.6 743 1381.1 743.2C1381.6 743.5 1383.1 742.4 1383.6 742.7C1384.2 743 1387.6 746.5 1388.2 746.7C1388.7 746.9 1389.8 744.9 1390.2 745.2C1390.5 745.5 1392.3 749.9 1392.7 750.2C1393.1 750.6 1394.3 749.6 1394.7 749.7C1395 749.8 1396.5 752.1 1396.9 751.4C1397.3 750.7 1398.8 742.6 1399.2 741.2C1399.6 739.8 1400.8 735.2 1401.2 734.7C1401.6 734.2 1403.1 735.2 1403.4 735.5C1403.8 735.7 1405.4 737.3 1405.8 737.5C1406.1 737.6 1407.5 737 1407.8 737.1C1408.1 737.3 1409.4 739.4 1409.8 739.5C1410.2 739.6 1412.1 738.4 1412.5 738.5C1412.9 738.5 1414.1 739.5 1414.5 740.1C1414.8 740.8 1416.1 745.7 1416.5 746.2C1416.9 746.7 1418.7 745.9 1419.2 746.2C1419.6 746.4 1421.5 749.2 1421.8 749.5C1422.2 749.8 1423.2 750.2 1423.5 749.8C1423.8 749.4 1425.5 745.7 1425.8 744.8C1426.2 744 1427.5 739.2 1427.9 739.5C1428.2 739.7 1429.7 747.6 1430.2 748.2C1430.6 748.7 1432.7 746 1433.2 746.2C1433.7 746.3 1436 750 1436.5 749.8C1437 749.7 1438.8 745.1 1439.2 744.1C1439.7 743.2 1441.5 738.9 1441.9 738.1C1442.3 737.4 1443.2 735.3 1443.6 735.5C1443.9 735.6 1445.4 739.9 1445.9 740.1C1446.4 740.4 1448.8 738.9 1449.3 738.8C1449.7 738.7 1450.9 739.2 1451.3 738.8C1451.7 738.4 1453.5 734.6 1453.9 734.1C1454.4 733.6 1456.2 733.4 1456.6 732.8C1457.1 732.2 1458.9 727.2 1459.3 726.8C1459.7 726.3 1460.9 727.8 1461.3 727.8C1461.7 727.8 1463.6 727.5 1464 726.8C1464.3 726.1 1465.4 720.2 1465.6 719.4C1465.9 718.6 1466.4 717.1 1466.6 717.1C1466.9 717 1468.3 718.5 1468.7 719.1C1469 719.6 1470.3 723.4 1470.7 724.1C1471 724.8 1472.3 727.5 1472.7 727.4C1473.1 727.3 1475 723.1 1475.3 722.7C1475.7 722.4 1476.7 722.6 1477 722.7C1477.3 722.9 1479 725.2 1479.4 724.7C1479.7 724.3 1480.5 718.3 1480.7 717.4C1480.9 716.4 1481.4 713.1 1481.7 713.4C1481.9 713.7 1483.5 720.1 1483.7 720.7" fill="none" stroke="#2ca02c" stroke-width="2.1" stroke-linejoin="round" stroke-dasharray="13.44 3.36 2.10 3.36" clip-path="url(#clip22)"/>
<path d="M1031.8 734.7C1032 735.1 1033.9 739.1 1034.4 740.2C1034.9 741.3 1036.8 747.1 1037.4 748.2C1038 749.3 1040.8 753.2 1041.4 753.2C1042.1 753.2 1044.8 749.4 1045.5 748.2C1046.1 747.1 1049 740.5 1049.5 739.2C1050 737.9 1051.2 733.8 1051.5 732.2C1051.8 730.6 1052.6 720.9 1053 720.1C1053.4 719.4 1055.9 723.2 1056.5 723.1C1057.1 723.1 1059.9 720 1060.5 719.6C1061.1 719.3 1063 719.1 1063.5 718.6C1064 718.2 1066.1 714.3 1066.5 714.1C1067 713.9 1068.7 716.5 1069 716.6C1069.4 716.7 1070.7 715.2 1071 715.6C1071.4 716 1073 721.1 1073.5 721.6C1074.1 722.2 1076.9 722.4 1077.6 722.6C1078.2 722.9 1081 724.7 1081.6 724.6C1082.2 724.6 1084 722.7 1084.6 722.1C1085.2 721.6 1087.9 717.7 1088.6 717.6C1089.3 717.5 1092.5 721.4 1093.1 721.1C1093.7 720.8 1095.2 715.1 1095.6 714.1C1096 713.2 1097.2 709.5 1097.6 709.6C1098 709.7 1100.2 714.3 1100.6 715.1C1101.1 716 1102.1 719.5 1102.6 719.6C1103.1 719.7 1106 716.2 1106.7 716.1C1107.3 716 1110 717.7 1110.7 718.1C1111.3 718.5 1114.1 720.6 1114.7 721.1C1115.3 721.7 1117.2 724.4 1117.7 724.6C1118.2 724.9 1120.2 723.6 1120.7 723.6C1121.2 723.7 1123.7 725.7 1124.2 725.7C1124.8 725.6 1126.7 723.9 1127.2 723.1C1127.7 722.3 1129.8 717.6 1130.2 716.1C1130.7 714.6 1132.3 706.5 1132.7 705.1C1133.2 703.7 1135.2 699.6 1135.8 699.1C1136.3 698.5 1138.7 698.1 1139.3 698.6C1139.8 699 1141.8 704.6 1142.3 704.1C1142.7 703.5 1144.4 693.3 1144.8 692C1145.2 690.8 1146.5 688.3 1146.8 689C1147.1 689.8 1148.3 700.1 1148.8 701.1C1149.3 702 1152.6 700.4 1153.3 700.6C1154 700.7 1156.7 701.9 1157.3 702.6C1158 703.2 1160.3 707.3 1160.8 708.1C1161.4 708.9 1163.3 711.3 1163.8 712.1C1164.3 712.9 1166.4 717.2 1166.9 718.1C1167.4 719 1169.4 722.4 1169.9 723.1C1170.4 723.9 1172.4 726.1 1172.9 726.7C1173.4 727.2 1175.3 729.6 1175.9 730.2C1176.5 730.8 1179.6 732.9 1180.4 733.7C1181.2 734.4 1184.7 738.4 1185.5 739.2C1186.2 740 1188.9 742.4 1189.5 743.2C1190 744 1191.6 748.4 1192 749.2C1192.3 750.1 1193.6 753.7 1194 753.7C1194.3 753.8 1195.7 751.4 1196 750.2C1196.3 749.1 1197.2 742.4 1197.5 740.2C1197.8 738 1199.2 726.3 1199.5 724.1C1199.8 722 1201.1 715.1 1201.5 714.1C1201.9 713.2 1204.1 712.3 1204.5 712.6C1205 712.9 1206.5 717.2 1207 718.1C1207.5 719 1209.9 723.1 1210.5 723.6C1211.2 724.2 1214 724.9 1214.5 725.2C1215.1 725.4 1217.1 725.8 1217.6 726.2C1218.1 726.5 1220.1 729 1220.6 729.2C1221.1 729.3 1223 728.5 1223.6 728.2C1224.2 727.9 1227 725.5 1227.6 725.7C1228.2 725.8 1230.1 729.4 1230.6 730.2C1231.1 730.9 1233.5 734 1234.1 734.7C1234.7 735.4 1237.1 737.4 1237.6 738.2C1238.2 739 1240.2 744.1 1240.6 744.2C1241.1 744.3 1242.3 739.5 1242.6 739.2C1243 738.9 1244.7 740.5 1245.1 740.2C1245.6 739.9 1247.2 736.6 1247.7 736.2C1248.1 735.7 1249.8 734.7 1250.2 734.7C1250.5 734.6 1251.7 736.3 1252.2 735.7C1252.6 735.1 1255.2 728.2 1255.7 727.7C1256.1 727.1 1257.3 729.5 1257.7 729.2C1258.1 728.8 1260.3 724 1260.7 723.6C1261.1 723.3 1262.2 725.2 1262.7 725.2C1263.2 725.1 1266.1 722.7 1266.7 722.6C1267.3 722.6 1269.3 724.5 1269.7 724.1C1270.1 723.8 1271.3 718.4 1271.7 718.1C1272.2 717.9 1274.2 720.7 1274.7 721.1C1275.3 721.6 1277.8 723.2 1278.3 723.1C1278.8 723.1 1280.2 720.8 1280.8 720.6C1281.3 720.5 1284.1 721.3 1284.8 721.6C1285.5 722 1288.2 725.1 1288.8 725.2C1289.4 725.2 1291.3 723 1291.8 722.1C1292.3 721.3 1293.8 715.7 1294.3 715.1C1294.8 714.5 1297.3 714.8 1297.8 714.6C1298.4 714.4 1300.4 712.1 1300.8 712.6C1301.3 713.1 1302.8 720 1303.3 720.1C1303.8 720.3 1306.3 714.1 1306.9 714.1C1307.4 714.1 1309.3 720.2 1309.9 720.1C1310.5 720.1 1313.3 714.4 1313.9 713.6C1314.5 712.8 1316.3 711.1 1316.9 710.1C1317.4 709.1 1319.9 703.1 1320.4 702.1C1320.9 701 1322.5 697.9 1322.9 697.6C1323.4 697.2 1324.9 697.7 1325.5 698.1C1326 698.4 1328.4 701.3 1329 701.6C1329.5 701.9 1331.5 702.5 1332 701.6C1332.5 700.7 1334.5 691 1335 690.5C1335.5 690.1 1337.5 695.2 1338 696.1C1338.5 696.9 1340.1 700.2 1340.5 701.1C1340.9 701.9 1342.6 705.4 1343 706.1C1343.4 706.8 1345.1 709.4 1345.5 709.6C1345.9 709.8 1347.4 708.3 1348 708.6C1348.6 708.8 1352 711.9 1352.5 712.6C1353.1 713.3 1354.1 716.4 1354.5 717.1C1355 717.8 1357.1 720.4 1357.6 721.1C1358 721.8 1359.1 725.2 1359.6 725.7C1360 726.1 1362.1 726.3 1362.6 726.7C1363 727 1364.7 729.8 1365.1 730.2C1365.5 730.5 1367.1 730.8 1367.6 731.2C1368.1 731.6 1370 734.5 1370.6 735.2C1371.2 735.9 1374 739.3 1374.6 739.7C1375.2 740.1 1377.1 739.4 1377.6 739.7C1378.2 740 1380.6 743 1381.1 743.2C1381.6 743.5 1383.1 742.4 1383.6 742.7C1384.2 743 1387.6 746.5 1388.2 746.7C1388.7 746.9 1389.8 744.9 1390.2 745.2C1390.5 745.5 1392.3 749.9 1392.7 750.2C1393.1 750.6 1394.3 749.6 1394.7 749.7C1395 749.8 1396.5 752.1 1396.9 751.4C1397.3 750.7 1398.8 742.6 1399.2 741.2C1399.6 739.8 1400.8 735.2 1401.2 734.7C1401.6 734.2 1403.1 735.2 1403.4 735.5C1403.8 735.7 1405.4 737.3 1405.8 737.5C1406.1 737.6 1407.5 737 1407.8 737.1C1408.1 737.3 1409.4 739.4 1409.8 739.5C1410.2 739.6 1412.1 738.4 1412.5 738.5C1412.9 738.5 1414.1 739.5 1414.5 740.1C1414.8 740.8 1416.1 745.7 1416.5 746.2C1416.9 746.7 1418.7 745.9 1419.2 746.2C1419.6 746.4 1421.5 749.2 1421.8 749.5C1422.2 749.8 1423.2 750.2 1423.5 749.8C1423.8 749.4 1425.5 745.7 1425.8 744.8C1426.2 744 1427.5 739.2 1427.9 739.5C1428.2 739.7 1429.7 747.6 1430.2 748.2C1430.6 748.7 1432.7 746 1433.2 746.2C1433.7 746.3 1436 750 1436.5 749.8C1437 749.7 1438.8 745.1 1439.2 744.1C1439.7 743.2 1441.5 738.9 1441.9 738.1C1442.3 737.4 1443.2 735.3 1443.6 735.5C1443.9 735.6 1445.4 739.9 1445.9 740.1C1446.4 740.4 1448.8 738.9 1449.3 738.8C1449.7 738.7 1450.9 739.2 1451.3 738.8C1451.7 738.4 1453.5 734.6 1453.9 734.1C1454.4 733.6 1456.2 733.4 1456.6 732.8C1457.1 732.2 1458.9 727.2 1459.3 726.8C1459.7 726.3 1460.9 727.8 1461.3 727.8C1461.7 727.8 1463.6 727.5 1464 726.8C1464.3 726.1 1465.4 720.2 1465.6 719.4C1465.9 718.6 1466.4 717.1 1466.6 717.1C1466.9 717 1468.3 718.5 1468.7 719.1C1469 719.6 1470.3 723.4 1470.7 724.1C1471 724.8 1472.3 727.5 1472.7 727.4C1473.1 727.3 1475 723.1 1475.3 722.7C1475.7 722.4 1476.7 722.6 1477 722.7C1477.3 722.9 1479 725.2 1479.4 724.7C1479.7 724.3 1480.5 718.3 1480.7 717.4C1480.9 716.4 1481.4 713.1 1481.7 713.4C1481.9 713.7 1483.5 720.1 1483.7 720.7" fill="none" stroke="#d62728" stroke-width="2.1" stroke-linejoin="round" stroke-dasharray="2.10 3.46" clip-path="url(#clip22)"/>
<rect x="1031.8" y="612.5" width="452" height="240.4" fill="none" stroke="#000" stroke-width="0.8"/>
<line x1="1031.8" y1="852.9" x2="1031.8" y2="856.5" stroke="#000" stroke-width="0.8"/>
<line x1="1122.76" y1="852.9" x2="1122.76" y2="856.5" stroke="#000" stroke-width="0.8"/>
<line x1="1187.29" y1="852.9" x2="1187.29" y2="856.5" stroke="#000" stroke-width="0.8"/>
<line x1="1237.35" y1="852.9" x2="1237.35" y2="856.5" stroke="#000" stroke-width="0.8"/>
<line x1="1278.25" y1="852.9" x2="1278.25" y2="856.5" stroke="#000" stroke-width="0.8"/>
<line x1="1342.79" y1="852.9" x2="1342.79" y2="856.5" stroke="#000" stroke-width="0.8"/>
<line x1="1392.84" y1="852.9" x2="1392.84" y2="856.5" stroke="#000" stroke-width="0.8"/>
<line x1="1483.8" y1="852.9" x2="1483.8" y2="856.5" stroke="#000" stroke-width="0.8"/>
<line x1="1312.83" y1="852.9" x2="1312.83" y2="854.9" stroke="#000" stroke-width="0.6"/>
<line x1="1369.21" y1="852.9" x2="1369.21" y2="854.9" stroke="#000" stroke-width="0.6"/>
<line x1="1028.2" y1="852.9" x2="1031.8" y2="852.9" stroke="#000" stroke-width="0.8"/>
<line x1="1028.2" y1="804.82" x2="1031.8" y2="804.82" stroke="#000" stroke-width="0.8"/>
<line x1="1028.2" y1="756.74" x2="1031.8" y2="756.74" stroke="#000" stroke-width="0.8"/>
<line x1="1028.2" y1="708.66" x2="1031.8" y2="708.66" stroke="#000" stroke-width="0.8"/>
<line x1="1028.2" y1="660.58" x2="1031.8" y2="660.58" stroke="#000" stroke-width="0.8"/>
<line x1="1028.2" y1="612.5" x2="1031.8" y2="612.5" stroke="#000" stroke-width="0.8"/>
<text x="1031.8" y="869.1" font-size="12.7" font-weight="bold" text-anchor="middle" fill="#000" >2</text>
<text x="1122.76" y="869.1" font-size="12.7" font-weight="bold" text-anchor="middle" fill="#000" >3</text>
<text x="1187.29" y="869.1" font-size="12.7" font-weight="bold" text-anchor="middle" fill="#000" >4</text>
<text x="1237.35" y="869.1" font-size="12.7" font-weight="bold" text-anchor="middle" fill="#000" >5</text>
<text x="1278.25" y="869.1" font-size="12.7" font-weight="bold" text-anchor="middle" fill="#000" >6</text>
<text x="1342.79" y="869.1" font-size="12.7" font-weight="bold" text-anchor="middle" fill="#000" >8</text>
<text x="1392.84" y="869.1" font-size="12.7" font-weight="bold" text-anchor="middle" fill="#000" >10</text>
<text x="1483.8" y="869.1" font-size="12.7" font-weight="bold" text-anchor="middle" fill="#000" >15</text>
<text x="1257.8" y="885.9" font-size="12.55" font-weight="bold" text-anchor="middle" fill="#000" ><tspan font-style="italic" font-weight="normal">λ</tspan> (<tspan font-style="italic" font-weight="normal">μ</tspan>m)</text>
</svg>
</body></html>
